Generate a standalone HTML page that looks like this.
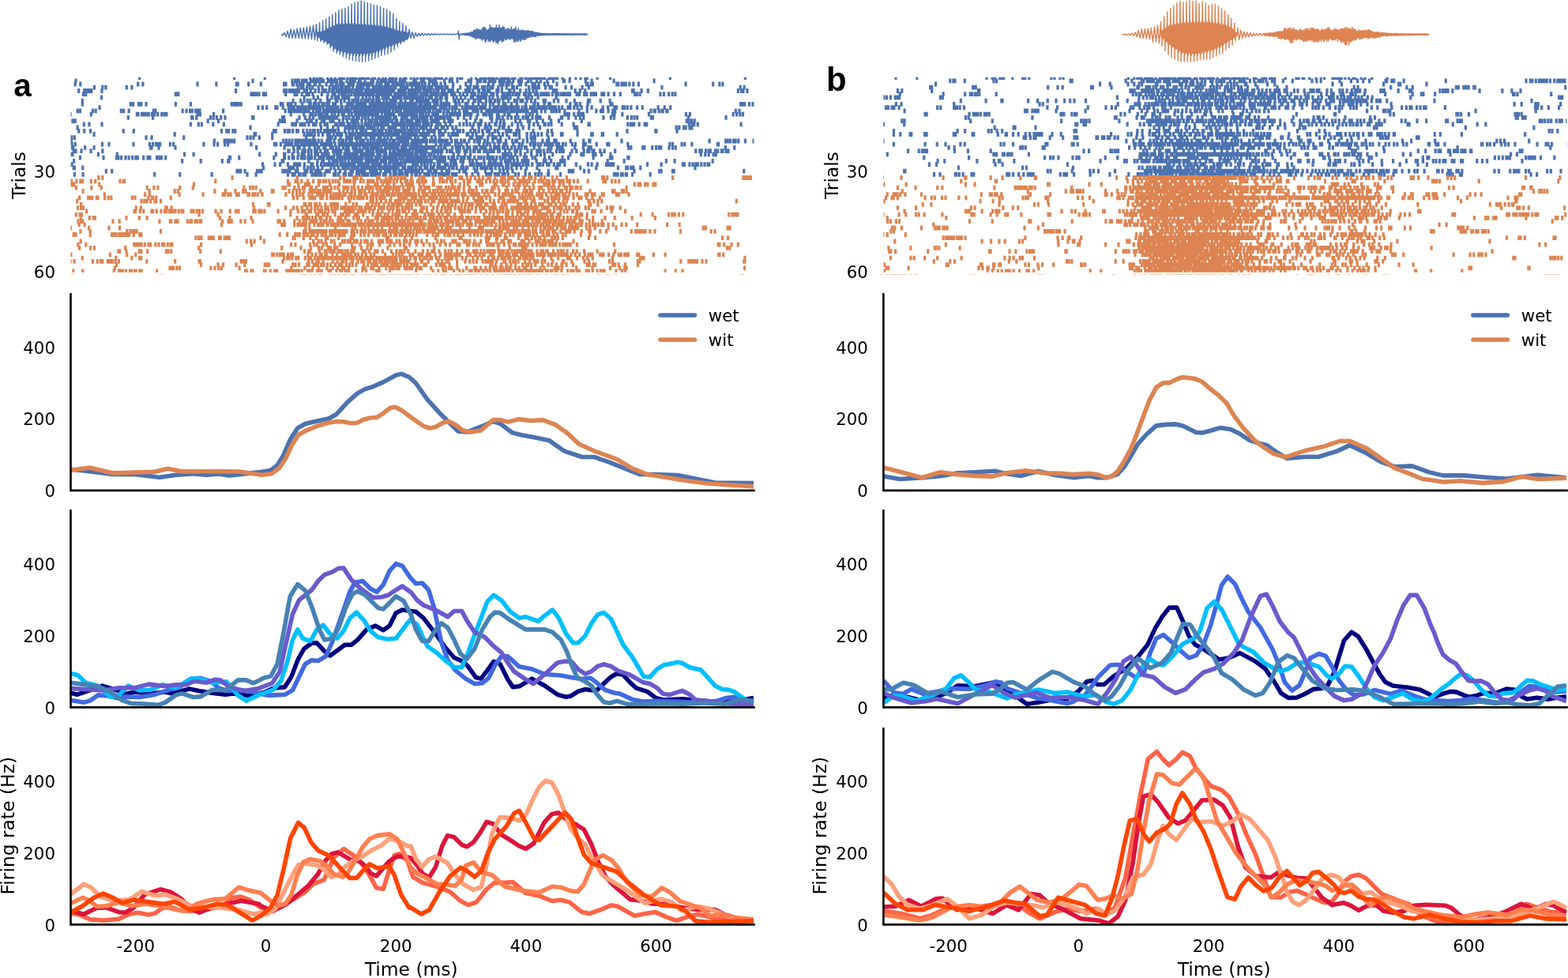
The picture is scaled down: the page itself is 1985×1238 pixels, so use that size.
<!DOCTYPE html><html><head><meta charset="utf-8"><title>Figure</title><style>html,body{margin:0;padding:0;background:#fff;}svg{display:block;}</style></head><body><svg width="1985" height="1238" viewBox="0 0 1985 1238"><defs><clipPath id="ca3"><rect x="89.5" y="369.4" width="865" height="251.5"/></clipPath><clipPath id="ca4"><rect x="89.5" y="643.4" width="865" height="252"/></clipPath><clipPath id="ca5"><rect x="89.5" y="919.2" width="865" height="251.2"/></clipPath><clipPath id="ra"><rect x="89.5" y="97.75" width="865" height="246.95"/></clipPath><clipPath id="cb3"><rect x="1118.4" y="369.4" width="865.1" height="251.5"/></clipPath><clipPath id="cb4"><rect x="1118.4" y="643.4" width="865.1" height="252"/></clipPath><clipPath id="cb5"><rect x="1118.4" y="919.2" width="865.1" height="251.2"/></clipPath><clipPath id="rb"><rect x="1118.4" y="97.75" width="865.1" height="246.95"/></clipPath></defs><rect width="100%" height="100%" fill="#fff"/><path d="M176.7 95.1v5.8M296.6 95.1v5.8M335.3 95.1v5.8M392.5 95.1v5.8M397.4 95.1v5.8M401.1 95.1v5.8M404.9 95.1v5.8M406.9 95.1v5.8M414.7 95.1v5.8M419.3 95.1v5.8M424.2 95.1v5.8M429.6 95.1v5.8M432 95.1v5.8M433.3 95.1v5.8M435.3 95.1v5.8M439.8 95.1v5.8M443.6 95.1v5.8M445.6 95.1v5.8M447.7 95.1v5.8M448.9 95.1v5.8M451 95.1v5.8M455.1 95.1v5.8M458 95.1v5.8M460.8 95.1v5.8M464.6 95.1v5.8M466.6 95.1v5.8M471.1 95.1v5.8M474.4 95.1v5.8M479.8 95.1v5.8M484.7 95.1v5.8M488.4 95.1v5.8M493.4 95.1v5.8M496.3 95.1v5.8M497.9 95.1v5.8M501.6 95.1v5.8M507 95.1v5.8M511.5 95.1v5.8M514 95.1v5.8M520.1 95.1v5.8M524.3 95.1v5.8M528.4 95.1v5.8M532.5 95.1v5.8M534.6 95.1v5.8M537.4 95.1v5.8M541.1 95.1v5.8M544.8 95.1v5.8M549.4 95.1v5.8M551.8 95.1v5.8M555.1 95.1v5.8M556.8 95.1v5.8M559.3 95.1v5.8M565 95.1v5.8M570 95.1v5.8M572.4 95.1v5.8M579 95.1v5.8M582.7 95.1v5.8M584.8 95.1v5.8M596.7 95.1v5.8M602.5 95.1v5.8M608.3 95.1v5.8M610.7 95.1v5.8M612.4 95.1v5.8M614.4 95.1v5.8M618.1 95.1v5.8M621 95.1v5.8M622.7 95.1v5.8M625.5 95.1v5.8M629.3 95.1v5.8M633.8 95.1v5.8M636.3 95.1v5.8M638.7 95.1v5.8M641.6 95.1v5.8M644.1 95.1v5.8M648.6 95.1v5.8M651.9 95.1v5.8M658.9 95.1v5.8M661 95.1v5.8M665.1 95.1v5.8M666.7 95.1v5.8M670.4 95.1v5.8M673.3 95.1v5.8M675.4 95.1v5.8M677 95.1v5.8M680.3 95.1v5.8M682.8 95.1v5.8M686.1 95.1v5.8M689.4 95.1v5.8M695.1 95.1v5.8M696.8 95.1v5.8M698.8 95.1v5.8M700.9 95.1v5.8M704.2 95.1v5.8M705.8 95.1v5.8M712 95.1v5.8M721.5 95.1v5.8M728.9 95.1v5.8M735.1 95.1v5.8M740.8 95.1v5.8M743.3 95.1v5.8M756.1 95.1v5.8M772.5 95.1v5.8M848.3 95.1v5.8M943.4 95.1v5.8M96 99.4v5.8M320 99.4v5.8M369.9 99.4v5.8M373.6 99.4v5.8M376 99.4v5.8M378.5 99.4v5.8M382.6 99.4v5.8M384.7 99.4v5.8M386.3 99.4v5.8M388 99.4v5.8M393.3 99.4v5.8M394.6 99.4v5.8M397.4 99.4v5.8M398.7 99.4v5.8M401.6 99.4v5.8M403.2 99.4v5.8M406.5 99.4v5.8M409.4 99.4v5.8M415.6 99.4v5.8M416.8 99.4v5.8M419.7 99.4v5.8M422.1 99.4v5.8M423.4 99.4v5.8M426.3 99.4v5.8M430.4 99.4v5.8M432.4 99.4v5.8M439 99.4v5.8M443.1 99.4v5.8M446.4 99.4v5.8M449.3 99.4v5.8M454.3 99.4v5.8M456.3 99.4v5.8M462.1 99.4v5.8M469.9 99.4v5.8M472.4 99.4v5.8M478.1 99.4v5.8M481.8 99.4v5.8M483.5 99.4v5.8M485.6 99.4v5.8M488.8 99.4v5.8M492.6 99.4v5.8M494.2 99.4v5.8M496.3 99.4v5.8M497.9 99.4v5.8M501.2 99.4v5.8M506.1 99.4v5.8M509.4 99.4v5.8M511.5 99.4v5.8M512.7 99.4v5.8M523.8 99.4v5.8M526.3 99.4v5.8M533.3 99.4v5.8M534.6 99.4v5.8M536.6 99.4v5.8M543.6 99.4v5.8M546.5 99.4v5.8M549.8 99.4v5.8M551.4 99.4v5.8M562.6 99.4v5.8M569.1 99.4v5.8M572.4 99.4v5.8M579 99.4v5.8M593 99.4v5.8M596.3 99.4v5.8M604.1 99.4v5.8M607 99.4v5.8M608.7 99.4v5.8M612.8 99.4v5.8M614.8 99.4v5.8M619.4 99.4v5.8M621.8 99.4v5.8M625.1 99.4v5.8M626.8 99.4v5.8M632.1 99.4v5.8M635 99.4v5.8M638.3 99.4v5.8M642.4 99.4v5.8M645.3 99.4v5.8M649.8 99.4v5.8M656.4 99.4v5.8M657.7 99.4v5.8M660.5 99.4v5.8M668.4 99.4v5.8M672.1 99.4v5.8M679.5 99.4v5.8M684.4 99.4v5.8M692.7 99.4v5.8M700.5 99.4v5.8M713.3 99.4v5.8M714.5 99.4v5.8M721.1 99.4v5.8M741.3 99.4v5.8M749.1 99.4v5.8M777.1 99.4v5.8M828.1 99.4v5.8M95.2 103.6v5.8M101.8 103.6v5.8M174.7 103.6v5.8M180.9 103.6v5.8M250 103.6v5.8M273.9 103.6v5.8M299.4 103.6v5.8M301.1 103.6v5.8M314.7 103.6v5.8M330.3 103.6v5.8M359.6 103.6v5.8M362 103.6v5.8M370.3 103.6v5.8M371.5 103.6v5.8M375.6 103.6v5.8M379.3 103.6v5.8M382.2 103.6v5.8M383.9 103.6v5.8M389.6 103.6v5.8M390.9 103.6v5.8M392.5 103.6v5.8M398.3 103.6v5.8M399.5 103.6v5.8M404.9 103.6v5.8M413.1 103.6v5.8M419.3 103.6v5.8M420.9 103.6v5.8M425.4 103.6v5.8M426.7 103.6v5.8M430.4 103.6v5.8M432.4 103.6v5.8M434.9 103.6v5.8M441.1 103.6v5.8M443.1 103.6v5.8M445.2 103.6v5.8M447.3 103.6v5.8M453 103.6v5.8M455.1 103.6v5.8M456.7 103.6v5.8M458 103.6v5.8M459.2 103.6v5.8M462.1 103.6v5.8M465 103.6v5.8M467.8 103.6v5.8M470.7 103.6v5.8M472 103.6v5.8M476.9 103.6v5.8M480.6 103.6v5.8M482.7 103.6v5.8M488 103.6v5.8M489.3 103.6v5.8M492.1 103.6v5.8M497.1 103.6v5.8M499.1 103.6v5.8M502 103.6v5.8M504.1 103.6v5.8M505.7 103.6v5.8M508.6 103.6v5.8M511.1 103.6v5.8M515.2 103.6v5.8M518.9 103.6v5.8M521.4 103.6v5.8M523.8 103.6v5.8M525.5 103.6v5.8M528 103.6v5.8M530.8 103.6v5.8M534.6 103.6v5.8M538.3 103.6v5.8M543.2 103.6v5.8M548.1 103.6v5.8M549.8 103.6v5.8M553.1 103.6v5.8M558 103.6v5.8M563.4 103.6v5.8M573.7 103.6v5.8M589.7 103.6v5.8M595.9 103.6v5.8M604.1 103.6v5.8M618.5 103.6v5.8M624.3 103.6v5.8M633 103.6v5.8M635.8 103.6v5.8M637.1 103.6v5.8M641.2 103.6v5.8M644.1 103.6v5.8M648.2 103.6v5.8M657.3 103.6v5.8M659.3 103.6v5.8M665.9 103.6v5.8M674.1 103.6v5.8M677.4 103.6v5.8M682 103.6v5.8M689.4 103.6v5.8M693.9 103.6v5.8M705 103.6v5.8M742.5 103.6v5.8M744.1 103.6v5.8M748.2 103.6v5.8M750.3 103.6v5.8M780.8 103.6v5.8M782.8 103.6v5.8M787 103.6v5.8M789.4 103.6v5.8M792.3 103.6v5.8M796.8 103.6v5.8M801.8 103.6v5.8M808.4 103.6v5.8M868.1 103.6v5.8M902.7 103.6v5.8M910.9 103.6v5.8M915 103.6v5.8M119.5 107.8v5.8M129.8 107.8v5.8M133.9 107.8v5.8M160.3 107.8v5.8M166.9 107.8v5.8M377.3 107.8v5.8M381 107.8v5.8M383.9 107.8v5.8M388.4 107.8v5.8M392.1 107.8v5.8M395.8 107.8v5.8M403.2 107.8v5.8M408.1 107.8v5.8M417.2 107.8v5.8M421.3 107.8v5.8M424.2 107.8v5.8M427.5 107.8v5.8M431.2 107.8v5.8M433.7 107.8v5.8M437.4 107.8v5.8M440.7 107.8v5.8M442.3 107.8v5.8M446.4 107.8v5.8M451.8 107.8v5.8M453 107.8v5.8M456.3 107.8v5.8M458.4 107.8v5.8M460 107.8v5.8M464.6 107.8v5.8M466.6 107.8v5.8M472.4 107.8v5.8M474 107.8v5.8M476.1 107.8v5.8M479.4 107.8v5.8M482.3 107.8v5.8M483.5 107.8v5.8M486.8 107.8v5.8M488.8 107.8v5.8M491.3 107.8v5.8M494.6 107.8v5.8M497.9 107.8v5.8M500.8 107.8v5.8M507.4 107.8v5.8M510.7 107.8v5.8M513.1 107.8v5.8M514.4 107.8v5.8M515.6 107.8v5.8M521.8 107.8v5.8M526.3 107.8v5.8M528.8 107.8v5.8M532.1 107.8v5.8M535.4 107.8v5.8M538.3 107.8v5.8M542 107.8v5.8M544.4 107.8v5.8M546.9 107.8v5.8M551.8 107.8v5.8M554.7 107.8v5.8M557.2 107.8v5.8M560.1 107.8v5.8M563.8 107.8v5.8M566.3 107.8v5.8M573.3 107.8v5.8M582.7 107.8v5.8M591.8 107.8v5.8M595.1 107.8v5.8M600 107.8v5.8M602.1 107.8v5.8M605 107.8v5.8M610.3 107.8v5.8M613.6 107.8v5.8M617.3 107.8v5.8M621 107.8v5.8M623.9 107.8v5.8M630.9 107.8v5.8M635.4 107.8v5.8M641.2 107.8v5.8M648.6 107.8v5.8M650.3 107.8v5.8M654.4 107.8v5.8M669.6 107.8v5.8M674.1 107.8v5.8M676.6 107.8v5.8M677.8 107.8v5.8M681.1 107.8v5.8M682.4 107.8v5.8M690.6 107.8v5.8M696 107.8v5.8M698.4 107.8v5.8M716.1 107.8v5.8M723.5 107.8v5.8M737.1 107.8v5.8M745.4 107.8v5.8M838 107.8v5.8M937.2 107.8v5.8M942.2 107.8v5.8M99.7 112.1v5.8M106.7 112.1v5.8M108.4 112.1v5.8M110.9 112.1v5.8M113.7 112.1v5.8M115.8 112.1v5.8M129 112.1v5.8M298.6 112.1v5.8M359.6 112.1v5.8M362.4 112.1v5.8M366.1 112.1v5.8M368.2 112.1v5.8M370.3 112.1v5.8M373.1 112.1v5.8M376.4 112.1v5.8M378.5 112.1v5.8M385.1 112.1v5.8M388.4 112.1v5.8M393.3 112.1v5.8M399.1 112.1v5.8M403.6 112.1v5.8M408.1 112.1v5.8M410.2 112.1v5.8M412.7 112.1v5.8M416.8 112.1v5.8M420.5 112.1v5.8M422.6 112.1v5.8M426.3 112.1v5.8M428.3 112.1v5.8M431.2 112.1v5.8M433.7 112.1v5.8M435.3 112.1v5.8M438.2 112.1v5.8M440.3 112.1v5.8M441.5 112.1v5.8M443.1 112.1v5.8M445.6 112.1v5.8M449.3 112.1v5.8M452.2 112.1v5.8M453.8 112.1v5.8M455.5 112.1v5.8M458.4 112.1v5.8M462.5 112.1v5.8M464.6 112.1v5.8M465.8 112.1v5.8M467.8 112.1v5.8M471.1 112.1v5.8M472.4 112.1v5.8M475.3 112.1v5.8M478.1 112.1v5.8M481 112.1v5.8M483.5 112.1v5.8M485.1 112.1v5.8M486.8 112.1v5.8M488.4 112.1v5.8M490.5 112.1v5.8M492.1 112.1v5.8M493.8 112.1v5.8M495.8 112.1v5.8M498.7 112.1v5.8M504.5 112.1v5.8M506.6 112.1v5.8M509.8 112.1v5.8M511.5 112.1v5.8M513.1 112.1v5.8M517.3 112.1v5.8M519.3 112.1v5.8M520.6 112.1v5.8M521.8 112.1v5.8M523 112.1v5.8M525.5 112.1v5.8M528.8 112.1v5.8M530.8 112.1v5.8M532.1 112.1v5.8M536.2 112.1v5.8M538.7 112.1v5.8M541.6 112.1v5.8M543.6 112.1v5.8M545.3 112.1v5.8M549 112.1v5.8M552.7 112.1v5.8M555.1 112.1v5.8M559.7 112.1v5.8M563 112.1v5.8M567.9 112.1v5.8M570.8 112.1v5.8M573.3 112.1v5.8M579.4 112.1v5.8M589.3 112.1v5.8M591.8 112.1v5.8M594.7 112.1v5.8M598.8 112.1v5.8M605.4 112.1v5.8M606.6 112.1v5.8M611.5 112.1v5.8M613.6 112.1v5.8M617.3 112.1v5.8M619.8 112.1v5.8M628.8 112.1v5.8M630.9 112.1v5.8M635.4 112.1v5.8M644.5 112.1v5.8M646.1 112.1v5.8M650.7 112.1v5.8M658.5 112.1v5.8M665.9 112.1v5.8M670 112.1v5.8M675 112.1v5.8M679.1 112.1v5.8M700.5 112.1v5.8M701.7 112.1v5.8M704.6 112.1v5.8M728.1 112.1v5.8M734.3 112.1v5.8M740.8 112.1v5.8M800.5 112.1v5.8M802.2 112.1v5.8M812.1 112.1v5.8M820.3 112.1v5.8M934.4 112.1v5.8M938.5 112.1v5.8M940.9 112.1v5.8M945.9 112.1v5.8M105.5 116.3v5.8M108.8 116.3v5.8M222.4 116.3v5.8M224.1 116.3v5.8M225.7 116.3v5.8M318 116.3v5.8M320.9 116.3v5.8M322.9 116.3v5.8M324.6 116.3v5.8M327.9 116.3v5.8M333.6 116.3v5.8M336.5 116.3v5.8M361.6 116.3v5.8M373.1 116.3v5.8M376 116.3v5.8M382.2 116.3v5.8M388 116.3v5.8M390 116.3v5.8M391.3 116.3v5.8M395.8 116.3v5.8M407.3 116.3v5.8M415.1 116.3v5.8M421.3 116.3v5.8M424.2 116.3v5.8M429.1 116.3v5.8M432.8 116.3v5.8M435.3 116.3v5.8M437.4 116.3v5.8M441.1 116.3v5.8M444.8 116.3v5.8M448.5 116.3v5.8M451.4 116.3v5.8M453.4 116.3v5.8M455.1 116.3v5.8M456.3 116.3v5.8M459.2 116.3v5.8M461.7 116.3v5.8M464.6 116.3v5.8M467 116.3v5.8M468.3 116.3v5.8M470.7 116.3v5.8M472 116.3v5.8M473.2 116.3v5.8M476.9 116.3v5.8M479 116.3v5.8M480.6 116.3v5.8M483.1 116.3v5.8M484.7 116.3v5.8M486 116.3v5.8M488.4 116.3v5.8M490.1 116.3v5.8M491.7 116.3v5.8M495 116.3v5.8M499.6 116.3v5.8M501.6 116.3v5.8M504.5 116.3v5.8M505.7 116.3v5.8M507 116.3v5.8M509.4 116.3v5.8M511.9 116.3v5.8M514 116.3v5.8M517.7 116.3v5.8M520.6 116.3v5.8M522.2 116.3v5.8M523.8 116.3v5.8M525.5 116.3v5.8M528.4 116.3v5.8M532.5 116.3v5.8M535.8 116.3v5.8M538.3 116.3v5.8M541.1 116.3v5.8M545.3 116.3v5.8M548.1 116.3v5.8M550.6 116.3v5.8M551.8 116.3v5.8M555.1 116.3v5.8M558.8 116.3v5.8M561.3 116.3v5.8M563.8 116.3v5.8M565.8 116.3v5.8M571.6 116.3v5.8M574.1 116.3v5.8M575.7 116.3v5.8M582.3 116.3v5.8M586.4 116.3v5.8M591.4 116.3v5.8M597.1 116.3v5.8M600 116.3v5.8M601.3 116.3v5.8M605.8 116.3v5.8M609.9 116.3v5.8M612.8 116.3v5.8M614.4 116.3v5.8M616.1 116.3v5.8M621.8 116.3v5.8M624.7 116.3v5.8M629.3 116.3v5.8M636.3 116.3v5.8M639.1 116.3v5.8M642.4 116.3v5.8M645.3 116.3v5.8M649 116.3v5.8M652.7 116.3v5.8M654.4 116.3v5.8M657.3 116.3v5.8M663.4 116.3v5.8M665.5 116.3v5.8M669.2 116.3v5.8M671.7 116.3v5.8M677.4 116.3v5.8M679.5 116.3v5.8M680.7 116.3v5.8M684.8 116.3v5.8M686.5 116.3v5.8M689 116.3v5.8M691.4 116.3v5.8M694.7 116.3v5.8M699.3 116.3v5.8M703.8 116.3v5.8M705.4 116.3v5.8M706.7 116.3v5.8M710.4 116.3v5.8M713.3 116.3v5.8M716.1 116.3v5.8M719.4 116.3v5.8M721.5 116.3v5.8M730.1 116.3v5.8M733.4 116.3v5.8M739.6 116.3v5.8M742.9 116.3v5.8M748.2 116.3v5.8M751.5 116.3v5.8M754.4 116.3v5.8M761.8 116.3v5.8M764.7 116.3v5.8M770.1 116.3v5.8M777.5 116.3v5.8M785.3 116.3v5.8M803.4 116.3v5.8M806.3 116.3v5.8M810 116.3v5.8M836 116.3v5.8M840.5 116.3v5.8M846.7 116.3v5.8M851.2 116.3v5.8M854.9 116.3v5.8M128.6 120.5v5.8M385.1 120.5v5.8M397 120.5v5.8M402.4 120.5v5.8M414.3 120.5v5.8M420.1 120.5v5.8M424.2 120.5v5.8M427.5 120.5v5.8M428.7 120.5v5.8M433.7 120.5v5.8M435.3 120.5v5.8M437.4 120.5v5.8M439.4 120.5v5.8M441.9 120.5v5.8M450.1 120.5v5.8M453.8 120.5v5.8M459.2 120.5v5.8M463.7 120.5v5.8M467.8 120.5v5.8M472.4 120.5v5.8M476.5 120.5v5.8M479.4 120.5v5.8M484.3 120.5v5.8M487.6 120.5v5.8M490.1 120.5v5.8M491.7 120.5v5.8M497.5 120.5v5.8M500.4 120.5v5.8M503.3 120.5v5.8M505.3 120.5v5.8M507.8 120.5v5.8M511.9 120.5v5.8M514.8 120.5v5.8M516.8 120.5v5.8M518.9 120.5v5.8M521 120.5v5.8M523.8 120.5v5.8M525.5 120.5v5.8M528 120.5v5.8M530 120.5v5.8M532.1 120.5v5.8M535.4 120.5v5.8M539.1 120.5v5.8M543.2 120.5v5.8M546.5 120.5v5.8M551.8 120.5v5.8M553.1 120.5v5.8M557.2 120.5v5.8M559.3 120.5v5.8M564.2 120.5v5.8M565.8 120.5v5.8M574.1 120.5v5.8M578.2 120.5v5.8M583.5 120.5v5.8M588.9 120.5v5.8M596.3 120.5v5.8M598.8 120.5v5.8M604.5 120.5v5.8M607.8 120.5v5.8M610.7 120.5v5.8M613.6 120.5v5.8M615.3 120.5v5.8M619.8 120.5v5.8M623.9 120.5v5.8M630.1 120.5v5.8M635.4 120.5v5.8M637.9 120.5v5.8M640 120.5v5.8M642.4 120.5v5.8M646.1 120.5v5.8M656 120.5v5.8M665.9 120.5v5.8M669.2 120.5v5.8M673.3 120.5v5.8M681.1 120.5v5.8M704.2 120.5v5.8M104.3 124.8v5.8M371.1 124.8v5.8M380.6 124.8v5.8M385.1 124.8v5.8M389.2 124.8v5.8M392.9 124.8v5.8M399.5 124.8v5.8M405.7 124.8v5.8M414.7 124.8v5.8M417.2 124.8v5.8M425.4 124.8v5.8M427.1 124.8v5.8M431.6 124.8v5.8M436.1 124.8v5.8M441.9 124.8v5.8M446 124.8v5.8M447.7 124.8v5.8M451 124.8v5.8M453.8 124.8v5.8M457.6 124.8v5.8M461.3 124.8v5.8M464.6 124.8v5.8M467 124.8v5.8M470.7 124.8v5.8M472.4 124.8v5.8M476.1 124.8v5.8M478.6 124.8v5.8M480.6 124.8v5.8M486 124.8v5.8M489.7 124.8v5.8M493.8 124.8v5.8M495 124.8v5.8M497.1 124.8v5.8M499.1 124.8v5.8M501.2 124.8v5.8M507 124.8v5.8M508.2 124.8v5.8M513.1 124.8v5.8M519.7 124.8v5.8M522.2 124.8v5.8M527.6 124.8v5.8M530.8 124.8v5.8M533.7 124.8v5.8M535.8 124.8v5.8M538.3 124.8v5.8M541.1 124.8v5.8M542.4 124.8v5.8M548.1 124.8v5.8M551 124.8v5.8M553.9 124.8v5.8M558 124.8v5.8M565.4 124.8v5.8M574.9 124.8v5.8M576.6 124.8v5.8M580.7 124.8v5.8M585.6 124.8v5.8M593 124.8v5.8M600 124.8v5.8M601.7 124.8v5.8M605.8 124.8v5.8M608.3 124.8v5.8M615.3 124.8v5.8M619.8 124.8v5.8M621.8 124.8v5.8M626.4 124.8v5.8M630.1 124.8v5.8M632.1 124.8v5.8M637.1 124.8v5.8M643.7 124.8v5.8M651.1 124.8v5.8M654.4 124.8v5.8M658.9 124.8v5.8M661.8 124.8v5.8M667.1 124.8v5.8M672.5 124.8v5.8M677.4 124.8v5.8M688.1 124.8v5.8M690.6 124.8v5.8M701.3 124.8v5.8M706.7 124.8v5.8M717 124.8v5.8M727.3 124.8v5.8M744.5 124.8v5.8M746.6 124.8v5.8M760.2 124.8v5.8M772.1 124.8v5.8M104.3 129v5.8M165.2 129v5.8M168.5 129v5.8M175.5 129v5.8M178.8 129v5.8M185 129v5.8M222.4 129v5.8M241.4 129v5.8M293.3 129v5.8M296.6 129v5.8M298.6 129v5.8M299.9 129v5.8M301.9 129v5.8M305.2 129v5.8M355.4 129v5.8M356.7 129v5.8M357.9 129v5.8M364.5 129v5.8M365.7 129v5.8M369 129v5.8M374 129v5.8M382.6 129v5.8M391.7 129v5.8M393.3 129v5.8M397.4 129v5.8M399.9 129v5.8M403.6 129v5.8M408.1 129v5.8M410.2 129v5.8M413.9 129v5.8M416.4 129v5.8M421.7 129v5.8M424.6 129v5.8M432 129v5.8M439.8 129v5.8M441.1 129v5.8M443.6 129v5.8M446.8 129v5.8M451 129v5.8M453.8 129v5.8M456.7 129v5.8M459.6 129v5.8M462.5 129v5.8M468.3 129v5.8M471.1 129v5.8M473.2 129v5.8M476.1 129v5.8M478.1 129v5.8M481 129v5.8M482.3 129v5.8M484.3 129v5.8M486.4 129v5.8M489.3 129v5.8M490.5 129v5.8M493.4 129v5.8M495.8 129v5.8M497.5 129v5.8M498.7 129v5.8M500.8 129v5.8M504.9 129v5.8M507 129v5.8M510.3 129v5.8M512.7 129v5.8M515.2 129v5.8M517.7 129v5.8M519.7 129v5.8M521.4 129v5.8M524.7 129v5.8M527.1 129v5.8M531.3 129v5.8M534.1 129v5.8M537.8 129v5.8M540.7 129v5.8M543.2 129v5.8M544.4 129v5.8M549.8 129v5.8M551.8 129v5.8M553.9 129v5.8M558 129v5.8M561.3 129v5.8M563.8 129v5.8M565.8 129v5.8M568.7 129v5.8M576.6 129v5.8M577.8 129v5.8M581.9 129v5.8M589.3 129v5.8M591.8 129v5.8M598.8 129v5.8M605.8 129v5.8M611.1 129v5.8M614.8 129v5.8M620.6 129v5.8M624.3 129v5.8M631.3 129v5.8M637.1 129v5.8M640 129v5.8M647.4 129v5.8M654.4 129v5.8M665.5 129v5.8M675.8 129v5.8M677 129v5.8M681.1 129v5.8M689 129v5.8M694.7 129v5.8M696.4 129v5.8M721.9 129v5.8M728.5 129v5.8M730.1 129v5.8M734.3 129v5.8M744.1 129v5.8M773 129v5.8M775 129v5.8M937.7 129v5.8M940.1 129v5.8M942.6 129v5.8M948.4 129v5.8M952.9 129v5.8M956.2 129v5.8M126.1 133.2v5.8M327 133.2v5.8M332.4 133.2v5.8M337.7 133.2v5.8M348.9 133.2v5.8M350.9 133.2v5.8M358.3 133.2v5.8M365.3 133.2v5.8M368.6 133.2v5.8M370.7 133.2v5.8M372.3 133.2v5.8M376.4 133.2v5.8M378.9 133.2v5.8M381 133.2v5.8M384.3 133.2v5.8M385.5 133.2v5.8M388 133.2v5.8M391.3 133.2v5.8M393.7 133.2v5.8M395.4 133.2v5.8M397.9 133.2v5.8M399.1 133.2v5.8M401.6 133.2v5.8M403.6 133.2v5.8M405.7 133.2v5.8M409.4 133.2v5.8M413.5 133.2v5.8M416.8 133.2v5.8M419.3 133.2v5.8M421.3 133.2v5.8M423.4 133.2v5.8M425 133.2v5.8M427.9 133.2v5.8M432 133.2v5.8M433.3 133.2v5.8M437.4 133.2v5.8M439 133.2v5.8M441.1 133.2v5.8M444.8 133.2v5.8M446.4 133.2v5.8M448.5 133.2v5.8M450.6 133.2v5.8M453 133.2v5.8M456.3 133.2v5.8M457.6 133.2v5.8M459.2 133.2v5.8M460.8 133.2v5.8M462.1 133.2v5.8M464.6 133.2v5.8M467 133.2v5.8M468.7 133.2v5.8M472 133.2v5.8M473.2 133.2v5.8M474.8 133.2v5.8M477.3 133.2v5.8M479.4 133.2v5.8M482.7 133.2v5.8M485.1 133.2v5.8M487.2 133.2v5.8M488.8 133.2v5.8M490.5 133.2v5.8M491.7 133.2v5.8M493 133.2v5.8M495.4 133.2v5.8M497.1 133.2v5.8M499.6 133.2v5.8M501.2 133.2v5.8M504.1 133.2v5.8M505.3 133.2v5.8M507.4 133.2v5.8M509 133.2v5.8M511.1 133.2v5.8M513.6 133.2v5.8M514.8 133.2v5.8M516.8 133.2v5.8M518.5 133.2v5.8M519.7 133.2v5.8M521 133.2v5.8M522.2 133.2v5.8M524.3 133.2v5.8M525.9 133.2v5.8M528.4 133.2v5.8M529.6 133.2v5.8M530.8 133.2v5.8M532.9 133.2v5.8M534.1 133.2v5.8M536.6 133.2v5.8M537.8 133.2v5.8M539.9 133.2v5.8M541.6 133.2v5.8M544.4 133.2v5.8M545.7 133.2v5.8M547.7 133.2v5.8M549 133.2v5.8M551.8 133.2v5.8M557.2 133.2v5.8M559.7 133.2v5.8M560.9 133.2v5.8M562.6 133.2v5.8M565 133.2v5.8M569.1 133.2v5.8M572.8 133.2v5.8M576.1 133.2v5.8M578.2 133.2v5.8M585.2 133.2v5.8M588.9 133.2v5.8M590.5 133.2v5.8M593.8 133.2v5.8M596.3 133.2v5.8M598 133.2v5.8M600.4 133.2v5.8M602.1 133.2v5.8M603.7 133.2v5.8M607.8 133.2v5.8M610.3 133.2v5.8M612.8 133.2v5.8M614.4 133.2v5.8M620.2 133.2v5.8M625.1 133.2v5.8M628 133.2v5.8M630.5 133.2v5.8M634.2 133.2v5.8M635.8 133.2v5.8M637.9 133.2v5.8M640.8 133.2v5.8M642.4 133.2v5.8M645.7 133.2v5.8M647.4 133.2v5.8M649.8 133.2v5.8M653.1 133.2v5.8M656.4 133.2v5.8M661 133.2v5.8M664.7 133.2v5.8M666.3 133.2v5.8M671.3 133.2v5.8M673.7 133.2v5.8M677 133.2v5.8M680.7 133.2v5.8M683.2 133.2v5.8M685.3 133.2v5.8M686.9 133.2v5.8M689 133.2v5.8M691.4 133.2v5.8M695.1 133.2v5.8M698 133.2v5.8M700.9 133.2v5.8M703.4 133.2v5.8M707.5 133.2v5.8M711.6 133.2v5.8M719 133.2v5.8M721.9 133.2v5.8M726.8 133.2v5.8M731 133.2v5.8M736.3 133.2v5.8M743.3 133.2v5.8M749.1 133.2v5.8M763.1 133.2v5.8M769.7 133.2v5.8M777.9 133.2v5.8M780.4 133.2v5.8M788.2 133.2v5.8M789.4 133.2v5.8M790.7 133.2v5.8M794.4 133.2v5.8M798.9 133.2v5.8M806.7 133.2v5.8M813.3 133.2v5.8M833.1 133.2v5.8M841.3 133.2v5.8M848.7 133.2v5.8M98.1 137.5v5.8M101.4 137.5v5.8M117.4 137.5v5.8M121.2 137.5v5.8M153.3 137.5v5.8M156.6 137.5v5.8M163.2 137.5v5.8M194.4 137.5v5.8M196.9 137.5v5.8M231.1 137.5v5.8M236 137.5v5.8M240.6 137.5v5.8M243.4 137.5v5.8M247.6 137.5v5.8M250 137.5v5.8M252.9 137.5v5.8M282.6 137.5v5.8M361.2 137.5v5.8M365.7 137.5v5.8M368.6 137.5v5.8M371.9 137.5v5.8M373.6 137.5v5.8M375.6 137.5v5.8M376.9 137.5v5.8M378.9 137.5v5.8M380.6 137.5v5.8M382.2 137.5v5.8M385.5 137.5v5.8M388 137.5v5.8M391.3 137.5v5.8M396.6 137.5v5.8M400.7 137.5v5.8M403.2 137.5v5.8M405.3 137.5v5.8M409.4 137.5v5.8M411.4 137.5v5.8M413.9 137.5v5.8M417.2 137.5v5.8M420.1 137.5v5.8M422.1 137.5v5.8M423.8 137.5v5.8M425.4 137.5v5.8M427.9 137.5v5.8M430.8 137.5v5.8M433.3 137.5v5.8M436.6 137.5v5.8M438.6 137.5v5.8M440.3 137.5v5.8M442.7 137.5v5.8M444 137.5v5.8M448.1 137.5v5.8M449.3 137.5v5.8M451 137.5v5.8M452.2 137.5v5.8M454.7 137.5v5.8M456.7 137.5v5.8M458.4 137.5v5.8M460.4 137.5v5.8M463.3 137.5v5.8M465 137.5v5.8M467.4 137.5v5.8M469.1 137.5v5.8M470.7 137.5v5.8M472.8 137.5v5.8M474.4 137.5v5.8M476.1 137.5v5.8M479.4 137.5v5.8M481.8 137.5v5.8M483.1 137.5v5.8M486.4 137.5v5.8M488 137.5v5.8M490.1 137.5v5.8M491.3 137.5v5.8M493.4 137.5v5.8M497.5 137.5v5.8M501.2 137.5v5.8M504.1 137.5v5.8M507.4 137.5v5.8M511.9 137.5v5.8M514.4 137.5v5.8M515.6 137.5v5.8M517.3 137.5v5.8M519.3 137.5v5.8M522.6 137.5v5.8M525.1 137.5v5.8M528 137.5v5.8M530 137.5v5.8M532.9 137.5v5.8M534.6 137.5v5.8M535.8 137.5v5.8M538.7 137.5v5.8M542.4 137.5v5.8M544.4 137.5v5.8M548.6 137.5v5.8M552.3 137.5v5.8M553.9 137.5v5.8M555.1 137.5v5.8M556.8 137.5v5.8M558 137.5v5.8M562.1 137.5v5.8M565.8 137.5v5.8M567.9 137.5v5.8M572.8 137.5v5.8M576.6 137.5v5.8M581.5 137.5v5.8M587.3 137.5v5.8M589.7 137.5v5.8M591.4 137.5v5.8M598.8 137.5v5.8M602.1 137.5v5.8M605 137.5v5.8M609.5 137.5v5.8M615.7 137.5v5.8M618.1 137.5v5.8M621 137.5v5.8M624.3 137.5v5.8M626.4 137.5v5.8M628.4 137.5v5.8M631.7 137.5v5.8M634.6 137.5v5.8M637.1 137.5v5.8M639.5 137.5v5.8M642.8 137.5v5.8M646.5 137.5v5.8M648.6 137.5v5.8M651.1 137.5v5.8M654.4 137.5v5.8M656.8 137.5v5.8M659.3 137.5v5.8M662.6 137.5v5.8M665.9 137.5v5.8M668 137.5v5.8M673.7 137.5v5.8M677 137.5v5.8M679.5 137.5v5.8M685.3 137.5v5.8M690.2 137.5v5.8M698 137.5v5.8M701.3 137.5v5.8M704.6 137.5v5.8M708.3 137.5v5.8M714.9 137.5v5.8M733 137.5v5.8M743.3 137.5v5.8M754.8 137.5v5.8M760.6 137.5v5.8M763.5 137.5v5.8M770.1 137.5v5.8M775.8 137.5v5.8M778.7 137.5v5.8M824 137.5v5.8M828.1 137.5v5.8M829.4 137.5v5.8M834.3 137.5v5.8M838 137.5v5.8M839.2 137.5v5.8M843.8 137.5v5.8M845 137.5v5.8M931.5 137.5v5.8M936 137.5v5.8M85.3 141.7v5.8M89 141.7v5.8M115.4 141.7v5.8M173.4 141.7v5.8M175.1 141.7v5.8M179.6 141.7v5.8M182.1 141.7v5.8M185 141.7v5.8M186.6 141.7v5.8M188.3 141.7v5.8M192.4 141.7v5.8M195.7 141.7v5.8M199.8 141.7v5.8M204.7 141.7v5.8M208 141.7v5.8M210.9 141.7v5.8M250 141.7v5.8M253.3 141.7v5.8M270.6 141.7v5.8M368.2 141.7v5.8M384.7 141.7v5.8M392.9 141.7v5.8M395.8 141.7v5.8M399.5 141.7v5.8M403.2 141.7v5.8M405.7 141.7v5.8M409 141.7v5.8M412.7 141.7v5.8M414.3 141.7v5.8M420.1 141.7v5.8M423.8 141.7v5.8M428.7 141.7v5.8M433.3 141.7v5.8M435.3 141.7v5.8M441.5 141.7v5.8M445.2 141.7v5.8M449.7 141.7v5.8M451 141.7v5.8M454.3 141.7v5.8M455.9 141.7v5.8M458.4 141.7v5.8M460.8 141.7v5.8M462.1 141.7v5.8M464.1 141.7v5.8M467.4 141.7v5.8M468.7 141.7v5.8M470.3 141.7v5.8M472.4 141.7v5.8M474.4 141.7v5.8M477.3 141.7v5.8M478.6 141.7v5.8M483.5 141.7v5.8M487.6 141.7v5.8M488.8 141.7v5.8M490.5 141.7v5.8M492.6 141.7v5.8M495.8 141.7v5.8M498.7 141.7v5.8M505.3 141.7v5.8M508.6 141.7v5.8M511.1 141.7v5.8M512.3 141.7v5.8M515.6 141.7v5.8M517.3 141.7v5.8M518.9 141.7v5.8M520.6 141.7v5.8M521.8 141.7v5.8M524.3 141.7v5.8M525.9 141.7v5.8M527.6 141.7v5.8M531.7 141.7v5.8M533.3 141.7v5.8M535.4 141.7v5.8M539.1 141.7v5.8M542.8 141.7v5.8M547.7 141.7v5.8M550.6 141.7v5.8M552.7 141.7v5.8M554.3 141.7v5.8M561.7 141.7v5.8M565.8 141.7v5.8M569.6 141.7v5.8M571.6 141.7v5.8M574.9 141.7v5.8M578.2 141.7v5.8M580.3 141.7v5.8M582.3 141.7v5.8M587.7 141.7v5.8M590.5 141.7v5.8M592.6 141.7v5.8M594.3 141.7v5.8M596.7 141.7v5.8M605 141.7v5.8M612 141.7v5.8M613.6 141.7v5.8M615.7 141.7v5.8M619.4 141.7v5.8M622.7 141.7v5.8M629.3 141.7v5.8M630.9 141.7v5.8M638.7 141.7v5.8M643.3 141.7v5.8M644.9 141.7v5.8M654.4 141.7v5.8M666.3 141.7v5.8M670.4 141.7v5.8M674.1 141.7v5.8M679.9 141.7v5.8M714.9 141.7v5.8M718.2 141.7v5.8M720.3 141.7v5.8M726.8 141.7v5.8M731.8 141.7v5.8M733 141.7v5.8M736.3 141.7v5.8M738.4 141.7v5.8M775.4 141.7v5.8M777.9 141.7v5.8M787.8 141.7v5.8M821.5 141.7v5.8M868.5 141.7v5.8M873.4 141.7v5.8M928.2 141.7v5.8M932.7 141.7v5.8M936.8 141.7v5.8M940.5 141.7v5.8M958.2 141.7v5.8M162.3 145.9v5.8M193.6 145.9v5.8M242.6 145.9v5.8M243.9 145.9v5.8M248.8 145.9v5.8M266.5 145.9v5.8M270.2 145.9v5.8M274.3 145.9v5.8M279.7 145.9v5.8M285 145.9v5.8M319.6 145.9v5.8M320.9 145.9v5.8M357.5 145.9v5.8M359.6 145.9v5.8M378.9 145.9v5.8M386.3 145.9v5.8M392.1 145.9v5.8M396.6 145.9v5.8M404.4 145.9v5.8M406.5 145.9v5.8M408.1 145.9v5.8M411 145.9v5.8M413.9 145.9v5.8M416.8 145.9v5.8M420.1 145.9v5.8M421.7 145.9v5.8M423.4 145.9v5.8M425 145.9v5.8M426.7 145.9v5.8M434.5 145.9v5.8M438.2 145.9v5.8M441.9 145.9v5.8M446.4 145.9v5.8M447.7 145.9v5.8M451.8 145.9v5.8M454.3 145.9v5.8M458.8 145.9v5.8M462.5 145.9v5.8M466.2 145.9v5.8M471.6 145.9v5.8M475.7 145.9v5.8M477.7 145.9v5.8M480.2 145.9v5.8M482.3 145.9v5.8M485.1 145.9v5.8M488.4 145.9v5.8M490.9 145.9v5.8M492.1 145.9v5.8M494.2 145.9v5.8M498.7 145.9v5.8M501.2 145.9v5.8M508.6 145.9v5.8M511.9 145.9v5.8M515.2 145.9v5.8M521 145.9v5.8M523.4 145.9v5.8M524.7 145.9v5.8M528 145.9v5.8M531.7 145.9v5.8M533.3 145.9v5.8M534.6 145.9v5.8M536.6 145.9v5.8M539.5 145.9v5.8M540.7 145.9v5.8M545.3 145.9v5.8M546.5 145.9v5.8M551 145.9v5.8M553.5 145.9v5.8M556.8 145.9v5.8M559.7 145.9v5.8M563 145.9v5.8M566.7 145.9v5.8M570 145.9v5.8M579.8 145.9v5.8M587.3 145.9v5.8M595.5 145.9v5.8M603.3 145.9v5.8M620.6 145.9v5.8M622.7 145.9v5.8M629.3 145.9v5.8M632.1 145.9v5.8M636.3 145.9v5.8M642.8 145.9v5.8M647.4 145.9v5.8M652.3 145.9v5.8M656 145.9v5.8M662.2 145.9v5.8M665.9 145.9v5.8M668.4 145.9v5.8M674.1 145.9v5.8M678.7 145.9v5.8M681.5 145.9v5.8M684 145.9v5.8M695.5 145.9v5.8M710.4 145.9v5.8M711.6 145.9v5.8M719.8 145.9v5.8M728.9 145.9v5.8M734.3 145.9v5.8M738.8 145.9v5.8M763.9 145.9v5.8M773.4 145.9v5.8M777.5 145.9v5.8M794.4 145.9v5.8M799.3 145.9v5.8M803 145.9v5.8M806.7 145.9v5.8M824.4 145.9v5.8M826.5 145.9v5.8M871.4 145.9v5.8M919.1 145.9v5.8M91.9 150.2v5.8M94 150.2v5.8M95.2 150.2v5.8M263.2 150.2v5.8M276.4 150.2v5.8M354.2 150.2v5.8M357.5 150.2v5.8M360.4 150.2v5.8M376 150.2v5.8M388.8 150.2v5.8M392.5 150.2v5.8M394.6 150.2v5.8M400.7 150.2v5.8M407.3 150.2v5.8M410.6 150.2v5.8M418 150.2v5.8M420.5 150.2v5.8M422.1 150.2v5.8M429.6 150.2v5.8M434.1 150.2v5.8M439.4 150.2v5.8M445.2 150.2v5.8M446.4 150.2v5.8M449.3 150.2v5.8M452.6 150.2v5.8M458 150.2v5.8M462.9 150.2v5.8M467 150.2v5.8M468.7 150.2v5.8M469.9 150.2v5.8M471.1 150.2v5.8M474.8 150.2v5.8M477.3 150.2v5.8M481.4 150.2v5.8M483.9 150.2v5.8M485.6 150.2v5.8M488.8 150.2v5.8M490.9 150.2v5.8M494.2 150.2v5.8M496.7 150.2v5.8M500.8 150.2v5.8M502.8 150.2v5.8M507.8 150.2v5.8M510.3 150.2v5.8M514 150.2v5.8M516 150.2v5.8M518.1 150.2v5.8M520.6 150.2v5.8M521.8 150.2v5.8M526.7 150.2v5.8M529.2 150.2v5.8M531.3 150.2v5.8M535 150.2v5.8M536.6 150.2v5.8M539.5 150.2v5.8M541.1 150.2v5.8M546.1 150.2v5.8M547.7 150.2v5.8M550.2 150.2v5.8M553.1 150.2v5.8M555.1 150.2v5.8M562.6 150.2v5.8M567.9 150.2v5.8M570.4 150.2v5.8M572.8 150.2v5.8M590.5 150.2v5.8M601.7 150.2v5.8M608.3 150.2v5.8M609.5 150.2v5.8M622.7 150.2v5.8M628.8 150.2v5.8M633.8 150.2v5.8M637.9 150.2v5.8M652.7 150.2v5.8M658.5 150.2v5.8M668.4 150.2v5.8M670.8 150.2v5.8M679.5 150.2v5.8M687.3 150.2v5.8M697.6 150.2v5.8M707.5 150.2v5.8M736.3 150.2v5.8M869.3 150.2v5.8M872.2 150.2v5.8M875.5 150.2v5.8M879.2 150.2v5.8M106.3 154.4v5.8M112.9 154.4v5.8M129 154.4v5.8M241.4 154.4v5.8M251.3 154.4v5.8M255.4 154.4v5.8M269.8 154.4v5.8M283.4 154.4v5.8M352.1 154.4v5.8M369.9 154.4v5.8M371.1 154.4v5.8M374.4 154.4v5.8M380.1 154.4v5.8M382.6 154.4v5.8M385.9 154.4v5.8M390.9 154.4v5.8M396.6 154.4v5.8M399.9 154.4v5.8M405.7 154.4v5.8M411 154.4v5.8M414.3 154.4v5.8M424.6 154.4v5.8M427.1 154.4v5.8M430.8 154.4v5.8M433.3 154.4v5.8M435.3 154.4v5.8M440.3 154.4v5.8M443.1 154.4v5.8M446.8 154.4v5.8M448.5 154.4v5.8M450.1 154.4v5.8M453.8 154.4v5.8M458 154.4v5.8M462.1 154.4v5.8M463.3 154.4v5.8M466.2 154.4v5.8M468.3 154.4v5.8M469.9 154.4v5.8M473.6 154.4v5.8M474.8 154.4v5.8M477.7 154.4v5.8M479.4 154.4v5.8M482.3 154.4v5.8M484.7 154.4v5.8M488 154.4v5.8M490.1 154.4v5.8M491.3 154.4v5.8M497.1 154.4v5.8M498.3 154.4v5.8M501.2 154.4v5.8M502.8 154.4v5.8M505.3 154.4v5.8M507.8 154.4v5.8M511.1 154.4v5.8M512.7 154.4v5.8M516.4 154.4v5.8M518.9 154.4v5.8M520.1 154.4v5.8M521.4 154.4v5.8M523.8 154.4v5.8M525.9 154.4v5.8M528.8 154.4v5.8M531.3 154.4v5.8M535.8 154.4v5.8M538.7 154.4v5.8M541.6 154.4v5.8M542.8 154.4v5.8M546.5 154.4v5.8M552.7 154.4v5.8M553.9 154.4v5.8M557.2 154.4v5.8M564.2 154.4v5.8M570 154.4v5.8M581.9 154.4v5.8M586.8 154.4v5.8M591 154.4v5.8M595.1 154.4v5.8M599.6 154.4v5.8M605.4 154.4v5.8M607.4 154.4v5.8M608.7 154.4v5.8M614.8 154.4v5.8M619.4 154.4v5.8M626.8 154.4v5.8M628 154.4v5.8M633 154.4v5.8M637.5 154.4v5.8M638.7 154.4v5.8M648.2 154.4v5.8M655.6 154.4v5.8M660.1 154.4v5.8M670 154.4v5.8M675.8 154.4v5.8M681.1 154.4v5.8M689 154.4v5.8M690.2 154.4v5.8M694.3 154.4v5.8M698 154.4v5.8M711.2 154.4v5.8M726 154.4v5.8M745 154.4v5.8M746.2 154.4v5.8M794.8 154.4v5.8M798.5 154.4v5.8M800.5 154.4v5.8M802.6 154.4v5.8M809.2 154.4v5.8M816.2 154.4v5.8M818.7 154.4v5.8M872.2 154.4v5.8M875.9 154.4v5.8M878.8 154.4v5.8M883.3 154.4v5.8M938.1 154.4v5.8M98.1 158.6v5.8M317.1 158.6v5.8M406.5 158.6v5.8M414.7 158.6v5.8M421.7 158.6v5.8M427.9 158.6v5.8M437 158.6v5.8M440.3 158.6v5.8M443.6 158.6v5.8M446 158.6v5.8M448.9 158.6v5.8M451 158.6v5.8M454.7 158.6v5.8M457.6 158.6v5.8M460.4 158.6v5.8M465 158.6v5.8M466.6 158.6v5.8M469.1 158.6v5.8M470.7 158.6v5.8M474 158.6v5.8M478.1 158.6v5.8M482.7 158.6v5.8M485.6 158.6v5.8M492.1 158.6v5.8M493.4 158.6v5.8M495.8 158.6v5.8M498.7 158.6v5.8M500.8 158.6v5.8M508.2 158.6v5.8M511.5 158.6v5.8M515.2 158.6v5.8M519.7 158.6v5.8M521.4 158.6v5.8M524.3 158.6v5.8M528 158.6v5.8M532.1 158.6v5.8M534.6 158.6v5.8M536.6 158.6v5.8M539.9 158.6v5.8M545.3 158.6v5.8M551.4 158.6v5.8M553.9 158.6v5.8M559.3 158.6v5.8M561.7 158.6v5.8M566.7 158.6v5.8M572.8 158.6v5.8M577.4 158.6v5.8M598 158.6v5.8M606.2 158.6v5.8M614 158.6v5.8M617.3 158.6v5.8M621.4 158.6v5.8M632.1 158.6v5.8M636.3 158.6v5.8M637.9 158.6v5.8M644.1 158.6v5.8M655.6 158.6v5.8M662.2 158.6v5.8M669.6 158.6v5.8M683.6 158.6v5.8M727.3 158.6v5.8M730.5 158.6v5.8M856.1 158.6v5.8M859.8 158.6v5.8M865.6 158.6v5.8M868.1 158.6v5.8M873 158.6v5.8M875.9 158.6v5.8M99.7 162.9v5.8M106.7 162.9v5.8M114.6 162.9v5.8M156.2 162.9v5.8M169.3 162.9v5.8M280.5 162.9v5.8M286.7 162.9v5.8M289.6 162.9v5.8M294.9 162.9v5.8M297.8 162.9v5.8M346.4 162.9v5.8M349.3 162.9v5.8M360.4 162.9v5.8M364.1 162.9v5.8M366.6 162.9v5.8M370.7 162.9v5.8M375.6 162.9v5.8M377.3 162.9v5.8M383.9 162.9v5.8M388.8 162.9v5.8M392.9 162.9v5.8M396.6 162.9v5.8M398.3 162.9v5.8M402.4 162.9v5.8M406.1 162.9v5.8M410.6 162.9v5.8M413.1 162.9v5.8M416 162.9v5.8M418.4 162.9v5.8M420.9 162.9v5.8M423 162.9v5.8M424.6 162.9v5.8M428.7 162.9v5.8M436.6 162.9v5.8M441.9 162.9v5.8M446.4 162.9v5.8M451.4 162.9v5.8M456.7 162.9v5.8M459.6 162.9v5.8M463.3 162.9v5.8M472 162.9v5.8M473.2 162.9v5.8M475.7 162.9v5.8M479.4 162.9v5.8M482.3 162.9v5.8M483.9 162.9v5.8M488.8 162.9v5.8M492.6 162.9v5.8M495.4 162.9v5.8M499.1 162.9v5.8M501.6 162.9v5.8M504.5 162.9v5.8M507.4 162.9v5.8M510.7 162.9v5.8M512.7 162.9v5.8M516.4 162.9v5.8M518.1 162.9v5.8M521 162.9v5.8M523 162.9v5.8M526.7 162.9v5.8M530.4 162.9v5.8M536.2 162.9v5.8M541.1 162.9v5.8M542.8 162.9v5.8M544.8 162.9v5.8M547.7 162.9v5.8M550.2 162.9v5.8M555.6 162.9v5.8M557.6 162.9v5.8M563.8 162.9v5.8M574.1 162.9v5.8M579 162.9v5.8M582.3 162.9v5.8M586.4 162.9v5.8M595.9 162.9v5.8M600.4 162.9v5.8M601.7 162.9v5.8M606.2 162.9v5.8M610.7 162.9v5.8M616.5 162.9v5.8M618.1 162.9v5.8M619.4 162.9v5.8M626.4 162.9v5.8M630.1 162.9v5.8M640.8 162.9v5.8M644.1 162.9v5.8M647 162.9v5.8M654 162.9v5.8M657.3 162.9v5.8M675 162.9v5.8M693.5 162.9v5.8M698.4 162.9v5.8M731 162.9v5.8M794 162.9v5.8M829.8 162.9v5.8M831 162.9v5.8M857 162.9v5.8M87 167.1v5.8M119.1 167.1v5.8M221.2 167.1v5.8M322.1 167.1v5.8M323.7 167.1v5.8M344.7 167.1v5.8M385.1 167.1v5.8M389.2 167.1v5.8M392.5 167.1v5.8M394.6 167.1v5.8M398.3 167.1v5.8M403.2 167.1v5.8M408.6 167.1v5.8M414.7 167.1v5.8M417.6 167.1v5.8M422.6 167.1v5.8M426.7 167.1v5.8M429.1 167.1v5.8M431.2 167.1v5.8M432.8 167.1v5.8M438.2 167.1v5.8M442.3 167.1v5.8M445.2 167.1v5.8M446.4 167.1v5.8M449.7 167.1v5.8M453.4 167.1v5.8M456.3 167.1v5.8M457.6 167.1v5.8M459.2 167.1v5.8M460.4 167.1v5.8M463.3 167.1v5.8M465.4 167.1v5.8M467.8 167.1v5.8M469.5 167.1v5.8M472 167.1v5.8M473.2 167.1v5.8M474.4 167.1v5.8M476.1 167.1v5.8M478.1 167.1v5.8M481.4 167.1v5.8M483.9 167.1v5.8M486 167.1v5.8M489.7 167.1v5.8M492.6 167.1v5.8M495 167.1v5.8M498.3 167.1v5.8M499.6 167.1v5.8M501.6 167.1v5.8M503.7 167.1v5.8M504.9 167.1v5.8M509.4 167.1v5.8M511.5 167.1v5.8M514 167.1v5.8M516.4 167.1v5.8M517.7 167.1v5.8M520.1 167.1v5.8M522.2 167.1v5.8M523.4 167.1v5.8M525.1 167.1v5.8M527.6 167.1v5.8M532.1 167.1v5.8M533.7 167.1v5.8M535 167.1v5.8M537.4 167.1v5.8M540.3 167.1v5.8M542.8 167.1v5.8M549.8 167.1v5.8M556 167.1v5.8M559.3 167.1v5.8M561.3 167.1v5.8M567.9 167.1v5.8M572 167.1v5.8M574.9 167.1v5.8M577.4 167.1v5.8M579.4 167.1v5.8M591 167.1v5.8M592.6 167.1v5.8M598.4 167.1v5.8M602.9 167.1v5.8M611.5 167.1v5.8M619.8 167.1v5.8M623.5 167.1v5.8M631.7 167.1v5.8M636.7 167.1v5.8M641.6 167.1v5.8M650.7 167.1v5.8M653.5 167.1v5.8M657.3 167.1v5.8M667.1 167.1v5.8M672.1 167.1v5.8M676.6 167.1v5.8M681.1 167.1v5.8M685.7 167.1v5.8M692.7 167.1v5.8M699.3 167.1v5.8M710.4 167.1v5.8M712 167.1v5.8M731 167.1v5.8M748.7 167.1v5.8M750.3 167.1v5.8M762.2 167.1v5.8M763.5 167.1v5.8M781.2 167.1v5.8M88.2 171.3v5.8M90.7 171.3v5.8M94.4 171.3v5.8M185 171.3v5.8M192 171.3v5.8M232.7 171.3v5.8M313 171.3v5.8M317.1 171.3v5.8M320.9 171.3v5.8M328.3 171.3v5.8M344.7 171.3v5.8M387.6 171.3v5.8M397 171.3v5.8M415.1 171.3v5.8M418 171.3v5.8M420.1 171.3v5.8M424.6 171.3v5.8M431.2 171.3v5.8M438.6 171.3v5.8M441.1 171.3v5.8M442.3 171.3v5.8M445.6 171.3v5.8M450.1 171.3v5.8M453 171.3v5.8M456.3 171.3v5.8M463.3 171.3v5.8M469.5 171.3v5.8M470.7 171.3v5.8M474 171.3v5.8M479.4 171.3v5.8M481.8 171.3v5.8M486.8 171.3v5.8M490.9 171.3v5.8M495.4 171.3v5.8M502.8 171.3v5.8M505.7 171.3v5.8M508.6 171.3v5.8M511.5 171.3v5.8M513.6 171.3v5.8M514.8 171.3v5.8M516.8 171.3v5.8M519.7 171.3v5.8M525.5 171.3v5.8M529.2 171.3v5.8M536.2 171.3v5.8M539.1 171.3v5.8M546.5 171.3v5.8M551 171.3v5.8M556.8 171.3v5.8M570.4 171.3v5.8M595.5 171.3v5.8M597.5 171.3v5.8M603.7 171.3v5.8M607 171.3v5.8M609.9 171.3v5.8M617.7 171.3v5.8M623.5 171.3v5.8M625.5 171.3v5.8M628 171.3v5.8M633.8 171.3v5.8M644.5 171.3v5.8M657.7 171.3v5.8M667.1 171.3v5.8M672.1 171.3v5.8M675 171.3v5.8M677.4 171.3v5.8M694.3 171.3v5.8M90.3 175.6v5.8M271.4 175.6v5.8M284.2 175.6v5.8M285.4 175.6v5.8M287.9 175.6v5.8M290 175.6v5.8M293.3 175.6v5.8M296.6 175.6v5.8M358.7 175.6v5.8M362.4 175.6v5.8M366.1 175.6v5.8M369.9 175.6v5.8M374 175.6v5.8M376 175.6v5.8M377.7 175.6v5.8M381 175.6v5.8M383.9 175.6v5.8M385.1 175.6v5.8M388 175.6v5.8M390.4 175.6v5.8M392.9 175.6v5.8M396.2 175.6v5.8M399.1 175.6v5.8M403.2 175.6v5.8M407.3 175.6v5.8M413.9 175.6v5.8M416.8 175.6v5.8M418.4 175.6v5.8M423 175.6v5.8M429.1 175.6v5.8M432.8 175.6v5.8M434.9 175.6v5.8M438.6 175.6v5.8M442.7 175.6v5.8M445.2 175.6v5.8M451.8 175.6v5.8M455.9 175.6v5.8M459.2 175.6v5.8M460.8 175.6v5.8M465.4 175.6v5.8M469.1 175.6v5.8M472.8 175.6v5.8M474 175.6v5.8M477.7 175.6v5.8M479 175.6v5.8M481.4 175.6v5.8M483.1 175.6v5.8M485.1 175.6v5.8M486.4 175.6v5.8M489.3 175.6v5.8M493.4 175.6v5.8M497.1 175.6v5.8M500 175.6v5.8M504.1 175.6v5.8M507.4 175.6v5.8M508.6 175.6v5.8M509.8 175.6v5.8M511.5 175.6v5.8M514.4 175.6v5.8M516.4 175.6v5.8M521.8 175.6v5.8M524.3 175.6v5.8M527.1 175.6v5.8M529.6 175.6v5.8M530.8 175.6v5.8M532.9 175.6v5.8M535.4 175.6v5.8M536.6 175.6v5.8M538.3 175.6v5.8M540.3 175.6v5.8M544.4 175.6v5.8M547.7 175.6v5.8M549.8 175.6v5.8M551.8 175.6v5.8M555.6 175.6v5.8M556.8 175.6v5.8M558.8 175.6v5.8M560.5 175.6v5.8M563.8 175.6v5.8M566.3 175.6v5.8M571.6 175.6v5.8M576.6 175.6v5.8M578.6 175.6v5.8M583.5 175.6v5.8M587.3 175.6v5.8M588.5 175.6v5.8M593.8 175.6v5.8M600.4 175.6v5.8M604.1 175.6v5.8M607.4 175.6v5.8M613.6 175.6v5.8M617.3 175.6v5.8M623.9 175.6v5.8M630.1 175.6v5.8M631.7 175.6v5.8M633.8 175.6v5.8M640.4 175.6v5.8M648.6 175.6v5.8M652.7 175.6v5.8M654.4 175.6v5.8M662.2 175.6v5.8M667.5 175.6v5.8M673.3 175.6v5.8M677 175.6v5.8M686.9 175.6v5.8M692.7 175.6v5.8M694.7 175.6v5.8M701.7 175.6v5.8M704.2 175.6v5.8M722.3 175.6v5.8M738.8 175.6v5.8M745.8 175.6v5.8M747 175.6v5.8M787 175.6v5.8M898.1 175.6v5.8M918.7 175.6v5.8M921.2 175.6v5.8M924.5 175.6v5.8M928.6 175.6v5.8M931.1 175.6v5.8M934.8 175.6v5.8M943.4 175.6v5.8M954.1 175.6v5.8M91.1 179.8v5.8M95.2 179.8v5.8M129.4 179.8v5.8M138 179.8v5.8M168.9 179.8v5.8M189.5 179.8v5.8M193.6 179.8v5.8M197.7 179.8v5.8M200.2 179.8v5.8M202.7 179.8v5.8M215.4 179.8v5.8M219.6 179.8v5.8M257.9 179.8v5.8M271 179.8v5.8M275.6 179.8v5.8M284.6 179.8v5.8M288.7 179.8v5.8M318 179.8v5.8M347.6 179.8v5.8M349.7 179.8v5.8M355.4 179.8v5.8M361.2 179.8v5.8M364.1 179.8v5.8M367 179.8v5.8M369.9 179.8v5.8M374 179.8v5.8M375.6 179.8v5.8M377.7 179.8v5.8M381.4 179.8v5.8M383 179.8v5.8M384.3 179.8v5.8M385.9 179.8v5.8M388.4 179.8v5.8M389.6 179.8v5.8M391.7 179.8v5.8M393.3 179.8v5.8M395 179.8v5.8M397 179.8v5.8M399.1 179.8v5.8M401.6 179.8v5.8M406.5 179.8v5.8M409 179.8v5.8M410.2 179.8v5.8M413.1 179.8v5.8M414.7 179.8v5.8M417.6 179.8v5.8M419.7 179.8v5.8M424.2 179.8v5.8M429.1 179.8v5.8M432 179.8v5.8M433.7 179.8v5.8M436.1 179.8v5.8M438.6 179.8v5.8M440.3 179.8v5.8M442.3 179.8v5.8M443.6 179.8v5.8M444.8 179.8v5.8M447.7 179.8v5.8M449.3 179.8v5.8M451 179.8v5.8M453.4 179.8v5.8M455.5 179.8v5.8M458 179.8v5.8M459.6 179.8v5.8M462.1 179.8v5.8M463.7 179.8v5.8M466.2 179.8v5.8M469.1 179.8v5.8M470.7 179.8v5.8M472.8 179.8v5.8M476.1 179.8v5.8M479 179.8v5.8M480.6 179.8v5.8M484.3 179.8v5.8M487.2 179.8v5.8M489.3 179.8v5.8M492.1 179.8v5.8M494.6 179.8v5.8M496.3 179.8v5.8M498.7 179.8v5.8M501.6 179.8v5.8M503.7 179.8v5.8M505.3 179.8v5.8M509.8 179.8v5.8M511.1 179.8v5.8M513.6 179.8v5.8M516.8 179.8v5.8M520.6 179.8v5.8M523.8 179.8v5.8M526.3 179.8v5.8M529.2 179.8v5.8M532.9 179.8v5.8M539.5 179.8v5.8M551.8 179.8v5.8M557.6 179.8v5.8M558.8 179.8v5.8M563 179.8v5.8M565.8 179.8v5.8M569.1 179.8v5.8M576.6 179.8v5.8M580.3 179.8v5.8M584 179.8v5.8M591 179.8v5.8M606.6 179.8v5.8M612.4 179.8v5.8M616.5 179.8v5.8M620.2 179.8v5.8M626 179.8v5.8M631.3 179.8v5.8M637.9 179.8v5.8M641.2 179.8v5.8M649.8 179.8v5.8M657.3 179.8v5.8M661 179.8v5.8M671.3 179.8v5.8M675 179.8v5.8M677.4 179.8v5.8M681.1 179.8v5.8M684.8 179.8v5.8M689.8 179.8v5.8M691.4 179.8v5.8M693.1 179.8v5.8M696.4 179.8v5.8M699.7 179.8v5.8M704.2 179.8v5.8M707.5 179.8v5.8M712.4 179.8v5.8M716.1 179.8v5.8M724.4 179.8v5.8M728.5 179.8v5.8M738.4 179.8v5.8M741.3 179.8v5.8M755.2 179.8v5.8M768.8 179.8v5.8M770.9 179.8v5.8M794.8 179.8v5.8M847.9 179.8v5.8M851.6 179.8v5.8M863.1 179.8v5.8M866.8 179.8v5.8M875.9 179.8v5.8M908.4 179.8v5.8M909.7 179.8v5.8M91.5 184v5.8M92.7 184v5.8M107.6 184v5.8M119.1 184v5.8M190.7 184v5.8M192 184v5.8M201 184v5.8M222 184v5.8M324.6 184v5.8M360 184v5.8M371.5 184v5.8M376.9 184v5.8M379.3 184v5.8M385.1 184v5.8M391.7 184v5.8M398.7 184v5.8M402.4 184v5.8M403.6 184v5.8M409.8 184v5.8M411.9 184v5.8M418.4 184v5.8M421.3 184v5.8M425.4 184v5.8M429.1 184v5.8M434.5 184v5.8M438.2 184v5.8M441.1 184v5.8M446.8 184v5.8M448.9 184v5.8M451.4 184v5.8M455.5 184v5.8M460 184v5.8M462.1 184v5.8M465.4 184v5.8M469.1 184v5.8M470.3 184v5.8M472.8 184v5.8M475.7 184v5.8M477.3 184v5.8M479 184v5.8M482.7 184v5.8M487.6 184v5.8M489.7 184v5.8M492.6 184v5.8M494.2 184v5.8M497.1 184v5.8M499.1 184v5.8M501.6 184v5.8M504.1 184v5.8M508.6 184v5.8M510.7 184v5.8M511.9 184v5.8M514 184v5.8M518.9 184v5.8M521 184v5.8M523.8 184v5.8M525.9 184v5.8M527.1 184v5.8M529.2 184v5.8M532.5 184v5.8M535 184v5.8M537 184v5.8M540.3 184v5.8M541.6 184v5.8M544.4 184v5.8M546.1 184v5.8M547.3 184v5.8M549.8 184v5.8M555.1 184v5.8M558.8 184v5.8M562.6 184v5.8M563.8 184v5.8M572.8 184v5.8M577.4 184v5.8M579.8 184v5.8M582.3 184v5.8M586.8 184v5.8M591.4 184v5.8M594.7 184v5.8M600 184v5.8M601.3 184v5.8M603.3 184v5.8M608.3 184v5.8M610.3 184v5.8M612.4 184v5.8M614.8 184v5.8M621 184v5.8M625.5 184v5.8M627.2 184v5.8M629.7 184v5.8M632.1 184v5.8M636.7 184v5.8M638.3 184v5.8M642.4 184v5.8M647.8 184v5.8M651.9 184v5.8M656.4 184v5.8M660.1 184v5.8M664.7 184v5.8M666.3 184v5.8M676.2 184v5.8M682.8 184v5.8M694.3 184v5.8M698 184v5.8M705.4 184v5.8M708.7 184v5.8M710.4 184v5.8M712 184v5.8M727.7 184v5.8M738.4 184v5.8M745 184v5.8M748.2 184v5.8M795.6 184v5.8M798.9 184v5.8M813.7 184v5.8M815.8 184v5.8M825.7 184v5.8M830.6 184v5.8M834.3 184v5.8M836.8 184v5.8M847.1 184v5.8M851.6 184v5.8M855.3 184v5.8M918.3 184v5.8M929.8 184v5.8M93.2 188.3v5.8M96 188.3v5.8M103 188.3v5.8M115 188.3v5.8M129.8 188.3v5.8M364.9 188.3v5.8M366.1 188.3v5.8M372.3 188.3v5.8M376.9 188.3v5.8M383 188.3v5.8M386.3 188.3v5.8M390.4 188.3v5.8M394.1 188.3v5.8M398.7 188.3v5.8M401.1 188.3v5.8M405.7 188.3v5.8M411.4 188.3v5.8M414.7 188.3v5.8M421.7 188.3v5.8M425 188.3v5.8M426.3 188.3v5.8M428.7 188.3v5.8M430.8 188.3v5.8M432 188.3v5.8M437.4 188.3v5.8M439.4 188.3v5.8M441.9 188.3v5.8M448.1 188.3v5.8M451.4 188.3v5.8M454.3 188.3v5.8M457.6 188.3v5.8M458.8 188.3v5.8M463.7 188.3v5.8M465.8 188.3v5.8M469.1 188.3v5.8M472.4 188.3v5.8M476.5 188.3v5.8M478.1 188.3v5.8M480.2 188.3v5.8M482.7 188.3v5.8M484.3 188.3v5.8M486.8 188.3v5.8M488.4 188.3v5.8M493.8 188.3v5.8M497.9 188.3v5.8M500 188.3v5.8M503.7 188.3v5.8M506.1 188.3v5.8M507.4 188.3v5.8M509.4 188.3v5.8M511.5 188.3v5.8M513.6 188.3v5.8M514.8 188.3v5.8M516.4 188.3v5.8M518.5 188.3v5.8M522.2 188.3v5.8M525.9 188.3v5.8M528.4 188.3v5.8M530.4 188.3v5.8M531.7 188.3v5.8M534.1 188.3v5.8M536.6 188.3v5.8M539.9 188.3v5.8M547.7 188.3v5.8M550.6 188.3v5.8M552.7 188.3v5.8M555.1 188.3v5.8M556.8 188.3v5.8M559.7 188.3v5.8M565.8 188.3v5.8M569.6 188.3v5.8M572 188.3v5.8M578.2 188.3v5.8M579.8 188.3v5.8M581.9 188.3v5.8M588.1 188.3v5.8M591 188.3v5.8M595.5 188.3v5.8M599.6 188.3v5.8M600.8 188.3v5.8M605.4 188.3v5.8M607.4 188.3v5.8M612.8 188.3v5.8M616.1 188.3v5.8M619.8 188.3v5.8M623.1 188.3v5.8M625.1 188.3v5.8M630.5 188.3v5.8M632.5 188.3v5.8M639.5 188.3v5.8M644.9 188.3v5.8M651.9 188.3v5.8M654.4 188.3v5.8M658.9 188.3v5.8M668 188.3v5.8M672.9 188.3v5.8M679.9 188.3v5.8M682.8 188.3v5.8M684.4 188.3v5.8M688.5 188.3v5.8M693.1 188.3v5.8M696.8 188.3v5.8M704.6 188.3v5.8M708.7 188.3v5.8M710.8 188.3v5.8M712 188.3v5.8M713.3 188.3v5.8M724 188.3v5.8M729.7 188.3v5.8M739.2 188.3v5.8M743.7 188.3v5.8M745.8 188.3v5.8M749.9 188.3v5.8M752 188.3v5.8M759.8 188.3v5.8M765.1 188.3v5.8M778.7 188.3v5.8M880.8 188.3v5.8M885.8 188.3v5.8M888.2 188.3v5.8M893.6 188.3v5.8M897.3 188.3v5.8M899.4 188.3v5.8M905.5 188.3v5.8M908.8 188.3v5.8M913.4 188.3v5.8M915 188.3v5.8M919.1 188.3v5.8M920.8 188.3v5.8M922 188.3v5.8M90.7 192.5v5.8M91.9 192.5v5.8M124.4 192.5v5.8M148.3 192.5v5.8M233.6 192.5v5.8M245.1 192.5v5.8M328.7 192.5v5.8M349.3 192.5v5.8M359.6 192.5v5.8M360.8 192.5v5.8M370.3 192.5v5.8M377.7 192.5v5.8M382.2 192.5v5.8M385.1 192.5v5.8M390.4 192.5v5.8M394.1 192.5v5.8M399.1 192.5v5.8M402.4 192.5v5.8M407.7 192.5v5.8M411 192.5v5.8M412.7 192.5v5.8M416 192.5v5.8M423 192.5v5.8M426.7 192.5v5.8M429.6 192.5v5.8M431.2 192.5v5.8M436.1 192.5v5.8M439.4 192.5v5.8M441.1 192.5v5.8M442.7 192.5v5.8M444 192.5v5.8M447.3 192.5v5.8M449.7 192.5v5.8M452.2 192.5v5.8M456.7 192.5v5.8M458.4 192.5v5.8M460.8 192.5v5.8M462.1 192.5v5.8M464.1 192.5v5.8M465.4 192.5v5.8M467 192.5v5.8M470.3 192.5v5.8M471.6 192.5v5.8M472.8 192.5v5.8M477.7 192.5v5.8M480.6 192.5v5.8M481.8 192.5v5.8M486.4 192.5v5.8M488.8 192.5v5.8M493.4 192.5v5.8M495.8 192.5v5.8M498.7 192.5v5.8M501.2 192.5v5.8M502.4 192.5v5.8M505.3 192.5v5.8M507.8 192.5v5.8M511.1 192.5v5.8M513.6 192.5v5.8M515.6 192.5v5.8M518.1 192.5v5.8M519.3 192.5v5.8M522.2 192.5v5.8M525.9 192.5v5.8M528.4 192.5v5.8M532.5 192.5v5.8M535.8 192.5v5.8M538.7 192.5v5.8M542.8 192.5v5.8M546.1 192.5v5.8M549.8 192.5v5.8M554.3 192.5v5.8M558.4 192.5v5.8M574.1 192.5v5.8M580.3 192.5v5.8M588.9 192.5v5.8M595.5 192.5v5.8M617.7 192.5v5.8M636.7 192.5v5.8M638.3 192.5v5.8M641.2 192.5v5.8M643.3 192.5v5.8M647 192.5v5.8M652.3 192.5v5.8M658.9 192.5v5.8M664.7 192.5v5.8M672.5 192.5v5.8M679.9 192.5v5.8M684.4 192.5v5.8M689.4 192.5v5.8M699.7 192.5v5.8M721.9 192.5v5.8M735.9 192.5v5.8M737.1 192.5v5.8M738.8 192.5v5.8M750.7 192.5v5.8M754 192.5v5.8M761.4 192.5v5.8M773 192.5v5.8M887.4 192.5v5.8M892.8 192.5v5.8M897.3 192.5v5.8M903.1 192.5v5.8M906.4 192.5v5.8M101.4 196.7v5.8M131 196.7v5.8M147.5 196.7v5.8M150 196.7v5.8M153.7 196.7v5.8M159 196.7v5.8M163.2 196.7v5.8M167.7 196.7v5.8M171.8 196.7v5.8M174.3 196.7v5.8M181.7 196.7v5.8M187 196.7v5.8M189.9 196.7v5.8M198.6 196.7v5.8M201.9 196.7v5.8M204.3 196.7v5.8M209.7 196.7v5.8M290.4 196.7v5.8M291.6 196.7v5.8M302.7 196.7v5.8M346.8 196.7v5.8M359.6 196.7v5.8M360.8 196.7v5.8M365.7 196.7v5.8M370.3 196.7v5.8M371.9 196.7v5.8M376.9 196.7v5.8M381.4 196.7v5.8M382.6 196.7v5.8M383.9 196.7v5.8M385.9 196.7v5.8M390 196.7v5.8M392.9 196.7v5.8M394.6 196.7v5.8M398.7 196.7v5.8M404 196.7v5.8M406.9 196.7v5.8M409.8 196.7v5.8M413.9 196.7v5.8M416.4 196.7v5.8M419.3 196.7v5.8M421.3 196.7v5.8M422.6 196.7v5.8M427.1 196.7v5.8M430.4 196.7v5.8M433.3 196.7v5.8M436.6 196.7v5.8M437.8 196.7v5.8M440.3 196.7v5.8M441.9 196.7v5.8M443.1 196.7v5.8M445.2 196.7v5.8M447.7 196.7v5.8M449.3 196.7v5.8M452.2 196.7v5.8M454.3 196.7v5.8M455.5 196.7v5.8M457.1 196.7v5.8M459.2 196.7v5.8M462.9 196.7v5.8M465 196.7v5.8M466.2 196.7v5.8M467.8 196.7v5.8M471.1 196.7v5.8M475.3 196.7v5.8M477.3 196.7v5.8M479.8 196.7v5.8M481 196.7v5.8M485.1 196.7v5.8M487.2 196.7v5.8M488.8 196.7v5.8M491.7 196.7v5.8M494.2 196.7v5.8M497.1 196.7v5.8M500 196.7v5.8M502 196.7v5.8M505.7 196.7v5.8M509 196.7v5.8M510.7 196.7v5.8M514.4 196.7v5.8M515.6 196.7v5.8M516.8 196.7v5.8M518.9 196.7v5.8M521 196.7v5.8M524.3 196.7v5.8M527.6 196.7v5.8M530.8 196.7v5.8M532.9 196.7v5.8M534.6 196.7v5.8M537.4 196.7v5.8M540.7 196.7v5.8M544.8 196.7v5.8M549 196.7v5.8M552.3 196.7v5.8M556 196.7v5.8M558.8 196.7v5.8M560.9 196.7v5.8M563.4 196.7v5.8M567.9 196.7v5.8M572 196.7v5.8M574.5 196.7v5.8M579 196.7v5.8M583.5 196.7v5.8M586.8 196.7v5.8M588.1 196.7v5.8M592.6 196.7v5.8M595.1 196.7v5.8M600.8 196.7v5.8M605.8 196.7v5.8M609.1 196.7v5.8M612.8 196.7v5.8M616.9 196.7v5.8M619.4 196.7v5.8M621.8 196.7v5.8M624.7 196.7v5.8M628.8 196.7v5.8M633 196.7v5.8M636.7 196.7v5.8M640 196.7v5.8M644.5 196.7v5.8M647.8 196.7v5.8M649.4 196.7v5.8M654.8 196.7v5.8M663.4 196.7v5.8M666.7 196.7v5.8M674.1 196.7v5.8M677.8 196.7v5.8M689.4 196.7v5.8M695.5 196.7v5.8M712 196.7v5.8M719.4 196.7v5.8M751.1 196.7v5.8M772.5 196.7v5.8M775 196.7v5.8M794.8 196.7v5.8M796 196.7v5.8M93.6 201v5.8M230.7 201v5.8M254.2 201v5.8M281.3 201v5.8M288.7 201v5.8M290 201v5.8M357.1 201v5.8M358.7 201v5.8M390.9 201v5.8M402 201v5.8M407.7 201v5.8M409.4 201v5.8M416.8 201v5.8M421.3 201v5.8M424.2 201v5.8M427.1 201v5.8M430.8 201v5.8M433.3 201v5.8M437 201v5.8M441.5 201v5.8M445.6 201v5.8M448.1 201v5.8M451.4 201v5.8M453.8 201v5.8M456.3 201v5.8M458 201v5.8M463.3 201v5.8M465.8 201v5.8M468.7 201v5.8M470.7 201v5.8M473.2 201v5.8M475.7 201v5.8M478.1 201v5.8M482.3 201v5.8M483.9 201v5.8M486.4 201v5.8M488.4 201v5.8M493 201v5.8M495.8 201v5.8M497.9 201v5.8M499.1 201v5.8M502.4 201v5.8M503.7 201v5.8M507.8 201v5.8M511.5 201v5.8M514 201v5.8M516.4 201v5.8M518.1 201v5.8M521 201v5.8M523 201v5.8M524.3 201v5.8M526.3 201v5.8M529.6 201v5.8M532.5 201v5.8M533.7 201v5.8M535 201v5.8M538.3 201v5.8M539.9 201v5.8M543.2 201v5.8M546.5 201v5.8M553.9 201v5.8M556.8 201v5.8M559.3 201v5.8M561.7 201v5.8M563.4 201v5.8M570.8 201v5.8M572.4 201v5.8M573.7 201v5.8M576.6 201v5.8M583.1 201v5.8M586.4 201v5.8M594.7 201v5.8M598.4 201v5.8M603.3 201v5.8M612.8 201v5.8M619.4 201v5.8M621 201v5.8M625.1 201v5.8M627.6 201v5.8M634.6 201v5.8M639.5 201v5.8M642.8 201v5.8M646.1 201v5.8M650.7 201v5.8M655.2 201v5.8M661 201v5.8M663.8 201v5.8M666.7 201v5.8M668.8 201v5.8M679.1 201v5.8M688.5 201v5.8M691 201v5.8M697.6 201v5.8M709.5 201v5.8M712 201v5.8M714.9 201v5.8M769.2 201v5.8M790.2 201v5.8M843.4 201v5.8M854.1 201v5.8M902.2 201v5.8M91.1 205.2v5.8M332.4 205.2v5.8M348 205.2v5.8M354.6 205.2v5.8M364.5 205.2v5.8M372.7 205.2v5.8M375.6 205.2v5.8M377.7 205.2v5.8M379.7 205.2v5.8M385.5 205.2v5.8M394.1 205.2v5.8M395.8 205.2v5.8M401.6 205.2v5.8M406.5 205.2v5.8M410.2 205.2v5.8M413.5 205.2v5.8M414.7 205.2v5.8M416 205.2v5.8M417.2 205.2v5.8M420.1 205.2v5.8M422.1 205.2v5.8M425.8 205.2v5.8M427.1 205.2v5.8M431.2 205.2v5.8M433.7 205.2v5.8M434.9 205.2v5.8M437.8 205.2v5.8M439 205.2v5.8M441.9 205.2v5.8M444 205.2v5.8M446.8 205.2v5.8M448.9 205.2v5.8M453.8 205.2v5.8M455.5 205.2v5.8M457.6 205.2v5.8M460 205.2v5.8M462.5 205.2v5.8M464.1 205.2v5.8M466.6 205.2v5.8M471.1 205.2v5.8M473.6 205.2v5.8M476.9 205.2v5.8M480.2 205.2v5.8M481.8 205.2v5.8M486.8 205.2v5.8M488.4 205.2v5.8M492.1 205.2v5.8M493.8 205.2v5.8M497.9 205.2v5.8M499.6 205.2v5.8M500.8 205.2v5.8M504.1 205.2v5.8M506.6 205.2v5.8M509 205.2v5.8M512.7 205.2v5.8M522.6 205.2v5.8M524.3 205.2v5.8M526.3 205.2v5.8M528.4 205.2v5.8M533.7 205.2v5.8M537.4 205.2v5.8M541.1 205.2v5.8M545.3 205.2v5.8M549.8 205.2v5.8M554.3 205.2v5.8M556.4 205.2v5.8M563.4 205.2v5.8M566.7 205.2v5.8M570.8 205.2v5.8M574.5 205.2v5.8M577.4 205.2v5.8M585.6 205.2v5.8M595.5 205.2v5.8M598 205.2v5.8M599.6 205.2v5.8M603.3 205.2v5.8M605 205.2v5.8M606.6 205.2v5.8M609.5 205.2v5.8M613.6 205.2v5.8M618.5 205.2v5.8M621.4 205.2v5.8M624.3 205.2v5.8M626.8 205.2v5.8M630.1 205.2v5.8M633.4 205.2v5.8M635 205.2v5.8M640.8 205.2v5.8M643.7 205.2v5.8M647.8 205.2v5.8M649.8 205.2v5.8M652.7 205.2v5.8M655.2 205.2v5.8M658.1 205.2v5.8M662.2 205.2v5.8M665.9 205.2v5.8M668.8 205.2v5.8M673.7 205.2v5.8M680.7 205.2v5.8M683.6 205.2v5.8M687.3 205.2v5.8M692.7 205.2v5.8M695.1 205.2v5.8M701.3 205.2v5.8M705.8 205.2v5.8M708.7 205.2v5.8M714.9 205.2v5.8M729.3 205.2v5.8M744.5 205.2v5.8M749.1 205.2v5.8M756.1 205.2v5.8M767.6 205.2v5.8M770.9 205.2v5.8M772.1 205.2v5.8M774.2 205.2v5.8M776.7 205.2v5.8M819.5 205.2v5.8M837.2 205.2v5.8M864.4 205.2v5.8M866.4 205.2v5.8M873 205.2v5.8M877.1 205.2v5.8M880.8 205.2v5.8M883.3 205.2v5.8M887.8 205.2v5.8M892 205.2v5.8M896.1 205.2v5.8M897.7 205.2v5.8M93.2 209.4v5.8M94.4 209.4v5.8M104.7 209.4v5.8M333.6 209.4v5.8M365.7 209.4v5.8M368.6 209.4v5.8M371.5 209.4v5.8M376.4 209.4v5.8M385.1 209.4v5.8M389.6 209.4v5.8M393.3 209.4v5.8M397 209.4v5.8M402.4 209.4v5.8M408.1 209.4v5.8M418.9 209.4v5.8M423 209.4v5.8M428.3 209.4v5.8M433.7 209.4v5.8M435.3 209.4v5.8M438.6 209.4v5.8M441.9 209.4v5.8M445.6 209.4v5.8M448.9 209.4v5.8M451 209.4v5.8M453.8 209.4v5.8M457.6 209.4v5.8M460.4 209.4v5.8M462.9 209.4v5.8M465.4 209.4v5.8M467.8 209.4v5.8M470.3 209.4v5.8M473.6 209.4v5.8M475.7 209.4v5.8M479.4 209.4v5.8M481.4 209.4v5.8M484.7 209.4v5.8M487.2 209.4v5.8M488.8 209.4v5.8M490.1 209.4v5.8M493 209.4v5.8M495.8 209.4v5.8M498.3 209.4v5.8M500.8 209.4v5.8M504.1 209.4v5.8M509.8 209.4v5.8M512.7 209.4v5.8M516.8 209.4v5.8M518.1 209.4v5.8M520.1 209.4v5.8M522.2 209.4v5.8M525.9 209.4v5.8M527.1 209.4v5.8M531.3 209.4v5.8M532.9 209.4v5.8M537.8 209.4v5.8M540.7 209.4v5.8M545.3 209.4v5.8M547.7 209.4v5.8M549 209.4v5.8M553.9 209.4v5.8M557.2 209.4v5.8M560.1 209.4v5.8M562.6 209.4v5.8M563.8 209.4v5.8M568.7 209.4v5.8M572.4 209.4v5.8M574.1 209.4v5.8M578.2 209.4v5.8M584 209.4v5.8M586.4 209.4v5.8M590.1 209.4v5.8M591.8 209.4v5.8M600 209.4v5.8M604.1 209.4v5.8M608.7 209.4v5.8M610.7 209.4v5.8M612.4 209.4v5.8M614.8 209.4v5.8M616.5 209.4v5.8M620.2 209.4v5.8M622.7 209.4v5.8M627.2 209.4v5.8M632.1 209.4v5.8M636.7 209.4v5.8M640.8 209.4v5.8M643.7 209.4v5.8M647.8 209.4v5.8M654 209.4v5.8M659.7 209.4v5.8M666.7 209.4v5.8M679.9 209.4v5.8M703.8 209.4v5.8M705.8 209.4v5.8M734.7 209.4v5.8M754.8 209.4v5.8M782.4 209.4v5.8M792.7 209.4v5.8M794.8 209.4v5.8M798.9 209.4v5.8M801.8 209.4v5.8M810.8 209.4v5.8M880 209.4v5.8M134.3 213.7v5.8M141.7 213.7v5.8M299.9 213.7v5.8M302.3 213.7v5.8M304.8 213.7v5.8M310.1 213.7v5.8M325.4 213.7v5.8M328.7 213.7v5.8M331.1 213.7v5.8M357.9 213.7v5.8M360.4 213.7v5.8M363.7 213.7v5.8M367 213.7v5.8M374.4 213.7v5.8M376.9 213.7v5.8M385.9 213.7v5.8M388.8 213.7v5.8M393.3 213.7v5.8M395 213.7v5.8M399.5 213.7v5.8M402.4 213.7v5.8M405.3 213.7v5.8M412.7 213.7v5.8M414.3 213.7v5.8M417.2 213.7v5.8M424.6 213.7v5.8M430.4 213.7v5.8M437 213.7v5.8M444 213.7v5.8M446.4 213.7v5.8M451.8 213.7v5.8M453.8 213.7v5.8M455.9 213.7v5.8M458.8 213.7v5.8M461.7 213.7v5.8M468.7 213.7v5.8M470.7 213.7v5.8M472.4 213.7v5.8M475.3 213.7v5.8M476.9 213.7v5.8M481.8 213.7v5.8M487.6 213.7v5.8M489.7 213.7v5.8M491.3 213.7v5.8M493.8 213.7v5.8M498.3 213.7v5.8M501.2 213.7v5.8M505.3 213.7v5.8M508.6 213.7v5.8M513.1 213.7v5.8M514.4 213.7v5.8M517.7 213.7v5.8M521 213.7v5.8M523.4 213.7v5.8M526.3 213.7v5.8M528.8 213.7v5.8M530.4 213.7v5.8M534.6 213.7v5.8M542 213.7v5.8M545.3 213.7v5.8M549.4 213.7v5.8M552.3 213.7v5.8M559.3 213.7v5.8M565.4 213.7v5.8M568.7 213.7v5.8M581.5 213.7v5.8M586.8 213.7v5.8M589.3 213.7v5.8M601.7 213.7v5.8M603.7 213.7v5.8M614.4 213.7v5.8M622.7 213.7v5.8M633 213.7v5.8M637.5 213.7v5.8M642.4 213.7v5.8M649 213.7v5.8M665.1 213.7v5.8M682.8 213.7v5.8M694.3 213.7v5.8M720.3 213.7v5.8M722.7 213.7v5.8M725.6 213.7v5.8M739.6 213.7v5.8M745.4 213.7v5.8M803 213.7v5.8M834.7 213.7v5.8M837.2 213.7v5.8M851.6 213.7v5.8M853.2 213.7v5.8M941.8 213.7v5.8M94.4 217.9v5.8M105.1 217.9v5.8M195.7 217.9v5.8M227.8 217.9v5.8M268.1 217.9v5.8M313 217.9v5.8M324.1 217.9v5.8M364.5 217.9v5.8M370.3 217.9v5.8M373.1 217.9v5.8M378.5 217.9v5.8M380.1 217.9v5.8M383.9 217.9v5.8M386.7 217.9v5.8M395 217.9v5.8M398.3 217.9v5.8M401.1 217.9v5.8M404.4 217.9v5.8M406.9 217.9v5.8M411 217.9v5.8M422.6 217.9v5.8M425 217.9v5.8M428.7 217.9v5.8M435.3 217.9v5.8M437.4 217.9v5.8M441.9 217.9v5.8M445.2 217.9v5.8M451.4 217.9v5.8M454.7 217.9v5.8M458.4 217.9v5.8M460 217.9v5.8M462.5 217.9v5.8M464.6 217.9v5.8M465.8 217.9v5.8M469.9 217.9v5.8M472.8 217.9v5.8M475.3 217.9v5.8M476.9 217.9v5.8M479.4 217.9v5.8M480.6 217.9v5.8M485.6 217.9v5.8M488.4 217.9v5.8M494.2 217.9v5.8M498.3 217.9v5.8M501.2 217.9v5.8M504.9 217.9v5.8M507.8 217.9v5.8M509.8 217.9v5.8M513.6 217.9v5.8M515.6 217.9v5.8M521.4 217.9v5.8M525.9 217.9v5.8M527.6 217.9v5.8M531.7 217.9v5.8M537.4 217.9v5.8M540.3 217.9v5.8M542.4 217.9v5.8M543.6 217.9v5.8M547.7 217.9v5.8M551.4 217.9v5.8M555.6 217.9v5.8M558.4 217.9v5.8M559.7 217.9v5.8M562.1 217.9v5.8M565.4 217.9v5.8M567.9 217.9v5.8M572.4 217.9v5.8M575.3 217.9v5.8M577.8 217.9v5.8M590.5 217.9v5.8M598 217.9v5.8M605.4 217.9v5.8M615.7 217.9v5.8M619 217.9v5.8M621.4 217.9v5.8M626.4 217.9v5.8M629.7 217.9v5.8M631.3 217.9v5.8M636.3 217.9v5.8M639.1 217.9v5.8M643.3 217.9v5.8M652.3 217.9v5.8M656.4 217.9v5.8M665.1 217.9v5.8M670.4 217.9v5.8M677.8 217.9v5.8M681.5 217.9v5.8M685.3 217.9v5.8M693.5 217.9v5.8M694.7 217.9v5.8M709.5 217.9v5.8M777.5 217.9v5.8M779.1 217.9v5.8M782 217.9v5.8M786.5 217.9v5.8M788.2 217.9v5.8M792.3 217.9v5.8M793.5 217.9v5.8M800.5 217.9v5.8M823.2 217.9v5.8" fill="none" stroke="#4C72B0" stroke-width="3.2" clip-path="url(#ra)"/><path d="M124.9 222.1v5.8M129.8 222.1v5.8M294.1 222.1v5.8M376.4 222.1v5.8M430.8 222.1v5.8M435.3 222.1v5.8M447.7 222.1v5.8M449.7 222.1v5.8M452.2 222.1v5.8M457.1 222.1v5.8M477.3 222.1v5.8M480.2 222.1v5.8M488.8 222.1v5.8M493 222.1v5.8M495.4 222.1v5.8M499.6 222.1v5.8M503.7 222.1v5.8M507.4 222.1v5.8M510.7 222.1v5.8M513.1 222.1v5.8M521 222.1v5.8M530.8 222.1v5.8M534.6 222.1v5.8M537 222.1v5.8M548.6 222.1v5.8M556.8 222.1v5.8M559.3 222.1v5.8M566.7 222.1v5.8M570 222.1v5.8M572 222.1v5.8M581.9 222.1v5.8M584.8 222.1v5.8M591.4 222.1v5.8M595.9 222.1v5.8M601.3 222.1v5.8M606.6 222.1v5.8M611.5 222.1v5.8M617.7 222.1v5.8M620.2 222.1v5.8M626.8 222.1v5.8M634.6 222.1v5.8M636.7 222.1v5.8M638.7 222.1v5.8M643.7 222.1v5.8M646.5 222.1v5.8M649.4 222.1v5.8M655.6 222.1v5.8M662.2 222.1v5.8M663.4 222.1v5.8M669.6 222.1v5.8M672.9 222.1v5.8M677.8 222.1v5.8M684.8 222.1v5.8M689.4 222.1v5.8M699.3 222.1v5.8M705 222.1v5.8M717.4 222.1v5.8M762.7 222.1v5.8M764.7 222.1v5.8M768.8 222.1v5.8M851.6 222.1v5.8M940.9 222.1v5.8M943.8 222.1v5.8M947.1 222.1v5.8M950.4 222.1v5.8M90.7 226.4v5.8M96.9 226.4v5.8M101.8 226.4v5.8M104.7 226.4v5.8M115.4 226.4v5.8M120.7 226.4v5.8M152 226.4v5.8M156.2 226.4v5.8M157.4 226.4v5.8M272.7 226.4v5.8M364.5 226.4v5.8M374 226.4v5.8M376.4 226.4v5.8M381.8 226.4v5.8M389.6 226.4v5.8M396.6 226.4v5.8M403.2 226.4v5.8M405.3 226.4v5.8M409.4 226.4v5.8M412.7 226.4v5.8M416.8 226.4v5.8M421.3 226.4v5.8M425 226.4v5.8M428.7 226.4v5.8M435.7 226.4v5.8M438.6 226.4v5.8M441.5 226.4v5.8M443.6 226.4v5.8M447.7 226.4v5.8M449.3 226.4v5.8M456.3 226.4v5.8M460 226.4v5.8M465.4 226.4v5.8M467.4 226.4v5.8M469.5 226.4v5.8M471.1 226.4v5.8M472.8 226.4v5.8M477.7 226.4v5.8M482.7 226.4v5.8M486.4 226.4v5.8M488.4 226.4v5.8M491.7 226.4v5.8M494.2 226.4v5.8M498.3 226.4v5.8M502.4 226.4v5.8M507.4 226.4v5.8M513.1 226.4v5.8M515.6 226.4v5.8M519.7 226.4v5.8M522.2 226.4v5.8M528.4 226.4v5.8M530.4 226.4v5.8M534.1 226.4v5.8M536.6 226.4v5.8M539.1 226.4v5.8M548.6 226.4v5.8M556.8 226.4v5.8M560.5 226.4v5.8M561.7 226.4v5.8M565.4 226.4v5.8M570.4 226.4v5.8M572 226.4v5.8M576.6 226.4v5.8M587.3 226.4v5.8M592.2 226.4v5.8M595.1 226.4v5.8M604.5 226.4v5.8M606.6 226.4v5.8M609.9 226.4v5.8M615.3 226.4v5.8M620.6 226.4v5.8M625.1 226.4v5.8M629.3 226.4v5.8M633.8 226.4v5.8M636.3 226.4v5.8M640 226.4v5.8M643.7 226.4v5.8M651.9 226.4v5.8M657.7 226.4v5.8M660.5 226.4v5.8M663.8 226.4v5.8M666.3 226.4v5.8M670 226.4v5.8M677 226.4v5.8M682 226.4v5.8M685.7 226.4v5.8M688.1 226.4v5.8M692.3 226.4v5.8M695.1 226.4v5.8M699.3 226.4v5.8M702.5 226.4v5.8M707.5 226.4v5.8M709.5 226.4v5.8M711.2 226.4v5.8M713.3 226.4v5.8M718.2 226.4v5.8M721.5 226.4v5.8M726.4 226.4v5.8M731.4 226.4v5.8M744.1 226.4v5.8M763.9 226.4v5.8M766.8 226.4v5.8M774.6 226.4v5.8M779.1 226.4v5.8M783.7 226.4v5.8M90.3 230.6v5.8M91.9 230.6v5.8M93.6 230.6v5.8M125.7 230.6v5.8M245.5 230.6v5.8M364.9 230.6v5.8M366.6 230.6v5.8M377.7 230.6v5.8M386.3 230.6v5.8M389.2 230.6v5.8M391.7 230.6v5.8M403.6 230.6v5.8M417.6 230.6v5.8M429.6 230.6v5.8M448.5 230.6v5.8M465.8 230.6v5.8M474.8 230.6v5.8M478.1 230.6v5.8M484.3 230.6v5.8M489.7 230.6v5.8M492.1 230.6v5.8M498.7 230.6v5.8M509 230.6v5.8M514.4 230.6v5.8M517.7 230.6v5.8M520.1 230.6v5.8M522.2 230.6v5.8M531.3 230.6v5.8M536.2 230.6v5.8M548.1 230.6v5.8M549.4 230.6v5.8M572.4 230.6v5.8M582.3 230.6v5.8M587.7 230.6v5.8M592.6 230.6v5.8M607.8 230.6v5.8M610.7 230.6v5.8M626 230.6v5.8M628 230.6v5.8M636.3 230.6v5.8M638.3 230.6v5.8M644.1 230.6v5.8M650.3 230.6v5.8M655.2 230.6v5.8M658.1 230.6v5.8M663 230.6v5.8M667.1 230.6v5.8M675 230.6v5.8M689 230.6v5.8M691 230.6v5.8M692.7 230.6v5.8M695.5 230.6v5.8M700.5 230.6v5.8M708.7 230.6v5.8M713.3 230.6v5.8M721.1 230.6v5.8M803.4 230.6v5.8M808 230.6v5.8M810.8 230.6v5.8M816.6 230.6v5.8M819.9 230.6v5.8M826.9 230.6v5.8M828.5 230.6v5.8M829.8 230.6v5.8M96.4 234.8v5.8M115.8 234.8v5.8M128.2 234.8v5.8M186.2 234.8v5.8M194.9 234.8v5.8M199.8 234.8v5.8M227.8 234.8v5.8M244.3 234.8v5.8M308.9 234.8v5.8M316.7 234.8v5.8M320.4 234.8v5.8M324.1 234.8v5.8M357.9 234.8v5.8M361.2 234.8v5.8M372.7 234.8v5.8M378.1 234.8v5.8M383.4 234.8v5.8M385.5 234.8v5.8M392.9 234.8v5.8M394.6 234.8v5.8M400.3 234.8v5.8M409.4 234.8v5.8M411.4 234.8v5.8M414.3 234.8v5.8M419.3 234.8v5.8M423.8 234.8v5.8M427.9 234.8v5.8M434.9 234.8v5.8M437.8 234.8v5.8M440.7 234.8v5.8M445.2 234.8v5.8M448.5 234.8v5.8M453.4 234.8v5.8M458.4 234.8v5.8M463.3 234.8v5.8M465.4 234.8v5.8M468.7 234.8v5.8M472 234.8v5.8M476.5 234.8v5.8M480.2 234.8v5.8M481.8 234.8v5.8M487.2 234.8v5.8M489.7 234.8v5.8M492.6 234.8v5.8M494.6 234.8v5.8M498.3 234.8v5.8M500.4 234.8v5.8M502.4 234.8v5.8M505.7 234.8v5.8M510.7 234.8v5.8M516.4 234.8v5.8M518.9 234.8v5.8M523.4 234.8v5.8M531.3 234.8v5.8M532.9 234.8v5.8M537.4 234.8v5.8M540.3 234.8v5.8M543.2 234.8v5.8M553.9 234.8v5.8M555.6 234.8v5.8M558.4 234.8v5.8M564.6 234.8v5.8M568.3 234.8v5.8M572 234.8v5.8M574.1 234.8v5.8M575.7 234.8v5.8M579.8 234.8v5.8M581.5 234.8v5.8M587.3 234.8v5.8M594.7 234.8v5.8M602.9 234.8v5.8M623.1 234.8v5.8M626 234.8v5.8M630.9 234.8v5.8M641.6 234.8v5.8M652.7 234.8v5.8M656.8 234.8v5.8M664.3 234.8v5.8M670.4 234.8v5.8M675.8 234.8v5.8M682.4 234.8v5.8M683.6 234.8v5.8M685.7 234.8v5.8M694.3 234.8v5.8M698.4 234.8v5.8M702.1 234.8v5.8M707.1 234.8v5.8M715.3 234.8v5.8M717.4 234.8v5.8M721.9 234.8v5.8M724.4 234.8v5.8M728.9 234.8v5.8M731 234.8v5.8M735.1 234.8v5.8M793.1 234.8v5.8M105.1 239.1v5.8M189.1 239.1v5.8M221.2 239.1v5.8M225.3 239.1v5.8M271.9 239.1v5.8M285.4 239.1v5.8M297.8 239.1v5.8M307.7 239.1v5.8M311 239.1v5.8M329.9 239.1v5.8M344.3 239.1v5.8M346 239.1v5.8M366.1 239.1v5.8M371.1 239.1v5.8M375.6 239.1v5.8M379.7 239.1v5.8M384.7 239.1v5.8M392.1 239.1v5.8M394.6 239.1v5.8M396.2 239.1v5.8M399.1 239.1v5.8M402.8 239.1v5.8M405.3 239.1v5.8M409.4 239.1v5.8M412.7 239.1v5.8M415.1 239.1v5.8M417.2 239.1v5.8M418.9 239.1v5.8M429.6 239.1v5.8M434.9 239.1v5.8M439.8 239.1v5.8M445.2 239.1v5.8M449.3 239.1v5.8M454.7 239.1v5.8M458 239.1v5.8M461.7 239.1v5.8M467.4 239.1v5.8M471.6 239.1v5.8M478.1 239.1v5.8M481.8 239.1v5.8M485.1 239.1v5.8M487.2 239.1v5.8M490.5 239.1v5.8M492.6 239.1v5.8M497.5 239.1v5.8M501.6 239.1v5.8M504.9 239.1v5.8M511.1 239.1v5.8M513.1 239.1v5.8M514.8 239.1v5.8M518.1 239.1v5.8M523.8 239.1v5.8M530.4 239.1v5.8M534.6 239.1v5.8M537.4 239.1v5.8M544 239.1v5.8M548.6 239.1v5.8M550.6 239.1v5.8M554.3 239.1v5.8M558.4 239.1v5.8M561.7 239.1v5.8M566.3 239.1v5.8M570.4 239.1v5.8M576.1 239.1v5.8M577.4 239.1v5.8M581.1 239.1v5.8M587.3 239.1v5.8M593.4 239.1v5.8M597.1 239.1v5.8M599.2 239.1v5.8M603.3 239.1v5.8M610.7 239.1v5.8M615.3 239.1v5.8M616.9 239.1v5.8M621.8 239.1v5.8M623.9 239.1v5.8M632.1 239.1v5.8M640 239.1v5.8M642.8 239.1v5.8M648.6 239.1v5.8M652.7 239.1v5.8M655.2 239.1v5.8M663 239.1v5.8M665.5 239.1v5.8M667.5 239.1v5.8M671.7 239.1v5.8M673.3 239.1v5.8M682.4 239.1v5.8M688.1 239.1v5.8M695.1 239.1v5.8M700.1 239.1v5.8M704.2 239.1v5.8M709.5 239.1v5.8M711.6 239.1v5.8M717.4 239.1v5.8M721.5 239.1v5.8M747 239.1v5.8M775.4 239.1v5.8M777.9 239.1v5.8M787.4 239.1v5.8M789.4 239.1v5.8M793.1 239.1v5.8M132.3 243.3v5.8M183.7 243.3v5.8M189.5 243.3v5.8M227 243.3v5.8M257 243.3v5.8M282.1 243.3v5.8M284.6 243.3v5.8M288.7 243.3v5.8M292 243.3v5.8M299.4 243.3v5.8M302.3 243.3v5.8M313.9 243.3v5.8M315.5 243.3v5.8M320 243.3v5.8M322.5 243.3v5.8M326.2 243.3v5.8M332 243.3v5.8M362 243.3v5.8M370.7 243.3v5.8M375.6 243.3v5.8M379.7 243.3v5.8M383.4 243.3v5.8M390.9 243.3v5.8M395 243.3v5.8M401.6 243.3v5.8M404 243.3v5.8M407.3 243.3v5.8M409.4 243.3v5.8M413.5 243.3v5.8M418.9 243.3v5.8M422.6 243.3v5.8M425.8 243.3v5.8M428.3 243.3v5.8M429.6 243.3v5.8M431.2 243.3v5.8M434.9 243.3v5.8M437 243.3v5.8M443.1 243.3v5.8M445.2 243.3v5.8M449.3 243.3v5.8M454.7 243.3v5.8M457.1 243.3v5.8M461.7 243.3v5.8M463.7 243.3v5.8M470.3 243.3v5.8M473.2 243.3v5.8M476.5 243.3v5.8M478.1 243.3v5.8M482.3 243.3v5.8M485.6 243.3v5.8M489.7 243.3v5.8M492.6 243.3v5.8M496.3 243.3v5.8M497.5 243.3v5.8M499.6 243.3v5.8M503.3 243.3v5.8M505.7 243.3v5.8M508.6 243.3v5.8M512.3 243.3v5.8M513.6 243.3v5.8M515.2 243.3v5.8M517.3 243.3v5.8M518.5 243.3v5.8M521.8 243.3v5.8M523.8 243.3v5.8M526.3 243.3v5.8M530.4 243.3v5.8M535.4 243.3v5.8M538.7 243.3v5.8M541.1 243.3v5.8M546.5 243.3v5.8M547.7 243.3v5.8M551 243.3v5.8M555.6 243.3v5.8M559.3 243.3v5.8M563 243.3v5.8M566.7 243.3v5.8M569.6 243.3v5.8M570.8 243.3v5.8M572 243.3v5.8M574.5 243.3v5.8M577.4 243.3v5.8M578.6 243.3v5.8M580.3 243.3v5.8M584.8 243.3v5.8M587.7 243.3v5.8M588.9 243.3v5.8M595.9 243.3v5.8M599.2 243.3v5.8M601.7 243.3v5.8M603.7 243.3v5.8M606.6 243.3v5.8M613.6 243.3v5.8M618.1 243.3v5.8M626.8 243.3v5.8M631.3 243.3v5.8M636.7 243.3v5.8M637.9 243.3v5.8M640.8 243.3v5.8M644.1 243.3v5.8M647.4 243.3v5.8M649 243.3v5.8M657.3 243.3v5.8M661.4 243.3v5.8M665.5 243.3v5.8M669.2 243.3v5.8M672.1 243.3v5.8M673.7 243.3v5.8M679.9 243.3v5.8M683.2 243.3v5.8M686.5 243.3v5.8M691.4 243.3v5.8M698 243.3v5.8M703 243.3v5.8M705.4 243.3v5.8M707.9 243.3v5.8M712.4 243.3v5.8M715.7 243.3v5.8M720.3 243.3v5.8M726 243.3v5.8M730.5 243.3v5.8M741.3 243.3v5.8M743.7 243.3v5.8M749.5 243.3v5.8M752.8 243.3v5.8M762.2 243.3v5.8M764.3 243.3v5.8M780.4 243.3v5.8M781.6 243.3v5.8M783.7 243.3v5.8M796 243.3v5.8M100.6 247.5v5.8M111.7 247.5v5.8M115 247.5v5.8M116.6 247.5v5.8M122.4 247.5v5.8M124 247.5v5.8M132.7 247.5v5.8M137.2 247.5v5.8M140.9 247.5v5.8M167.3 247.5v5.8M171 247.5v5.8M187.9 247.5v5.8M192.4 247.5v5.8M193.6 247.5v5.8M197.7 247.5v5.8M216.3 247.5v5.8M371.5 247.5v5.8M376.4 247.5v5.8M384.3 247.5v5.8M392.1 247.5v5.8M395.4 247.5v5.8M398.7 247.5v5.8M405.7 247.5v5.8M408.1 247.5v5.8M413.9 247.5v5.8M418.4 247.5v5.8M420.9 247.5v5.8M423.8 247.5v5.8M427.1 247.5v5.8M429.6 247.5v5.8M433.3 247.5v5.8M441.1 247.5v5.8M444.8 247.5v5.8M448.5 247.5v5.8M452.6 247.5v5.8M455.5 247.5v5.8M457.6 247.5v5.8M460 247.5v5.8M464.6 247.5v5.8M469.1 247.5v5.8M472.4 247.5v5.8M476.5 247.5v5.8M480.6 247.5v5.8M483.5 247.5v5.8M484.7 247.5v5.8M486.8 247.5v5.8M495 247.5v5.8M504.9 247.5v5.8M507.4 247.5v5.8M509.4 247.5v5.8M511.9 247.5v5.8M514.8 247.5v5.8M521.4 247.5v5.8M523.4 247.5v5.8M526.3 247.5v5.8M531.7 247.5v5.8M533.3 247.5v5.8M537 247.5v5.8M543.6 247.5v5.8M546.9 247.5v5.8M549.4 247.5v5.8M551.4 247.5v5.8M552.7 247.5v5.8M557.6 247.5v5.8M561.3 247.5v5.8M565 247.5v5.8M569.6 247.5v5.8M579.8 247.5v5.8M586.4 247.5v5.8M592.2 247.5v5.8M599.6 247.5v5.8M605.8 247.5v5.8M607.8 247.5v5.8M610.3 247.5v5.8M615.7 247.5v5.8M620.2 247.5v5.8M632.5 247.5v5.8M635 247.5v5.8M637.5 247.5v5.8M646.1 247.5v5.8M649.4 247.5v5.8M651.9 247.5v5.8M658.1 247.5v5.8M661.4 247.5v5.8M664.3 247.5v5.8M668 247.5v5.8M671.7 247.5v5.8M675.8 247.5v5.8M683.2 247.5v5.8M686.5 247.5v5.8M693.9 247.5v5.8M698.4 247.5v5.8M701.7 247.5v5.8M704.2 247.5v5.8M707.9 247.5v5.8M713.7 247.5v5.8M716.1 247.5v5.8M719 247.5v5.8M726 247.5v5.8M733 247.5v5.8M735.9 247.5v5.8M742.5 247.5v5.8M749.9 247.5v5.8M759.4 247.5v5.8M97.7 251.8v5.8M178.8 251.8v5.8M182.5 251.8v5.8M184.2 251.8v5.8M186.2 251.8v5.8M190.7 251.8v5.8M196.1 251.8v5.8M197.7 251.8v5.8M203.5 251.8v5.8M442.7 251.8v5.8M469.1 251.8v5.8M472.4 251.8v5.8M476.9 251.8v5.8M482.3 251.8v5.8M488.4 251.8v5.8M493.4 251.8v5.8M494.6 251.8v5.8M500.4 251.8v5.8M503.7 251.8v5.8M507 251.8v5.8M511.1 251.8v5.8M516.8 251.8v5.8M520.1 251.8v5.8M524.3 251.8v5.8M528.8 251.8v5.8M530.8 251.8v5.8M533.7 251.8v5.8M538.3 251.8v5.8M542 251.8v5.8M546.9 251.8v5.8M549.8 251.8v5.8M556 251.8v5.8M559.3 251.8v5.8M561.3 251.8v5.8M563.8 251.8v5.8M566.3 251.8v5.8M570.8 251.8v5.8M573.3 251.8v5.8M576.6 251.8v5.8M578.6 251.8v5.8M581.1 251.8v5.8M586.4 251.8v5.8M591 251.8v5.8M601.3 251.8v5.8M603.7 251.8v5.8M607 251.8v5.8M609.1 251.8v5.8M611.5 251.8v5.8M620.6 251.8v5.8M625.5 251.8v5.8M631.3 251.8v5.8M636.7 251.8v5.8M638.7 251.8v5.8M643.3 251.8v5.8M645.3 251.8v5.8M648.2 251.8v5.8M650.3 251.8v5.8M651.9 251.8v5.8M655.2 251.8v5.8M663.4 251.8v5.8M665.9 251.8v5.8M673.3 251.8v5.8M676.6 251.8v5.8M689.8 251.8v5.8M693.5 251.8v5.8M699.3 251.8v5.8M701.3 251.8v5.8M707.1 251.8v5.8M713.3 251.8v5.8M717.4 251.8v5.8M745 251.8v5.8M746.6 251.8v5.8M752 251.8v5.8M756.9 251.8v5.8M761.8 251.8v5.8M932.3 251.8v5.8M102.6 256v5.8M320.4 256v5.8M339.4 256v5.8M341 256v5.8M385.1 256v5.8M386.7 256v5.8M391.7 256v5.8M393.7 256v5.8M398.7 256v5.8M400.7 256v5.8M404.9 256v5.8M411.9 256v5.8M418.9 256v5.8M422.1 256v5.8M424.6 256v5.8M427.5 256v5.8M437.8 256v5.8M447.3 256v5.8M451.4 256v5.8M464.1 256v5.8M465.8 256v5.8M471.6 256v5.8M475.7 256v5.8M479.4 256v5.8M486 256v5.8M492.1 256v5.8M496.3 256v5.8M499.1 256v5.8M502.8 256v5.8M504.9 256v5.8M507.8 256v5.8M514.8 256v5.8M517.7 256v5.8M521.4 256v5.8M526.7 256v5.8M531.3 256v5.8M532.9 256v5.8M545.7 256v5.8M555.1 256v5.8M561.3 256v5.8M567.1 256v5.8M568.7 256v5.8M572.4 256v5.8M576.6 256v5.8M584.4 256v5.8M589.3 256v5.8M593.8 256v5.8M596.7 256v5.8M598.4 256v5.8M603.7 256v5.8M606.6 256v5.8M609.1 256v5.8M614.4 256v5.8M616.9 256v5.8M623.9 256v5.8M626.4 256v5.8M635.4 256v5.8M639.1 256v5.8M640.8 256v5.8M655.6 256v5.8M656.8 256v5.8M659.7 256v5.8M665.1 256v5.8M667.5 256v5.8M672.5 256v5.8M677.8 256v5.8M682.8 256v5.8M684 256v5.8M687.3 256v5.8M694.7 256v5.8M698 256v5.8M703.4 256v5.8M710 256v5.8M713.7 256v5.8M715.7 256v5.8M725.2 256v5.8M731.8 256v5.8M746.2 256v5.8M747.8 256v5.8M756.9 256v5.8M98.5 260.2v5.8M102.6 260.2v5.8M105.5 260.2v5.8M172.2 260.2v5.8M178.4 260.2v5.8M209.7 260.2v5.8M211.3 260.2v5.8M217.1 260.2v5.8M321.7 260.2v5.8M361.6 260.2v5.8M371.5 260.2v5.8M376 260.2v5.8M382.2 260.2v5.8M388.8 260.2v5.8M394.1 260.2v5.8M398.7 260.2v5.8M402.4 260.2v5.8M406.9 260.2v5.8M411.9 260.2v5.8M413.1 260.2v5.8M415.1 260.2v5.8M419.7 260.2v5.8M423.4 260.2v5.8M425 260.2v5.8M427.1 260.2v5.8M432 260.2v5.8M434.5 260.2v5.8M436.1 260.2v5.8M438.2 260.2v5.8M441.5 260.2v5.8M444 260.2v5.8M446.4 260.2v5.8M450.1 260.2v5.8M454.7 260.2v5.8M457.6 260.2v5.8M462.1 260.2v5.8M464.6 260.2v5.8M467.4 260.2v5.8M469.9 260.2v5.8M474.4 260.2v5.8M479.8 260.2v5.8M481.8 260.2v5.8M484.3 260.2v5.8M486 260.2v5.8M490.5 260.2v5.8M494.6 260.2v5.8M497.9 260.2v5.8M502.4 260.2v5.8M504.1 260.2v5.8M509.4 260.2v5.8M513.1 260.2v5.8M514.8 260.2v5.8M517.3 260.2v5.8M521 260.2v5.8M533.7 260.2v5.8M536.6 260.2v5.8M540.3 260.2v5.8M548.6 260.2v5.8M553.5 260.2v5.8M559.7 260.2v5.8M563.8 260.2v5.8M567.5 260.2v5.8M570.4 260.2v5.8M576.1 260.2v5.8M580.3 260.2v5.8M584 260.2v5.8M588.5 260.2v5.8M593 260.2v5.8M597.5 260.2v5.8M602.5 260.2v5.8M607.8 260.2v5.8M611.1 260.2v5.8M612.4 260.2v5.8M619.8 260.2v5.8M622.7 260.2v5.8M625.1 260.2v5.8M627.6 260.2v5.8M633.4 260.2v5.8M635.8 260.2v5.8M637.1 260.2v5.8M641.2 260.2v5.8M647.8 260.2v5.8M649.8 260.2v5.8M652.7 260.2v5.8M654.8 260.2v5.8M656.4 260.2v5.8M658.5 260.2v5.8M661.4 260.2v5.8M663.4 260.2v5.8M665.9 260.2v5.8M667.5 260.2v5.8M669.6 260.2v5.8M671.3 260.2v5.8M672.9 260.2v5.8M674.1 260.2v5.8M675.4 260.2v5.8M677.8 260.2v5.8M679.9 260.2v5.8M686.5 260.2v5.8M689 260.2v5.8M691.4 260.2v5.8M693.9 260.2v5.8M701.3 260.2v5.8M705.8 260.2v5.8M709.1 260.2v5.8M710.8 260.2v5.8M716.5 260.2v5.8M720.7 260.2v5.8M728.9 260.2v5.8M733 260.2v5.8M741.3 260.2v5.8M745.4 260.2v5.8M768.4 260.2v5.8M773 260.2v5.8M775.8 260.2v5.8M785.3 260.2v5.8M109.6 264.5v5.8M170.2 264.5v5.8M171.4 264.5v5.8M177.2 264.5v5.8M181.7 264.5v5.8M192 264.5v5.8M193.6 264.5v5.8M198.2 264.5v5.8M203.9 264.5v5.8M208.4 264.5v5.8M210.9 264.5v5.8M214.6 264.5v5.8M217.1 264.5v5.8M218.7 264.5v5.8M222 264.5v5.8M226.2 264.5v5.8M229.9 264.5v5.8M231.9 264.5v5.8M242.2 264.5v5.8M245.1 264.5v5.8M249.2 264.5v5.8M252.5 264.5v5.8M256.6 264.5v5.8M273.1 264.5v5.8M280.1 264.5v5.8M291.2 264.5v5.8M298.6 264.5v5.8M301.9 264.5v5.8M320.9 264.5v5.8M323.3 264.5v5.8M327.9 264.5v5.8M331.1 264.5v5.8M334.9 264.5v5.8M352.1 264.5v5.8M368.2 264.5v5.8M377.3 264.5v5.8M382.2 264.5v5.8M383.9 264.5v5.8M385.9 264.5v5.8M390.9 264.5v5.8M393.7 264.5v5.8M399.1 264.5v5.8M403.6 264.5v5.8M406.1 264.5v5.8M407.7 264.5v5.8M411.9 264.5v5.8M416 264.5v5.8M420.9 264.5v5.8M424.2 264.5v5.8M436.6 264.5v5.8M439 264.5v5.8M441.9 264.5v5.8M444.4 264.5v5.8M447.7 264.5v5.8M453.4 264.5v5.8M456.7 264.5v5.8M459.6 264.5v5.8M462.9 264.5v5.8M467.8 264.5v5.8M472.4 264.5v5.8M478.6 264.5v5.8M483.9 264.5v5.8M492.6 264.5v5.8M497.1 264.5v5.8M502.4 264.5v5.8M503.7 264.5v5.8M505.7 264.5v5.8M509.8 264.5v5.8M512.7 264.5v5.8M517.7 264.5v5.8M524.3 264.5v5.8M526.3 264.5v5.8M532.1 264.5v5.8M534.6 264.5v5.8M540.7 264.5v5.8M546.9 264.5v5.8M553.5 264.5v5.8M558.4 264.5v5.8M563.8 264.5v5.8M566.3 264.5v5.8M570.4 264.5v5.8M582.3 264.5v5.8M585.2 264.5v5.8M588.5 264.5v5.8M592.2 264.5v5.8M594.7 264.5v5.8M602.1 264.5v5.8M608.7 264.5v5.8M615.3 264.5v5.8M621 264.5v5.8M625.1 264.5v5.8M629.3 264.5v5.8M633 264.5v5.8M636.7 264.5v5.8M640.8 264.5v5.8M643.7 264.5v5.8M649 264.5v5.8M654.8 264.5v5.8M656.8 264.5v5.8M658.9 264.5v5.8M665.1 264.5v5.8M668.8 264.5v5.8M675.4 264.5v5.8M677.4 264.5v5.8M679.1 264.5v5.8M682.4 264.5v5.8M684 264.5v5.8M693.1 264.5v5.8M696.4 264.5v5.8M701.7 264.5v5.8M709.5 264.5v5.8M714.1 264.5v5.8M718.2 264.5v5.8M724.4 264.5v5.8M725.6 264.5v5.8M730.5 264.5v5.8M749.9 264.5v5.8M753.2 264.5v5.8M761 264.5v5.8M774.2 264.5v5.8M791.5 264.5v5.8M85.3 268.7v5.8M96.4 268.7v5.8M101 268.7v5.8M103.4 268.7v5.8M252.1 268.7v5.8M276 268.7v5.8M367.8 268.7v5.8M387.1 268.7v5.8M388.4 268.7v5.8M400.7 268.7v5.8M402.8 268.7v5.8M408.6 268.7v5.8M410.6 268.7v5.8M414.7 268.7v5.8M424.2 268.7v5.8M431.6 268.7v5.8M434.5 268.7v5.8M438.6 268.7v5.8M441.9 268.7v5.8M449.3 268.7v5.8M451 268.7v5.8M453 268.7v5.8M459.6 268.7v5.8M472 268.7v5.8M476.9 268.7v5.8M479 268.7v5.8M481.8 268.7v5.8M487.2 268.7v5.8M490.9 268.7v5.8M497.1 268.7v5.8M500.8 268.7v5.8M503.7 268.7v5.8M505.7 268.7v5.8M514.4 268.7v5.8M522.2 268.7v5.8M525.1 268.7v5.8M528 268.7v5.8M537.8 268.7v5.8M542.4 268.7v5.8M545.7 268.7v5.8M549 268.7v5.8M555.6 268.7v5.8M560.1 268.7v5.8M566.7 268.7v5.8M568.3 268.7v5.8M575.7 268.7v5.8M584.4 268.7v5.8M612.8 268.7v5.8M619.8 268.7v5.8M624.7 268.7v5.8M630.1 268.7v5.8M640.4 268.7v5.8M642.8 268.7v5.8M649 268.7v5.8M655.2 268.7v5.8M659.7 268.7v5.8M663 268.7v5.8M668 268.7v5.8M675.4 268.7v5.8M680.3 268.7v5.8M683.6 268.7v5.8M686.5 268.7v5.8M689.8 268.7v5.8M692.3 268.7v5.8M697.2 268.7v5.8M699.3 268.7v5.8M706.3 268.7v5.8M709.5 268.7v5.8M729.7 268.7v5.8M731 268.7v5.8M734.7 268.7v5.8M736.7 268.7v5.8M743.3 268.7v5.8M811.2 268.7v5.8M826.1 268.7v5.8M846.7 268.7v5.8M850.8 268.7v5.8M852 268.7v5.8M854.5 268.7v5.8M859.4 268.7v5.8M864.8 268.7v5.8M922.8 268.7v5.8M926.9 268.7v5.8M929.4 268.7v5.8M931.9 268.7v5.8M933.9 268.7v5.8M102.2 272.9v5.8M113.3 272.9v5.8M118.3 272.9v5.8M120.3 272.9v5.8M159.9 272.9v5.8M176.3 272.9v5.8M186.2 272.9v5.8M278.4 272.9v5.8M290.8 272.9v5.8M318 272.9v5.8M376 272.9v5.8M383.4 272.9v5.8M386.7 272.9v5.8M389.2 272.9v5.8M391.3 272.9v5.8M395.4 272.9v5.8M399.5 272.9v5.8M404.9 272.9v5.8M406.9 272.9v5.8M413.5 272.9v5.8M418 272.9v5.8M428.3 272.9v5.8M430 272.9v5.8M431.6 272.9v5.8M437.4 272.9v5.8M447.7 272.9v5.8M451.8 272.9v5.8M454.3 272.9v5.8M465.4 272.9v5.8M475.7 272.9v5.8M478.6 272.9v5.8M483.9 272.9v5.8M486.8 272.9v5.8M489.7 272.9v5.8M493 272.9v5.8M496.3 272.9v5.8M500.8 272.9v5.8M503.7 272.9v5.8M509 272.9v5.8M514 272.9v5.8M518.1 272.9v5.8M521 272.9v5.8M524.7 272.9v5.8M525.9 272.9v5.8M528.8 272.9v5.8M532.5 272.9v5.8M536.6 272.9v5.8M538.7 272.9v5.8M544.8 272.9v5.8M546.9 272.9v5.8M549 272.9v5.8M553.1 272.9v5.8M557.2 272.9v5.8M558.4 272.9v5.8M563 272.9v5.8M565.8 272.9v5.8M571.2 272.9v5.8M574.9 272.9v5.8M577 272.9v5.8M581.1 272.9v5.8M582.7 272.9v5.8M585.6 272.9v5.8M590.5 272.9v5.8M593.4 272.9v5.8M597.1 272.9v5.8M600.8 272.9v5.8M604.5 272.9v5.8M606.6 272.9v5.8M613.6 272.9v5.8M616.5 272.9v5.8M619.8 272.9v5.8M623.5 272.9v5.8M625.1 272.9v5.8M628 272.9v5.8M629.7 272.9v5.8M631.7 272.9v5.8M633.4 272.9v5.8M635.8 272.9v5.8M640.4 272.9v5.8M642 272.9v5.8M643.3 272.9v5.8M646.1 272.9v5.8M649.8 272.9v5.8M653.5 272.9v5.8M657.7 272.9v5.8M659.3 272.9v5.8M665.1 272.9v5.8M666.3 272.9v5.8M669.6 272.9v5.8M670.8 272.9v5.8M672.5 272.9v5.8M675.4 272.9v5.8M677.4 272.9v5.8M680.7 272.9v5.8M683.6 272.9v5.8M686.5 272.9v5.8M689.4 272.9v5.8M693.5 272.9v5.8M697.6 272.9v5.8M700.1 272.9v5.8M704.6 272.9v5.8M707.9 272.9v5.8M713.7 272.9v5.8M718.6 272.9v5.8M722.7 272.9v5.8M727.3 272.9v5.8M729.3 272.9v5.8M733.4 272.9v5.8M742.9 272.9v5.8M750.7 272.9v5.8M766 272.9v5.8M778.3 272.9v5.8M800.1 272.9v5.8M829.4 272.9v5.8M98.9 277.2v5.8M102.6 277.2v5.8M104.7 277.2v5.8M143 277.2v5.8M151.2 277.2v5.8M201.9 277.2v5.8M215.4 277.2v5.8M216.7 277.2v5.8M222 277.2v5.8M224.9 277.2v5.8M237.3 277.2v5.8M241 277.2v5.8M242.6 277.2v5.8M247.2 277.2v5.8M249.2 277.2v5.8M252.9 277.2v5.8M254.6 277.2v5.8M281.7 277.2v5.8M289.1 277.2v5.8M291.6 277.2v5.8M293.3 277.2v5.8M304.8 277.2v5.8M310.1 277.2v5.8M320 277.2v5.8M352.1 277.2v5.8M354.6 277.2v5.8M359.6 277.2v5.8M372.7 277.2v5.8M379.3 277.2v5.8M384.3 277.2v5.8M387.6 277.2v5.8M392.9 277.2v5.8M395 277.2v5.8M396.6 277.2v5.8M398.7 277.2v5.8M400.7 277.2v5.8M406.1 277.2v5.8M410.2 277.2v5.8M413.1 277.2v5.8M417.2 277.2v5.8M420.9 277.2v5.8M427.5 277.2v5.8M428.7 277.2v5.8M431.6 277.2v5.8M434.9 277.2v5.8M439.8 277.2v5.8M442.3 277.2v5.8M453 277.2v5.8M457.1 277.2v5.8M462.5 277.2v5.8M466.6 277.2v5.8M469.9 277.2v5.8M472 277.2v5.8M477.7 277.2v5.8M483.1 277.2v5.8M486 277.2v5.8M490.1 277.2v5.8M492.6 277.2v5.8M497.1 277.2v5.8M501.2 277.2v5.8M505.7 277.2v5.8M509 277.2v5.8M512.3 277.2v5.8M516.4 277.2v5.8M518.5 277.2v5.8M523 277.2v5.8M531.3 277.2v5.8M534.1 277.2v5.8M543.2 277.2v5.8M545.7 277.2v5.8M549.8 277.2v5.8M551.8 277.2v5.8M554.3 277.2v5.8M558.8 277.2v5.8M564.2 277.2v5.8M567.5 277.2v5.8M570 277.2v5.8M571.6 277.2v5.8M573.7 277.2v5.8M577.4 277.2v5.8M580.3 277.2v5.8M586 277.2v5.8M588.5 277.2v5.8M590.1 277.2v5.8M595.5 277.2v5.8M602.5 277.2v5.8M605.8 277.2v5.8M609.1 277.2v5.8M612 277.2v5.8M613.6 277.2v5.8M614.8 277.2v5.8M617.3 277.2v5.8M618.5 277.2v5.8M622.3 277.2v5.8M625.5 277.2v5.8M632.5 277.2v5.8M637.1 277.2v5.8M641.6 277.2v5.8M647.8 277.2v5.8M649 277.2v5.8M651.5 277.2v5.8M654 277.2v5.8M657.3 277.2v5.8M662.6 277.2v5.8M664.7 277.2v5.8M666.7 277.2v5.8M668.4 277.2v5.8M674.5 277.2v5.8M678.7 277.2v5.8M680.7 277.2v5.8M683.2 277.2v5.8M688.1 277.2v5.8M689.4 277.2v5.8M690.6 277.2v5.8M693.1 277.2v5.8M694.7 277.2v5.8M697.2 277.2v5.8M700.9 277.2v5.8M703.8 277.2v5.8M707.5 277.2v5.8M709.5 277.2v5.8M712.8 277.2v5.8M717.8 277.2v5.8M721.1 277.2v5.8M724.8 277.2v5.8M727.3 277.2v5.8M734.3 277.2v5.8M737.1 277.2v5.8M746.2 277.2v5.8M750.7 277.2v5.8M762.2 277.2v5.8M86.6 281.4v5.8M100.2 281.4v5.8M107.2 281.4v5.8M280.5 281.4v5.8M356.7 281.4v5.8M358.3 281.4v5.8M360.4 281.4v5.8M372.7 281.4v5.8M376.9 281.4v5.8M378.5 281.4v5.8M381.4 281.4v5.8M383.9 281.4v5.8M385.9 281.4v5.8M387.1 281.4v5.8M391.7 281.4v5.8M397.9 281.4v5.8M402.4 281.4v5.8M404.9 281.4v5.8M406.9 281.4v5.8M409 281.4v5.8M413.9 281.4v5.8M415.1 281.4v5.8M419.3 281.4v5.8M421.7 281.4v5.8M424.2 281.4v5.8M425.4 281.4v5.8M426.7 281.4v5.8M429.1 281.4v5.8M432.8 281.4v5.8M435.7 281.4v5.8M437.8 281.4v5.8M439.8 281.4v5.8M442.3 281.4v5.8M443.6 281.4v5.8M445.2 281.4v5.8M446.8 281.4v5.8M448.9 281.4v5.8M450.6 281.4v5.8M454.7 281.4v5.8M456.3 281.4v5.8M457.6 281.4v5.8M458.8 281.4v5.8M460.4 281.4v5.8M464.1 281.4v5.8M465.4 281.4v5.8M467 281.4v5.8M468.3 281.4v5.8M469.5 281.4v5.8M471.1 281.4v5.8M474.8 281.4v5.8M476.9 281.4v5.8M480.2 281.4v5.8M483.5 281.4v5.8M485.1 281.4v5.8M486.8 281.4v5.8M489.3 281.4v5.8M490.5 281.4v5.8M493.4 281.4v5.8M494.6 281.4v5.8M497.1 281.4v5.8M498.3 281.4v5.8M499.6 281.4v5.8M501.2 281.4v5.8M503.3 281.4v5.8M504.5 281.4v5.8M505.7 281.4v5.8M507.8 281.4v5.8M509 281.4v5.8M511.9 281.4v5.8M513.1 281.4v5.8M515.2 281.4v5.8M518.5 281.4v5.8M520.1 281.4v5.8M523 281.4v5.8M525.1 281.4v5.8M526.7 281.4v5.8M528 281.4v5.8M529.2 281.4v5.8M530.8 281.4v5.8M532.9 281.4v5.8M534.1 281.4v5.8M537 281.4v5.8M538.3 281.4v5.8M542.4 281.4v5.8M544 281.4v5.8M546.1 281.4v5.8M548.6 281.4v5.8M552.3 281.4v5.8M557.6 281.4v5.8M560.1 281.4v5.8M561.3 281.4v5.8M565.4 281.4v5.8M567.5 281.4v5.8M573.3 281.4v5.8M577.8 281.4v5.8M579.4 281.4v5.8M582.3 281.4v5.8M586 281.4v5.8M591.4 281.4v5.8M594.3 281.4v5.8M597.1 281.4v5.8M602.1 281.4v5.8M607.8 281.4v5.8M612.8 281.4v5.8M615.3 281.4v5.8M617.3 281.4v5.8M621 281.4v5.8M622.7 281.4v5.8M628 281.4v5.8M632.5 281.4v5.8M636.3 281.4v5.8M638.7 281.4v5.8M642 281.4v5.8M644.9 281.4v5.8M646.5 281.4v5.8M649.8 281.4v5.8M652.7 281.4v5.8M655.2 281.4v5.8M657.7 281.4v5.8M660.1 281.4v5.8M663.4 281.4v5.8M665.1 281.4v5.8M667.1 281.4v5.8M669.6 281.4v5.8M672.9 281.4v5.8M676.6 281.4v5.8M680.3 281.4v5.8M684.8 281.4v5.8M687.7 281.4v5.8M691.4 281.4v5.8M693.5 281.4v5.8M695.5 281.4v5.8M699.7 281.4v5.8M702.1 281.4v5.8M705.8 281.4v5.8M707.9 281.4v5.8M709.5 281.4v5.8M712 281.4v5.8M715.7 281.4v5.8M721.5 281.4v5.8M724.4 281.4v5.8M728.5 281.4v5.8M731 281.4v5.8M734.7 281.4v5.8M736.3 281.4v5.8M742.1 281.4v5.8M746.2 281.4v5.8M750.3 281.4v5.8M753.6 281.4v5.8M757.3 281.4v5.8M761.4 281.4v5.8M763.9 281.4v5.8M770.1 281.4v5.8M776.2 281.4v5.8M787 281.4v5.8M792.7 281.4v5.8M806.7 281.4v5.8M844.6 281.4v5.8M860.2 281.4v5.8M88.2 285.6v5.8M89.4 285.6v5.8M112.5 285.6v5.8M138 285.6v5.8M151.6 285.6v5.8M386.7 285.6v5.8M391.7 285.6v5.8M424.6 285.6v5.8M446 285.6v5.8M449.7 285.6v5.8M458 285.6v5.8M462.5 285.6v5.8M466.6 285.6v5.8M472.8 285.6v5.8M478.1 285.6v5.8M483.5 285.6v5.8M493.4 285.6v5.8M498.3 285.6v5.8M501.6 285.6v5.8M502.8 285.6v5.8M509 285.6v5.8M513.6 285.6v5.8M514.8 285.6v5.8M516 285.6v5.8M520.1 285.6v5.8M524.7 285.6v5.8M527.6 285.6v5.8M531.3 285.6v5.8M535.4 285.6v5.8M537 285.6v5.8M542 285.6v5.8M543.6 285.6v5.8M546.5 285.6v5.8M549.8 285.6v5.8M551.8 285.6v5.8M553.9 285.6v5.8M559.7 285.6v5.8M564.6 285.6v5.8M567.5 285.6v5.8M570.8 285.6v5.8M582.7 285.6v5.8M594.3 285.6v5.8M606.2 285.6v5.8M609.1 285.6v5.8M611.1 285.6v5.8M626.8 285.6v5.8M632.1 285.6v5.8M633.8 285.6v5.8M637.5 285.6v5.8M640.4 285.6v5.8M643.7 285.6v5.8M650.7 285.6v5.8M654.4 285.6v5.8M661.8 285.6v5.8M669.2 285.6v5.8M674.5 285.6v5.8M678.7 285.6v5.8M684.4 285.6v5.8M689 285.6v5.8M690.6 285.6v5.8M694.3 285.6v5.8M696.4 285.6v5.8M699.7 285.6v5.8M705.4 285.6v5.8M710.8 285.6v5.8M712.8 285.6v5.8M715.7 285.6v5.8M720.7 285.6v5.8M724 285.6v5.8M725.2 285.6v5.8M727.7 285.6v5.8M730.1 285.6v5.8M731.4 285.6v5.8M742.5 285.6v5.8M746.6 285.6v5.8M753.2 285.6v5.8M770.1 285.6v5.8M780 285.6v5.8M890.3 285.6v5.8M893.6 285.6v5.8M921.2 285.6v5.8M924.1 285.6v5.8M101.8 289.9v5.8M114.2 289.9v5.8M160.7 289.9v5.8M164.8 289.9v5.8M167.3 289.9v5.8M168.5 289.9v5.8M170.6 289.9v5.8M173 289.9v5.8M203.5 289.9v5.8M384.7 289.9v5.8M387.1 289.9v5.8M392.1 289.9v5.8M394.6 289.9v5.8M397.9 289.9v5.8M399.5 289.9v5.8M402.4 289.9v5.8M405.3 289.9v5.8M407.7 289.9v5.8M409 289.9v5.8M411 289.9v5.8M413.1 289.9v5.8M417.6 289.9v5.8M420.5 289.9v5.8M423 289.9v5.8M424.2 289.9v5.8M427.1 289.9v5.8M428.3 289.9v5.8M429.6 289.9v5.8M432.4 289.9v5.8M434.5 289.9v5.8M436.1 289.9v5.8M439 289.9v5.8M445.2 289.9v5.8M447.7 289.9v5.8M452.2 289.9v5.8M456.7 289.9v5.8M460 289.9v5.8M462.9 289.9v5.8M467.4 289.9v5.8M470.7 289.9v5.8M474.4 289.9v5.8M477.7 289.9v5.8M481 289.9v5.8M483.5 289.9v5.8M484.7 289.9v5.8M488 289.9v5.8M492.6 289.9v5.8M495.8 289.9v5.8M497.9 289.9v5.8M501.2 289.9v5.8M502.8 289.9v5.8M507 289.9v5.8M509.8 289.9v5.8M511.9 289.9v5.8M514.4 289.9v5.8M517.7 289.9v5.8M519.7 289.9v5.8M523.4 289.9v5.8M527.6 289.9v5.8M529.6 289.9v5.8M532.9 289.9v5.8M537 289.9v5.8M539.9 289.9v5.8M541.6 289.9v5.8M544.4 289.9v5.8M547.3 289.9v5.8M550.2 289.9v5.8M555.6 289.9v5.8M558 289.9v5.8M560.9 289.9v5.8M562.6 289.9v5.8M565.8 289.9v5.8M567.9 289.9v5.8M571.6 289.9v5.8M574.9 289.9v5.8M576.1 289.9v5.8M578.6 289.9v5.8M581.9 289.9v5.8M584.8 289.9v5.8M587.7 289.9v5.8M589.3 289.9v5.8M592.2 289.9v5.8M593.8 289.9v5.8M595.1 289.9v5.8M597.5 289.9v5.8M600 289.9v5.8M601.3 289.9v5.8M603.3 289.9v5.8M605.8 289.9v5.8M609.5 289.9v5.8M611.5 289.9v5.8M615.3 289.9v5.8M617.3 289.9v5.8M619 289.9v5.8M621 289.9v5.8M624.3 289.9v5.8M628 289.9v5.8M629.7 289.9v5.8M631.3 289.9v5.8M633.8 289.9v5.8M635.4 289.9v5.8M642 289.9v5.8M645.3 289.9v5.8M647.8 289.9v5.8M650.7 289.9v5.8M653.1 289.9v5.8M656.8 289.9v5.8M660.5 289.9v5.8M663.8 289.9v5.8M665.1 289.9v5.8M666.7 289.9v5.8M668.8 289.9v5.8M670.4 289.9v5.8M674.5 289.9v5.8M677 289.9v5.8M678.7 289.9v5.8M684.4 289.9v5.8M687.7 289.9v5.8M692.3 289.9v5.8M695.1 289.9v5.8M699.7 289.9v5.8M702.5 289.9v5.8M709.5 289.9v5.8M716.1 289.9v5.8M719 289.9v5.8M721.9 289.9v5.8M727.3 289.9v5.8M736.3 289.9v5.8M745.8 289.9v5.8M747.4 289.9v5.8M759.8 289.9v5.8M767.6 289.9v5.8M799.3 289.9v5.8M804.7 289.9v5.8M808 289.9v5.8M810.4 289.9v5.8M813.7 289.9v5.8M817 289.9v5.8M822.8 289.9v5.8M829 289.9v5.8M861.5 289.9v5.8M900.2 289.9v5.8M905.1 289.9v5.8M93.2 294.1v5.8M96 294.1v5.8M114.2 294.1v5.8M141.7 294.1v5.8M144.2 294.1v5.8M147.1 294.1v5.8M150.8 294.1v5.8M153.3 294.1v5.8M156.2 294.1v5.8M158.2 294.1v5.8M160.7 294.1v5.8M163.6 294.1v5.8M169.3 294.1v5.8M176.7 294.1v5.8M178.8 294.1v5.8M354.2 294.1v5.8M363.7 294.1v5.8M373.6 294.1v5.8M376.9 294.1v5.8M379.3 294.1v5.8M384.3 294.1v5.8M386.3 294.1v5.8M389.6 294.1v5.8M394.1 294.1v5.8M397 294.1v5.8M402 294.1v5.8M407.3 294.1v5.8M409 294.1v5.8M412.7 294.1v5.8M418 294.1v5.8M420.5 294.1v5.8M424.6 294.1v5.8M429.1 294.1v5.8M430.4 294.1v5.8M432.8 294.1v5.8M436.1 294.1v5.8M445.2 294.1v5.8M448.5 294.1v5.8M456.7 294.1v5.8M461.3 294.1v5.8M466.6 294.1v5.8M473.6 294.1v5.8M477.3 294.1v5.8M479.8 294.1v5.8M485.1 294.1v5.8M488.4 294.1v5.8M494.6 294.1v5.8M499.6 294.1v5.8M501.6 294.1v5.8M506.1 294.1v5.8M509 294.1v5.8M514.4 294.1v5.8M518.5 294.1v5.8M523 294.1v5.8M527.1 294.1v5.8M540.7 294.1v5.8M548.1 294.1v5.8M552.3 294.1v5.8M554.3 294.1v5.8M563 294.1v5.8M567.1 294.1v5.8M570 294.1v5.8M574.9 294.1v5.8M579.8 294.1v5.8M586.4 294.1v5.8M595.1 294.1v5.8M600.4 294.1v5.8M604.5 294.1v5.8M609.1 294.1v5.8M616.5 294.1v5.8M621.4 294.1v5.8M625.5 294.1v5.8M627.6 294.1v5.8M628.8 294.1v5.8M631.7 294.1v5.8M633.8 294.1v5.8M639.5 294.1v5.8M645.7 294.1v5.8M649.8 294.1v5.8M656.8 294.1v5.8M658.9 294.1v5.8M664.7 294.1v5.8M667.5 294.1v5.8M668.8 294.1v5.8M670.8 294.1v5.8M675.4 294.1v5.8M679.5 294.1v5.8M686.9 294.1v5.8M688.1 294.1v5.8M692.3 294.1v5.8M695.1 294.1v5.8M700.9 294.1v5.8M705.4 294.1v5.8M712.4 294.1v5.8M716.1 294.1v5.8M735.5 294.1v5.8M746.6 294.1v5.8M248 298.3v5.8M251.7 298.3v5.8M255 298.3v5.8M264.4 298.3v5.8M266.1 298.3v5.8M267.7 298.3v5.8M270.2 298.3v5.8M277.6 298.3v5.8M279.3 298.3v5.8M284.2 298.3v5.8M287.1 298.3v5.8M288.7 298.3v5.8M290.4 298.3v5.8M329.9 298.3v5.8M371.1 298.3v5.8M373.1 298.3v5.8M384.3 298.3v5.8M392.9 298.3v5.8M400.3 298.3v5.8M412.3 298.3v5.8M414.7 298.3v5.8M428.7 298.3v5.8M444 298.3v5.8M446.4 298.3v5.8M489.3 298.3v5.8M491.7 298.3v5.8M512.7 298.3v5.8M521.4 298.3v5.8M551.4 298.3v5.8M581.9 298.3v5.8M584 298.3v5.8M615.3 298.3v5.8M616.5 298.3v5.8M619.4 298.3v5.8M628.4 298.3v5.8M629.7 298.3v5.8M639.1 298.3v5.8M641.2 298.3v5.8M656.4 298.3v5.8M665.1 298.3v5.8M668 298.3v5.8M673.3 298.3v5.8M677.8 298.3v5.8M682 298.3v5.8M683.6 298.3v5.8M689.4 298.3v5.8M698.8 298.3v5.8M702.5 298.3v5.8M706.3 298.3v5.8M712.4 298.3v5.8M745.4 298.3v5.8M753.6 298.3v5.8M914.6 298.3v5.8M921.6 298.3v5.8M956.6 298.3v5.8M102.2 302.6v5.8M312.2 302.6v5.8M317.6 302.6v5.8M322.1 302.6v5.8M334.4 302.6v5.8M396.6 302.6v5.8M403.2 302.6v5.8M406.9 302.6v5.8M412.3 302.6v5.8M419.3 302.6v5.8M423 302.6v5.8M433.3 302.6v5.8M436.6 302.6v5.8M440.3 302.6v5.8M441.9 302.6v5.8M443.6 302.6v5.8M448.1 302.6v5.8M450.6 302.6v5.8M452.2 302.6v5.8M457.1 302.6v5.8M461.7 302.6v5.8M462.9 302.6v5.8M465 302.6v5.8M470.7 302.6v5.8M479.4 302.6v5.8M482.3 302.6v5.8M484.7 302.6v5.8M489.7 302.6v5.8M490.9 302.6v5.8M493.8 302.6v5.8M495.8 302.6v5.8M502 302.6v5.8M505.7 302.6v5.8M511.5 302.6v5.8M514.8 302.6v5.8M519.3 302.6v5.8M525.9 302.6v5.8M528.8 302.6v5.8M533.7 302.6v5.8M540.3 302.6v5.8M553.5 302.6v5.8M558.4 302.6v5.8M562.1 302.6v5.8M572.8 302.6v5.8M575.7 302.6v5.8M577 302.6v5.8M587.3 302.6v5.8M588.9 302.6v5.8M591 302.6v5.8M594.7 302.6v5.8M600.8 302.6v5.8M608.7 302.6v5.8M615.7 302.6v5.8M618.1 302.6v5.8M628.4 302.6v5.8M635 302.6v5.8M637.5 302.6v5.8M643.7 302.6v5.8M646.5 302.6v5.8M660.1 302.6v5.8M661.8 302.6v5.8M663.4 302.6v5.8M670 302.6v5.8M678.3 302.6v5.8M681.5 302.6v5.8M682.8 302.6v5.8M686.9 302.6v5.8M690.2 302.6v5.8M693.9 302.6v5.8M696.8 302.6v5.8M699.7 302.6v5.8M704.6 302.6v5.8M726 302.6v5.8M98.9 306.8v5.8M108.8 306.8v5.8M169.7 306.8v5.8M172.2 306.8v5.8M174.3 306.8v5.8M176.7 306.8v5.8M179.2 306.8v5.8M183.3 306.8v5.8M187.9 306.8v5.8M190.7 306.8v5.8M196.9 306.8v5.8M201 306.8v5.8M205.6 306.8v5.8M207.6 306.8v5.8M212.2 306.8v5.8M215.9 306.8v5.8M217.9 306.8v5.8M254.6 306.8v5.8M318.4 306.8v5.8M368.6 306.8v5.8M374 306.8v5.8M392.5 306.8v5.8M397.9 306.8v5.8M401.6 306.8v5.8M409.4 306.8v5.8M413.5 306.8v5.8M423.8 306.8v5.8M430.4 306.8v5.8M445.6 306.8v5.8M455.9 306.8v5.8M465.8 306.8v5.8M469.5 306.8v5.8M471.6 306.8v5.8M480.6 306.8v5.8M493.8 306.8v5.8M499.1 306.8v5.8M506.6 306.8v5.8M511.5 306.8v5.8M518.5 306.8v5.8M527.1 306.8v5.8M536.2 306.8v5.8M544 306.8v5.8M549 306.8v5.8M557.2 306.8v5.8M564.2 306.8v5.8M569.6 306.8v5.8M579 306.8v5.8M581.9 306.8v5.8M591.4 306.8v5.8M593.8 306.8v5.8M599.2 306.8v5.8M602.9 306.8v5.8M606.6 306.8v5.8M616.9 306.8v5.8M620.2 306.8v5.8M622.3 306.8v5.8M625.1 306.8v5.8M630.1 306.8v5.8M631.7 306.8v5.8M638.3 306.8v5.8M644.5 306.8v5.8M650.3 306.8v5.8M652.7 306.8v5.8M657.3 306.8v5.8M658.9 306.8v5.8M662.2 306.8v5.8M664.7 306.8v5.8M668 306.8v5.8M674.1 306.8v5.8M679.5 306.8v5.8M684 306.8v5.8M685.7 306.8v5.8M687.3 306.8v5.8M688.5 306.8v5.8M690.6 306.8v5.8M695.5 306.8v5.8M698.8 306.8v5.8M700.9 306.8v5.8M703.8 306.8v5.8M708.7 306.8v5.8M712.8 306.8v5.8M714.9 306.8v5.8M717.4 306.8v5.8M719.8 306.8v5.8M722.3 306.8v5.8M730.5 306.8v5.8M777.5 306.8v5.8M909.2 306.8v5.8M910.9 306.8v5.8M916.7 306.8v5.8M926.1 306.8v5.8M934.4 306.8v5.8M100.6 311v5.8M114.6 311v5.8M119.5 311v5.8M158.6 311v5.8M251.7 311v5.8M356.7 311v5.8M381 311v5.8M393.7 311v5.8M403.6 311v5.8M407.3 311v5.8M415.6 311v5.8M418.4 311v5.8M423.4 311v5.8M426.7 311v5.8M446 311v5.8M447.3 311v5.8M448.9 311v5.8M457.6 311v5.8M465 311v5.8M469.5 311v5.8M490.9 311v5.8M512.3 311v5.8M514.4 311v5.8M549.8 311v5.8M630.9 311v5.8M645.3 311v5.8M661.4 311v5.8M664.3 311v5.8M665.9 311v5.8M920.4 311v5.8M923.7 311v5.8M150 315.2v5.8M151.6 315.2v5.8M159.9 315.2v5.8M176.3 315.2v5.8M178.8 315.2v5.8M186.6 315.2v5.8M210.5 315.2v5.8M213 315.2v5.8M216.7 315.2v5.8M253.7 315.2v5.8M279.3 315.2v5.8M385.5 315.2v5.8M390.9 315.2v5.8M392.5 315.2v5.8M404.4 315.2v5.8M411.4 315.2v5.8M413.1 315.2v5.8M417.2 315.2v5.8M420.5 315.2v5.8M423.4 315.2v5.8M427.9 315.2v5.8M430.8 315.2v5.8M433.3 315.2v5.8M437 315.2v5.8M440.3 315.2v5.8M444.8 315.2v5.8M447.7 315.2v5.8M459.2 315.2v5.8M462.1 315.2v5.8M467.4 315.2v5.8M474.8 315.2v5.8M478.1 315.2v5.8M484.3 315.2v5.8M495.4 315.2v5.8M502 315.2v5.8M506.1 315.2v5.8M508.2 315.2v5.8M511.9 315.2v5.8M516.8 315.2v5.8M525.9 315.2v5.8M535.4 315.2v5.8M541.6 315.2v5.8M546.9 315.2v5.8M549.4 315.2v5.8M556 315.2v5.8M563.4 315.2v5.8M567.9 315.2v5.8M571.6 315.2v5.8M578.6 315.2v5.8M584.8 315.2v5.8M590.5 315.2v5.8M592.6 315.2v5.8M599.2 315.2v5.8M601.3 315.2v5.8M604.1 315.2v5.8M608.7 315.2v5.8M612.8 315.2v5.8M616.9 315.2v5.8M618.5 315.2v5.8M621.4 315.2v5.8M623.5 315.2v5.8M624.7 315.2v5.8M626 315.2v5.8M631.3 315.2v5.8M632.5 315.2v5.8M633.8 315.2v5.8M635.8 315.2v5.8M637.9 315.2v5.8M642 315.2v5.8M643.7 315.2v5.8M648.2 315.2v5.8M651.9 315.2v5.8M654.4 315.2v5.8M656.8 315.2v5.8M658.1 315.2v5.8M660.1 315.2v5.8M662.6 315.2v5.8M665.1 315.2v5.8M668.8 315.2v5.8M670.4 315.2v5.8M672.9 315.2v5.8M679.9 315.2v5.8M684.8 315.2v5.8M687.7 315.2v5.8M691.8 315.2v5.8M693.1 315.2v5.8M700.5 315.2v5.8M706.3 315.2v5.8M710 315.2v5.8M713.3 315.2v5.8M718.2 315.2v5.8M725.6 315.2v5.8M730.1 315.2v5.8M739.6 315.2v5.8M756.1 315.2v5.8M778.7 315.2v5.8M85.3 319.5v5.8M89.9 319.5v5.8M139.3 319.5v5.8M160.7 319.5v5.8M171.8 319.5v5.8M344.7 319.5v5.8M346.8 319.5v5.8M350.9 319.5v5.8M354.6 319.5v5.8M357.9 319.5v5.8M359.1 319.5v5.8M364.5 319.5v5.8M368.2 319.5v5.8M370.7 319.5v5.8M390 319.5v5.8M395 319.5v5.8M399.9 319.5v5.8M405.3 319.5v5.8M407.3 319.5v5.8M411.9 319.5v5.8M413.5 319.5v5.8M420.9 319.5v5.8M426.7 319.5v5.8M433.3 319.5v5.8M434.5 319.5v5.8M436.6 319.5v5.8M439.8 319.5v5.8M442.7 319.5v5.8M444.8 319.5v5.8M449.7 319.5v5.8M453.4 319.5v5.8M458.4 319.5v5.8M463.3 319.5v5.8M469.5 319.5v5.8M473.6 319.5v5.8M487.6 319.5v5.8M497.5 319.5v5.8M501.6 319.5v5.8M505.7 319.5v5.8M509.4 319.5v5.8M518.9 319.5v5.8M522.6 319.5v5.8M530 319.5v5.8M532.1 319.5v5.8M534.6 319.5v5.8M540.3 319.5v5.8M543.2 319.5v5.8M544.4 319.5v5.8M551 319.5v5.8M557.6 319.5v5.8M563.4 319.5v5.8M566.3 319.5v5.8M569.6 319.5v5.8M572 319.5v5.8M575.7 319.5v5.8M578.6 319.5v5.8M581.9 319.5v5.8M592.2 319.5v5.8M595.5 319.5v5.8M601.3 319.5v5.8M602.9 319.5v5.8M607.4 319.5v5.8M611.1 319.5v5.8M613.2 319.5v5.8M620.2 319.5v5.8M621.8 319.5v5.8M624.3 319.5v5.8M631.7 319.5v5.8M634.2 319.5v5.8M636.3 319.5v5.8M640.4 319.5v5.8M642.4 319.5v5.8M644.9 319.5v5.8M649.4 319.5v5.8M651.9 319.5v5.8M654.4 319.5v5.8M659.7 319.5v5.8M662.6 319.5v5.8M665.1 319.5v5.8M667.1 319.5v5.8M669.6 319.5v5.8M671.3 319.5v5.8M672.5 319.5v5.8M675 319.5v5.8M679.9 319.5v5.8M683.2 319.5v5.8M685.3 319.5v5.8M687.7 319.5v5.8M689.4 319.5v5.8M694.3 319.5v5.8M696.4 319.5v5.8M697.6 319.5v5.8M699.3 319.5v5.8M700.5 319.5v5.8M703 319.5v5.8M706.7 319.5v5.8M710 319.5v5.8M712.4 319.5v5.8M715.3 319.5v5.8M717 319.5v5.8M718.2 319.5v5.8M723.1 319.5v5.8M728.1 319.5v5.8M733.8 319.5v5.8M740.4 319.5v5.8M745 319.5v5.8M747 319.5v5.8M749.9 319.5v5.8M759.8 319.5v5.8M762.7 319.5v5.8M763.9 319.5v5.8M770.5 319.5v5.8M776.7 319.5v5.8M783.2 319.5v5.8M786.5 319.5v5.8M790.7 319.5v5.8M793.5 319.5v5.8M795.6 319.5v5.8M806.7 319.5v5.8M808.8 319.5v5.8M827.3 319.5v5.8M842.1 319.5v5.8M909.7 319.5v5.8M910.9 319.5v5.8M915.8 319.5v5.8M85.3 323.7v5.8M104.3 323.7v5.8M146.7 323.7v5.8M166.9 323.7v5.8M176.7 323.7v5.8M178.8 323.7v5.8M359.6 323.7v5.8M363.7 323.7v5.8M366.1 323.7v5.8M369.9 323.7v5.8M374.8 323.7v5.8M377.7 323.7v5.8M386.3 323.7v5.8M390.4 323.7v5.8M393.7 323.7v5.8M398.7 323.7v5.8M402.4 323.7v5.8M403.6 323.7v5.8M405.7 323.7v5.8M408.1 323.7v5.8M409.4 323.7v5.8M412.3 323.7v5.8M415.6 323.7v5.8M418 323.7v5.8M420.1 323.7v5.8M423.8 323.7v5.8M426.7 323.7v5.8M428.3 323.7v5.8M430 323.7v5.8M433.3 323.7v5.8M436.1 323.7v5.8M437.4 323.7v5.8M439 323.7v5.8M442.7 323.7v5.8M444.4 323.7v5.8M446 323.7v5.8M447.7 323.7v5.8M451.8 323.7v5.8M455.5 323.7v5.8M457.6 323.7v5.8M458.8 323.7v5.8M462.5 323.7v5.8M463.7 323.7v5.8M465 323.7v5.8M467.4 323.7v5.8M469.5 323.7v5.8M471.1 323.7v5.8M472.4 323.7v5.8M476.5 323.7v5.8M479.4 323.7v5.8M481.8 323.7v5.8M484.3 323.7v5.8M486.4 323.7v5.8M488.4 323.7v5.8M491.7 323.7v5.8M494.6 323.7v5.8M497.5 323.7v5.8M499.1 323.7v5.8M500.8 323.7v5.8M502 323.7v5.8M506.6 323.7v5.8M507.8 323.7v5.8M511.5 323.7v5.8M514.8 323.7v5.8M519.7 323.7v5.8M524.7 323.7v5.8M526.3 323.7v5.8M531.7 323.7v5.8M536.2 323.7v5.8M537.4 323.7v5.8M540.7 323.7v5.8M544.8 323.7v5.8M546.5 323.7v5.8M552.3 323.7v5.8M556 323.7v5.8M563.4 323.7v5.8M567.1 323.7v5.8M569.6 323.7v5.8M572.4 323.7v5.8M577.8 323.7v5.8M585.2 323.7v5.8M590.1 323.7v5.8M598.8 323.7v5.8M604.5 323.7v5.8M609.9 323.7v5.8M618.1 323.7v5.8M623.5 323.7v5.8M625.5 323.7v5.8M630.5 323.7v5.8M635 323.7v5.8M637.1 323.7v5.8M639.5 323.7v5.8M643.3 323.7v5.8M646.1 323.7v5.8M651.1 323.7v5.8M657.3 323.7v5.8M658.5 323.7v5.8M662.6 323.7v5.8M665.5 323.7v5.8M668 323.7v5.8M671.7 323.7v5.8M675 323.7v5.8M687.7 323.7v5.8M698 323.7v5.8M706.7 323.7v5.8M718.2 323.7v5.8M721.1 323.7v5.8M730.5 323.7v5.8M738.4 323.7v5.8M743.7 323.7v5.8M750.3 323.7v5.8M775.4 323.7v5.8M810.4 323.7v5.8M812.5 323.7v5.8M815 323.7v5.8M943 323.7v5.8M89 327.9v5.8M94 327.9v5.8M117.4 327.9v5.8M123.2 327.9v5.8M127.3 327.9v5.8M129.8 327.9v5.8M136.4 327.9v5.8M139.3 327.9v5.8M142.2 327.9v5.8M145.9 327.9v5.8M150.4 327.9v5.8M185.8 327.9v5.8M221.6 327.9v5.8M252.1 327.9v5.8M253.3 327.9v5.8M305.2 327.9v5.8M306.4 327.9v5.8M308.9 327.9v5.8M311.4 327.9v5.8M357.9 327.9v5.8M390.4 327.9v5.8M395.4 327.9v5.8M401.1 327.9v5.8M403.2 327.9v5.8M409 327.9v5.8M421.3 327.9v5.8M427.1 327.9v5.8M432.4 327.9v5.8M434.5 327.9v5.8M438.2 327.9v5.8M445.2 327.9v5.8M446.4 327.9v5.8M453 327.9v5.8M457.6 327.9v5.8M460.8 327.9v5.8M465.8 327.9v5.8M468.7 327.9v5.8M473.6 327.9v5.8M476.5 327.9v5.8M480.6 327.9v5.8M483.9 327.9v5.8M487.6 327.9v5.8M490.5 327.9v5.8M492.6 327.9v5.8M496.3 327.9v5.8M497.9 327.9v5.8M499.1 327.9v5.8M502 327.9v5.8M507 327.9v5.8M509.4 327.9v5.8M511.9 327.9v5.8M515.2 327.9v5.8M517.7 327.9v5.8M525.9 327.9v5.8M532.9 327.9v5.8M534.6 327.9v5.8M542.4 327.9v5.8M554.7 327.9v5.8M559.7 327.9v5.8M565 327.9v5.8M567.9 327.9v5.8M578.6 327.9v5.8M588.9 327.9v5.8M594.7 327.9v5.8M599.2 327.9v5.8M603.3 327.9v5.8M611.1 327.9v5.8M614.8 327.9v5.8M617.7 327.9v5.8M620.6 327.9v5.8M623.5 327.9v5.8M628.4 327.9v5.8M637.9 327.9v5.8M639.5 327.9v5.8M645.7 327.9v5.8M649.8 327.9v5.8M652.3 327.9v5.8M656 327.9v5.8M664.7 327.9v5.8M670.4 327.9v5.8M676.6 327.9v5.8M679.1 327.9v5.8M680.7 327.9v5.8M686.1 327.9v5.8M689.8 327.9v5.8M699.7 327.9v5.8M712.4 327.9v5.8M713.7 327.9v5.8M723.5 327.9v5.8M740 327.9v5.8M745.4 327.9v5.8M771.7 327.9v5.8M775.4 327.9v5.8M807.5 327.9v5.8M810 327.9v5.8M861.9 327.9v5.8M871.8 327.9v5.8M873.4 327.9v5.8M875.1 327.9v5.8M877.1 327.9v5.8M880 327.9v5.8M882.5 327.9v5.8M889.1 327.9v5.8M894 327.9v5.8M941.8 327.9v5.8M943 327.9v5.8M147.5 332.2v5.8M254.6 332.2v5.8M276 332.2v5.8M282.6 332.2v5.8M299 332.2v5.8M309.7 332.2v5.8M335.3 332.2v5.8M338.6 332.2v5.8M340.6 332.2v5.8M370.7 332.2v5.8M374 332.2v5.8M378.5 332.2v5.8M388.8 332.2v5.8M391.3 332.2v5.8M397.4 332.2v5.8M399.9 332.2v5.8M402.4 332.2v5.8M406.5 332.2v5.8M409.8 332.2v5.8M414.3 332.2v5.8M418.4 332.2v5.8M424.6 332.2v5.8M429.6 332.2v5.8M432.8 332.2v5.8M438.6 332.2v5.8M442.7 332.2v5.8M446.4 332.2v5.8M451 332.2v5.8M460.4 332.2v5.8M465.8 332.2v5.8M470.7 332.2v5.8M472 332.2v5.8M475.3 332.2v5.8M477.3 332.2v5.8M483.1 332.2v5.8M486 332.2v5.8M488.4 332.2v5.8M490.9 332.2v5.8M495.4 332.2v5.8M498.3 332.2v5.8M501.6 332.2v5.8M503.7 332.2v5.8M507 332.2v5.8M511.5 332.2v5.8M515.6 332.2v5.8M520.6 332.2v5.8M523.8 332.2v5.8M525.5 332.2v5.8M528.8 332.2v5.8M537 332.2v5.8M539.5 332.2v5.8M552.3 332.2v5.8M556.8 332.2v5.8M559.7 332.2v5.8M562.6 332.2v5.8M569.1 332.2v5.8M578.6 332.2v5.8M621 332.2v5.8M623.1 332.2v5.8M627.6 332.2v5.8M634.6 332.2v5.8M641.2 332.2v5.8M647 332.2v5.8M652.7 332.2v5.8M661.8 332.2v5.8M666.3 332.2v5.8M668.4 332.2v5.8M672.5 332.2v5.8M677.8 332.2v5.8M686.5 332.2v5.8M693.9 332.2v5.8M698.4 332.2v5.8M704.6 332.2v5.8M710.8 332.2v5.8M712 332.2v5.8M717 332.2v5.8M725.6 332.2v5.8M743.3 332.2v5.8M744.5 332.2v5.8M746.2 332.2v5.8M751.1 332.2v5.8M753.6 332.2v5.8M775.8 332.2v5.8M778.7 332.2v5.8M783.2 332.2v5.8M791.5 332.2v5.8M807.5 332.2v5.8M145.4 336.4v5.8M215 336.4v5.8M217.5 336.4v5.8M219.6 336.4v5.8M223.7 336.4v5.8M227.4 336.4v5.8M266.9 336.4v5.8M271.9 336.4v5.8M276.8 336.4v5.8M280.5 336.4v5.8M303.1 336.4v5.8M368.6 336.4v5.8M385.9 336.4v5.8M395.8 336.4v5.8M403.2 336.4v5.8M413.9 336.4v5.8M421.3 336.4v5.8M427.5 336.4v5.8M433.3 336.4v5.8M435.7 336.4v5.8M441.5 336.4v5.8M459.2 336.4v5.8M462.1 336.4v5.8M469.9 336.4v5.8M472.4 336.4v5.8M479.8 336.4v5.8M488.8 336.4v5.8M493.4 336.4v5.8M496.7 336.4v5.8M499.1 336.4v5.8M502.8 336.4v5.8M505.3 336.4v5.8M512.7 336.4v5.8M516 336.4v5.8M519.3 336.4v5.8M521.4 336.4v5.8M527.6 336.4v5.8M531.3 336.4v5.8M533.3 336.4v5.8M545.7 336.4v5.8M560.5 336.4v5.8M564.2 336.4v5.8M568.3 336.4v5.8M571.6 336.4v5.8M579 336.4v5.8M590.5 336.4v5.8M600.8 336.4v5.8M602.5 336.4v5.8M608.7 336.4v5.8M614.8 336.4v5.8M620.2 336.4v5.8M625.1 336.4v5.8M628.4 336.4v5.8M633 336.4v5.8M636.3 336.4v5.8M640.4 336.4v5.8M643.7 336.4v5.8M646.1 336.4v5.8M652.7 336.4v5.8M657.3 336.4v5.8M663.4 336.4v5.8M665.5 336.4v5.8M672.5 336.4v5.8M684 336.4v5.8M689 336.4v5.8M702.1 336.4v5.8M705 336.4v5.8M707.1 336.4v5.8M711.2 336.4v5.8M729.7 336.4v5.8M749.9 336.4v5.8M772.5 336.4v5.8M784.5 336.4v5.8M790.7 336.4v5.8M793.1 336.4v5.8M942.6 336.4v5.8M92.7 340.6v5.8M104.7 340.6v5.8M144.2 340.6v5.8M150.4 340.6v5.8M152.4 340.6v5.8M155.3 340.6v5.8M159.4 340.6v5.8M164.4 340.6v5.8M166.4 340.6v5.8M170.2 340.6v5.8M172.2 340.6v5.8M176.7 340.6v5.8M179.2 340.6v5.8M198.6 340.6v5.8M310.6 340.6v5.8M312.6 340.6v5.8M318 340.6v5.8M320 340.6v5.8M334.4 340.6v5.8M336.1 340.6v5.8M342.3 340.6v5.8M347.6 340.6v5.8M349.3 340.6v5.8M350.5 340.6v5.8M362.9 340.6v5.8M364.5 340.6v5.8M366.1 340.6v5.8M368.6 340.6v5.8M370.7 340.6v5.8M372.3 340.6v5.8M375.6 340.6v5.8M378.5 340.6v5.8M382.2 340.6v5.8M389.6 340.6v5.8M391.7 340.6v5.8M395 340.6v5.8M401.6 340.6v5.8M404 340.6v5.8M407.3 340.6v5.8M416 340.6v5.8M418.4 340.6v5.8M425.8 340.6v5.8M430.8 340.6v5.8M432.8 340.6v5.8M437 340.6v5.8M438.2 340.6v5.8M441.5 340.6v5.8M450.6 340.6v5.8M458.8 340.6v5.8M463.7 340.6v5.8M476.1 340.6v5.8M479 340.6v5.8M480.2 340.6v5.8M493.4 340.6v5.8M526.7 340.6v5.8M548.1 340.6v5.8M554.7 340.6v5.8M561.3 340.6v5.8M564.2 340.6v5.8M574.5 340.6v5.8M581.9 340.6v5.8M586.4 340.6v5.8M594.3 340.6v5.8M597.1 340.6v5.8M601.7 340.6v5.8M605 340.6v5.8M606.6 340.6v5.8M611.5 340.6v5.8M612.8 340.6v5.8M616.9 340.6v5.8M620.6 340.6v5.8M626 340.6v5.8M628.4 340.6v5.8M631.7 340.6v5.8M633.4 340.6v5.8M634.6 340.6v5.8M636.3 340.6v5.8M638.3 340.6v5.8M642 340.6v5.8M644.5 340.6v5.8M649 340.6v5.8M654.8 340.6v5.8M658.5 340.6v5.8M661.4 340.6v5.8M665.5 340.6v5.8M666.7 340.6v5.8M668.4 340.6v5.8M671.7 340.6v5.8M674.5 340.6v5.8M676.6 340.6v5.8M678.3 340.6v5.8M679.9 340.6v5.8M681.1 340.6v5.8M684 340.6v5.8M686.5 340.6v5.8M691.4 340.6v5.8M693.5 340.6v5.8M697.6 340.6v5.8M698.8 340.6v5.8M703.4 340.6v5.8M705 340.6v5.8M710.8 340.6v5.8M718.6 340.6v5.8M722.7 340.6v5.8M726 340.6v5.8M730.1 340.6v5.8M733.4 340.6v5.8M742.1 340.6v5.8M745.4 340.6v5.8M750.3 340.6v5.8M756.1 340.6v5.8M760.2 340.6v5.8M763.5 340.6v5.8M765.1 340.6v5.8M780 340.6v5.8M787.4 340.6v5.8M791.5 340.6v5.8M842.1 340.6v5.8M855.3 340.6v5.8M864 340.6v5.8M91.5 344.9v5.8M204.3 344.9v5.8M381.4 344.9v5.8M385.1 344.9v5.8M388 344.9v5.8M393.3 344.9v5.8M398.3 344.9v5.8M404.9 344.9v5.8M407.3 344.9v5.8M417.6 344.9v5.8M422.6 344.9v5.8M425 344.9v5.8M428.7 344.9v5.8M435.3 344.9v5.8M438.2 344.9v5.8M439.4 344.9v5.8M444.8 344.9v5.8M447.3 344.9v5.8M449.3 344.9v5.8M458.4 344.9v5.8M462.9 344.9v5.8M465.8 344.9v5.8M468.7 344.9v5.8M472.4 344.9v5.8M473.6 344.9v5.8M479.4 344.9v5.8M481.8 344.9v5.8M483.9 344.9v5.8M486 344.9v5.8M488.8 344.9v5.8M494.2 344.9v5.8M497.9 344.9v5.8M500.8 344.9v5.8M502.8 344.9v5.8M506.6 344.9v5.8M507.8 344.9v5.8M513.1 344.9v5.8M516 344.9v5.8M518.1 344.9v5.8M521 344.9v5.8M525.1 344.9v5.8M528.4 344.9v5.8M529.6 344.9v5.8M536.6 344.9v5.8M539.5 344.9v5.8M542.8 344.9v5.8M544.8 344.9v5.8M551.8 344.9v5.8M559.3 344.9v5.8M561.3 344.9v5.8M564.2 344.9v5.8M570.8 344.9v5.8M576.1 344.9v5.8M579.8 344.9v5.8M581.5 344.9v5.8M584.4 344.9v5.8M589.7 344.9v5.8M591.4 344.9v5.8M594.3 344.9v5.8M597.1 344.9v5.8M601.3 344.9v5.8M603.7 344.9v5.8M609.5 344.9v5.8M615.3 344.9v5.8M616.9 344.9v5.8M624.3 344.9v5.8M630.5 344.9v5.8M632.5 344.9v5.8M637.5 344.9v5.8M641.2 344.9v5.8M643.7 344.9v5.8M647.8 344.9v5.8M651.9 344.9v5.8M653.1 344.9v5.8M658.1 344.9v5.8M662.2 344.9v5.8M666.7 344.9v5.8M668.4 344.9v5.8M672.5 344.9v5.8M679.9 344.9v5.8M691.8 344.9v5.8M703 344.9v5.8M705.4 344.9v5.8M711.6 344.9v5.8M715.7 344.9v5.8M719.4 344.9v5.8M735.9 344.9v5.8M758.1 344.9v5.8M767.6 344.9v5.8M769.7 344.9v5.8M779.5 344.9v5.8M938.1 344.9v5.8M940.5 344.9v5.8" fill="none" stroke="#DD8452" stroke-width="3.2" clip-path="url(#ra)"/><path d="M91.5 347.1v0.8M204.3 347.1v0.8M381.4 347.1v0.8M385.1 347.1v0.8M388 347.1v0.8M393.3 347.1v0.8M398.3 347.1v0.8M404.9 347.1v0.8M407.3 347.1v0.8M417.6 347.1v0.8M422.6 347.1v0.8M425 347.1v0.8M428.7 347.1v0.8M435.3 347.1v0.8M438.2 347.1v0.8M439.4 347.1v0.8M444.8 347.1v0.8M447.3 347.1v0.8M449.3 347.1v0.8M458.4 347.1v0.8M462.9 347.1v0.8M465.8 347.1v0.8M468.7 347.1v0.8M472.4 347.1v0.8M473.6 347.1v0.8M479.4 347.1v0.8M481.8 347.1v0.8M483.9 347.1v0.8M486 347.1v0.8M488.8 347.1v0.8M494.2 347.1v0.8M497.9 347.1v0.8M500.8 347.1v0.8M502.8 347.1v0.8M506.6 347.1v0.8M507.8 347.1v0.8M513.1 347.1v0.8M516 347.1v0.8M518.1 347.1v0.8M521 347.1v0.8M525.1 347.1v0.8M528.4 347.1v0.8M529.6 347.1v0.8M536.6 347.1v0.8M539.5 347.1v0.8M542.8 347.1v0.8M544.8 347.1v0.8M551.8 347.1v0.8M559.3 347.1v0.8M561.3 347.1v0.8M564.2 347.1v0.8M570.8 347.1v0.8M576.1 347.1v0.8M579.8 347.1v0.8M581.5 347.1v0.8M584.4 347.1v0.8M589.7 347.1v0.8M591.4 347.1v0.8M594.3 347.1v0.8M597.1 347.1v0.8M601.3 347.1v0.8M603.7 347.1v0.8M609.5 347.1v0.8M615.3 347.1v0.8M616.9 347.1v0.8M624.3 347.1v0.8M630.5 347.1v0.8M632.5 347.1v0.8M637.5 347.1v0.8M641.2 347.1v0.8M643.7 347.1v0.8M647.8 347.1v0.8M651.9 347.1v0.8M653.1 347.1v0.8M658.1 347.1v0.8M662.2 347.1v0.8M666.7 347.1v0.8M668.4 347.1v0.8M672.5 347.1v0.8M679.9 347.1v0.8M691.8 347.1v0.8M703 347.1v0.8M705.4 347.1v0.8M711.6 347.1v0.8M715.7 347.1v0.8M719.4 347.1v0.8M735.9 347.1v0.8M758.1 347.1v0.8M767.6 347.1v0.8M769.7 347.1v0.8M779.5 347.1v0.8M938.1 347.1v0.8M940.5 347.1v0.8" fill="none" stroke="#DD8452" stroke-width="3.2" stroke-opacity="0.45"/><path d="M1134 95.1v5.8M1160.8 95.1v5.8M1248.9 95.1v5.8M1256.3 95.1v5.8M1259.6 95.1v5.8M1265.8 95.1v5.8M1267.8 95.1v5.8M1270.7 95.1v5.8M1281.8 95.1v5.8M1294.6 95.1v5.8M1297.9 95.1v5.8M1302.8 95.1v5.8M1330.8 95.1v5.8M1334.9 95.1v5.8M1341.9 95.1v5.8M1346 95.1v5.8M1428.4 95.1v5.8M1435.8 95.1v5.8M1439.9 95.1v5.8M1442.8 95.1v5.8M1445.3 95.1v5.8M1449.8 95.1v5.8M1452.7 95.1v5.8M1454.7 95.1v5.8M1456.8 95.1v5.8M1458.5 95.1v5.8M1463 95.1v5.8M1468.3 95.1v5.8M1471.6 95.1v5.8M1474.9 95.1v5.8M1476.6 95.1v5.8M1477.8 95.1v5.8M1481.1 95.1v5.8M1482.3 95.1v5.8M1486 95.1v5.8M1487.7 95.1v5.8M1491.8 95.1v5.8M1494.3 95.1v5.8M1495.5 95.1v5.8M1498.4 95.1v5.8M1500.9 95.1v5.8M1504.2 95.1v5.8M1506.6 95.1v5.8M1512.4 95.1v5.8M1514.5 95.1v5.8M1519.4 95.1v5.8M1522.3 95.1v5.8M1526 95.1v5.8M1529.7 95.1v5.8M1531.3 95.1v5.8M1534.2 95.1v5.8M1536.3 95.1v5.8M1541.2 95.1v5.8M1547.4 95.1v5.8M1550.7 95.1v5.8M1553.2 95.1v5.8M1555.6 95.1v5.8M1559.7 95.1v5.8M1563 95.1v5.8M1565.9 95.1v5.8M1569.2 95.1v5.8M1572.9 95.1v5.8M1575.4 95.1v5.8M1579.1 95.1v5.8M1587.3 95.1v5.8M1589.8 95.1v5.8M1598 95.1v5.8M1599.7 95.1v5.8M1602.6 95.1v5.8M1607.5 95.1v5.8M1610.4 95.1v5.8M1613.7 95.1v5.8M1627.3 95.1v5.8M1640.9 95.1v5.8M1642.9 95.1v5.8M1644.2 95.1v5.8M1649.1 95.1v5.8M1650.7 95.1v5.8M1657.7 95.1v5.8M1666 95.1v5.8M1672.2 95.1v5.8M1676.7 95.1v5.8M1687 95.1v5.8M1690.3 95.1v5.8M1693.6 95.1v5.8M1696.4 95.1v5.8M1698.5 95.1v5.8M1703 95.1v5.8M1707.6 95.1v5.8M1712.9 95.1v5.8M1715.8 95.1v5.8M1723.2 95.1v5.8M1728.2 95.1v5.8M1736.8 95.1v5.8M1756.2 95.1v5.8M1202.8 99.4v5.8M1206.9 99.4v5.8M1208.9 99.4v5.8M1221.3 99.4v5.8M1257.9 99.4v5.8M1261.6 99.4v5.8M1355.1 99.4v5.8M1357.2 99.4v5.8M1425.1 99.4v5.8M1432.9 99.4v5.8M1445.3 99.4v5.8M1447.8 99.4v5.8M1452.3 99.4v5.8M1454.3 99.4v5.8M1456.4 99.4v5.8M1458 99.4v5.8M1460.5 99.4v5.8M1465 99.4v5.8M1466.7 99.4v5.8M1468.7 99.4v5.8M1473.7 99.4v5.8M1475.7 99.4v5.8M1478.2 99.4v5.8M1480.3 99.4v5.8M1485.2 99.4v5.8M1487.3 99.4v5.8M1490.2 99.4v5.8M1492.6 99.4v5.8M1498.4 99.4v5.8M1500.5 99.4v5.8M1502.9 99.4v5.8M1507.9 99.4v5.8M1510.3 99.4v5.8M1515.3 99.4v5.8M1521.5 99.4v5.8M1525.6 99.4v5.8M1532.6 99.4v5.8M1535 99.4v5.8M1540 99.4v5.8M1543.7 99.4v5.8M1546.6 99.4v5.8M1549.9 99.4v5.8M1557.3 99.4v5.8M1562.6 99.4v5.8M1569.2 99.4v5.8M1572.1 99.4v5.8M1575.4 99.4v5.8M1582.4 99.4v5.8M1587.7 99.4v5.8M1593.1 99.4v5.8M1596 99.4v5.8M1597.2 99.4v5.8M1598.9 99.4v5.8M1603 99.4v5.8M1610.4 99.4v5.8M1613.7 99.4v5.8M1624.4 99.4v5.8M1636.3 99.4v5.8M1661 99.4v5.8M1666.8 99.4v5.8M1672.2 99.4v5.8M1696 99.4v5.8M1710.4 99.4v5.8M1718.7 99.4v5.8M1725.7 99.4v5.8M1733.5 99.4v5.8M1754.1 99.4v5.8M1755.7 99.4v5.8M1761.9 99.4v5.8M1764.8 99.4v5.8M1777.2 99.4v5.8M1830.3 99.4v5.8M1932 99.4v5.8M1937.3 99.4v5.8M1939.8 99.4v5.8M1944.3 99.4v5.8M1948.4 99.4v5.8M1951.3 99.4v5.8M1953.8 99.4v5.8M1955.8 99.4v5.8M1958.3 99.4v5.8M1962.4 99.4v5.8M1967.8 99.4v5.8M1971.9 99.4v5.8M1974.8 99.4v5.8M1978.1 99.4v5.8M1981 99.4v5.8M1184.6 103.6v5.8M1392.6 103.6v5.8M1405.3 103.6v5.8M1428 103.6v5.8M1435.8 103.6v5.8M1442 103.6v5.8M1445.7 103.6v5.8M1463.4 103.6v5.8M1465 103.6v5.8M1477.8 103.6v5.8M1481.1 103.6v5.8M1493.5 103.6v5.8M1496.3 103.6v5.8M1501.7 103.6v5.8M1507 103.6v5.8M1508.7 103.6v5.8M1510.7 103.6v5.8M1516.1 103.6v5.8M1519.8 103.6v5.8M1521 103.6v5.8M1525.2 103.6v5.8M1534.6 103.6v5.8M1540.8 103.6v5.8M1546.6 103.6v5.8M1554 103.6v5.8M1558.5 103.6v5.8M1562.2 103.6v5.8M1565.9 103.6v5.8M1576.2 103.6v5.8M1577.9 103.6v5.8M1589.4 103.6v5.8M1604.6 103.6v5.8M1613.7 103.6v5.8M1687 103.6v5.8M1698.5 103.6v5.8M1751.6 103.6v5.8M1770.6 103.6v5.8M1772.6 103.6v5.8M1806 103.6v5.8M1177.6 107.8v5.8M1179.7 107.8v5.8M1231.6 107.8v5.8M1233.2 107.8v5.8M1235.3 107.8v5.8M1326.7 107.8v5.8M1339 107.8v5.8M1345.2 107.8v5.8M1381.5 107.8v5.8M1383.5 107.8v5.8M1407 107.8v5.8M1439.9 107.8v5.8M1441.6 107.8v5.8M1451 107.8v5.8M1453.9 107.8v5.8M1455.6 107.8v5.8M1460.1 107.8v5.8M1463.8 107.8v5.8M1469.6 107.8v5.8M1472.9 107.8v5.8M1478.2 107.8v5.8M1486 107.8v5.8M1489.3 107.8v5.8M1495.9 107.8v5.8M1500.9 107.8v5.8M1505 107.8v5.8M1514 107.8v5.8M1515.7 107.8v5.8M1519 107.8v5.8M1522.7 107.8v5.8M1532.6 107.8v5.8M1536.7 107.8v5.8M1540.4 107.8v5.8M1544.1 107.8v5.8M1551.1 107.8v5.8M1554.4 107.8v5.8M1558.5 107.8v5.8M1562.2 107.8v5.8M1567.6 107.8v5.8M1571.3 107.8v5.8M1579.5 107.8v5.8M1591.9 107.8v5.8M1617 107.8v5.8M1628.9 107.8v5.8M1714.2 107.8v5.8M1719.1 107.8v5.8M1760.7 107.8v5.8M1780.9 107.8v5.8M1788.3 107.8v5.8M1843.4 107.8v5.8M1846.3 107.8v5.8M1852.9 107.8v5.8M1855.8 107.8v5.8M1859.1 107.8v5.8M1865.7 107.8v5.8M1867.3 107.8v5.8M1981.8 107.8v5.8M1136.5 112.1v5.8M1141.8 112.1v5.8M1179.7 112.1v5.8M1238.6 112.1v5.8M1239.8 112.1v5.8M1430.9 112.1v5.8M1433.8 112.1v5.8M1436.2 112.1v5.8M1445.7 112.1v5.8M1448.6 112.1v5.8M1450.6 112.1v5.8M1452.3 112.1v5.8M1453.9 112.1v5.8M1457.2 112.1v5.8M1460.1 112.1v5.8M1465 112.1v5.8M1466.7 112.1v5.8M1472.9 112.1v5.8M1474.1 112.1v5.8M1475.7 112.1v5.8M1477.8 112.1v5.8M1479 112.1v5.8M1481.5 112.1v5.8M1483.6 112.1v5.8M1486.5 112.1v5.8M1488.5 112.1v5.8M1492.6 112.1v5.8M1496.7 112.1v5.8M1504.6 112.1v5.8M1510.7 112.1v5.8M1515.7 112.1v5.8M1520.2 112.1v5.8M1527.2 112.1v5.8M1530.9 112.1v5.8M1532.6 112.1v5.8M1534.2 112.1v5.8M1537.1 112.1v5.8M1540.4 112.1v5.8M1550.7 112.1v5.8M1554.8 112.1v5.8M1557.3 112.1v5.8M1558.9 112.1v5.8M1567.6 112.1v5.8M1569.2 112.1v5.8M1572.5 112.1v5.8M1576.6 112.1v5.8M1579.1 112.1v5.8M1585.7 112.1v5.8M1587.7 112.1v5.8M1593.5 112.1v5.8M1598 112.1v5.8M1603.4 112.1v5.8M1607.9 112.1v5.8M1613.7 112.1v5.8M1616.2 112.1v5.8M1619.4 112.1v5.8M1626 112.1v5.8M1628.9 112.1v5.8M1638.4 112.1v5.8M1642.9 112.1v5.8M1651.2 112.1v5.8M1659 112.1v5.8M1661 112.1v5.8M1663.1 112.1v5.8M1667.2 112.1v5.8M1670.1 112.1v5.8M1680 112.1v5.8M1685.3 112.1v5.8M1696 112.1v5.8M1699.7 112.1v5.8M1705.1 112.1v5.8M1711.3 112.1v5.8M1715.8 112.1v5.8M1718.3 112.1v5.8M1721.6 112.1v5.8M1728.2 112.1v5.8M1747.9 112.1v5.8M1751.2 112.1v5.8M1752.4 112.1v5.8M1770.2 112.1v5.8M1784.6 112.1v5.8M1787 112.1v5.8M1822.9 112.1v5.8M1826.6 112.1v5.8M1829.9 112.1v5.8M1833.1 112.1v5.8M1838.9 112.1v5.8M1873.1 112.1v5.8M1901.9 112.1v5.8M1913.9 112.1v5.8M1925 112.1v5.8M1139.3 116.3v5.8M1194.1 116.3v5.8M1221.7 116.3v5.8M1228.3 116.3v5.8M1230.3 116.3v5.8M1234.1 116.3v5.8M1236.5 116.3v5.8M1239.8 116.3v5.8M1261.2 116.3v5.8M1434.2 116.3v5.8M1438.3 116.3v5.8M1442 116.3v5.8M1444 116.3v5.8M1450.6 116.3v5.8M1454.7 116.3v5.8M1458.5 116.3v5.8M1460.9 116.3v5.8M1465.5 116.3v5.8M1470.4 116.3v5.8M1473.3 116.3v5.8M1477.4 116.3v5.8M1480.3 116.3v5.8M1481.5 116.3v5.8M1484.8 116.3v5.8M1486 116.3v5.8M1491.4 116.3v5.8M1495.1 116.3v5.8M1497.6 116.3v5.8M1499.2 116.3v5.8M1503.3 116.3v5.8M1506.6 116.3v5.8M1509.5 116.3v5.8M1513.6 116.3v5.8M1518.2 116.3v5.8M1521.9 116.3v5.8M1524.7 116.3v5.8M1526.4 116.3v5.8M1528.9 116.3v5.8M1530.9 116.3v5.8M1533 116.3v5.8M1535.5 116.3v5.8M1539.6 116.3v5.8M1541.6 116.3v5.8M1544.1 116.3v5.8M1547.8 116.3v5.8M1550.3 116.3v5.8M1558.5 116.3v5.8M1562.2 116.3v5.8M1563.9 116.3v5.8M1569.6 116.3v5.8M1571.3 116.3v5.8M1573.3 116.3v5.8M1575 116.3v5.8M1577 116.3v5.8M1579.1 116.3v5.8M1582 116.3v5.8M1584.9 116.3v5.8M1586.9 116.3v5.8M1593.1 116.3v5.8M1595.6 116.3v5.8M1597.6 116.3v5.8M1601.3 116.3v5.8M1603 116.3v5.8M1608.7 116.3v5.8M1610.8 116.3v5.8M1613.7 116.3v5.8M1619 116.3v5.8M1620.3 116.3v5.8M1629.7 116.3v5.8M1634.3 116.3v5.8M1652 116.3v5.8M1656.1 116.3v5.8M1672.6 116.3v5.8M1679.6 116.3v5.8M1685.7 116.3v5.8M1688.2 116.3v5.8M1697.3 116.3v5.8M1700.6 116.3v5.8M1709.6 116.3v5.8M1712.5 116.3v5.8M1716.2 116.3v5.8M1727.3 116.3v5.8M1753.7 116.3v5.8M1788.3 116.3v5.8M1799.4 116.3v5.8M1801.9 116.3v5.8M1816.7 116.3v5.8M1915.5 116.3v5.8M1917.1 116.3v5.8M1920.9 116.3v5.8M1963.7 116.3v5.8M1115.9 120.5v5.8M1118.8 120.5v5.8M1122.5 120.5v5.8M1127.4 120.5v5.8M1133.2 120.5v5.8M1136.5 120.5v5.8M1138.5 120.5v5.8M1190.4 120.5v5.8M1193.3 120.5v5.8M1414.4 120.5v5.8M1442 120.5v5.8M1447.3 120.5v5.8M1451.9 120.5v5.8M1456.4 120.5v5.8M1459.3 120.5v5.8M1463 120.5v5.8M1467.5 120.5v5.8M1471.6 120.5v5.8M1476.6 120.5v5.8M1478.6 120.5v5.8M1484.8 120.5v5.8M1489.3 120.5v5.8M1491.8 120.5v5.8M1495.5 120.5v5.8M1498 120.5v5.8M1499.6 120.5v5.8M1501.3 120.5v5.8M1503.3 120.5v5.8M1506.6 120.5v5.8M1509.9 120.5v5.8M1513.6 120.5v5.8M1515.7 120.5v5.8M1520.6 120.5v5.8M1523.9 120.5v5.8M1526.8 120.5v5.8M1528.9 120.5v5.8M1532.6 120.5v5.8M1535.5 120.5v5.8M1539.2 120.5v5.8M1544.1 120.5v5.8M1547.4 120.5v5.8M1551.5 120.5v5.8M1554 120.5v5.8M1557.7 120.5v5.8M1560.6 120.5v5.8M1564.3 120.5v5.8M1568 120.5v5.8M1572.5 120.5v5.8M1574.2 120.5v5.8M1577 120.5v5.8M1581.2 120.5v5.8M1585.3 120.5v5.8M1589 120.5v5.8M1591 120.5v5.8M1593.9 120.5v5.8M1597.6 120.5v5.8M1600.1 120.5v5.8M1603.8 120.5v5.8M1606.7 120.5v5.8M1607.9 120.5v5.8M1609.6 120.5v5.8M1611.2 120.5v5.8M1614.1 120.5v5.8M1618.6 120.5v5.8M1623.2 120.5v5.8M1626.9 120.5v5.8M1632.6 120.5v5.8M1639.6 120.5v5.8M1642.1 120.5v5.8M1647 120.5v5.8M1653.2 120.5v5.8M1656.5 120.5v5.8M1661.9 120.5v5.8M1668.9 120.5v5.8M1673.4 120.5v5.8M1682.4 120.5v5.8M1685.3 120.5v5.8M1688.2 120.5v5.8M1693.2 120.5v5.8M1698.1 120.5v5.8M1701.8 120.5v5.8M1706.3 120.5v5.8M1708.8 120.5v5.8M1710 120.5v5.8M1715.8 120.5v5.8M1719.9 120.5v5.8M1724 120.5v5.8M1731.4 120.5v5.8M1737.2 120.5v5.8M1785.8 120.5v5.8M1973.6 120.5v5.8M1974.8 120.5v5.8M1977.7 120.5v5.8M1216.3 124.8v5.8M1248.1 124.8v5.8M1267.8 124.8v5.8M1269.1 124.8v5.8M1301.6 124.8v5.8M1313.5 124.8v5.8M1326.3 124.8v5.8M1337 124.8v5.8M1347.7 124.8v5.8M1354.7 124.8v5.8M1360 124.8v5.8M1374.5 124.8v5.8M1427.2 124.8v5.8M1441.6 124.8v5.8M1463.8 124.8v5.8M1467.5 124.8v5.8M1470.8 124.8v5.8M1474.5 124.8v5.8M1480.7 124.8v5.8M1484.8 124.8v5.8M1491 124.8v5.8M1493 124.8v5.8M1497.2 124.8v5.8M1498.8 124.8v5.8M1501.7 124.8v5.8M1510.7 124.8v5.8M1516.5 124.8v5.8M1521.9 124.8v5.8M1524.3 124.8v5.8M1530.9 124.8v5.8M1538.3 124.8v5.8M1542 124.8v5.8M1545.7 124.8v5.8M1548.2 124.8v5.8M1553.6 124.8v5.8M1558.1 124.8v5.8M1561.4 124.8v5.8M1570.9 124.8v5.8M1575.8 124.8v5.8M1582.4 124.8v5.8M1589.4 124.8v5.8M1596 124.8v5.8M1600.5 124.8v5.8M1605.5 124.8v5.8M1608.3 124.8v5.8M1614.1 124.8v5.8M1619.4 124.8v5.8M1620.7 124.8v5.8M1624.8 124.8v5.8M1626.9 124.8v5.8M1628.1 124.8v5.8M1635.1 124.8v5.8M1638 124.8v5.8M1645.4 124.8v5.8M1650.7 124.8v5.8M1654.4 124.8v5.8M1662.7 124.8v5.8M1665.6 124.8v5.8M1667.6 124.8v5.8M1671.7 124.8v5.8M1678.7 124.8v5.8M1684.5 124.8v5.8M1686.2 124.8v5.8M1688.6 124.8v5.8M1696.4 124.8v5.8M1700.2 124.8v5.8M1702.6 124.8v5.8M1705.9 124.8v5.8M1709.2 124.8v5.8M1712.1 124.8v5.8M1713.3 124.8v5.8M1717 124.8v5.8M1719.5 124.8v5.8M1721.6 124.8v5.8M1724.9 124.8v5.8M1727.7 124.8v5.8M1729.8 124.8v5.8M1736.4 124.8v5.8M1742.6 124.8v5.8M1744.2 124.8v5.8M1747.5 124.8v5.8M1755.7 124.8v5.8M1815.9 124.8v5.8M1939 124.8v5.8M1134.4 129v5.8M1141 129v5.8M1207.7 129v5.8M1316 129v5.8M1320.1 129v5.8M1415.2 129v5.8M1437 129v5.8M1440.3 129v5.8M1442.8 129v5.8M1450.2 129v5.8M1454.3 129v5.8M1458 129v5.8M1461.3 129v5.8M1463.4 129v5.8M1466.3 129v5.8M1470.4 129v5.8M1473.3 129v5.8M1475.7 129v5.8M1479.9 129v5.8M1482.7 129v5.8M1486 129v5.8M1489.3 129v5.8M1491.4 129v5.8M1494.3 129v5.8M1497.2 129v5.8M1498.8 129v5.8M1503.7 129v5.8M1505.4 129v5.8M1506.6 129v5.8M1508.7 129v5.8M1512.4 129v5.8M1514.5 129v5.8M1517.7 129v5.8M1521.5 129v5.8M1523.5 129v5.8M1526 129v5.8M1529.7 129v5.8M1532.2 129v5.8M1534.2 129v5.8M1538.7 129v5.8M1541.2 129v5.8M1545.7 129v5.8M1547 129v5.8M1548.6 129v5.8M1552.3 129v5.8M1557.3 129v5.8M1562.2 129v5.8M1566.3 129v5.8M1568.8 129v5.8M1570.9 129v5.8M1574.2 129v5.8M1582 129v5.8M1584.9 129v5.8M1588.2 129v5.8M1592.7 129v5.8M1596 129v5.8M1598.9 129v5.8M1602.2 129v5.8M1605 129v5.8M1607.5 129v5.8M1613.7 129v5.8M1621.9 129v5.8M1623.2 129v5.8M1630.6 129v5.8M1638.8 129v5.8M1645.8 129v5.8M1648.7 129v5.8M1654.4 129v5.8M1661.9 129v5.8M1668.4 129v5.8M1670.1 129v5.8M1679.6 129v5.8M1681.2 129v5.8M1683.3 129v5.8M1696.4 129v5.8M1700.6 129v5.8M1707.6 129v5.8M1708.8 129v5.8M1710.4 129v5.8M1712.9 129v5.8M1717.4 129v5.8M1722.8 129v5.8M1731 129v5.8M1761.1 129v5.8M1917.1 129v5.8M1926.2 129v5.8M1943.9 129v5.8M1947.2 129v5.8M1975.6 129v5.8M1121.6 133.2v5.8M1124.5 133.2v5.8M1129.1 133.2v5.8M1131.9 133.2v5.8M1138.1 133.2v5.8M1186.7 133.2v5.8M1190.8 133.2v5.8M1207.7 133.2v5.8M1210.2 133.2v5.8M1211.4 133.2v5.8M1215.1 133.2v5.8M1220.5 133.2v5.8M1325.9 133.2v5.8M1338.6 133.2v5.8M1377.3 133.2v5.8M1400 133.2v5.8M1407.4 133.2v5.8M1412.3 133.2v5.8M1431.3 133.2v5.8M1434.6 133.2v5.8M1442.8 133.2v5.8M1448.6 133.2v5.8M1452.7 133.2v5.8M1454.7 133.2v5.8M1460.5 133.2v5.8M1471.6 133.2v5.8M1474.9 133.2v5.8M1482.3 133.2v5.8M1502.1 133.2v5.8M1512.8 133.2v5.8M1517.3 133.2v5.8M1521.9 133.2v5.8M1526.8 133.2v5.8M1530.9 133.2v5.8M1532.2 133.2v5.8M1540 133.2v5.8M1543.7 133.2v5.8M1546.2 133.2v5.8M1551.5 133.2v5.8M1553.2 133.2v5.8M1558.1 133.2v5.8M1560.6 133.2v5.8M1563 133.2v5.8M1565.9 133.2v5.8M1570 133.2v5.8M1574.6 133.2v5.8M1582.8 133.2v5.8M1586.1 133.2v5.8M1588.2 133.2v5.8M1601.3 133.2v5.8M1602.6 133.2v5.8M1610 133.2v5.8M1612 133.2v5.8M1614.5 133.2v5.8M1619.4 133.2v5.8M1627.7 133.2v5.8M1630.6 133.2v5.8M1637.2 133.2v5.8M1648.3 133.2v5.8M1661.9 133.2v5.8M1665.6 133.2v5.8M1669.3 133.2v5.8M1675.4 133.2v5.8M1683.3 133.2v5.8M1690.7 133.2v5.8M1695.2 133.2v5.8M1698.9 133.2v5.8M1709.6 133.2v5.8M1713.7 133.2v5.8M1717.4 133.2v5.8M1736.4 133.2v5.8M1743.8 133.2v5.8M1761.9 133.2v5.8M1774.7 133.2v5.8M1780.4 133.2v5.8M1785 133.2v5.8M1787 133.2v5.8M1793.6 133.2v5.8M1798.1 133.2v5.8M1802.7 133.2v5.8M1805.1 133.2v5.8M1829.4 133.2v5.8M1943.5 133.2v5.8M1945.1 133.2v5.8M1946.4 133.2v5.8M1951.7 133.2v5.8M1960.4 133.2v5.8M1973.6 133.2v5.8M1145.1 137.5v5.8M1297.5 137.5v5.8M1300.3 137.5v5.8M1306.9 137.5v5.8M1310.2 137.5v5.8M1311.5 137.5v5.8M1314.3 137.5v5.8M1337 137.5v5.8M1374 137.5v5.8M1430 137.5v5.8M1445.3 137.5v5.8M1452.3 137.5v5.8M1461.3 137.5v5.8M1465.5 137.5v5.8M1472 137.5v5.8M1473.3 137.5v5.8M1476.2 137.5v5.8M1478.6 137.5v5.8M1487.7 137.5v5.8M1491.4 137.5v5.8M1496.7 137.5v5.8M1501.7 137.5v5.8M1507 137.5v5.8M1512.8 137.5v5.8M1515.3 137.5v5.8M1519.4 137.5v5.8M1525.6 137.5v5.8M1527.6 137.5v5.8M1532.2 137.5v5.8M1542.9 137.5v5.8M1547.8 137.5v5.8M1560.2 137.5v5.8M1573.7 137.5v5.8M1578.3 137.5v5.8M1584.9 137.5v5.8M1590.2 137.5v5.8M1594.3 137.5v5.8M1600.5 137.5v5.8M1605.9 137.5v5.8M1695.6 137.5v5.8M1730.6 137.5v5.8M1751.6 137.5v5.8M1754.1 137.5v5.8M1757.8 137.5v5.8M1759.9 137.5v5.8M1868.1 137.5v5.8M1944.3 137.5v5.8M1171.1 141.7v5.8M1173.1 141.7v5.8M1227.1 141.7v5.8M1232.4 141.7v5.8M1234.9 141.7v5.8M1237.8 141.7v5.8M1241.5 141.7v5.8M1246.4 141.7v5.8M1248.9 141.7v5.8M1252.2 141.7v5.8M1342.8 141.7v5.8M1344.4 141.7v5.8M1346.9 141.7v5.8M1356.8 141.7v5.8M1360.5 141.7v5.8M1362.9 141.7v5.8M1418.9 141.7v5.8M1423.9 141.7v5.8M1440.3 141.7v5.8M1450.2 141.7v5.8M1458.9 141.7v5.8M1461.3 141.7v5.8M1468.7 141.7v5.8M1486.9 141.7v5.8M1495.9 141.7v5.8M1508.7 141.7v5.8M1524.7 141.7v5.8M1526.4 141.7v5.8M1533.4 141.7v5.8M1561.4 141.7v5.8M1570.5 141.7v5.8M1572.5 141.7v5.8M1582 141.7v5.8M1641.3 141.7v5.8M1689.4 141.7v5.8M1690.7 141.7v5.8M1759.9 141.7v5.8M1764.4 141.7v5.8M1843.9 141.7v5.8M1845.9 141.7v5.8M1849.6 141.7v5.8M1859.5 141.7v5.8M1918 141.7v5.8M1919.6 141.7v5.8M1921.3 141.7v5.8M1922.5 141.7v5.8M1926.2 141.7v5.8M1222.5 145.9v5.8M1226.2 145.9v5.8M1306.9 145.9v5.8M1411.5 145.9v5.8M1413.2 145.9v5.8M1439.1 145.9v5.8M1445.3 145.9v5.8M1448.2 145.9v5.8M1458.9 145.9v5.8M1463.4 145.9v5.8M1464.6 145.9v5.8M1468.3 145.9v5.8M1476.2 145.9v5.8M1479.9 145.9v5.8M1481.1 145.9v5.8M1491 145.9v5.8M1496.3 145.9v5.8M1503.3 145.9v5.8M1506.6 145.9v5.8M1516.1 145.9v5.8M1521.9 145.9v5.8M1535 145.9v5.8M1536.7 145.9v5.8M1538.3 145.9v5.8M1543.3 145.9v5.8M1545.7 145.9v5.8M1549.9 145.9v5.8M1553.2 145.9v5.8M1559.3 145.9v5.8M1561.4 145.9v5.8M1562.6 145.9v5.8M1563.9 145.9v5.8M1565.5 145.9v5.8M1568.4 145.9v5.8M1570.9 145.9v5.8M1577.9 145.9v5.8M1581.2 145.9v5.8M1588.6 145.9v5.8M1593.5 145.9v5.8M1605.5 145.9v5.8M1637.2 145.9v5.8M1663.1 145.9v5.8M1668 145.9v5.8M1670.1 145.9v5.8M1675.4 145.9v5.8M1703 145.9v5.8M1734.7 145.9v5.8M1740.5 145.9v5.8M1919.2 145.9v5.8M1921.3 145.9v5.8M1927.4 145.9v5.8M1929.1 145.9v5.8M1931.1 145.9v5.8M1141.8 150.2v5.8M1145.1 150.2v5.8M1228.7 150.2v5.8M1256.3 150.2v5.8M1343.6 150.2v5.8M1368.7 150.2v5.8M1372 150.2v5.8M1375.3 150.2v5.8M1379 150.2v5.8M1416.9 150.2v5.8M1452.3 150.2v5.8M1453.9 150.2v5.8M1456 150.2v5.8M1457.6 150.2v5.8M1459.3 150.2v5.8M1462.2 150.2v5.8M1464.6 150.2v5.8M1466.7 150.2v5.8M1470 150.2v5.8M1471.6 150.2v5.8M1474.1 150.2v5.8M1475.7 150.2v5.8M1477.4 150.2v5.8M1480.3 150.2v5.8M1482.7 150.2v5.8M1485.2 150.2v5.8M1486.9 150.2v5.8M1490.6 150.2v5.8M1493.9 150.2v5.8M1498.4 150.2v5.8M1502.5 150.2v5.8M1504.6 150.2v5.8M1509.5 150.2v5.8M1514.9 150.2v5.8M1517.3 150.2v5.8M1518.6 150.2v5.8M1520.2 150.2v5.8M1523.1 150.2v5.8M1526.8 150.2v5.8M1530.9 150.2v5.8M1533 150.2v5.8M1535.5 150.2v5.8M1540.4 150.2v5.8M1542.9 150.2v5.8M1546.2 150.2v5.8M1549.5 150.2v5.8M1551.9 150.2v5.8M1558.5 150.2v5.8M1562.6 150.2v5.8M1565.1 150.2v5.8M1570.5 150.2v5.8M1572.9 150.2v5.8M1577 150.2v5.8M1582.8 150.2v5.8M1584.9 150.2v5.8M1589 150.2v5.8M1591.9 150.2v5.8M1593.9 150.2v5.8M1598 150.2v5.8M1600.5 150.2v5.8M1602.2 150.2v5.8M1607.1 150.2v5.8M1608.7 150.2v5.8M1610.8 150.2v5.8M1613.3 150.2v5.8M1620.7 150.2v5.8M1635.5 150.2v5.8M1645.8 150.2v5.8M1650.7 150.2v5.8M1654.4 150.2v5.8M1656.5 150.2v5.8M1662.3 150.2v5.8M1663.9 150.2v5.8M1670.1 150.2v5.8M1671.7 150.2v5.8M1679.6 150.2v5.8M1686.6 150.2v5.8M1690.7 150.2v5.8M1695.2 150.2v5.8M1701.4 150.2v5.8M1708.4 150.2v5.8M1710 150.2v5.8M1711.3 150.2v5.8M1718.3 150.2v5.8M1722.4 150.2v5.8M1726.9 150.2v5.8M1733.9 150.2v5.8M1736 150.2v5.8M1745.9 150.2v5.8M1752.9 150.2v5.8M1774.3 150.2v5.8M1779.2 150.2v5.8M1794 150.2v5.8M1805.6 150.2v5.8M1830.7 150.2v5.8M1832.7 150.2v5.8M1845.1 150.2v5.8M1848.4 150.2v5.8M1850.4 150.2v5.8M1949.3 150.2v5.8M1952.1 150.2v5.8M1955.8 150.2v5.8M1960 150.2v5.8M1963.7 150.2v5.8M1970.3 150.2v5.8M1974.4 150.2v5.8M1977.3 150.2v5.8M1983.8 150.2v5.8M1985.5 150.2v5.8M1118.4 154.4v5.8M1144.7 154.4v5.8M1361.7 154.4v5.8M1363.8 154.4v5.8M1372 154.4v5.8M1373.2 154.4v5.8M1374.5 154.4v5.8M1427.2 154.4v5.8M1443.2 154.4v5.8M1448.2 154.4v5.8M1454.7 154.4v5.8M1456.4 154.4v5.8M1464.2 154.4v5.8M1466.7 154.4v5.8M1470 154.4v5.8M1473.3 154.4v5.8M1476.2 154.4v5.8M1482.3 154.4v5.8M1486.5 154.4v5.8M1488.5 154.4v5.8M1492.2 154.4v5.8M1501.7 154.4v5.8M1512.4 154.4v5.8M1523.9 154.4v5.8M1530.5 154.4v5.8M1535.5 154.4v5.8M1537.5 154.4v5.8M1542.5 154.4v5.8M1547 154.4v5.8M1550.7 154.4v5.8M1553.6 154.4v5.8M1557.7 154.4v5.8M1559.3 154.4v5.8M1565.9 154.4v5.8M1570 154.4v5.8M1576.6 154.4v5.8M1581.2 154.4v5.8M1584 154.4v5.8M1591.9 154.4v5.8M1594.3 154.4v5.8M1600.9 154.4v5.8M1610.8 154.4v5.8M1620.7 154.4v5.8M1626.4 154.4v5.8M1638 154.4v5.8M1645.8 154.4v5.8M1647.4 154.4v5.8M1656.9 154.4v5.8M1661 154.4v5.8M1666.4 154.4v5.8M1673 154.4v5.8M1677.1 154.4v5.8M1682.4 154.4v5.8M1687.4 154.4v5.8M1695.2 154.4v5.8M1699.7 154.4v5.8M1704.3 154.4v5.8M1709.2 154.4v5.8M1712.9 154.4v5.8M1717 154.4v5.8M1718.7 154.4v5.8M1723.2 154.4v5.8M1731.4 154.4v5.8M1732.7 154.4v5.8M1733.9 154.4v5.8M1742.2 154.4v5.8M1745 154.4v5.8M1747.5 154.4v5.8M1749.2 154.4v5.8M1782.1 154.4v5.8M1784.1 154.4v5.8M1839.3 154.4v5.8M1870.2 154.4v5.8M1880.9 154.4v5.8M1259.2 158.6v5.8M1283.1 158.6v5.8M1285.1 158.6v5.8M1311 158.6v5.8M1460.9 158.6v5.8M1467.5 158.6v5.8M1473.3 158.6v5.8M1480.7 158.6v5.8M1491 158.6v5.8M1500.9 158.6v5.8M1505.8 158.6v5.8M1512.8 158.6v5.8M1527.6 158.6v5.8M1531.7 158.6v5.8M1533 158.6v5.8M1539.2 158.6v5.8M1544.1 158.6v5.8M1551.9 158.6v5.8M1566.3 158.6v5.8M1590.6 158.6v5.8M1592.3 158.6v5.8M1594.3 158.6v5.8M1598.5 158.6v5.8M1607.5 158.6v5.8M1617.8 158.6v5.8M1626.9 158.6v5.8M1645.4 158.6v5.8M1649.9 158.6v5.8M1652.4 158.6v5.8M1693.2 158.6v5.8M1739.7 158.6v5.8M1743 158.6v5.8M1855.4 158.6v5.8M1941.9 158.6v5.8M1131.5 162.9v5.8M1212.2 162.9v5.8M1221.7 162.9v5.8M1251.3 162.9v5.8M1255.1 162.9v5.8M1262.1 162.9v5.8M1268.6 162.9v5.8M1360 162.9v5.8M1362.5 162.9v5.8M1439.9 162.9v5.8M1446.1 162.9v5.8M1455.6 162.9v5.8M1464.2 162.9v5.8M1467.1 162.9v5.8M1474.1 162.9v5.8M1477 162.9v5.8M1479.5 162.9v5.8M1488.9 162.9v5.8M1491.4 162.9v5.8M1495.5 162.9v5.8M1502.5 162.9v5.8M1510.7 162.9v5.8M1516.1 162.9v5.8M1522.7 162.9v5.8M1523.9 162.9v5.8M1533.4 162.9v5.8M1540 162.9v5.8M1541.6 162.9v5.8M1552.3 162.9v5.8M1558.1 162.9v5.8M1566.7 162.9v5.8M1574.6 162.9v5.8M1586.5 162.9v5.8M1642.5 162.9v5.8M1670.1 162.9v5.8M1677.1 162.9v5.8M1961.2 162.9v5.8M1964.9 162.9v5.8M1971.9 162.9v5.8M1131.5 167.1v5.8M1139.8 167.1v5.8M1152.1 167.1v5.8M1153.8 167.1v5.8M1170.6 167.1v5.8M1173.1 167.1v5.8M1207.3 167.1v5.8M1209.8 167.1v5.8M1231.2 167.1v5.8M1232.8 167.1v5.8M1263.3 167.1v5.8M1273.2 167.1v5.8M1274.4 167.1v5.8M1282.6 167.1v5.8M1289.2 167.1v5.8M1298.3 167.1v5.8M1303.6 167.1v5.8M1309 167.1v5.8M1310.6 167.1v5.8M1313.5 167.1v5.8M1316.4 167.1v5.8M1318.9 167.1v5.8M1332 167.1v5.8M1343.2 167.1v5.8M1406.6 167.1v5.8M1428 167.1v5.8M1432.1 167.1v5.8M1439.5 167.1v5.8M1446.1 167.1v5.8M1455.2 167.1v5.8M1459.3 167.1v5.8M1462.2 167.1v5.8M1467.5 167.1v5.8M1474.9 167.1v5.8M1481.5 167.1v5.8M1485.6 167.1v5.8M1492.6 167.1v5.8M1495.5 167.1v5.8M1499.6 167.1v5.8M1506.2 167.1v5.8M1507.5 167.1v5.8M1513.2 167.1v5.8M1514.9 167.1v5.8M1518.6 167.1v5.8M1522.7 167.1v5.8M1529.7 167.1v5.8M1532.2 167.1v5.8M1534.6 167.1v5.8M1539.6 167.1v5.8M1540.8 167.1v5.8M1543.7 167.1v5.8M1547 167.1v5.8M1549.5 167.1v5.8M1552.7 167.1v5.8M1555.6 167.1v5.8M1558.5 167.1v5.8M1560.6 167.1v5.8M1562.2 167.1v5.8M1566.3 167.1v5.8M1569.6 167.1v5.8M1574.6 167.1v5.8M1578.3 167.1v5.8M1582.8 167.1v5.8M1586.9 167.1v5.8M1590.6 167.1v5.8M1592.3 167.1v5.8M1596.8 167.1v5.8M1600.5 167.1v5.8M1604.6 167.1v5.8M1607.9 167.1v5.8M1631.8 167.1v5.8M1654.9 167.1v5.8M1658.6 167.1v5.8M1666.4 167.1v5.8M1678.3 167.1v5.8M1682.9 167.1v5.8M1692.7 167.1v5.8M1695.6 167.1v5.8M1697.7 167.1v5.8M1703.4 167.1v5.8M1708.8 167.1v5.8M1713.7 167.1v5.8M1718.3 167.1v5.8M1719.9 167.1v5.8M1725.7 167.1v5.8M1733.1 167.1v5.8M1736 167.1v5.8M1743.8 167.1v5.8M1746.7 167.1v5.8M1749.2 167.1v5.8M1753.3 167.1v5.8M1758.2 167.1v5.8M1764.4 167.1v5.8M1765.6 167.1v5.8M1816.3 167.1v5.8M1823.3 167.1v5.8M1850.4 167.1v5.8M1930.7 167.1v5.8M1296.2 171.3v5.8M1298.7 171.3v5.8M1304.5 171.3v5.8M1309 171.3v5.8M1311 171.3v5.8M1329.2 171.3v5.8M1345.6 171.3v5.8M1360 171.3v5.8M1361.7 171.3v5.8M1363.8 171.3v5.8M1388 171.3v5.8M1389.7 171.3v5.8M1395.5 171.3v5.8M1397.9 171.3v5.8M1402.5 171.3v5.8M1404.9 171.3v5.8M1411.1 171.3v5.8M1415.2 171.3v5.8M1438.7 171.3v5.8M1446.9 171.3v5.8M1463.8 171.3v5.8M1466.3 171.3v5.8M1471.2 171.3v5.8M1477.4 171.3v5.8M1479.5 171.3v5.8M1487.7 171.3v5.8M1494.3 171.3v5.8M1496.7 171.3v5.8M1502.5 171.3v5.8M1512.4 171.3v5.8M1523.5 171.3v5.8M1525.6 171.3v5.8M1529.7 171.3v5.8M1540.8 171.3v5.8M1544.5 171.3v5.8M1547.4 171.3v5.8M1551.9 171.3v5.8M1554 171.3v5.8M1561.8 171.3v5.8M1563.9 171.3v5.8M1565.9 171.3v5.8M1589.8 171.3v5.8M1593.5 171.3v5.8M1595.6 171.3v5.8M1598.5 171.3v5.8M1603.8 171.3v5.8M1607.1 171.3v5.8M1621.9 171.3v5.8M1623.6 171.3v5.8M1631 171.3v5.8M1643.3 171.3v5.8M1644.6 171.3v5.8M1670.5 171.3v5.8M1676.7 171.3v5.8M1684.9 171.3v5.8M1689.4 171.3v5.8M1698.1 171.3v5.8M1710.4 171.3v5.8M1719.9 171.3v5.8M1747.5 171.3v5.8M1750.8 171.3v5.8M1754.5 171.3v5.8M1757.4 171.3v5.8M1793.6 171.3v5.8M1796.1 171.3v5.8M1117.9 175.6v5.8M1425.9 175.6v5.8M1435 175.6v5.8M1442.8 175.6v5.8M1444 175.6v5.8M1456 175.6v5.8M1460.5 175.6v5.8M1464.2 175.6v5.8M1469.6 175.6v5.8M1470.8 175.6v5.8M1475.7 175.6v5.8M1481.5 175.6v5.8M1484 175.6v5.8M1490.2 175.6v5.8M1493 175.6v5.8M1495.9 175.6v5.8M1499.6 175.6v5.8M1503.7 175.6v5.8M1508.7 175.6v5.8M1514.9 175.6v5.8M1517.3 175.6v5.8M1519.8 175.6v5.8M1527.6 175.6v5.8M1534.6 175.6v5.8M1547.4 175.6v5.8M1551.5 175.6v5.8M1559.3 175.6v5.8M1563.5 175.6v5.8M1567.2 175.6v5.8M1571.3 175.6v5.8M1581.6 175.6v5.8M1586.5 175.6v5.8M1595.2 175.6v5.8M1614.1 175.6v5.8M1634.3 175.6v5.8M1645 175.6v5.8M1647.4 175.6v5.8M1656.1 175.6v5.8M1657.3 175.6v5.8M1659 175.6v5.8M1681.6 175.6v5.8M1695.2 175.6v5.8M1705.5 175.6v5.8M1711.3 175.6v5.8M1729 175.6v5.8M1775.5 175.6v5.8M1786.6 175.6v5.8M1816.7 175.6v5.8M1894.9 175.6v5.8M1899.4 175.6v5.8M1904.4 175.6v5.8M1935.7 175.6v5.8M1131.5 179.8v5.8M1171.1 179.8v5.8M1186.3 179.8v5.8M1197 179.8v5.8M1215.9 179.8v5.8M1221.3 179.8v5.8M1267 179.8v5.8M1271.1 179.8v5.8M1282.6 179.8v5.8M1323.8 179.8v5.8M1325.9 179.8v5.8M1357.2 179.8v5.8M1359.2 179.8v5.8M1364.2 179.8v5.8M1435.8 179.8v5.8M1437.9 179.8v5.8M1442 179.8v5.8M1444.9 179.8v5.8M1447.8 179.8v5.8M1453.9 179.8v5.8M1456 179.8v5.8M1457.2 179.8v5.8M1461.3 179.8v5.8M1464.6 179.8v5.8M1466.3 179.8v5.8M1468.7 179.8v5.8M1470 179.8v5.8M1472 179.8v5.8M1473.3 179.8v5.8M1474.5 179.8v5.8M1478.6 179.8v5.8M1480.7 179.8v5.8M1484.8 179.8v5.8M1486 179.8v5.8M1487.3 179.8v5.8M1488.9 179.8v5.8M1490.2 179.8v5.8M1492.2 179.8v5.8M1495.1 179.8v5.8M1496.7 179.8v5.8M1498.4 179.8v5.8M1500 179.8v5.8M1501.3 179.8v5.8M1502.5 179.8v5.8M1505 179.8v5.8M1507.9 179.8v5.8M1510.3 179.8v5.8M1512.4 179.8v5.8M1514.5 179.8v5.8M1515.7 179.8v5.8M1518.2 179.8v5.8M1520.2 179.8v5.8M1523.1 179.8v5.8M1525.2 179.8v5.8M1528.9 179.8v5.8M1530.5 179.8v5.8M1533.8 179.8v5.8M1536.3 179.8v5.8M1539.2 179.8v5.8M1541.6 179.8v5.8M1543.3 179.8v5.8M1547.4 179.8v5.8M1548.6 179.8v5.8M1550.3 179.8v5.8M1552.3 179.8v5.8M1553.6 179.8v5.8M1556.9 179.8v5.8M1558.9 179.8v5.8M1560.2 179.8v5.8M1561.8 179.8v5.8M1563.5 179.8v5.8M1565.1 179.8v5.8M1566.7 179.8v5.8M1572.1 179.8v5.8M1574.2 179.8v5.8M1575.4 179.8v5.8M1578.3 179.8v5.8M1579.9 179.8v5.8M1581.6 179.8v5.8M1582.8 179.8v5.8M1589 179.8v5.8M1590.6 179.8v5.8M1591.9 179.8v5.8M1594.3 179.8v5.8M1597.6 179.8v5.8M1599.7 179.8v5.8M1604.6 179.8v5.8M1605.9 179.8v5.8M1607.9 179.8v5.8M1611.6 179.8v5.8M1613.3 179.8v5.8M1615.3 179.8v5.8M1617.4 179.8v5.8M1621.1 179.8v5.8M1626 179.8v5.8M1631.8 179.8v5.8M1637.2 179.8v5.8M1640.9 179.8v5.8M1645 179.8v5.8M1650.7 179.8v5.8M1656.9 179.8v5.8M1662.7 179.8v5.8M1671.3 179.8v5.8M1673.4 179.8v5.8M1683.3 179.8v5.8M1691.5 179.8v5.8M1693.6 179.8v5.8M1698.1 179.8v5.8M1701 179.8v5.8M1704.3 179.8v5.8M1707.2 179.8v5.8M1710.4 179.8v5.8M1715.4 179.8v5.8M1717.4 179.8v5.8M1724 179.8v5.8M1725.7 179.8v5.8M1729.4 179.8v5.8M1734.3 179.8v5.8M1738 179.8v5.8M1745.9 179.8v5.8M1754.1 179.8v5.8M1758.6 179.8v5.8M1764.8 179.8v5.8M1768.9 179.8v5.8M1776.7 179.8v5.8M1780.9 179.8v5.8M1808.4 179.8v5.8M1809.7 179.8v5.8M1817.9 179.8v5.8M1820.8 179.8v5.8M1829 179.8v5.8M1875.6 179.8v5.8M1876.8 179.8v5.8M1882.6 179.8v5.8M1886.3 179.8v5.8M1891.6 179.8v5.8M1900.7 179.8v5.8M1905.6 179.8v5.8M1909.7 179.8v5.8M1918 179.8v5.8M1946 179.8v5.8M1957.1 179.8v5.8M1958.3 179.8v5.8M1960 179.8v5.8M1964.5 179.8v5.8M1985.1 179.8v5.8M1201.1 184v5.8M1208.1 184v5.8M1291.7 184v5.8M1294.6 184v5.8M1298.3 184v5.8M1320.1 184v5.8M1322.2 184v5.8M1429.6 184v5.8M1436.6 184v5.8M1444 184v5.8M1449.8 184v5.8M1455.2 184v5.8M1463.8 184v5.8M1467.9 184v5.8M1471.6 184v5.8M1486.5 184v5.8M1491.4 184v5.8M1493.9 184v5.8M1496.7 184v5.8M1502.1 184v5.8M1506.6 184v5.8M1509.9 184v5.8M1515.3 184v5.8M1519 184v5.8M1521.5 184v5.8M1526 184v5.8M1532.6 184v5.8M1534.2 184v5.8M1535.9 184v5.8M1537.9 184v5.8M1541.6 184v5.8M1545.3 184v5.8M1548.2 184v5.8M1551.5 184v5.8M1553.2 184v5.8M1556.5 184v5.8M1560.6 184v5.8M1570.9 184v5.8M1574.2 184v5.8M1580.7 184v5.8M1583.2 184v5.8M1585.7 184v5.8M1587.3 184v5.8M1593.9 184v5.8M1605.9 184v5.8M1607.9 184v5.8M1617 184v5.8M1620.3 184v5.8M1626 184v5.8M1647.9 184v5.8M1651.6 184v5.8M1655.7 184v5.8M1663.1 184v5.8M1666 184v5.8M1682.9 184v5.8M1687.4 184v5.8M1707.6 184v5.8M1709.2 184v5.8M1719.1 184v5.8M1730.2 184v5.8M1751.6 184v5.8M1845.1 184v5.8M1962.8 184v5.8M1149.6 188.3v5.8M1163.2 188.3v5.8M1167.3 188.3v5.8M1170.2 188.3v5.8M1171.5 188.3v5.8M1173.5 188.3v5.8M1208.5 188.3v5.8M1225.4 188.3v5.8M1254.2 188.3v5.8M1372 188.3v5.8M1378.6 188.3v5.8M1405.8 188.3v5.8M1407.4 188.3v5.8M1411.1 188.3v5.8M1413.6 188.3v5.8M1415.6 188.3v5.8M1447.8 188.3v5.8M1451.9 188.3v5.8M1461.7 188.3v5.8M1467.5 188.3v5.8M1468.7 188.3v5.8M1476.2 188.3v5.8M1479 188.3v5.8M1480.7 188.3v5.8M1486.9 188.3v5.8M1488.9 188.3v5.8M1498.4 188.3v5.8M1505 188.3v5.8M1511.2 188.3v5.8M1514.9 188.3v5.8M1537.5 188.3v5.8M1546.6 188.3v5.8M1553.6 188.3v5.8M1561 188.3v5.8M1566.7 188.3v5.8M1579.5 188.3v5.8M1601.7 188.3v5.8M1603.4 188.3v5.8M1612.5 188.3v5.8M1620.3 188.3v5.8M1628.5 188.3v5.8M1633 188.3v5.8M1711.7 188.3v5.8M1715 188.3v5.8M1716.2 188.3v5.8M1752.4 188.3v5.8M1795.3 188.3v5.8M1804.7 188.3v5.8M1817.1 188.3v5.8M1821.2 188.3v5.8M1823.7 188.3v5.8M1833.6 188.3v5.8M1835.6 188.3v5.8M1840.6 188.3v5.8M1842.2 188.3v5.8M1845.5 188.3v5.8M1850 188.3v5.8M1852.1 188.3v5.8M1855 188.3v5.8M1861.6 188.3v5.8M1862.8 188.3v5.8M1924.1 188.3v5.8M1927 188.3v5.8M1123.3 192.5v5.8M1257.9 192.5v5.8M1259.6 192.5v5.8M1261.6 192.5v5.8M1269.5 192.5v5.8M1271.5 192.5v5.8M1275.6 192.5v5.8M1277.7 192.5v5.8M1281 192.5v5.8M1302.4 192.5v5.8M1443.2 192.5v5.8M1444.9 192.5v5.8M1448.2 192.5v5.8M1450.6 192.5v5.8M1453.1 192.5v5.8M1457.2 192.5v5.8M1460.1 192.5v5.8M1462.2 192.5v5.8M1467.5 192.5v5.8M1469.6 192.5v5.8M1472 192.5v5.8M1477 192.5v5.8M1482.3 192.5v5.8M1484 192.5v5.8M1485.2 192.5v5.8M1488.9 192.5v5.8M1491 192.5v5.8M1493.9 192.5v5.8M1495.9 192.5v5.8M1498 192.5v5.8M1499.6 192.5v5.8M1501.7 192.5v5.8M1503.7 192.5v5.8M1505 192.5v5.8M1507 192.5v5.8M1508.3 192.5v5.8M1509.5 192.5v5.8M1511.6 192.5v5.8M1516.5 192.5v5.8M1517.7 192.5v5.8M1520.2 192.5v5.8M1521.9 192.5v5.8M1523.9 192.5v5.8M1525.6 192.5v5.8M1527.6 192.5v5.8M1528.9 192.5v5.8M1532.2 192.5v5.8M1533.4 192.5v5.8M1535.9 192.5v5.8M1537.9 192.5v5.8M1539.2 192.5v5.8M1541.2 192.5v5.8M1543.3 192.5v5.8M1546.6 192.5v5.8M1549 192.5v5.8M1552.3 192.5v5.8M1553.6 192.5v5.8M1555.2 192.5v5.8M1557.3 192.5v5.8M1560.2 192.5v5.8M1562.2 192.5v5.8M1564.3 192.5v5.8M1565.9 192.5v5.8M1567.6 192.5v5.8M1569.2 192.5v5.8M1571.3 192.5v5.8M1573.3 192.5v5.8M1575 192.5v5.8M1576.2 192.5v5.8M1578.7 192.5v5.8M1581.2 192.5v5.8M1583.2 192.5v5.8M1586.9 192.5v5.8M1591 192.5v5.8M1593.5 192.5v5.8M1598 192.5v5.8M1602.2 192.5v5.8M1605.9 192.5v5.8M1610.4 192.5v5.8M1622.3 192.5v5.8M1629.7 192.5v5.8M1638 192.5v5.8M1639.2 192.5v5.8M1653.2 192.5v5.8M1655.7 192.5v5.8M1670.9 192.5v5.8M1673.8 192.5v5.8M1681.6 192.5v5.8M1689 192.5v5.8M1690.3 192.5v5.8M1694 192.5v5.8M1701.8 192.5v5.8M1704.7 192.5v5.8M1708 192.5v5.8M1712.1 192.5v5.8M1714.6 192.5v5.8M1719.5 192.5v5.8M1722.8 192.5v5.8M1731 192.5v5.8M1742.6 192.5v5.8M1776.3 192.5v5.8M1785.8 192.5v5.8M1836 192.5v5.8M1912.6 192.5v5.8M1920.4 192.5v5.8M1115.5 196.7v5.8M1169.8 196.7v5.8M1226.6 196.7v5.8M1322.6 196.7v5.8M1329.6 196.7v5.8M1333.3 196.7v5.8M1339.9 196.7v5.8M1358 196.7v5.8M1362.9 196.7v5.8M1366.2 196.7v5.8M1399.2 196.7v5.8M1414.8 196.7v5.8M1442.8 196.7v5.8M1444.9 196.7v5.8M1451.5 196.7v5.8M1456 196.7v5.8M1462.6 196.7v5.8M1465.9 196.7v5.8M1469.6 196.7v5.8M1471.2 196.7v5.8M1477 196.7v5.8M1479.5 196.7v5.8M1486.5 196.7v5.8M1489.3 196.7v5.8M1504.2 196.7v5.8M1506.2 196.7v5.8M1507.9 196.7v5.8M1509.9 196.7v5.8M1512.8 196.7v5.8M1516.1 196.7v5.8M1521.9 196.7v5.8M1525.2 196.7v5.8M1528 196.7v5.8M1544.1 196.7v5.8M1545.7 196.7v5.8M1550.3 196.7v5.8M1554.4 196.7v5.8M1558.5 196.7v5.8M1562.2 196.7v5.8M1566.3 196.7v5.8M1571.3 196.7v5.8M1578.3 196.7v5.8M1582.4 196.7v5.8M1589.4 196.7v5.8M1611.2 196.7v5.8M1634.3 196.7v5.8M1675.4 196.7v5.8M1677.1 196.7v5.8M1682.9 196.7v5.8M1717.9 196.7v5.8M1722 196.7v5.8M1733.1 196.7v5.8M1736.4 196.7v5.8M1801.4 196.7v5.8M1806.8 196.7v5.8M1808.9 196.7v5.8M1892.4 196.7v5.8M1897.4 196.7v5.8M1902.3 196.7v5.8M1906.9 196.7v5.8M1908.1 196.7v5.8M1911.4 196.7v5.8M1931.6 196.7v5.8M1935.3 196.7v5.8M1936.5 196.7v5.8M1938.6 196.7v5.8M1941.4 196.7v5.8M1943.1 196.7v5.8M1950.5 196.7v5.8M1967.8 196.7v5.8M1187.1 201v5.8M1195.8 201v5.8M1236.9 201v5.8M1258.3 201v5.8M1264.5 201v5.8M1265.8 201v5.8M1283.9 201v5.8M1393 201v5.8M1423.5 201v5.8M1426.3 201v5.8M1436.2 201v5.8M1439.9 201v5.8M1445.3 201v5.8M1448.2 201v5.8M1449.8 201v5.8M1451.9 201v5.8M1454.7 201v5.8M1460.5 201v5.8M1464.2 201v5.8M1466.7 201v5.8M1468.3 201v5.8M1470.4 201v5.8M1473.3 201v5.8M1476.6 201v5.8M1480.3 201v5.8M1482.3 201v5.8M1484.8 201v5.8M1486.5 201v5.8M1489.3 201v5.8M1491.8 201v5.8M1493.9 201v5.8M1498 201v5.8M1500 201v5.8M1501.3 201v5.8M1502.5 201v5.8M1505.4 201v5.8M1513.6 201v5.8M1519 201v5.8M1526.8 201v5.8M1531.3 201v5.8M1534.2 201v5.8M1544.1 201v5.8M1549 201v5.8M1550.7 201v5.8M1553.6 201v5.8M1556 201v5.8M1563.9 201v5.8M1569.2 201v5.8M1570.5 201v5.8M1585.3 201v5.8M1586.5 201v5.8M1589.8 201v5.8M1593.5 201v5.8M1600.9 201v5.8M1614.5 201v5.8M1643.7 201v5.8M1646.2 201v5.8M1655.7 201v5.8M1656.9 201v5.8M1662.7 201v5.8M1683.7 201v5.8M1690.3 201v5.8M1694 201v5.8M1695.2 201v5.8M1696.4 201v5.8M1703 201v5.8M1720.7 201v5.8M1725.7 201v5.8M1732.7 201v5.8M1749.2 201v5.8M1763.6 201v5.8M1780.4 201v5.8M1792.4 201v5.8M1794.4 201v5.8M1801.4 201v5.8M1814.2 201v5.8M1817.9 201v5.8M1822.4 201v5.8M1827 201v5.8M1829.9 201v5.8M1838.1 201v5.8M1841 201v5.8M1849.6 201v5.8M1851.7 201v5.8M1869.8 201v5.8M1876.4 201v5.8M1882.6 201v5.8M1927 201v5.8M1176.4 205.2v5.8M1185.5 205.2v5.8M1260 205.2v5.8M1269.1 205.2v5.8M1351.4 205.2v5.8M1477.8 205.2v5.8M1480.7 205.2v5.8M1486 205.2v5.8M1493 205.2v5.8M1498.8 205.2v5.8M1503.3 205.2v5.8M1506.6 205.2v5.8M1508.3 205.2v5.8M1512 205.2v5.8M1515.3 205.2v5.8M1520.2 205.2v5.8M1523.5 205.2v5.8M1525.2 205.2v5.8M1536.7 205.2v5.8M1540.8 205.2v5.8M1543.3 205.2v5.8M1546.2 205.2v5.8M1552.7 205.2v5.8M1558.1 205.2v5.8M1567.6 205.2v5.8M1570 205.2v5.8M1574.6 205.2v5.8M1583.2 205.2v5.8M1590.2 205.2v5.8M1598.5 205.2v5.8M1603 205.2v5.8M1605.5 205.2v5.8M1607.9 205.2v5.8M1617.4 205.2v5.8M1618.6 205.2v5.8M1629.7 205.2v5.8M1635.5 205.2v5.8M1661.9 205.2v5.8M1682 205.2v5.8M1683.3 205.2v5.8M1688.2 205.2v5.8M1689.4 205.2v5.8M1691.1 205.2v5.8M1710.9 205.2v5.8M1714.6 205.2v5.8M1721.2 205.2v5.8M1737.6 205.2v5.8M1749.6 205.2v5.8M1772.2 205.2v5.8M1794.9 205.2v5.8M1806.4 205.2v5.8M1213.5 209.4v5.8M1294.6 209.4v5.8M1299.5 209.4v5.8M1358.4 209.4v5.8M1442 209.4v5.8M1446.1 209.4v5.8M1452.3 209.4v5.8M1456 209.4v5.8M1460.1 209.4v5.8M1462.6 209.4v5.8M1467.5 209.4v5.8M1469.2 209.4v5.8M1473.7 209.4v5.8M1476.2 209.4v5.8M1479.5 209.4v5.8M1481.5 209.4v5.8M1484 209.4v5.8M1490.6 209.4v5.8M1494.3 209.4v5.8M1500.9 209.4v5.8M1504.2 209.4v5.8M1507.9 209.4v5.8M1511.2 209.4v5.8M1516.5 209.4v5.8M1518.6 209.4v5.8M1525.6 209.4v5.8M1527.6 209.4v5.8M1532.6 209.4v5.8M1535.9 209.4v5.8M1537.1 209.4v5.8M1541.6 209.4v5.8M1544.9 209.4v5.8M1563.9 209.4v5.8M1568.4 209.4v5.8M1582 209.4v5.8M1587.3 209.4v5.8M1589.8 209.4v5.8M1591.9 209.4v5.8M1594.3 209.4v5.8M1599.7 209.4v5.8M1616.6 209.4v5.8M1630.2 209.4v5.8M1638 209.4v5.8M1144.7 213.7v5.8M1145.9 213.7v5.8M1326.3 213.7v5.8M1330 213.7v5.8M1357.2 213.7v5.8M1379.8 213.7v5.8M1384.3 213.7v5.8M1390.5 213.7v5.8M1411.5 213.7v5.8M1449.4 213.7v5.8M1452.3 213.7v5.8M1455.2 213.7v5.8M1458 213.7v5.8M1461.7 213.7v5.8M1463.8 213.7v5.8M1466.3 213.7v5.8M1468.7 213.7v5.8M1470.8 213.7v5.8M1472.9 213.7v5.8M1475.3 213.7v5.8M1477.8 213.7v5.8M1479.5 213.7v5.8M1480.7 213.7v5.8M1482.3 213.7v5.8M1483.6 213.7v5.8M1485.2 213.7v5.8M1486.9 213.7v5.8M1490.2 213.7v5.8M1492.6 213.7v5.8M1493.9 213.7v5.8M1496.7 213.7v5.8M1500 213.7v5.8M1501.3 213.7v5.8M1503.3 213.7v5.8M1505.4 213.7v5.8M1509.1 213.7v5.8M1511.6 213.7v5.8M1514 213.7v5.8M1515.3 213.7v5.8M1516.9 213.7v5.8M1522.7 213.7v5.8M1525.6 213.7v5.8M1526.8 213.7v5.8M1530.5 213.7v5.8M1533.8 213.7v5.8M1535.9 213.7v5.8M1540 213.7v5.8M1541.2 213.7v5.8M1543.3 213.7v5.8M1544.9 213.7v5.8M1547 213.7v5.8M1549 213.7v5.8M1551.1 213.7v5.8M1553.2 213.7v5.8M1554.4 213.7v5.8M1556 213.7v5.8M1558.5 213.7v5.8M1561.4 213.7v5.8M1563 213.7v5.8M1566.7 213.7v5.8M1569.2 213.7v5.8M1570.5 213.7v5.8M1572.5 213.7v5.8M1575.4 213.7v5.8M1579.9 213.7v5.8M1582 213.7v5.8M1586.1 213.7v5.8M1588.2 213.7v5.8M1591.9 213.7v5.8M1594.3 213.7v5.8M1597.2 213.7v5.8M1600.5 213.7v5.8M1604.2 213.7v5.8M1608.7 213.7v5.8M1612.5 213.7v5.8M1615.7 213.7v5.8M1621.9 213.7v5.8M1624.8 213.7v5.8M1627.7 213.7v5.8M1630.6 213.7v5.8M1633.4 213.7v5.8M1636.7 213.7v5.8M1640.9 213.7v5.8M1643.3 213.7v5.8M1649.1 213.7v5.8M1654.9 213.7v5.8M1661.4 213.7v5.8M1665.6 213.7v5.8M1670.1 213.7v5.8M1675.4 213.7v5.8M1680.4 213.7v5.8M1684.9 213.7v5.8M1687 213.7v5.8M1689.9 213.7v5.8M1694 213.7v5.8M1697.3 213.7v5.8M1699.3 213.7v5.8M1706.3 213.7v5.8M1710 213.7v5.8M1717 213.7v5.8M1721.6 213.7v5.8M1728.2 213.7v5.8M1731 213.7v5.8M1733.1 213.7v5.8M1736 213.7v5.8M1738.9 213.7v5.8M1742.6 213.7v5.8M1747.5 213.7v5.8M1750.4 213.7v5.8M1751.6 213.7v5.8M1755.3 213.7v5.8M1757.8 213.7v5.8M1764.8 213.7v5.8M1767.7 213.7v5.8M1775.1 213.7v5.8M1783.7 213.7v5.8M1790.7 213.7v5.8M1794.4 213.7v5.8M1803.1 213.7v5.8M1819.6 213.7v5.8M1821.2 213.7v5.8M1826.1 213.7v5.8M1833.6 213.7v5.8M1836.4 213.7v5.8M1843.9 213.7v5.8M1846.3 213.7v5.8M1850.9 213.7v5.8M1892 213.7v5.8M1897.4 213.7v5.8M1911.8 213.7v5.8M1916.7 213.7v5.8M1918.4 213.7v5.8M1921.7 213.7v5.8M1922.9 213.7v5.8M1931.6 213.7v5.8M1935.7 213.7v5.8M1958.7 213.7v5.8M1963.3 213.7v5.8M1976 213.7v5.8M1985.9 213.7v5.8M1182.6 217.9v5.8M1190 217.9v5.8M1209.3 217.9v5.8M1210.6 217.9v5.8M1214.3 217.9v5.8M1219.2 217.9v5.8M1229.9 217.9v5.8M1232.8 217.9v5.8M1274.8 217.9v5.8M1277.7 217.9v5.8M1282.6 217.9v5.8M1289.6 217.9v5.8M1295.8 217.9v5.8M1301.2 217.9v5.8M1303.6 217.9v5.8M1305.7 217.9v5.8M1308.2 217.9v5.8M1342.3 217.9v5.8M1346.9 217.9v5.8M1348.1 217.9v5.8M1350.6 217.9v5.8M1359.6 217.9v5.8M1380.2 217.9v5.8M1404.9 217.9v5.8M1428.8 217.9v5.8M1440.3 217.9v5.8M1442.8 217.9v5.8M1446.1 217.9v5.8M1449.8 217.9v5.8M1451 217.9v5.8M1453.1 217.9v5.8M1457.2 217.9v5.8M1463.4 217.9v5.8M1467.9 217.9v5.8M1470.8 217.9v5.8M1474.1 217.9v5.8M1477 217.9v5.8M1478.2 217.9v5.8M1481.5 217.9v5.8M1484.4 217.9v5.8M1488.9 217.9v5.8M1493.5 217.9v5.8M1495.9 217.9v5.8M1499.2 217.9v5.8M1500.5 217.9v5.8M1501.7 217.9v5.8M1502.9 217.9v5.8M1506.6 217.9v5.8M1508.7 217.9v5.8M1510.3 217.9v5.8M1512 217.9v5.8M1515.7 217.9v5.8M1516.9 217.9v5.8M1519 217.9v5.8M1522.3 217.9v5.8M1523.9 217.9v5.8M1526.4 217.9v5.8M1528.5 217.9v5.8M1530.1 217.9v5.8M1532.6 217.9v5.8M1534.2 217.9v5.8M1537.1 217.9v5.8M1540 217.9v5.8M1543.3 217.9v5.8M1545.3 217.9v5.8M1547.4 217.9v5.8M1549.5 217.9v5.8M1554 217.9v5.8M1557.7 217.9v5.8M1561.8 217.9v5.8M1563.9 217.9v5.8M1567.2 217.9v5.8M1570.9 217.9v5.8M1574.2 217.9v5.8M1577.9 217.9v5.8M1583.2 217.9v5.8M1585.3 217.9v5.8M1588.6 217.9v5.8M1599.3 217.9v5.8M1607.5 217.9v5.8M1612.9 217.9v5.8M1619 217.9v5.8M1631.8 217.9v5.8M1634.7 217.9v5.8M1640.4 217.9v5.8M1647.9 217.9v5.8M1659.8 217.9v5.8M1668.4 217.9v5.8M1673 217.9v5.8M1678.7 217.9v5.8M1682.4 217.9v5.8M1690.7 217.9v5.8M1694.8 217.9v5.8M1701.8 217.9v5.8M1705.1 217.9v5.8M1706.3 217.9v5.8M1710.4 217.9v5.8M1713.3 217.9v5.8M1726.5 217.9v5.8M1732.7 217.9v5.8M1745.9 217.9v5.8M1748.7 217.9v5.8M1752.4 217.9v5.8M1764 217.9v5.8M1832.3 217.9v5.8M1835.6 217.9v5.8M1838.9 217.9v5.8M1848.4 217.9v5.8M1850.4 217.9v5.8M1938.1 217.9v5.8M1945.6 217.9v5.8" fill="none" stroke="#4C72B0" stroke-width="3.2" clip-path="url(#rb)"/><path d="M1117.5 222.1v5.8M1141 222.1v5.8M1194.1 222.1v5.8M1221.7 222.1v5.8M1222.9 222.1v5.8M1254.2 222.1v5.8M1269.1 222.1v5.8M1291.7 222.1v5.8M1310.2 222.1v5.8M1311.5 222.1v5.8M1413.6 222.1v5.8M1426.3 222.1v5.8M1435.4 222.1v5.8M1437.9 222.1v5.8M1442.4 222.1v5.8M1444 222.1v5.8M1448.2 222.1v5.8M1451.9 222.1v5.8M1453.1 222.1v5.8M1455.6 222.1v5.8M1457.6 222.1v5.8M1460.1 222.1v5.8M1461.7 222.1v5.8M1463 222.1v5.8M1464.6 222.1v5.8M1466.7 222.1v5.8M1468.3 222.1v5.8M1470 222.1v5.8M1471.6 222.1v5.8M1473.7 222.1v5.8M1475.3 222.1v5.8M1477.8 222.1v5.8M1479 222.1v5.8M1481.5 222.1v5.8M1483.2 222.1v5.8M1485.2 222.1v5.8M1486.9 222.1v5.8M1488.5 222.1v5.8M1490.6 222.1v5.8M1491.8 222.1v5.8M1493 222.1v5.8M1494.3 222.1v5.8M1496.7 222.1v5.8M1498.4 222.1v5.8M1500 222.1v5.8M1502.5 222.1v5.8M1504.6 222.1v5.8M1505.8 222.1v5.8M1508.3 222.1v5.8M1510.3 222.1v5.8M1512 222.1v5.8M1514 222.1v5.8M1516.1 222.1v5.8M1518.6 222.1v5.8M1520.2 222.1v5.8M1521.9 222.1v5.8M1523.9 222.1v5.8M1526.4 222.1v5.8M1527.6 222.1v5.8M1529.7 222.1v5.8M1531.3 222.1v5.8M1535.5 222.1v5.8M1536.7 222.1v5.8M1538.3 222.1v5.8M1541.2 222.1v5.8M1544.1 222.1v5.8M1547 222.1v5.8M1548.6 222.1v5.8M1551.1 222.1v5.8M1553.6 222.1v5.8M1556 222.1v5.8M1558.5 222.1v5.8M1560.6 222.1v5.8M1562.6 222.1v5.8M1564.3 222.1v5.8M1568.4 222.1v5.8M1570.9 222.1v5.8M1573.3 222.1v5.8M1575.4 222.1v5.8M1579.5 222.1v5.8M1584.9 222.1v5.8M1589.8 222.1v5.8M1591.9 222.1v5.8M1597.2 222.1v5.8M1604.2 222.1v5.8M1610 222.1v5.8M1616.2 222.1v5.8M1621.1 222.1v5.8M1638.4 222.1v5.8M1656.5 222.1v5.8M1664.3 222.1v5.8M1668.4 222.1v5.8M1670.9 222.1v5.8M1687 222.1v5.8M1692.3 222.1v5.8M1705.1 222.1v5.8M1710 222.1v5.8M1717.9 222.1v5.8M1723.6 222.1v5.8M1729.4 222.1v5.8M1733.1 222.1v5.8M1738.4 222.1v5.8M1746.3 222.1v5.8M1747.5 222.1v5.8M1757 222.1v5.8M1761.5 222.1v5.8M1786.2 222.1v5.8M1789.5 222.1v5.8M1795.7 222.1v5.8M1808 222.1v5.8M1832.7 222.1v5.8M1837.3 222.1v5.8M1841.8 222.1v5.8M1931.6 222.1v5.8M1974.8 222.1v5.8M1216.8 226.4v5.8M1260.4 226.4v5.8M1261.6 226.4v5.8M1427.6 226.4v5.8M1434.2 226.4v5.8M1440.3 226.4v5.8M1445.3 226.4v5.8M1451.5 226.4v5.8M1455.2 226.4v5.8M1457.6 226.4v5.8M1460.1 226.4v5.8M1461.3 226.4v5.8M1464.2 226.4v5.8M1470 226.4v5.8M1472.9 226.4v5.8M1476.2 226.4v5.8M1478.2 226.4v5.8M1483.2 226.4v5.8M1486 226.4v5.8M1488.5 226.4v5.8M1494.3 226.4v5.8M1496.3 226.4v5.8M1499.2 226.4v5.8M1505 226.4v5.8M1507 226.4v5.8M1508.7 226.4v5.8M1514.9 226.4v5.8M1519 226.4v5.8M1526 226.4v5.8M1528.9 226.4v5.8M1533.4 226.4v5.8M1535.5 226.4v5.8M1538.7 226.4v5.8M1542 226.4v5.8M1545.3 226.4v5.8M1546.6 226.4v5.8M1549.9 226.4v5.8M1554 226.4v5.8M1570 226.4v5.8M1572.5 226.4v5.8M1575.8 226.4v5.8M1578.7 226.4v5.8M1588.2 226.4v5.8M1589.4 226.4v5.8M1599.3 226.4v5.8M1600.5 226.4v5.8M1607.5 226.4v5.8M1616.6 226.4v5.8M1619.9 226.4v5.8M1621.5 226.4v5.8M1629.3 226.4v5.8M1631 226.4v5.8M1677.5 226.4v5.8M1712.1 226.4v5.8M1715.4 226.4v5.8M1752.9 226.4v5.8M1813.4 226.4v5.8M1815.9 226.4v5.8M1818.7 226.4v5.8M1822.4 226.4v5.8M1872.3 226.4v5.8M1972.7 226.4v5.8M1118.8 230.6v5.8M1147.2 230.6v5.8M1222.5 230.6v5.8M1234.1 230.6v5.8M1326.7 230.6v5.8M1328.3 230.6v5.8M1379 230.6v5.8M1394.2 230.6v5.8M1434.6 230.6v5.8M1441.6 230.6v5.8M1449.4 230.6v5.8M1452.7 230.6v5.8M1453.9 230.6v5.8M1456.4 230.6v5.8M1460.9 230.6v5.8M1463.8 230.6v5.8M1465 230.6v5.8M1467.1 230.6v5.8M1472.9 230.6v5.8M1474.5 230.6v5.8M1476.6 230.6v5.8M1477.8 230.6v5.8M1479.9 230.6v5.8M1482.3 230.6v5.8M1487.7 230.6v5.8M1490.2 230.6v5.8M1493.5 230.6v5.8M1495.1 230.6v5.8M1497.2 230.6v5.8M1498.8 230.6v5.8M1501.7 230.6v5.8M1507.5 230.6v5.8M1509.9 230.6v5.8M1515.3 230.6v5.8M1516.9 230.6v5.8M1518.6 230.6v5.8M1523.1 230.6v5.8M1527.6 230.6v5.8M1530.5 230.6v5.8M1532.2 230.6v5.8M1533.8 230.6v5.8M1537.5 230.6v5.8M1540.4 230.6v5.8M1541.6 230.6v5.8M1544.5 230.6v5.8M1548.6 230.6v5.8M1550.7 230.6v5.8M1552.3 230.6v5.8M1556 230.6v5.8M1559.7 230.6v5.8M1564.7 230.6v5.8M1570 230.6v5.8M1590.2 230.6v5.8M1591.5 230.6v5.8M1612.5 230.6v5.8M1686.2 230.6v5.8M1689 230.6v5.8M1691.1 230.6v5.8M1693.6 230.6v5.8M1702.2 230.6v5.8M1707.2 230.6v5.8M1723.6 230.6v5.8M1740.5 230.6v5.8M1744.6 230.6v5.8M1115.9 234.8v5.8M1136.5 234.8v5.8M1159.1 234.8v5.8M1186.7 234.8v5.8M1192.9 234.8v5.8M1258.8 234.8v5.8M1285.1 234.8v5.8M1288.4 234.8v5.8M1290.9 234.8v5.8M1292.9 234.8v5.8M1296.2 234.8v5.8M1299.1 234.8v5.8M1303.2 234.8v5.8M1306.1 234.8v5.8M1310.2 234.8v5.8M1356.8 234.8v5.8M1424.7 234.8v5.8M1425.9 234.8v5.8M1430.5 234.8v5.8M1435 234.8v5.8M1437.5 234.8v5.8M1440.8 234.8v5.8M1443.6 234.8v5.8M1445.7 234.8v5.8M1446.9 234.8v5.8M1449.8 234.8v5.8M1452.3 234.8v5.8M1455.2 234.8v5.8M1457.6 234.8v5.8M1458.9 234.8v5.8M1460.5 234.8v5.8M1461.7 234.8v5.8M1463 234.8v5.8M1464.2 234.8v5.8M1465.9 234.8v5.8M1467.9 234.8v5.8M1471.6 234.8v5.8M1473.7 234.8v5.8M1474.9 234.8v5.8M1476.6 234.8v5.8M1478.6 234.8v5.8M1480.3 234.8v5.8M1483.6 234.8v5.8M1486 234.8v5.8M1487.3 234.8v5.8M1488.5 234.8v5.8M1489.7 234.8v5.8M1491.4 234.8v5.8M1493 234.8v5.8M1494.3 234.8v5.8M1495.5 234.8v5.8M1498 234.8v5.8M1499.6 234.8v5.8M1501.3 234.8v5.8M1502.5 234.8v5.8M1504.6 234.8v5.8M1507 234.8v5.8M1509.9 234.8v5.8M1511.2 234.8v5.8M1512.8 234.8v5.8M1514.5 234.8v5.8M1516.1 234.8v5.8M1517.3 234.8v5.8M1518.6 234.8v5.8M1521.5 234.8v5.8M1522.7 234.8v5.8M1524.3 234.8v5.8M1526 234.8v5.8M1528 234.8v5.8M1529.7 234.8v5.8M1532.6 234.8v5.8M1533.8 234.8v5.8M1535 234.8v5.8M1536.3 234.8v5.8M1537.5 234.8v5.8M1538.7 234.8v5.8M1540 234.8v5.8M1542 234.8v5.8M1544.1 234.8v5.8M1546.6 234.8v5.8M1547.8 234.8v5.8M1549.9 234.8v5.8M1551.5 234.8v5.8M1555.2 234.8v5.8M1557.7 234.8v5.8M1559.3 234.8v5.8M1563 234.8v5.8M1565.5 234.8v5.8M1567.6 234.8v5.8M1570.5 234.8v5.8M1572.5 234.8v5.8M1575.8 234.8v5.8M1577.9 234.8v5.8M1579.5 234.8v5.8M1584 234.8v5.8M1586.9 234.8v5.8M1589.8 234.8v5.8M1594.7 234.8v5.8M1596.8 234.8v5.8M1599.7 234.8v5.8M1601.3 234.8v5.8M1603.4 234.8v5.8M1606.3 234.8v5.8M1608.7 234.8v5.8M1612 234.8v5.8M1618.2 234.8v5.8M1621.9 234.8v5.8M1627.7 234.8v5.8M1643.3 234.8v5.8M1646.6 234.8v5.8M1650.7 234.8v5.8M1656.9 234.8v5.8M1660.6 234.8v5.8M1663.9 234.8v5.8M1666 234.8v5.8M1672.2 234.8v5.8M1675.4 234.8v5.8M1683.3 234.8v5.8M1685.7 234.8v5.8M1690.7 234.8v5.8M1697.7 234.8v5.8M1701.4 234.8v5.8M1703.4 234.8v5.8M1709.6 234.8v5.8M1715 234.8v5.8M1718.7 234.8v5.8M1724.4 234.8v5.8M1726.5 234.8v5.8M1731.4 234.8v5.8M1743.8 234.8v5.8M1745.4 234.8v5.8M1747.9 234.8v5.8M1761.9 234.8v5.8M1763.6 234.8v5.8M1834.4 234.8v5.8M1840.1 234.8v5.8M1927.4 234.8v5.8M1929.5 234.8v5.8M1937.7 234.8v5.8M1939 234.8v5.8M1142.2 239.1v5.8M1301.2 239.1v5.8M1349.3 239.1v5.8M1355.9 239.1v5.8M1358.4 239.1v5.8M1362.9 239.1v5.8M1365 239.1v5.8M1367.5 239.1v5.8M1371.2 239.1v5.8M1399.6 239.1v5.8M1414.4 239.1v5.8M1425.1 239.1v5.8M1431.7 239.1v5.8M1434.2 239.1v5.8M1439.1 239.1v5.8M1440.8 239.1v5.8M1444.9 239.1v5.8M1451.5 239.1v5.8M1452.7 239.1v5.8M1453.9 239.1v5.8M1457.6 239.1v5.8M1458.9 239.1v5.8M1463 239.1v5.8M1466.3 239.1v5.8M1468.3 239.1v5.8M1470.8 239.1v5.8M1473.3 239.1v5.8M1475.7 239.1v5.8M1477.4 239.1v5.8M1481.1 239.1v5.8M1482.3 239.1v5.8M1484.8 239.1v5.8M1487.3 239.1v5.8M1488.9 239.1v5.8M1491.4 239.1v5.8M1492.6 239.1v5.8M1496.3 239.1v5.8M1499.6 239.1v5.8M1500.9 239.1v5.8M1503.3 239.1v5.8M1505 239.1v5.8M1507 239.1v5.8M1508.3 239.1v5.8M1510.7 239.1v5.8M1514 239.1v5.8M1519 239.1v5.8M1521.5 239.1v5.8M1526 239.1v5.8M1528 239.1v5.8M1532.6 239.1v5.8M1533.8 239.1v5.8M1536.7 239.1v5.8M1538.3 239.1v5.8M1540.4 239.1v5.8M1542.9 239.1v5.8M1544.1 239.1v5.8M1546.2 239.1v5.8M1547.4 239.1v5.8M1553.6 239.1v5.8M1556.9 239.1v5.8M1558.9 239.1v5.8M1560.2 239.1v5.8M1561.4 239.1v5.8M1565.9 239.1v5.8M1570.5 239.1v5.8M1573.7 239.1v5.8M1576.6 239.1v5.8M1579.1 239.1v5.8M1583.6 239.1v5.8M1588.6 239.1v5.8M1591.5 239.1v5.8M1594.7 239.1v5.8M1601.3 239.1v5.8M1607.5 239.1v5.8M1616.6 239.1v5.8M1620.3 239.1v5.8M1624 239.1v5.8M1631 239.1v5.8M1645 239.1v5.8M1659.4 239.1v5.8M1664.7 239.1v5.8M1670.9 239.1v5.8M1683.3 239.1v5.8M1689.9 239.1v5.8M1691.9 239.1v5.8M1694.4 239.1v5.8M1697.7 239.1v5.8M1704.7 239.1v5.8M1706.7 239.1v5.8M1709.2 239.1v5.8M1711.7 239.1v5.8M1718.3 239.1v5.8M1721.2 239.1v5.8M1724.9 239.1v5.8M1730.6 239.1v5.8M1731.9 239.1v5.8M1733.5 239.1v5.8M1735.2 239.1v5.8M1743.4 239.1v5.8M1763.6 239.1v5.8M1941.4 239.1v5.8M1948.8 239.1v5.8M1951.3 239.1v5.8M1955 239.1v5.8M1958.7 239.1v5.8M1123.3 243.3v5.8M1131.1 243.3v5.8M1133.6 243.3v5.8M1136.1 243.3v5.8M1139.8 243.3v5.8M1145.9 243.3v5.8M1166.5 243.3v5.8M1242.3 243.3v5.8M1253.4 243.3v5.8M1255.5 243.3v5.8M1259.6 243.3v5.8M1262.1 243.3v5.8M1267.8 243.3v5.8M1303.2 243.3v5.8M1304.5 243.3v5.8M1329.6 243.3v5.8M1399.2 243.3v5.8M1401.2 243.3v5.8M1407.4 243.3v5.8M1416 243.3v5.8M1420.2 243.3v5.8M1423.9 243.3v5.8M1438.3 243.3v5.8M1442 243.3v5.8M1443.6 243.3v5.8M1446.9 243.3v5.8M1450.2 243.3v5.8M1453.9 243.3v5.8M1455.6 243.3v5.8M1458 243.3v5.8M1460.1 243.3v5.8M1462.2 243.3v5.8M1464.6 243.3v5.8M1469.6 243.3v5.8M1474.1 243.3v5.8M1477.8 243.3v5.8M1479.5 243.3v5.8M1480.7 243.3v5.8M1484 243.3v5.8M1485.6 243.3v5.8M1487.7 243.3v5.8M1493 243.3v5.8M1494.7 243.3v5.8M1495.9 243.3v5.8M1498 243.3v5.8M1500.5 243.3v5.8M1502.1 243.3v5.8M1504.2 243.3v5.8M1509.1 243.3v5.8M1512 243.3v5.8M1513.6 243.3v5.8M1515.7 243.3v5.8M1517.7 243.3v5.8M1519 243.3v5.8M1521 243.3v5.8M1524.3 243.3v5.8M1526.8 243.3v5.8M1529.3 243.3v5.8M1530.5 243.3v5.8M1536.3 243.3v5.8M1538.3 243.3v5.8M1541.2 243.3v5.8M1542.9 243.3v5.8M1546.6 243.3v5.8M1549.9 243.3v5.8M1551.1 243.3v5.8M1553.2 243.3v5.8M1555.2 243.3v5.8M1561.4 243.3v5.8M1568.8 243.3v5.8M1571.3 243.3v5.8M1572.5 243.3v5.8M1586.5 243.3v5.8M1587.7 243.3v5.8M1605.9 243.3v5.8M1607.1 243.3v5.8M1627.3 243.3v5.8M1630.6 243.3v5.8M1638 243.3v5.8M1662.7 243.3v5.8M1676.3 243.3v5.8M1680.4 243.3v5.8M1683.7 243.3v5.8M1693.2 243.3v5.8M1698.9 243.3v5.8M1705.9 243.3v5.8M1711.3 243.3v5.8M1714.6 243.3v5.8M1720.3 243.3v5.8M1724.9 243.3v5.8M1730.6 243.3v5.8M1741.3 243.3v5.8M1745.4 243.3v5.8M1778.4 243.3v5.8M1786.6 243.3v5.8M1788.3 243.3v5.8M1806 243.3v5.8M1808.9 243.3v5.8M1813.8 243.3v5.8M1815.4 243.3v5.8M1818.3 243.3v5.8M1828.6 243.3v5.8M1861.1 243.3v5.8M1867.7 243.3v5.8M1875.1 243.3v5.8M1923.7 243.3v5.8M1925.8 243.3v5.8M1115.1 247.5v5.8M1116.7 247.5v5.8M1121.6 247.5v5.8M1129.1 247.5v5.8M1131.1 247.5v5.8M1136.5 247.5v5.8M1171.1 247.5v5.8M1179.3 247.5v5.8M1183.4 247.5v5.8M1192.5 247.5v5.8M1197 247.5v5.8M1213.9 247.5v5.8M1222.9 247.5v5.8M1265.3 247.5v5.8M1269.1 247.5v5.8M1295 247.5v5.8M1298.7 247.5v5.8M1301.2 247.5v5.8M1323.8 247.5v5.8M1326.7 247.5v5.8M1364.6 247.5v5.8M1370.3 247.5v5.8M1379.4 247.5v5.8M1414.8 247.5v5.8M1417.3 247.5v5.8M1422.2 247.5v5.8M1429.2 247.5v5.8M1431.3 247.5v5.8M1432.9 247.5v5.8M1434.2 247.5v5.8M1438.7 247.5v5.8M1439.9 247.5v5.8M1442.4 247.5v5.8M1445.3 247.5v5.8M1448.2 247.5v5.8M1449.4 247.5v5.8M1451.5 247.5v5.8M1452.7 247.5v5.8M1454.3 247.5v5.8M1456 247.5v5.8M1458 247.5v5.8M1460.5 247.5v5.8M1461.7 247.5v5.8M1463 247.5v5.8M1464.2 247.5v5.8M1466.7 247.5v5.8M1469.2 247.5v5.8M1470.4 247.5v5.8M1472.5 247.5v5.8M1474.9 247.5v5.8M1476.2 247.5v5.8M1478.6 247.5v5.8M1479.9 247.5v5.8M1481.1 247.5v5.8M1482.7 247.5v5.8M1484 247.5v5.8M1486.5 247.5v5.8M1487.7 247.5v5.8M1489.3 247.5v5.8M1490.6 247.5v5.8M1492.2 247.5v5.8M1494.3 247.5v5.8M1498.4 247.5v5.8M1501.7 247.5v5.8M1504.2 247.5v5.8M1505.8 247.5v5.8M1507.9 247.5v5.8M1509.5 247.5v5.8M1511.2 247.5v5.8M1512.8 247.5v5.8M1514.5 247.5v5.8M1516.1 247.5v5.8M1518.2 247.5v5.8M1519.4 247.5v5.8M1521 247.5v5.8M1522.7 247.5v5.8M1523.9 247.5v5.8M1526.8 247.5v5.8M1528.5 247.5v5.8M1530.9 247.5v5.8M1533.8 247.5v5.8M1535.5 247.5v5.8M1537.9 247.5v5.8M1540.8 247.5v5.8M1542 247.5v5.8M1543.3 247.5v5.8M1544.9 247.5v5.8M1547 247.5v5.8M1548.6 247.5v5.8M1551.1 247.5v5.8M1552.3 247.5v5.8M1554 247.5v5.8M1555.6 247.5v5.8M1557.7 247.5v5.8M1558.9 247.5v5.8M1560.2 247.5v5.8M1562.2 247.5v5.8M1563.5 247.5v5.8M1566.3 247.5v5.8M1567.6 247.5v5.8M1569.2 247.5v5.8M1572.5 247.5v5.8M1573.7 247.5v5.8M1575 247.5v5.8M1576.6 247.5v5.8M1578.3 247.5v5.8M1581.6 247.5v5.8M1584 247.5v5.8M1586.5 247.5v5.8M1589.8 247.5v5.8M1591.9 247.5v5.8M1593.9 247.5v5.8M1597.6 247.5v5.8M1599.7 247.5v5.8M1603.4 247.5v5.8M1606.7 247.5v5.8M1608.3 247.5v5.8M1611.2 247.5v5.8M1612.5 247.5v5.8M1615.3 247.5v5.8M1619.4 247.5v5.8M1622.7 247.5v5.8M1625.2 247.5v5.8M1628.1 247.5v5.8M1632.2 247.5v5.8M1633.4 247.5v5.8M1635.5 247.5v5.8M1639.2 247.5v5.8M1641.7 247.5v5.8M1643.7 247.5v5.8M1645.4 247.5v5.8M1647.4 247.5v5.8M1649.9 247.5v5.8M1652.4 247.5v5.8M1655.3 247.5v5.8M1656.5 247.5v5.8M1661.9 247.5v5.8M1663.5 247.5v5.8M1666 247.5v5.8M1668 247.5v5.8M1670.5 247.5v5.8M1673 247.5v5.8M1674.2 247.5v5.8M1676.3 247.5v5.8M1678.3 247.5v5.8M1680 247.5v5.8M1682.4 247.5v5.8M1684.1 247.5v5.8M1687 247.5v5.8M1688.6 247.5v5.8M1689.9 247.5v5.8M1694.4 247.5v5.8M1696.4 247.5v5.8M1699.3 247.5v5.8M1701.8 247.5v5.8M1703.4 247.5v5.8M1705.9 247.5v5.8M1708 247.5v5.8M1711.3 247.5v5.8M1712.5 247.5v5.8M1715 247.5v5.8M1717 247.5v5.8M1719.1 247.5v5.8M1720.7 247.5v5.8M1722.4 247.5v5.8M1724.9 247.5v5.8M1727.3 247.5v5.8M1729.8 247.5v5.8M1732.7 247.5v5.8M1734.7 247.5v5.8M1736 247.5v5.8M1738.4 247.5v5.8M1739.7 247.5v5.8M1744.6 247.5v5.8M1748.3 247.5v5.8M1756.6 247.5v5.8M1758.6 247.5v5.8M1775.9 247.5v5.8M1777.2 247.5v5.8M1783.3 247.5v5.8M1784.6 247.5v5.8M1788.3 247.5v5.8M1802.7 247.5v5.8M1809.3 247.5v5.8M1815 247.5v5.8M1818.3 247.5v5.8M1819.6 247.5v5.8M1845.5 247.5v5.8M1857.4 247.5v5.8M1908.9 247.5v5.8M1918 247.5v5.8M1919.6 247.5v5.8M1920.9 247.5v5.8M1986.7 247.5v5.8M1119.2 251.8v5.8M1241.1 251.8v5.8M1257.1 251.8v5.8M1265.3 251.8v5.8M1326.7 251.8v5.8M1384.3 251.8v5.8M1428 251.8v5.8M1437.9 251.8v5.8M1439.9 251.8v5.8M1445.3 251.8v5.8M1448.2 251.8v5.8M1449.8 251.8v5.8M1455.2 251.8v5.8M1456.8 251.8v5.8M1461.3 251.8v5.8M1465 251.8v5.8M1467.5 251.8v5.8M1471.6 251.8v5.8M1473.7 251.8v5.8M1475.3 251.8v5.8M1476.6 251.8v5.8M1479 251.8v5.8M1480.3 251.8v5.8M1486 251.8v5.8M1488.1 251.8v5.8M1490.6 251.8v5.8M1492.2 251.8v5.8M1495.1 251.8v5.8M1497.6 251.8v5.8M1500.9 251.8v5.8M1503.3 251.8v5.8M1507 251.8v5.8M1509.9 251.8v5.8M1514.9 251.8v5.8M1519.8 251.8v5.8M1523.1 251.8v5.8M1527.6 251.8v5.8M1532.2 251.8v5.8M1535.9 251.8v5.8M1541.6 251.8v5.8M1546.6 251.8v5.8M1552.3 251.8v5.8M1562.2 251.8v5.8M1564.7 251.8v5.8M1568 251.8v5.8M1570.5 251.8v5.8M1573.7 251.8v5.8M1579.9 251.8v5.8M1587.7 251.8v5.8M1593.9 251.8v5.8M1599.7 251.8v5.8M1610.8 251.8v5.8M1616.6 251.8v5.8M1632.6 251.8v5.8M1677.1 251.8v5.8M1680.4 251.8v5.8M1681.6 251.8v5.8M1690.7 251.8v5.8M1692.7 251.8v5.8M1698.9 251.8v5.8M1704.3 251.8v5.8M1706.3 251.8v5.8M1716.2 251.8v5.8M1721.6 251.8v5.8M1727.3 251.8v5.8M1733.5 251.8v5.8M1745.4 251.8v5.8M1849.6 251.8v5.8M1918.8 251.8v5.8M1920 251.8v5.8M1168.2 256v5.8M1178.9 256v5.8M1264.9 256v5.8M1309.4 256v5.8M1314.3 256v5.8M1327.5 256v5.8M1371.6 256v5.8M1428 256v5.8M1434.2 256v5.8M1439.9 256v5.8M1443.2 256v5.8M1446.1 256v5.8M1452.3 256v5.8M1454.7 256v5.8M1456.4 256v5.8M1459.3 256v5.8M1462.6 256v5.8M1463.8 256v5.8M1465 256v5.8M1470 256v5.8M1472.5 256v5.8M1474.1 256v5.8M1477.4 256v5.8M1482.7 256v5.8M1485.2 256v5.8M1486.5 256v5.8M1488.1 256v5.8M1490.2 256v5.8M1491.8 256v5.8M1496.3 256v5.8M1498.4 256v5.8M1503.7 256v5.8M1505 256v5.8M1507 256v5.8M1509.1 256v5.8M1511.2 256v5.8M1512.8 256v5.8M1514 256v5.8M1516.1 256v5.8M1519.4 256v5.8M1521 256v5.8M1523.5 256v5.8M1525.6 256v5.8M1527.2 256v5.8M1529.3 256v5.8M1532.6 256v5.8M1535.5 256v5.8M1537.1 256v5.8M1540.4 256v5.8M1541.6 256v5.8M1545.3 256v5.8M1546.6 256v5.8M1549 256v5.8M1550.7 256v5.8M1551.9 256v5.8M1554.4 256v5.8M1556.5 256v5.8M1563 256v5.8M1565.9 256v5.8M1568.4 256v5.8M1569.6 256v5.8M1572.9 256v5.8M1575.8 256v5.8M1579.5 256v5.8M1583.2 256v5.8M1585.3 256v5.8M1588.6 256v5.8M1590.6 256v5.8M1608.3 256v5.8M1628.9 256v5.8M1636.3 256v5.8M1641.3 256v5.8M1642.9 256v5.8M1645.8 256v5.8M1654.4 256v5.8M1658.6 256v5.8M1661.9 256v5.8M1673 256v5.8M1683.7 256v5.8M1694.4 256v5.8M1695.6 256v5.8M1701.4 256v5.8M1706.7 256v5.8M1712.5 256v5.8M1721.2 256v5.8M1730.6 256v5.8M1734.3 256v5.8M1742.6 256v5.8M1754.5 256v5.8M1794.9 256v5.8M1886.3 256v5.8M1894.5 256v5.8M1897.8 256v5.8M1899.4 256v5.8M1905.2 256v5.8M1910.1 256v5.8M1914.3 256v5.8M1915.9 256v5.8M1115.1 260.2v5.8M1136.5 260.2v5.8M1159.5 260.2v5.8M1229.5 260.2v5.8M1234.1 260.2v5.8M1269.9 260.2v5.8M1282.2 260.2v5.8M1288.8 260.2v5.8M1437 260.2v5.8M1446.1 260.2v5.8M1448.2 260.2v5.8M1450.2 260.2v5.8M1453.5 260.2v5.8M1455.2 260.2v5.8M1456.8 260.2v5.8M1463.8 260.2v5.8M1467.5 260.2v5.8M1470.4 260.2v5.8M1473.7 260.2v5.8M1476.2 260.2v5.8M1477.4 260.2v5.8M1480.7 260.2v5.8M1484.8 260.2v5.8M1486.5 260.2v5.8M1488.1 260.2v5.8M1491 260.2v5.8M1492.2 260.2v5.8M1493.5 260.2v5.8M1496.7 260.2v5.8M1498 260.2v5.8M1500 260.2v5.8M1501.3 260.2v5.8M1502.9 260.2v5.8M1504.6 260.2v5.8M1507.5 260.2v5.8M1510.3 260.2v5.8M1512 260.2v5.8M1513.2 260.2v5.8M1515.7 260.2v5.8M1517.7 260.2v5.8M1519.4 260.2v5.8M1521.5 260.2v5.8M1523.5 260.2v5.8M1526 260.2v5.8M1527.6 260.2v5.8M1529.7 260.2v5.8M1530.9 260.2v5.8M1532.2 260.2v5.8M1534.2 260.2v5.8M1537.9 260.2v5.8M1540 260.2v5.8M1543.3 260.2v5.8M1545.3 260.2v5.8M1547.8 260.2v5.8M1549.5 260.2v5.8M1551.1 260.2v5.8M1553.6 260.2v5.8M1556 260.2v5.8M1558.1 260.2v5.8M1561.8 260.2v5.8M1566.7 260.2v5.8M1569.2 260.2v5.8M1577.5 260.2v5.8M1582.8 260.2v5.8M1587.3 260.2v5.8M1600.5 260.2v5.8M1603.8 260.2v5.8M1607.5 260.2v5.8M1612.5 260.2v5.8M1655.7 260.2v5.8M1661.9 260.2v5.8M1664.7 260.2v5.8M1677.5 260.2v5.8M1683.7 260.2v5.8M1685.3 260.2v5.8M1688.6 260.2v5.8M1690.3 260.2v5.8M1692.3 260.2v5.8M1698.1 260.2v5.8M1702.2 260.2v5.8M1706.3 260.2v5.8M1709.6 260.2v5.8M1714.6 260.2v5.8M1717 260.2v5.8M1721.6 260.2v5.8M1726.9 260.2v5.8M1729.4 260.2v5.8M1735.2 260.2v5.8M1738.9 260.2v5.8M1749.2 260.2v5.8M1900.7 260.2v5.8M1920.9 260.2v5.8M1923.7 260.2v5.8M1928.7 260.2v5.8M1935.3 260.2v5.8M1980.6 260.2v5.8M1114.6 264.5v5.8M1145.1 264.5v5.8M1222.5 264.5v5.8M1225.8 264.5v5.8M1227.1 264.5v5.8M1243.1 264.5v5.8M1256.7 264.5v5.8M1260.8 264.5v5.8M1263.7 264.5v5.8M1264.9 264.5v5.8M1344 264.5v5.8M1356.8 264.5v5.8M1361.3 264.5v5.8M1374 264.5v5.8M1396.7 264.5v5.8M1398.3 264.5v5.8M1417.3 264.5v5.8M1422.2 264.5v5.8M1426.8 264.5v5.8M1432.1 264.5v5.8M1435.8 264.5v5.8M1440.8 264.5v5.8M1442 264.5v5.8M1444.9 264.5v5.8M1446.9 264.5v5.8M1449.8 264.5v5.8M1452.3 264.5v5.8M1454.7 264.5v5.8M1456 264.5v5.8M1457.6 264.5v5.8M1460.1 264.5v5.8M1461.3 264.5v5.8M1463.8 264.5v5.8M1465.9 264.5v5.8M1468.7 264.5v5.8M1470.8 264.5v5.8M1473.7 264.5v5.8M1476.6 264.5v5.8M1479.9 264.5v5.8M1481.5 264.5v5.8M1484.8 264.5v5.8M1486 264.5v5.8M1487.7 264.5v5.8M1491 264.5v5.8M1493.5 264.5v5.8M1494.7 264.5v5.8M1497.2 264.5v5.8M1498.4 264.5v5.8M1500 264.5v5.8M1502.1 264.5v5.8M1504.2 264.5v5.8M1505.4 264.5v5.8M1507 264.5v5.8M1508.3 264.5v5.8M1511.2 264.5v5.8M1513.2 264.5v5.8M1515.7 264.5v5.8M1518.6 264.5v5.8M1520.6 264.5v5.8M1523.1 264.5v5.8M1524.7 264.5v5.8M1527.2 264.5v5.8M1528.5 264.5v5.8M1531.3 264.5v5.8M1533 264.5v5.8M1534.2 264.5v5.8M1538.3 264.5v5.8M1540.8 264.5v5.8M1543.7 264.5v5.8M1547 264.5v5.8M1548.6 264.5v5.8M1550.3 264.5v5.8M1552.7 264.5v5.8M1554.4 264.5v5.8M1556.5 264.5v5.8M1559.3 264.5v5.8M1563.9 264.5v5.8M1566.7 264.5v5.8M1568 264.5v5.8M1569.2 264.5v5.8M1570.9 264.5v5.8M1574.6 264.5v5.8M1577.5 264.5v5.8M1579.9 264.5v5.8M1584 264.5v5.8M1591.5 264.5v5.8M1592.7 264.5v5.8M1595.6 264.5v5.8M1597.2 264.5v5.8M1600.1 264.5v5.8M1610.4 264.5v5.8M1613.7 264.5v5.8M1624 264.5v5.8M1627.7 264.5v5.8M1635.1 264.5v5.8M1643.3 264.5v5.8M1648.7 264.5v5.8M1652.4 264.5v5.8M1657.3 264.5v5.8M1659.4 264.5v5.8M1663.9 264.5v5.8M1669.7 264.5v5.8M1670.9 264.5v5.8M1675.4 264.5v5.8M1677.1 264.5v5.8M1680.8 264.5v5.8M1684.5 264.5v5.8M1687 264.5v5.8M1689 264.5v5.8M1693.6 264.5v5.8M1697.7 264.5v5.8M1701.4 264.5v5.8M1706.7 264.5v5.8M1708.8 264.5v5.8M1712.1 264.5v5.8M1716.2 264.5v5.8M1718.3 264.5v5.8M1724 264.5v5.8M1725.7 264.5v5.8M1728.6 264.5v5.8M1732.3 264.5v5.8M1737.2 264.5v5.8M1740.9 264.5v5.8M1745 264.5v5.8M1760.3 264.5v5.8M1795.7 264.5v5.8M1798.1 264.5v5.8M1117.9 268.7v5.8M1138.1 268.7v5.8M1146.8 268.7v5.8M1159.5 268.7v5.8M1163.2 268.7v5.8M1170.2 268.7v5.8M1192.9 268.7v5.8M1229.9 268.7v5.8M1233.2 268.7v5.8M1254.2 268.7v5.8M1262.1 268.7v5.8M1272.8 268.7v5.8M1274 268.7v5.8M1275.6 268.7v5.8M1292.9 268.7v5.8M1327.1 268.7v5.8M1329.2 268.7v5.8M1366.2 268.7v5.8M1371.6 268.7v5.8M1372.8 268.7v5.8M1375.3 268.7v5.8M1379.4 268.7v5.8M1424.3 268.7v5.8M1426.3 268.7v5.8M1430 268.7v5.8M1432.9 268.7v5.8M1435.4 268.7v5.8M1438.3 268.7v5.8M1444 268.7v5.8M1448.2 268.7v5.8M1451.5 268.7v5.8M1453.9 268.7v5.8M1456.8 268.7v5.8M1458.9 268.7v5.8M1460.5 268.7v5.8M1463.4 268.7v5.8M1465 268.7v5.8M1467.1 268.7v5.8M1468.3 268.7v5.8M1470 268.7v5.8M1471.6 268.7v5.8M1472.9 268.7v5.8M1474.5 268.7v5.8M1475.7 268.7v5.8M1477.8 268.7v5.8M1479.9 268.7v5.8M1481.5 268.7v5.8M1483.2 268.7v5.8M1484.4 268.7v5.8M1486 268.7v5.8M1488.1 268.7v5.8M1489.3 268.7v5.8M1490.6 268.7v5.8M1492.6 268.7v5.8M1494.3 268.7v5.8M1496.3 268.7v5.8M1498.4 268.7v5.8M1499.6 268.7v5.8M1501.3 268.7v5.8M1502.5 268.7v5.8M1505 268.7v5.8M1506.2 268.7v5.8M1507.5 268.7v5.8M1509.1 268.7v5.8M1510.3 268.7v5.8M1511.6 268.7v5.8M1513.2 268.7v5.8M1514.9 268.7v5.8M1517.3 268.7v5.8M1519 268.7v5.8M1520.2 268.7v5.8M1522.3 268.7v5.8M1524.3 268.7v5.8M1526 268.7v5.8M1527.6 268.7v5.8M1528.9 268.7v5.8M1531.3 268.7v5.8M1533 268.7v5.8M1535 268.7v5.8M1538.3 268.7v5.8M1539.6 268.7v5.8M1541.6 268.7v5.8M1543.3 268.7v5.8M1545.7 268.7v5.8M1547 268.7v5.8M1548.2 268.7v5.8M1550.3 268.7v5.8M1551.5 268.7v5.8M1554 268.7v5.8M1555.6 268.7v5.8M1558.1 268.7v5.8M1559.7 268.7v5.8M1562.6 268.7v5.8M1564.3 268.7v5.8M1565.9 268.7v5.8M1568 268.7v5.8M1572.5 268.7v5.8M1574.2 268.7v5.8M1577 268.7v5.8M1580.3 268.7v5.8M1583.2 268.7v5.8M1585.7 268.7v5.8M1588.6 268.7v5.8M1591 268.7v5.8M1593.5 268.7v5.8M1595.2 268.7v5.8M1598 268.7v5.8M1599.7 268.7v5.8M1605.9 268.7v5.8M1610.4 268.7v5.8M1612 268.7v5.8M1614.9 268.7v5.8M1619.4 268.7v5.8M1625.6 268.7v5.8M1626.9 268.7v5.8M1631.8 268.7v5.8M1638 268.7v5.8M1645.8 268.7v5.8M1647.4 268.7v5.8M1649.1 268.7v5.8M1652.8 268.7v5.8M1654.9 268.7v5.8M1659.4 268.7v5.8M1663.1 268.7v5.8M1667.2 268.7v5.8M1669.7 268.7v5.8M1670.9 268.7v5.8M1677.5 268.7v5.8M1684.9 268.7v5.8M1687.4 268.7v5.8M1688.6 268.7v5.8M1690.7 268.7v5.8M1692.3 268.7v5.8M1694 268.7v5.8M1697.7 268.7v5.8M1698.9 268.7v5.8M1703.4 268.7v5.8M1708.8 268.7v5.8M1710 268.7v5.8M1713.7 268.7v5.8M1715.8 268.7v5.8M1717 268.7v5.8M1721.6 268.7v5.8M1725.3 268.7v5.8M1727.3 268.7v5.8M1729.4 268.7v5.8M1732.7 268.7v5.8M1736.4 268.7v5.8M1739.3 268.7v5.8M1745.4 268.7v5.8M1750 268.7v5.8M1755.7 268.7v5.8M1759.4 268.7v5.8M1773 268.7v5.8M1778.4 268.7v5.8M1784.6 268.7v5.8M1838.9 268.7v5.8M1841.8 268.7v5.8M1907.7 268.7v5.8M1908.9 268.7v5.8M1910.6 268.7v5.8M1915.9 268.7v5.8M1918.4 268.7v5.8M1920 268.7v5.8M1924.1 268.7v5.8M1927.4 268.7v5.8M1929.5 268.7v5.8M1932.4 268.7v5.8M1934.9 268.7v5.8M1939.8 268.7v5.8M1943.9 268.7v5.8M1946.8 268.7v5.8M1981.8 268.7v5.8M1123.3 272.9v5.8M1197.8 272.9v5.8M1433.3 272.9v5.8M1444.9 272.9v5.8M1446.5 272.9v5.8M1449.4 272.9v5.8M1451.9 272.9v5.8M1454.3 272.9v5.8M1460.9 272.9v5.8M1463 272.9v5.8M1466.7 272.9v5.8M1469.6 272.9v5.8M1472 272.9v5.8M1474.5 272.9v5.8M1475.7 272.9v5.8M1477.4 272.9v5.8M1481.9 272.9v5.8M1486.5 272.9v5.8M1491.4 272.9v5.8M1500.5 272.9v5.8M1503.3 272.9v5.8M1505.8 272.9v5.8M1507 272.9v5.8M1509.5 272.9v5.8M1512.8 272.9v5.8M1514.9 272.9v5.8M1520.6 272.9v5.8M1524.3 272.9v5.8M1527.2 272.9v5.8M1530.1 272.9v5.8M1531.7 272.9v5.8M1533.8 272.9v5.8M1535.9 272.9v5.8M1539.6 272.9v5.8M1542.9 272.9v5.8M1544.1 272.9v5.8M1546.6 272.9v5.8M1550.7 272.9v5.8M1554 272.9v5.8M1556.9 272.9v5.8M1560.6 272.9v5.8M1562.2 272.9v5.8M1564.7 272.9v5.8M1570 272.9v5.8M1574.2 272.9v5.8M1577.9 272.9v5.8M1580.7 272.9v5.8M1584.9 272.9v5.8M1587.3 272.9v5.8M1590.2 272.9v5.8M1602.6 272.9v5.8M1605.5 272.9v5.8M1608.3 272.9v5.8M1627.7 272.9v5.8M1637.6 272.9v5.8M1649.1 272.9v5.8M1660.2 272.9v5.8M1670.9 272.9v5.8M1672.2 272.9v5.8M1674.2 272.9v5.8M1676.7 272.9v5.8M1695.2 272.9v5.8M1696.9 272.9v5.8M1700.6 272.9v5.8M1711.7 272.9v5.8M1720.3 272.9v5.8M1722 272.9v5.8M1725.3 272.9v5.8M1729.4 272.9v5.8M1745 272.9v5.8M1748.3 272.9v5.8M1752.9 272.9v5.8M1755.3 272.9v5.8M1771.4 272.9v5.8M1866.5 272.9v5.8M1880.5 272.9v5.8M1883.8 272.9v5.8M1890.8 272.9v5.8M1892 272.9v5.8M1894.1 272.9v5.8M1932 272.9v5.8M1969.4 272.9v5.8M1971.9 272.9v5.8M1977.7 272.9v5.8M1123.7 277.2v5.8M1127.4 277.2v5.8M1134.4 277.2v5.8M1138.5 277.2v5.8M1227.5 277.2v5.8M1256.3 277.2v5.8M1302.8 277.2v5.8M1304.9 277.2v5.8M1357.2 277.2v5.8M1400 277.2v5.8M1405.3 277.2v5.8M1407.4 277.2v5.8M1414.4 277.2v5.8M1416 277.2v5.8M1419.3 277.2v5.8M1424.7 277.2v5.8M1429.6 277.2v5.8M1432.9 277.2v5.8M1440.8 277.2v5.8M1446.5 277.2v5.8M1453.5 277.2v5.8M1455.2 277.2v5.8M1458.5 277.2v5.8M1459.7 277.2v5.8M1463.8 277.2v5.8M1465.9 277.2v5.8M1467.1 277.2v5.8M1472.5 277.2v5.8M1474.5 277.2v5.8M1476.6 277.2v5.8M1479.9 277.2v5.8M1484 277.2v5.8M1485.2 277.2v5.8M1488.9 277.2v5.8M1491.8 277.2v5.8M1493.5 277.2v5.8M1495.9 277.2v5.8M1497.6 277.2v5.8M1500.5 277.2v5.8M1504.2 277.2v5.8M1506.6 277.2v5.8M1508.7 277.2v5.8M1510.3 277.2v5.8M1515.3 277.2v5.8M1522.7 277.2v5.8M1525.2 277.2v5.8M1527.2 277.2v5.8M1528.9 277.2v5.8M1532.6 277.2v5.8M1534.2 277.2v5.8M1536.3 277.2v5.8M1539.2 277.2v5.8M1544.1 277.2v5.8M1552.7 277.2v5.8M1556.5 277.2v5.8M1558.5 277.2v5.8M1560.6 277.2v5.8M1562.6 277.2v5.8M1566.7 277.2v5.8M1569.6 277.2v5.8M1571.7 277.2v5.8M1576.6 277.2v5.8M1579.9 277.2v5.8M1583.6 277.2v5.8M1585.7 277.2v5.8M1592.7 277.2v5.8M1599.7 277.2v5.8M1621.9 277.2v5.8M1625.6 277.2v5.8M1627.3 277.2v5.8M1645.8 277.2v5.8M1674.2 277.2v5.8M1677.9 277.2v5.8M1681.6 277.2v5.8M1685.3 277.2v5.8M1688.6 277.2v5.8M1691.1 277.2v5.8M1696.9 277.2v5.8M1701.8 277.2v5.8M1707.6 277.2v5.8M1715.4 277.2v5.8M1721.6 277.2v5.8M1722.8 277.2v5.8M1731 277.2v5.8M1740.1 277.2v5.8M1742.6 277.2v5.8M1747.1 277.2v5.8M1965.3 277.2v5.8M1181.8 281.4v5.8M1320.5 281.4v5.8M1423.9 281.4v5.8M1426.8 281.4v5.8M1430.9 281.4v5.8M1435.8 281.4v5.8M1438.3 281.4v5.8M1439.9 281.4v5.8M1444.5 281.4v5.8M1447.3 281.4v5.8M1449 281.4v5.8M1453.1 281.4v5.8M1458.9 281.4v5.8M1462.6 281.4v5.8M1464.6 281.4v5.8M1469.2 281.4v5.8M1471.2 281.4v5.8M1472.5 281.4v5.8M1474.9 281.4v5.8M1477 281.4v5.8M1481.1 281.4v5.8M1482.7 281.4v5.8M1490.2 281.4v5.8M1492.6 281.4v5.8M1495.5 281.4v5.8M1496.7 281.4v5.8M1501.7 281.4v5.8M1502.9 281.4v5.8M1508.3 281.4v5.8M1511.2 281.4v5.8M1516.1 281.4v5.8M1519.4 281.4v5.8M1523.1 281.4v5.8M1525.2 281.4v5.8M1529.3 281.4v5.8M1531.7 281.4v5.8M1535.9 281.4v5.8M1539.6 281.4v5.8M1542.9 281.4v5.8M1547.8 281.4v5.8M1550.7 281.4v5.8M1553.6 281.4v5.8M1557.3 281.4v5.8M1563 281.4v5.8M1570.5 281.4v5.8M1591 281.4v5.8M1599.3 281.4v5.8M1607.9 281.4v5.8M1640 281.4v5.8M1712.5 281.4v5.8M1822 281.4v5.8M1831.1 281.4v5.8M1129.5 285.6v5.8M1132.8 285.6v5.8M1141.4 285.6v5.8M1166.5 285.6v5.8M1183.4 285.6v5.8M1186.7 285.6v5.8M1189.2 285.6v5.8M1194.1 285.6v5.8M1195.8 285.6v5.8M1199.1 285.6v5.8M1297 285.6v5.8M1314.3 285.6v5.8M1449.8 285.6v5.8M1455.6 285.6v5.8M1458.9 285.6v5.8M1460.9 285.6v5.8M1464.2 285.6v5.8M1465.5 285.6v5.8M1471.2 285.6v5.8M1475.3 285.6v5.8M1477 285.6v5.8M1478.6 285.6v5.8M1482.3 285.6v5.8M1484.4 285.6v5.8M1488.1 285.6v5.8M1492.6 285.6v5.8M1495.5 285.6v5.8M1499.2 285.6v5.8M1500.9 285.6v5.8M1504.2 285.6v5.8M1506.2 285.6v5.8M1510.3 285.6v5.8M1511.6 285.6v5.8M1514.5 285.6v5.8M1516.1 285.6v5.8M1517.7 285.6v5.8M1519.4 285.6v5.8M1520.6 285.6v5.8M1522.7 285.6v5.8M1523.9 285.6v5.8M1525.2 285.6v5.8M1526.8 285.6v5.8M1528.5 285.6v5.8M1532.6 285.6v5.8M1533.8 285.6v5.8M1535 285.6v5.8M1536.7 285.6v5.8M1537.9 285.6v5.8M1540 285.6v5.8M1544.1 285.6v5.8M1546.2 285.6v5.8M1548.2 285.6v5.8M1551.5 285.6v5.8M1554.8 285.6v5.8M1556 285.6v5.8M1557.3 285.6v5.8M1558.5 285.6v5.8M1559.7 285.6v5.8M1562.6 285.6v5.8M1563.9 285.6v5.8M1568 285.6v5.8M1571.3 285.6v5.8M1575.4 285.6v5.8M1578.7 285.6v5.8M1582.8 285.6v5.8M1584 285.6v5.8M1585.3 285.6v5.8M1589.4 285.6v5.8M1596.8 285.6v5.8M1599.7 285.6v5.8M1605.5 285.6v5.8M1607.9 285.6v5.8M1631.8 285.6v5.8M1640.9 285.6v5.8M1652 285.6v5.8M1666 285.6v5.8M1677.1 285.6v5.8M1680.4 285.6v5.8M1682.4 285.6v5.8M1687 285.6v5.8M1696 285.6v5.8M1708 285.6v5.8M1715 285.6v5.8M1728.6 285.6v5.8M1742.6 285.6v5.8M1748.7 285.6v5.8M1758.6 285.6v5.8M1761.1 285.6v5.8M1778.4 285.6v5.8M1785.4 285.6v5.8M1845.9 285.6v5.8M1847.6 285.6v5.8M1849.6 285.6v5.8M1852.5 285.6v5.8M1857.9 285.6v5.8M1127.8 289.9v5.8M1131.5 289.9v5.8M1322.6 289.9v5.8M1325.9 289.9v5.8M1328.3 289.9v5.8M1330.8 289.9v5.8M1333.7 289.9v5.8M1337.4 289.9v5.8M1339 289.9v5.8M1341.5 289.9v5.8M1348.1 289.9v5.8M1449.4 289.9v5.8M1452.7 289.9v5.8M1459.7 289.9v5.8M1462.6 289.9v5.8M1468.7 289.9v5.8M1470.8 289.9v5.8M1472.9 289.9v5.8M1476.6 289.9v5.8M1478.6 289.9v5.8M1482.7 289.9v5.8M1484.4 289.9v5.8M1489.7 289.9v5.8M1491.8 289.9v5.8M1495.5 289.9v5.8M1497.6 289.9v5.8M1502.1 289.9v5.8M1514 289.9v5.8M1517.3 289.9v5.8M1523.9 289.9v5.8M1527.2 289.9v5.8M1533 289.9v5.8M1539.6 289.9v5.8M1545.7 289.9v5.8M1554 289.9v5.8M1572.1 289.9v5.8M1582.4 289.9v5.8M1686.6 289.9v5.8M1710.4 289.9v5.8M1712.1 289.9v5.8M1717 289.9v5.8M1727.3 289.9v5.8M1811.7 289.9v5.8M1815 289.9v5.8M1849.2 289.9v5.8M1851.3 289.9v5.8M1852.9 289.9v5.8M1855.4 289.9v5.8M1862.8 289.9v5.8M1864.4 289.9v5.8M1868.6 289.9v5.8M1871 289.9v5.8M1876.4 289.9v5.8M1878 289.9v5.8M1880.5 289.9v5.8M1884.2 289.9v5.8M1117.9 294.1v5.8M1123.3 294.1v5.8M1146.3 294.1v5.8M1438.7 294.1v5.8M1444 294.1v5.8M1448.6 294.1v5.8M1449.8 294.1v5.8M1452.3 294.1v5.8M1453.9 294.1v5.8M1460.9 294.1v5.8M1462.2 294.1v5.8M1465.5 294.1v5.8M1467.9 294.1v5.8M1470.4 294.1v5.8M1474.9 294.1v5.8M1481.1 294.1v5.8M1483.2 294.1v5.8M1487.3 294.1v5.8M1491.8 294.1v5.8M1493 294.1v5.8M1495.9 294.1v5.8M1498.4 294.1v5.8M1502.9 294.1v5.8M1505.8 294.1v5.8M1509.5 294.1v5.8M1511.2 294.1v5.8M1514 294.1v5.8M1517.7 294.1v5.8M1520.6 294.1v5.8M1522.3 294.1v5.8M1523.9 294.1v5.8M1525.2 294.1v5.8M1528 294.1v5.8M1529.7 294.1v5.8M1532.6 294.1v5.8M1535 294.1v5.8M1536.3 294.1v5.8M1538.7 294.1v5.8M1540.4 294.1v5.8M1543.3 294.1v5.8M1547 294.1v5.8M1549.9 294.1v5.8M1551.9 294.1v5.8M1553.6 294.1v5.8M1557.3 294.1v5.8M1561.8 294.1v5.8M1567.2 294.1v5.8M1568.4 294.1v5.8M1572.1 294.1v5.8M1575 294.1v5.8M1578.7 294.1v5.8M1580.3 294.1v5.8M1584.5 294.1v5.8M1592.7 294.1v5.8M1596.4 294.1v5.8M1605.5 294.1v5.8M1607.5 294.1v5.8M1611.2 294.1v5.8M1617.4 294.1v5.8M1633.9 294.1v5.8M1647.4 294.1v5.8M1649.5 294.1v5.8M1654.4 294.1v5.8M1660.2 294.1v5.8M1663.9 294.1v5.8M1671.3 294.1v5.8M1676.7 294.1v5.8M1684.5 294.1v5.8M1693.2 294.1v5.8M1698.1 294.1v5.8M1700.6 294.1v5.8M1703.4 294.1v5.8M1708.8 294.1v5.8M1711.7 294.1v5.8M1714.6 294.1v5.8M1715.8 294.1v5.8M1719.1 294.1v5.8M1722 294.1v5.8M1724.9 294.1v5.8M1729 294.1v5.8M1733.9 294.1v5.8M1741.3 294.1v5.8M1751.2 294.1v5.8M1194.1 298.3v5.8M1197.8 298.3v5.8M1199.1 298.3v5.8M1201.9 298.3v5.8M1204.8 298.3v5.8M1207.7 298.3v5.8M1211.8 298.3v5.8M1214.3 298.3v5.8M1215.5 298.3v5.8M1217.6 298.3v5.8M1222.1 298.3v5.8M1297.9 298.3v5.8M1339 298.3v5.8M1345.2 298.3v5.8M1352.6 298.3v5.8M1353.9 298.3v5.8M1368.7 298.3v5.8M1437.9 298.3v5.8M1442.4 298.3v5.8M1444.5 298.3v5.8M1447.3 298.3v5.8M1449.4 298.3v5.8M1453.1 298.3v5.8M1454.7 298.3v5.8M1458 298.3v5.8M1459.3 298.3v5.8M1461.3 298.3v5.8M1463 298.3v5.8M1464.2 298.3v5.8M1466.7 298.3v5.8M1469.2 298.3v5.8M1470.4 298.3v5.8M1472 298.3v5.8M1473.3 298.3v5.8M1475.3 298.3v5.8M1477.4 298.3v5.8M1479.9 298.3v5.8M1481.1 298.3v5.8M1484 298.3v5.8M1485.6 298.3v5.8M1488.9 298.3v5.8M1491 298.3v5.8M1493 298.3v5.8M1495.1 298.3v5.8M1498.4 298.3v5.8M1501.3 298.3v5.8M1502.9 298.3v5.8M1504.6 298.3v5.8M1505.8 298.3v5.8M1507.5 298.3v5.8M1508.7 298.3v5.8M1510.3 298.3v5.8M1511.6 298.3v5.8M1512.8 298.3v5.8M1514.9 298.3v5.8M1516.1 298.3v5.8M1518.6 298.3v5.8M1519.8 298.3v5.8M1521 298.3v5.8M1522.3 298.3v5.8M1524.7 298.3v5.8M1526.4 298.3v5.8M1527.6 298.3v5.8M1528.9 298.3v5.8M1530.5 298.3v5.8M1532.6 298.3v5.8M1533.8 298.3v5.8M1535 298.3v5.8M1537.1 298.3v5.8M1538.3 298.3v5.8M1539.6 298.3v5.8M1540.8 298.3v5.8M1542.9 298.3v5.8M1544.5 298.3v5.8M1546.2 298.3v5.8M1547.4 298.3v5.8M1549 298.3v5.8M1550.3 298.3v5.8M1551.5 298.3v5.8M1553.6 298.3v5.8M1555.6 298.3v5.8M1556.9 298.3v5.8M1559.7 298.3v5.8M1561.4 298.3v5.8M1563 298.3v5.8M1564.3 298.3v5.8M1565.9 298.3v5.8M1567.2 298.3v5.8M1570 298.3v5.8M1571.3 298.3v5.8M1572.9 298.3v5.8M1574.6 298.3v5.8M1576.6 298.3v5.8M1578.3 298.3v5.8M1580.7 298.3v5.8M1582 298.3v5.8M1583.2 298.3v5.8M1586.5 298.3v5.8M1589 298.3v5.8M1593.1 298.3v5.8M1604.2 298.3v5.8M1607.1 298.3v5.8M1613.3 298.3v5.8M1624.4 298.3v5.8M1630.2 298.3v5.8M1635.1 298.3v5.8M1644.2 298.3v5.8M1652.4 298.3v5.8M1656.1 298.3v5.8M1669.3 298.3v5.8M1672.6 298.3v5.8M1676.7 298.3v5.8M1689.4 298.3v5.8M1691.1 298.3v5.8M1699.3 298.3v5.8M1707.6 298.3v5.8M1711.3 298.3v5.8M1713.7 298.3v5.8M1719.1 298.3v5.8M1722.8 298.3v5.8M1731 298.3v5.8M1733.5 298.3v5.8M1737.6 298.3v5.8M1746.7 298.3v5.8M1752.4 298.3v5.8M1907.3 298.3v5.8M1922.9 298.3v5.8M1925 298.3v5.8M1930.3 298.3v5.8M1967 298.3v5.8M1969 298.3v5.8M1132.8 302.6v5.8M1243.1 302.6v5.8M1254.6 302.6v5.8M1264.9 302.6v5.8M1272.3 302.6v5.8M1290.5 302.6v5.8M1294.6 302.6v5.8M1339.5 302.6v5.8M1351.8 302.6v5.8M1358.4 302.6v5.8M1360 302.6v5.8M1367 302.6v5.8M1426.8 302.6v5.8M1428.4 302.6v5.8M1430 302.6v5.8M1441.6 302.6v5.8M1443.2 302.6v5.8M1448.6 302.6v5.8M1451 302.6v5.8M1452.3 302.6v5.8M1455.6 302.6v5.8M1456.8 302.6v5.8M1459.7 302.6v5.8M1462.2 302.6v5.8M1465.5 302.6v5.8M1466.7 302.6v5.8M1469.6 302.6v5.8M1472.5 302.6v5.8M1474.9 302.6v5.8M1476.6 302.6v5.8M1478.2 302.6v5.8M1481.9 302.6v5.8M1486.9 302.6v5.8M1488.9 302.6v5.8M1490.2 302.6v5.8M1492.6 302.6v5.8M1496.3 302.6v5.8M1498.8 302.6v5.8M1500.5 302.6v5.8M1505 302.6v5.8M1507 302.6v5.8M1509.5 302.6v5.8M1512.4 302.6v5.8M1514 302.6v5.8M1516.9 302.6v5.8M1519 302.6v5.8M1521.5 302.6v5.8M1523.5 302.6v5.8M1524.7 302.6v5.8M1526.8 302.6v5.8M1529.3 302.6v5.8M1534.6 302.6v5.8M1538.7 302.6v5.8M1540.8 302.6v5.8M1545.3 302.6v5.8M1547 302.6v5.8M1548.6 302.6v5.8M1551.5 302.6v5.8M1552.7 302.6v5.8M1556 302.6v5.8M1558.1 302.6v5.8M1561.8 302.6v5.8M1565.1 302.6v5.8M1568.4 302.6v5.8M1591.9 302.6v5.8M1602.2 302.6v5.8M1603.8 302.6v5.8M1659.8 302.6v5.8M1663.9 302.6v5.8M1705.5 302.6v5.8M1718.3 302.6v5.8M1724 302.6v5.8M1726.9 302.6v5.8M1739.7 302.6v5.8M1768.9 302.6v5.8M1885.9 302.6v5.8M1197.4 306.8v5.8M1339.9 306.8v5.8M1364.6 306.8v5.8M1366.6 306.8v5.8M1399.6 306.8v5.8M1416 306.8v5.8M1435.4 306.8v5.8M1440.8 306.8v5.8M1443.6 306.8v5.8M1446.9 306.8v5.8M1449 306.8v5.8M1450.6 306.8v5.8M1453.5 306.8v5.8M1456 306.8v5.8M1459.7 306.8v5.8M1462.2 306.8v5.8M1466.3 306.8v5.8M1469.2 306.8v5.8M1472.9 306.8v5.8M1474.5 306.8v5.8M1476.2 306.8v5.8M1479 306.8v5.8M1481.5 306.8v5.8M1484.4 306.8v5.8M1486.5 306.8v5.8M1490.6 306.8v5.8M1492.6 306.8v5.8M1495.1 306.8v5.8M1496.3 306.8v5.8M1498.4 306.8v5.8M1500 306.8v5.8M1502.9 306.8v5.8M1505 306.8v5.8M1507 306.8v5.8M1509.1 306.8v5.8M1510.7 306.8v5.8M1514 306.8v5.8M1515.7 306.8v5.8M1516.9 306.8v5.8M1518.6 306.8v5.8M1521 306.8v5.8M1522.7 306.8v5.8M1524.3 306.8v5.8M1526.8 306.8v5.8M1530.5 306.8v5.8M1532.6 306.8v5.8M1535 306.8v5.8M1537.1 306.8v5.8M1541.6 306.8v5.8M1542.9 306.8v5.8M1545.7 306.8v5.8M1548.2 306.8v5.8M1549.5 306.8v5.8M1551.5 306.8v5.8M1553.2 306.8v5.8M1554.8 306.8v5.8M1556.9 306.8v5.8M1558.1 306.8v5.8M1561 306.8v5.8M1563 306.8v5.8M1565.9 306.8v5.8M1567.6 306.8v5.8M1571.7 306.8v5.8M1577.9 306.8v5.8M1583.2 306.8v5.8M1593.9 306.8v5.8M1596 306.8v5.8M1597.6 306.8v5.8M1599.7 306.8v5.8M1610 306.8v5.8M1611.6 306.8v5.8M1622.3 306.8v5.8M1635.9 306.8v5.8M1640 306.8v5.8M1642.9 306.8v5.8M1654.4 306.8v5.8M1656.9 306.8v5.8M1659 306.8v5.8M1663.1 306.8v5.8M1665.6 306.8v5.8M1684.5 306.8v5.8M1691.5 306.8v5.8M1697.7 306.8v5.8M1702.6 306.8v5.8M1704.7 306.8v5.8M1713.7 306.8v5.8M1726.5 306.8v5.8M1733.5 306.8v5.8M1737.6 306.8v5.8M1745.9 306.8v5.8M1761.1 306.8v5.8M1948.8 306.8v5.8M1956.7 306.8v5.8M1124.9 311v5.8M1152.9 311v5.8M1183.4 311v5.8M1185.1 311v5.8M1188.8 311v5.8M1215.1 311v5.8M1441.6 311v5.8M1442.8 311v5.8M1446.5 311v5.8M1448.2 311v5.8M1450.2 311v5.8M1452.7 311v5.8M1455.2 311v5.8M1457.2 311v5.8M1460.1 311v5.8M1463.4 311v5.8M1465.5 311v5.8M1466.7 311v5.8M1468.7 311v5.8M1470 311v5.8M1471.6 311v5.8M1473.7 311v5.8M1475.3 311v5.8M1476.6 311v5.8M1477.8 311v5.8M1480.3 311v5.8M1481.5 311v5.8M1482.7 311v5.8M1484.8 311v5.8M1486 311v5.8M1487.7 311v5.8M1488.9 311v5.8M1490.2 311v5.8M1493 311v5.8M1494.7 311v5.8M1496.3 311v5.8M1498 311v5.8M1500 311v5.8M1502.1 311v5.8M1504.2 311v5.8M1505.4 311v5.8M1507 311v5.8M1508.3 311v5.8M1509.5 311v5.8M1510.7 311v5.8M1512 311v5.8M1514 311v5.8M1515.3 311v5.8M1516.9 311v5.8M1518.2 311v5.8M1519.4 311v5.8M1521.5 311v5.8M1523.1 311v5.8M1528 311v5.8M1532.2 311v5.8M1534.6 311v5.8M1536.3 311v5.8M1537.9 311v5.8M1541.2 311v5.8M1544.9 311v5.8M1547 311v5.8M1551.1 311v5.8M1553.2 311v5.8M1556.5 311v5.8M1561.4 311v5.8M1565.9 311v5.8M1567.6 311v5.8M1570.9 311v5.8M1575 311v5.8M1579.9 311v5.8M1582.8 311v5.8M1585.7 311v5.8M1589 311v5.8M1591.9 311v5.8M1595.2 311v5.8M1599.7 311v5.8M1603.4 311v5.8M1608.7 311v5.8M1614.9 311v5.8M1618.6 311v5.8M1631 311v5.8M1636.7 311v5.8M1641.3 311v5.8M1644.6 311v5.8M1652.8 311v5.8M1656.5 311v5.8M1660.2 311v5.8M1667.6 311v5.8M1671.3 311v5.8M1673 311v5.8M1675.9 311v5.8M1677.5 311v5.8M1679.2 311v5.8M1680.8 311v5.8M1682.9 311v5.8M1687 311v5.8M1692.3 311v5.8M1699.3 311v5.8M1704.7 311v5.8M1713.3 311v5.8M1719.9 311v5.8M1734.7 311v5.8M1737.6 311v5.8M1739.7 311v5.8M1748.3 311v5.8M1753.7 311v5.8M1756.6 311v5.8M1760.7 311v5.8M1812.1 311v5.8M1125.8 315.2v5.8M1127.8 315.2v5.8M1133.6 315.2v5.8M1174.8 315.2v5.8M1252.6 315.2v5.8M1254.2 315.2v5.8M1278.1 315.2v5.8M1285.9 315.2v5.8M1299.9 315.2v5.8M1303.6 315.2v5.8M1306.1 315.2v5.8M1308.6 315.2v5.8M1348.9 315.2v5.8M1350.2 315.2v5.8M1412.3 315.2v5.8M1422.2 315.2v5.8M1424.7 315.2v5.8M1428 315.2v5.8M1429.2 315.2v5.8M1435.8 315.2v5.8M1438.3 315.2v5.8M1442.8 315.2v5.8M1444 315.2v5.8M1446.5 315.2v5.8M1450.6 315.2v5.8M1453.5 315.2v5.8M1456 315.2v5.8M1458.9 315.2v5.8M1460.1 315.2v5.8M1461.3 315.2v5.8M1462.6 315.2v5.8M1464.6 315.2v5.8M1466.3 315.2v5.8M1468.3 315.2v5.8M1470.4 315.2v5.8M1472.9 315.2v5.8M1474.1 315.2v5.8M1477.4 315.2v5.8M1479 315.2v5.8M1480.3 315.2v5.8M1481.9 315.2v5.8M1484 315.2v5.8M1485.2 315.2v5.8M1486.9 315.2v5.8M1488.1 315.2v5.8M1490.2 315.2v5.8M1491.8 315.2v5.8M1494.7 315.2v5.8M1496.3 315.2v5.8M1498 315.2v5.8M1499.6 315.2v5.8M1501.7 315.2v5.8M1502.9 315.2v5.8M1504.2 315.2v5.8M1505.4 315.2v5.8M1507 315.2v5.8M1509.5 315.2v5.8M1511.6 315.2v5.8M1513.2 315.2v5.8M1514.5 315.2v5.8M1516.1 315.2v5.8M1517.3 315.2v5.8M1519 315.2v5.8M1521 315.2v5.8M1524.7 315.2v5.8M1526.4 315.2v5.8M1528.5 315.2v5.8M1532.2 315.2v5.8M1534.6 315.2v5.8M1537.1 315.2v5.8M1539.2 315.2v5.8M1541.6 315.2v5.8M1543.3 315.2v5.8M1545.3 315.2v5.8M1546.6 315.2v5.8M1549.5 315.2v5.8M1552.3 315.2v5.8M1556.5 315.2v5.8M1558.1 315.2v5.8M1563.9 315.2v5.8M1565.5 315.2v5.8M1568.8 315.2v5.8M1570 315.2v5.8M1574.6 315.2v5.8M1579.1 315.2v5.8M1582.4 315.2v5.8M1586.1 315.2v5.8M1592.7 315.2v5.8M1596.8 315.2v5.8M1600.1 315.2v5.8M1605.9 315.2v5.8M1607.5 315.2v5.8M1612 315.2v5.8M1614.5 315.2v5.8M1619 315.2v5.8M1626 315.2v5.8M1629.3 315.2v5.8M1633 315.2v5.8M1641.3 315.2v5.8M1643.3 315.2v5.8M1648.3 315.2v5.8M1655.7 315.2v5.8M1658.2 315.2v5.8M1667.2 315.2v5.8M1673.8 315.2v5.8M1684.1 315.2v5.8M1688.6 315.2v5.8M1691.1 315.2v5.8M1696.9 315.2v5.8M1702.2 315.2v5.8M1710.4 315.2v5.8M1712.1 315.2v5.8M1715 315.2v5.8M1718.3 315.2v5.8M1725.3 315.2v5.8M1736.8 315.2v5.8M1743 315.2v5.8M1744.6 315.2v5.8M1746.7 315.2v5.8M1760.7 315.2v5.8M1889.1 315.2v5.8M1114.2 319.5v5.8M1116.7 319.5v5.8M1437 319.5v5.8M1446.1 319.5v5.8M1449.4 319.5v5.8M1452.7 319.5v5.8M1455.2 319.5v5.8M1456.4 319.5v5.8M1460.1 319.5v5.8M1463 319.5v5.8M1464.2 319.5v5.8M1466.7 319.5v5.8M1468.7 319.5v5.8M1470.4 319.5v5.8M1471.6 319.5v5.8M1472.9 319.5v5.8M1475.7 319.5v5.8M1477.8 319.5v5.8M1480.3 319.5v5.8M1483.2 319.5v5.8M1485.2 319.5v5.8M1489.3 319.5v5.8M1492.2 319.5v5.8M1494.7 319.5v5.8M1495.9 319.5v5.8M1498 319.5v5.8M1499.2 319.5v5.8M1500.9 319.5v5.8M1502.5 319.5v5.8M1505 319.5v5.8M1506.2 319.5v5.8M1508.3 319.5v5.8M1509.5 319.5v5.8M1512.8 319.5v5.8M1515.7 319.5v5.8M1519.4 319.5v5.8M1521.9 319.5v5.8M1523.1 319.5v5.8M1526 319.5v5.8M1528.5 319.5v5.8M1531.7 319.5v5.8M1534.2 319.5v5.8M1537.5 319.5v5.8M1540.8 319.5v5.8M1544.9 319.5v5.8M1547.4 319.5v5.8M1552.3 319.5v5.8M1556 319.5v5.8M1559.7 319.5v5.8M1563.5 319.5v5.8M1565.5 319.5v5.8M1570.5 319.5v5.8M1575.4 319.5v5.8M1578.7 319.5v5.8M1583.2 319.5v5.8M1600.1 319.5v5.8M1626.9 319.5v5.8M1642.1 319.5v5.8M1646.6 319.5v5.8M1667.6 319.5v5.8M1668.9 319.5v5.8M1670.5 319.5v5.8M1679.6 319.5v5.8M1682.9 319.5v5.8M1692.3 319.5v5.8M1696 319.5v5.8M1700.2 319.5v5.8M1706.7 319.5v5.8M1713.3 319.5v5.8M1724.9 319.5v5.8M1728.6 319.5v5.8M1762.3 319.5v5.8M1763.6 319.5v5.8M1765.2 319.5v5.8M1766.4 319.5v5.8M1776.7 319.5v5.8M1840.1 319.5v5.8M1861.1 319.5v5.8M1865.7 319.5v5.8M1871.9 319.5v5.8M1873.5 319.5v5.8M1876.4 319.5v5.8M1880.9 319.5v5.8M1127.4 323.7v5.8M1152.9 323.7v5.8M1157.1 323.7v5.8M1170.6 323.7v5.8M1186.7 323.7v5.8M1217.2 323.7v5.8M1271.9 323.7v5.8M1278.1 323.7v5.8M1283.1 323.7v5.8M1291.3 323.7v5.8M1294.6 323.7v5.8M1309.4 323.7v5.8M1456 323.7v5.8M1459.3 323.7v5.8M1460.5 323.7v5.8M1464.6 323.7v5.8M1469.2 323.7v5.8M1472.5 323.7v5.8M1475.3 323.7v5.8M1477 323.7v5.8M1478.2 323.7v5.8M1480.3 323.7v5.8M1485.2 323.7v5.8M1487.3 323.7v5.8M1489.7 323.7v5.8M1491 323.7v5.8M1493 323.7v5.8M1495.1 323.7v5.8M1498 323.7v5.8M1502.1 323.7v5.8M1504.6 323.7v5.8M1507.9 323.7v5.8M1510.7 323.7v5.8M1514 323.7v5.8M1517.7 323.7v5.8M1519.4 323.7v5.8M1521.5 323.7v5.8M1523.9 323.7v5.8M1525.2 323.7v5.8M1527.6 323.7v5.8M1529.7 323.7v5.8M1534.6 323.7v5.8M1535.9 323.7v5.8M1538.7 323.7v5.8M1541.2 323.7v5.8M1542.9 323.7v5.8M1545.7 323.7v5.8M1547.8 323.7v5.8M1551.1 323.7v5.8M1553.2 323.7v5.8M1556.5 323.7v5.8M1560.2 323.7v5.8M1563 323.7v5.8M1569.6 323.7v5.8M1571.3 323.7v5.8M1575.8 323.7v5.8M1579.5 323.7v5.8M1582.4 323.7v5.8M1583.6 323.7v5.8M1586.5 323.7v5.8M1589.8 323.7v5.8M1591.9 323.7v5.8M1597.6 323.7v5.8M1609.2 323.7v5.8M1615.7 323.7v5.8M1625.6 323.7v5.8M1626.9 323.7v5.8M1636.7 323.7v5.8M1640.9 323.7v5.8M1652 323.7v5.8M1661.4 323.7v5.8M1687 323.7v5.8M1688.6 323.7v5.8M1694.4 323.7v5.8M1704.3 323.7v5.8M1709.2 323.7v5.8M1716.2 323.7v5.8M1722 323.7v5.8M1727.3 323.7v5.8M1743.8 323.7v5.8M1753.3 323.7v5.8M1915.9 323.7v5.8M1918 323.7v5.8M1962.8 323.7v5.8M1966.1 323.7v5.8M1969 323.7v5.8M1972.7 323.7v5.8M1976.8 323.7v5.8M1182.2 327.9v5.8M1202.8 327.9v5.8M1208.5 327.9v5.8M1277.3 327.9v5.8M1286.8 327.9v5.8M1350.6 327.9v5.8M1353 327.9v5.8M1356.8 327.9v5.8M1412.3 327.9v5.8M1422.2 327.9v5.8M1443.6 327.9v5.8M1447.3 327.9v5.8M1449.4 327.9v5.8M1450.6 327.9v5.8M1452.7 327.9v5.8M1455.6 327.9v5.8M1460.1 327.9v5.8M1461.3 327.9v5.8M1463.4 327.9v5.8M1465.5 327.9v5.8M1468.3 327.9v5.8M1471.2 327.9v5.8M1472.9 327.9v5.8M1477.4 327.9v5.8M1479 327.9v5.8M1482.7 327.9v5.8M1486.5 327.9v5.8M1488.1 327.9v5.8M1492.2 327.9v5.8M1494.7 327.9v5.8M1496.7 327.9v5.8M1498.4 327.9v5.8M1499.6 327.9v5.8M1502.9 327.9v5.8M1505.4 327.9v5.8M1507 327.9v5.8M1509.5 327.9v5.8M1511.2 327.9v5.8M1513.2 327.9v5.8M1515.3 327.9v5.8M1516.9 327.9v5.8M1518.2 327.9v5.8M1521.9 327.9v5.8M1525.6 327.9v5.8M1530.9 327.9v5.8M1533.8 327.9v5.8M1535.5 327.9v5.8M1537.5 327.9v5.8M1540 327.9v5.8M1542 327.9v5.8M1544.1 327.9v5.8M1547.4 327.9v5.8M1549.9 327.9v5.8M1555.2 327.9v5.8M1556.5 327.9v5.8M1558.5 327.9v5.8M1563 327.9v5.8M1565.1 327.9v5.8M1568 327.9v5.8M1572.9 327.9v5.8M1577 327.9v5.8M1580.3 327.9v5.8M1584.9 327.9v5.8M1594.7 327.9v5.8M1601.3 327.9v5.8M1603.4 327.9v5.8M1608.7 327.9v5.8M1619 327.9v5.8M1621.5 327.9v5.8M1633 327.9v5.8M1659 327.9v5.8M1688.6 327.9v5.8M1690.3 327.9v5.8M1709.2 327.9v5.8M1711.3 327.9v5.8M1717.9 327.9v5.8M1740.9 327.9v5.8M1743.4 327.9v5.8M1750.8 327.9v5.8M1117.5 332.2v5.8M1119.6 332.2v5.8M1198.2 332.2v5.8M1200.3 332.2v5.8M1241.5 332.2v5.8M1243.1 332.2v5.8M1257.5 332.2v5.8M1258.8 332.2v5.8M1264.9 332.2v5.8M1266.6 332.2v5.8M1297.9 332.2v5.8M1302.4 332.2v5.8M1313.9 332.2v5.8M1319.7 332.2v5.8M1333.7 332.2v5.8M1368.7 332.2v5.8M1369.9 332.2v5.8M1373.6 332.2v5.8M1430 332.2v5.8M1433.3 332.2v5.8M1435.4 332.2v5.8M1445.3 332.2v5.8M1448.6 332.2v5.8M1450.2 332.2v5.8M1453.1 332.2v5.8M1455.2 332.2v5.8M1456.8 332.2v5.8M1458.5 332.2v5.8M1461.7 332.2v5.8M1465.5 332.2v5.8M1468.7 332.2v5.8M1471.2 332.2v5.8M1473.3 332.2v5.8M1475.7 332.2v5.8M1477.8 332.2v5.8M1479.9 332.2v5.8M1481.9 332.2v5.8M1483.6 332.2v5.8M1486 332.2v5.8M1487.7 332.2v5.8M1488.9 332.2v5.8M1490.6 332.2v5.8M1493 332.2v5.8M1494.7 332.2v5.8M1496.7 332.2v5.8M1498 332.2v5.8M1499.6 332.2v5.8M1502.1 332.2v5.8M1504.6 332.2v5.8M1506.2 332.2v5.8M1507.5 332.2v5.8M1511.2 332.2v5.8M1512.4 332.2v5.8M1513.6 332.2v5.8M1515.7 332.2v5.8M1516.9 332.2v5.8M1518.6 332.2v5.8M1520.2 332.2v5.8M1522.3 332.2v5.8M1523.5 332.2v5.8M1526 332.2v5.8M1527.6 332.2v5.8M1530.9 332.2v5.8M1532.2 332.2v5.8M1533.4 332.2v5.8M1536.3 332.2v5.8M1537.5 332.2v5.8M1538.7 332.2v5.8M1541.2 332.2v5.8M1543.7 332.2v5.8M1546.2 332.2v5.8M1549.9 332.2v5.8M1553.6 332.2v5.8M1554.8 332.2v5.8M1558.9 332.2v5.8M1560.2 332.2v5.8M1563 332.2v5.8M1565.9 332.2v5.8M1568.4 332.2v5.8M1571.7 332.2v5.8M1577.5 332.2v5.8M1579.1 332.2v5.8M1587.3 332.2v5.8M1594.7 332.2v5.8M1613.7 332.2v5.8M1621.5 332.2v5.8M1625.2 332.2v5.8M1637.2 332.2v5.8M1647.4 332.2v5.8M1670.9 332.2v5.8M1686.2 332.2v5.8M1690.3 332.2v5.8M1699.7 332.2v5.8M1703.4 332.2v5.8M1710.4 332.2v5.8M1718.3 332.2v5.8M1730.2 332.2v5.8M1745.4 332.2v5.8M1771 332.2v5.8M1789.1 332.2v5.8M1122.1 336.4v5.8M1124.9 336.4v5.8M1150.1 336.4v5.8M1239 336.4v5.8M1243.9 336.4v5.8M1250.1 336.4v5.8M1251.3 336.4v5.8M1257.9 336.4v5.8M1314.8 336.4v5.8M1430.5 336.4v5.8M1433.3 336.4v5.8M1438.7 336.4v5.8M1441.6 336.4v5.8M1449.4 336.4v5.8M1454.3 336.4v5.8M1456.4 336.4v5.8M1457.6 336.4v5.8M1461.3 336.4v5.8M1463.4 336.4v5.8M1467.1 336.4v5.8M1469.2 336.4v5.8M1471.2 336.4v5.8M1473.3 336.4v5.8M1474.9 336.4v5.8M1477 336.4v5.8M1478.2 336.4v5.8M1480.3 336.4v5.8M1482.3 336.4v5.8M1484.8 336.4v5.8M1488.5 336.4v5.8M1491.4 336.4v5.8M1493 336.4v5.8M1495.1 336.4v5.8M1497.2 336.4v5.8M1498.8 336.4v5.8M1500 336.4v5.8M1502.1 336.4v5.8M1504.2 336.4v5.8M1506.2 336.4v5.8M1508.3 336.4v5.8M1509.5 336.4v5.8M1511.2 336.4v5.8M1513.2 336.4v5.8M1514.5 336.4v5.8M1516.1 336.4v5.8M1517.3 336.4v5.8M1519.4 336.4v5.8M1521.5 336.4v5.8M1522.7 336.4v5.8M1524.7 336.4v5.8M1526 336.4v5.8M1527.6 336.4v5.8M1530.9 336.4v5.8M1532.2 336.4v5.8M1533.4 336.4v5.8M1534.6 336.4v5.8M1536.3 336.4v5.8M1538.3 336.4v5.8M1540 336.4v5.8M1541.6 336.4v5.8M1542.9 336.4v5.8M1544.5 336.4v5.8M1547.4 336.4v5.8M1549.5 336.4v5.8M1551.9 336.4v5.8M1553.6 336.4v5.8M1555.2 336.4v5.8M1556.5 336.4v5.8M1557.7 336.4v5.8M1558.9 336.4v5.8M1562.6 336.4v5.8M1564.3 336.4v5.8M1565.5 336.4v5.8M1568 336.4v5.8M1569.2 336.4v5.8M1570.9 336.4v5.8M1572.5 336.4v5.8M1574.2 336.4v5.8M1577.9 336.4v5.8M1579.9 336.4v5.8M1581.2 336.4v5.8M1582.8 336.4v5.8M1584.9 336.4v5.8M1588.6 336.4v5.8M1590.2 336.4v5.8M1592.3 336.4v5.8M1595.2 336.4v5.8M1598.9 336.4v5.8M1600.9 336.4v5.8M1603 336.4v5.8M1605.5 336.4v5.8M1609.2 336.4v5.8M1613.3 336.4v5.8M1617 336.4v5.8M1619 336.4v5.8M1622.7 336.4v5.8M1625.6 336.4v5.8M1628.9 336.4v5.8M1632.2 336.4v5.8M1633.9 336.4v5.8M1637.6 336.4v5.8M1639.2 336.4v5.8M1643.7 336.4v5.8M1650.7 336.4v5.8M1653.6 336.4v5.8M1659.4 336.4v5.8M1661.4 336.4v5.8M1667.2 336.4v5.8M1670.9 336.4v5.8M1675.4 336.4v5.8M1684.9 336.4v5.8M1687 336.4v5.8M1693.6 336.4v5.8M1705.9 336.4v5.8M1714.6 336.4v5.8M1721.2 336.4v5.8M1726.1 336.4v5.8M1732.7 336.4v5.8M1740.9 336.4v5.8M1859.9 336.4v5.8M1862.4 336.4v5.8M1934.9 336.4v5.8M1936.1 336.4v5.8M1115.5 340.6v5.8M1119.6 340.6v5.8M1250.1 340.6v5.8M1256.3 340.6v5.8M1263.3 340.6v5.8M1268.2 340.6v5.8M1273.6 340.6v5.8M1276.1 340.6v5.8M1278.1 340.6v5.8M1283.1 340.6v5.8M1290.5 340.6v5.8M1299.9 340.6v5.8M1302.4 340.6v5.8M1308.6 340.6v5.8M1380.2 340.6v5.8M1393.8 340.6v5.8M1436.2 340.6v5.8M1439.9 340.6v5.8M1441.2 340.6v5.8M1444.5 340.6v5.8M1449.8 340.6v5.8M1451 340.6v5.8M1453.1 340.6v5.8M1455.6 340.6v5.8M1458 340.6v5.8M1461.3 340.6v5.8M1463.8 340.6v5.8M1465.5 340.6v5.8M1466.7 340.6v5.8M1468.3 340.6v5.8M1470.8 340.6v5.8M1472 340.6v5.8M1475.3 340.6v5.8M1477.4 340.6v5.8M1478.6 340.6v5.8M1481.1 340.6v5.8M1483.2 340.6v5.8M1485.2 340.6v5.8M1487.3 340.6v5.8M1490.6 340.6v5.8M1491.8 340.6v5.8M1493.9 340.6v5.8M1495.5 340.6v5.8M1500 340.6v5.8M1501.7 340.6v5.8M1505.4 340.6v5.8M1509.5 340.6v5.8M1511.2 340.6v5.8M1513.2 340.6v5.8M1514.9 340.6v5.8M1516.9 340.6v5.8M1519.4 340.6v5.8M1521 340.6v5.8M1522.3 340.6v5.8M1523.9 340.6v5.8M1526 340.6v5.8M1528.9 340.6v5.8M1531.7 340.6v5.8M1533 340.6v5.8M1534.6 340.6v5.8M1536.3 340.6v5.8M1537.9 340.6v5.8M1539.6 340.6v5.8M1542 340.6v5.8M1543.3 340.6v5.8M1545.3 340.6v5.8M1547.8 340.6v5.8M1550.7 340.6v5.8M1551.9 340.6v5.8M1555.6 340.6v5.8M1558.1 340.6v5.8M1560.6 340.6v5.8M1562.2 340.6v5.8M1565.9 340.6v5.8M1570.9 340.6v5.8M1572.5 340.6v5.8M1580.3 340.6v5.8M1584.9 340.6v5.8M1589 340.6v5.8M1595.2 340.6v5.8M1599.7 340.6v5.8M1601.3 340.6v5.8M1607.5 340.6v5.8M1612 340.6v5.8M1621.5 340.6v5.8M1626.9 340.6v5.8M1655.7 340.6v5.8M1662.3 340.6v5.8M1667.6 340.6v5.8M1671.7 340.6v5.8M1680.4 340.6v5.8M1682.4 340.6v5.8M1691.5 340.6v5.8M1696.9 340.6v5.8M1705.9 340.6v5.8M1712.1 340.6v5.8M1718.7 340.6v5.8M1722.8 340.6v5.8M1724.4 340.6v5.8M1727.7 340.6v5.8M1731.9 340.6v5.8M1741.3 340.6v5.8M1791.6 340.6v5.8M1792.8 340.6v5.8M1811.7 340.6v5.8M1850.9 340.6v5.8M1115.5 344.9v5.8M1122.5 344.9v5.8M1124.1 344.9v5.8M1130.7 344.9v5.8M1132.8 344.9v5.8M1136.1 344.9v5.8M1139.8 344.9v5.8M1141.8 344.9v5.8M1146.3 344.9v5.8M1152.9 344.9v5.8M1159.1 344.9v5.8M1161.6 344.9v5.8M1230.3 344.9v5.8M1234.9 344.9v5.8M1314.8 344.9v5.8M1319.3 344.9v5.8M1409.5 344.9v5.8M1436.2 344.9v5.8M1444.9 344.9v5.8M1449.8 344.9v5.8M1457.2 344.9v5.8M1459.7 344.9v5.8M1464.6 344.9v5.8M1467.1 344.9v5.8M1469.6 344.9v5.8M1478.2 344.9v5.8M1480.7 344.9v5.8M1485.6 344.9v5.8M1489.7 344.9v5.8M1492.2 344.9v5.8M1493.5 344.9v5.8M1494.7 344.9v5.8M1497.6 344.9v5.8M1501.7 344.9v5.8M1504.6 344.9v5.8M1507.9 344.9v5.8M1513.6 344.9v5.8M1514.9 344.9v5.8M1517.7 344.9v5.8M1519.8 344.9v5.8M1525.6 344.9v5.8M1527.2 344.9v5.8M1530.5 344.9v5.8M1533 344.9v5.8M1539.2 344.9v5.8M1545.3 344.9v5.8M1548.6 344.9v5.8M1556.9 344.9v5.8M1558.5 344.9v5.8M1568 344.9v5.8M1574.6 344.9v5.8M1580.3 344.9v5.8M1582 344.9v5.8M1583.2 344.9v5.8M1642.5 344.9v5.8M1656.5 344.9v5.8M1660.2 344.9v5.8M1661.9 344.9v5.8M1681.6 344.9v5.8M1692.3 344.9v5.8M1694.4 344.9v5.8M1707.6 344.9v5.8M1728.6 344.9v5.8M1752.4 344.9v5.8M1757 344.9v5.8M1955.8 344.9v5.8M1957.5 344.9v5.8M1960 344.9v5.8M1964.5 344.9v5.8M1970.3 344.9v5.8M1972.3 344.9v5.8" fill="none" stroke="#DD8452" stroke-width="3.2" clip-path="url(#rb)"/><path d="M1115.5 347.1v0.8M1122.5 347.1v0.8M1124.1 347.1v0.8M1130.7 347.1v0.8M1132.8 347.1v0.8M1136.1 347.1v0.8M1139.8 347.1v0.8M1141.8 347.1v0.8M1146.3 347.1v0.8M1152.9 347.1v0.8M1159.1 347.1v0.8M1161.6 347.1v0.8M1230.3 347.1v0.8M1234.9 347.1v0.8M1314.8 347.1v0.8M1319.3 347.1v0.8M1409.5 347.1v0.8M1436.2 347.1v0.8M1444.9 347.1v0.8M1449.8 347.1v0.8M1457.2 347.1v0.8M1459.7 347.1v0.8M1464.6 347.1v0.8M1467.1 347.1v0.8M1469.6 347.1v0.8M1478.2 347.1v0.8M1480.7 347.1v0.8M1485.6 347.1v0.8M1489.7 347.1v0.8M1492.2 347.1v0.8M1493.5 347.1v0.8M1494.7 347.1v0.8M1497.6 347.1v0.8M1501.7 347.1v0.8M1504.6 347.1v0.8M1507.9 347.1v0.8M1513.6 347.1v0.8M1514.9 347.1v0.8M1517.7 347.1v0.8M1519.8 347.1v0.8M1525.6 347.1v0.8M1527.2 347.1v0.8M1530.5 347.1v0.8M1533 347.1v0.8M1539.2 347.1v0.8M1545.3 347.1v0.8M1548.6 347.1v0.8M1556.9 347.1v0.8M1558.5 347.1v0.8M1568 347.1v0.8M1574.6 347.1v0.8M1580.3 347.1v0.8M1582 347.1v0.8M1583.2 347.1v0.8M1642.5 347.1v0.8M1656.5 347.1v0.8M1660.2 347.1v0.8M1661.9 347.1v0.8M1681.6 347.1v0.8M1692.3 347.1v0.8M1694.4 347.1v0.8M1707.6 347.1v0.8M1728.6 347.1v0.8M1752.4 347.1v0.8M1757 347.1v0.8M1955.8 347.1v0.8M1957.5 347.1v0.8M1960 347.1v0.8M1964.5 347.1v0.8M1970.3 347.1v0.8M1972.3 347.1v0.8" fill="none" stroke="#DD8452" stroke-width="3.2" stroke-opacity="0.45"/><polyline points="356.00,42.90 358.02,44.91 360.05,41.37 362.07,46.85 364.10,39.34 366.12,48.21 368.15,36.94 370.18,48.27 372.20,37.82 374.23,48.32 376.25,36.20 378.28,48.38 380.30,35.57 382.33,48.59 384.35,35.16 386.38,48.91 388.40,34.42 390.43,49.25 392.45,33.18 394.48,49.76 396.50,32.29 398.53,50.41 400.55,30.82 401.04,45.01 401.44,40.21 401.89,51.75 402.37,41.18 402.82,46.48 403.26,40.88 403.71,47.05 404.15,40.05 404.60,28.80 405.09,48.41 405.49,40.32 405.94,52.59 406.42,41.01 406.87,50.62 407.31,40.07 407.76,50.27 408.20,39.51 408.65,26.04 409.14,50.86 409.54,39.53 409.99,53.89 410.47,39.34 410.92,52.52 411.36,39.04 411.81,51.98 412.25,39.04 412.70,23.87 413.19,52.57 413.59,36.73 414.04,56.14 414.52,36.82 414.97,54.63 415.41,36.81 415.86,54.24 416.30,37.66 416.75,21.52 417.24,55.38 417.64,34.54 418.09,60.72 418.57,35.01 419.02,58.35 419.46,35.10 419.91,57.59 420.35,36.26 420.80,18.37 421.29,58.73 421.69,32.53 422.14,65.00 422.62,33.21 423.07,62.07 423.51,33.40 423.96,60.94 424.40,34.85 424.85,15.61 425.34,62.08 425.74,30.53 426.19,67.22 426.67,31.43 427.12,64.90 427.56,32.04 428.01,63.02 428.45,34.00 428.90,13.05 429.39,63.43 429.79,29.87 430.24,69.06 430.72,31.17 431.17,66.24 431.61,31.79 432.06,64.22 432.50,33.80 432.95,11.36 433.44,64.64 433.84,29.59 434.29,71.41 434.77,30.91 435.22,67.58 435.66,31.55 436.11,65.43 436.55,33.60 437.00,10.16 437.49,65.84 437.89,29.30 438.34,73.73 438.82,30.65 439.27,68.93 439.71,31.30 440.16,66.64 440.60,33.39 441.05,8.49 441.54,66.87 441.94,29.18 442.39,75.27 442.87,30.66 443.32,69.66 443.76,31.42 444.21,67.11 444.65,33.57 445.10,5.24 445.59,67.24 445.99,29.45 446.44,76.59 446.92,30.90 447.37,70.06 447.81,31.65 448.26,67.47 448.70,33.76 449.15,2.90 449.64,67.60 450.04,29.72 450.49,77.34 450.97,31.14 451.42,70.40 451.86,31.87 452.31,67.70 452.75,33.95 453.20,2.20 453.69,67.70 454.09,29.99 454.54,77.84 455.02,31.38 455.47,70.40 455.91,32.10 456.36,67.70 456.80,34.14 457.25,1.08 457.74,67.70 458.14,30.26 458.59,78.28 459.07,31.63 459.52,70.40 459.96,32.33 460.41,67.70 460.85,33.79 461.30,1.95 461.79,67.61 462.19,30.52 462.64,78.05 463.12,31.87 463.57,70.13 464.01,32.56 464.46,67.37 464.90,34.51 465.35,3.38 465.84,67.25 466.24,30.79 466.69,77.05 467.17,32.11 467.62,69.72 468.06,32.79 468.51,67.01 468.95,34.70 469.40,4.90 469.89,66.89 470.29,31.06 470.74,75.54 471.22,32.37 471.67,69.10 472.11,33.08 472.56,66.21 473.00,34.99 473.45,6.40 473.94,65.72 474.34,31.56 474.79,73.71 475.27,32.85 475.72,67.49 476.16,33.54 476.61,64.77 477.05,34.31 477.50,6.80 477.99,64.27 478.39,32.09 478.84,72.21 479.32,33.33 479.77,65.89 480.21,33.99 480.66,63.32 481.10,35.74 481.55,8.53 482.04,62.72 482.44,32.63 482.89,70.46 483.37,33.82 483.82,63.96 484.26,34.45 484.71,61.50 485.15,36.11 485.60,10.37 486.09,60.87 486.49,33.25 486.94,69.16 487.42,34.51 487.87,61.90 488.31,35.23 488.76,59.64 489.20,35.94 489.65,11.83 490.14,59.01 490.54,34.46 490.99,67.91 491.47,35.61 491.92,59.93 492.36,36.27 492.81,57.96 493.25,37.71 493.70,13.94 494.19,57.46 494.59,35.68 495.04,65.79 495.52,36.70 495.97,58.31 496.41,37.32 496.86,56.50 497.30,36.83 497.75,17.24 498.24,56.01 498.64,37.05 499.09,63.04 499.57,37.99 500.02,56.69 500.46,38.56 500.91,55.04 501.35,39.55 501.80,23.40 502.29,54.55 502.69,38.51 503.14,59.16 503.62,39.30 504.07,55.07 504.51,39.80 504.96,53.58 505.40,40.19 505.85,27.13 506.34,53.09 506.74,39.62 507.19,55.66 507.67,40.76 508.12,53.45 508.56,39.76 509.01,52.13 509.45,40.11 509.90,29.66 510.39,51.63 510.79,40.36 511.24,52.90 511.72,40.72 512.17,51.58 512.61,40.68 513.06,50.26 513.50,41.21 513.95,32.67 514.44,49.49 514.84,41.48 515.29,50.31 515.77,41.99 516.22,48.88 516.66,41.82 517.11,47.17 517.55,41.86 518.00,37.13 520.03,48.20 522.05,40.46 524.08,48.16 526.10,41.38 528.13,46.18 530.15,42.06 532.18,45.42 534.20,42.34 536.23,44.81 538.25,42.52 540.28,44.53 542.30,42.62 544.33,44.25 546.35,42.66 548.38,44.16 550.40,42.70 552.42,44.10 554.45,42.74 556.47,44.05 558.50,42.78 560.52,44.00 562.55,42.80 564.57,44.00 566.60,42.80 568.62,44.00 570.65,42.80 572.67,44.00 574.70,42.80 576.72,44.00 578.75,42.80 580.00,43.40 580.50,39.10 581.20,49.70 581.80,43.40 582.50,43.40 582.95,43.40 583.40,42.91 583.85,43.82 584.30,43.03 584.75,43.83 585.20,42.82 585.65,43.81 586.10,42.56 586.55,43.84 587.00,42.67 587.45,44.05 587.90,42.55 588.35,44.15 588.80,42.19 589.25,44.49 589.70,42.46 590.15,44.32 590.60,41.98 591.05,44.16 591.50,42.43 591.95,44.77 592.40,42.18 592.85,44.27 593.30,41.24 593.75,44.69 594.20,41.56 594.65,45.17 595.10,41.78 595.55,45.35 596.00,41.15 596.45,44.83 596.90,40.22 597.35,46.63 597.80,40.85 598.25,46.43 598.70,40.39 599.15,47.23 599.60,38.80 600.05,46.33 600.50,37.93 600.95,47.97 601.40,38.12 601.85,49.15 602.30,38.74 602.75,49.17 603.20,36.29 603.65,47.14 604.10,36.65 604.55,48.10 605.00,38.50 605.45,47.54 605.90,37.76 606.35,48.11 606.80,37.14 607.25,48.23 607.70,38.60 608.15,48.87 608.60,37.99 609.05,48.31 609.50,39.17 609.95,51.07 610.40,36.44 610.85,50.26 611.30,34.95 611.75,48.82 612.20,35.01 612.65,48.75 613.10,34.25 613.55,50.86 614.00,36.48 614.45,53.18 614.90,35.42 615.35,51.91 615.80,38.64 616.25,49.52 616.70,38.51 617.15,48.86 617.60,37.80 618.05,52.53 618.50,37.74 618.95,49.37 619.40,35.67 619.85,52.65 620.30,31.59 620.75,51.76 621.20,36.89 621.65,51.07 622.10,34.29 622.55,49.24 623.00,34.79 623.45,50.83 623.90,35.68 624.35,53.27 624.80,35.49 625.25,52.60 625.70,35.97 626.15,50.99 626.60,35.53 627.05,51.00 627.50,34.85 627.95,53.96 628.40,31.65 628.85,53.23 629.30,35.92 629.75,54.09 630.20,35.63 630.65,55.34 631.10,35.01 631.55,51.85 632.00,31.45 632.45,51.38 632.90,35.97 633.35,50.58 633.80,35.49 634.25,49.07 634.70,35.40 635.15,52.96 635.60,35.64 636.05,51.54 636.50,33.33 636.95,52.11 637.40,34.98 637.85,51.83 638.30,34.66 638.75,48.83 639.20,36.85 639.65,49.12 640.10,37.96 640.55,50.16 641.00,37.85 641.45,50.35 641.90,36.55 642.35,48.19 642.80,37.21 643.25,49.11 643.70,35.71 644.15,48.07 644.60,38.19 645.05,49.57 645.50,37.23 645.95,50.30 646.40,37.50 646.85,48.32 647.30,33.92 647.75,48.63 648.20,38.18 648.65,48.92 649.10,37.57 649.55,48.88 650.00,36.72 650.45,53.12 650.90,38.47 651.35,50.04 651.80,36.21 652.25,52.97 652.70,34.26 653.15,48.88 653.60,37.13 654.05,52.85 654.50,38.93 654.95,50.86 655.40,38.79 655.85,51.96 656.30,35.43 656.75,50.50 657.20,39.33 657.65,48.54 658.10,38.39 658.55,52.36 659.00,39.13 659.45,51.15 659.90,38.73 660.35,48.88 660.80,37.67 661.25,48.75 661.70,39.10 662.15,50.60 662.60,38.81 663.05,50.28 663.50,38.87 663.95,47.45 664.40,39.24 664.85,49.85 665.30,38.97 665.75,49.83 666.20,40.39 666.65,47.05 667.10,38.52 667.55,47.78 668.00,39.40 668.45,47.32 668.90,38.45 669.35,47.19 669.80,39.71 670.25,46.72 670.70,39.48 671.15,46.05 671.60,39.62 672.05,46.58 672.50,39.41 672.95,46.14 673.40,41.13 673.85,46.14 674.30,39.55 674.75,46.24 675.20,40.38 675.65,45.63 676.10,41.17 676.55,46.15 677.00,41.69 677.45,46.33 677.90,40.63 678.35,46.39 678.80,41.95 679.25,44.91 679.70,41.02 680.15,45.12 680.60,42.04 681.05,44.99 681.50,41.70 681.95,44.68 682.40,42.04 682.85,45.11 683.30,41.91 683.75,44.44 684.20,41.95 684.65,44.63 685.10,42.39 685.55,44.65 686.00,42.56 686.45,44.88 686.90,42.65 687.35,44.42 687.80,42.73 688.25,44.36 688.70,42.33 689.15,44.45 689.60,42.85 690.05,44.15 690.50,42.48 690.95,43.94 691.40,42.77 691.85,44.20 692.30,42.59 692.75,44.04 693.20,42.65 693.65,44.16 694.10,42.80 694.55,44.15 695.00,42.69 695.45,44.18 695.90,42.73 696.35,43.98 696.80,42.77 697.25,44.32 697.70,42.87 698.15,43.91 698.60,42.92 699.05,44.26 699.50,42.44 699.95,43.94 700.40,42.85 700.85,43.92 701.30,42.70 701.75,44.04 702.20,42.57 702.65,43.92 703.10,42.53 703.55,44.02 704.00,42.58 704.45,44.21 704.90,42.52 705.35,44.04 705.80,42.71 706.25,44.07 706.70,42.89 707.15,44.03 707.60,42.52 708.05,44.27 708.50,42.93 708.95,44.12 709.40,42.85 709.85,43.89 710.30,42.91 710.75,44.19 711.20,42.51 711.65,44.03 712.10,42.83 712.55,44.03 713.00,42.60 713.45,44.15 713.90,42.94 714.35,43.90 714.80,42.58 715.25,44.01 715.70,42.71 716.15,44.16 716.60,42.72 717.05,44.13 717.50,42.77 717.95,43.90 718.40,42.92 718.85,44.29 719.30,42.95 719.75,44.10 720.20,42.59 720.65,43.89 721.10,42.95 721.55,43.95 722.00,42.88 722.45,43.98 722.90,42.84 723.35,44.24 723.80,42.94 724.25,44.24 724.70,42.96 725.15,44.23 725.60,42.88 726.05,44.10 726.50,42.97 726.95,43.96 727.40,42.73 727.85,44.04 728.30,42.66 728.75,43.85 729.20,42.86 729.65,44.03 730.10,42.97 730.55,44.15 731.00,42.86 731.45,43.87 731.90,42.93 732.35,44.04 732.80,42.97 733.25,43.87 733.70,42.91 734.15,43.87 734.60,42.72 735.05,44.01 735.50,42.63 735.95,44.06 736.40,42.92 736.85,43.89 737.30,42.97 737.75,43.86 738.20,42.80 738.65,44.07 739.10,42.93 739.55,43.89 740.00,42.70 740.45,44.19 740.90,42.98 741.35,43.81 741.80,42.73 742.25,43.94 742.70,42.89 743.15,44.00 743.60,42.73" fill="none" stroke="#4C72B0" stroke-width="1.45" stroke-linejoin="round"/><polyline points="1421.00,43.30 1423.03,44.07 1425.05,42.99 1427.08,44.42 1429.10,42.67 1431.12,44.77 1433.15,42.08 1435.17,45.16 1437.20,40.88 1439.22,46.65 1441.25,38.48 1443.27,48.11 1445.30,36.59 1447.32,48.62 1449.35,36.38 1451.37,49.14 1453.40,36.18 1455.42,49.81 1457.45,35.29 1459.47,52.96 1461.50,33.96 1463.52,52.85 1465.55,31.85 1467.57,54.82 1469.60,27.20 1470.09,46.65 1470.49,39.51 1470.94,58.24 1471.42,38.63 1471.87,48.57 1472.31,38.34 1472.76,48.87 1473.20,38.80 1473.65,20.99 1474.14,50.11 1474.54,35.73 1474.99,64.37 1475.47,35.88 1475.92,52.62 1476.36,35.74 1476.81,52.52 1477.25,36.65 1477.70,15.07 1478.19,53.76 1478.59,32.66 1479.04,69.21 1479.52,33.12 1479.97,56.67 1480.41,33.32 1480.86,56.08 1481.30,34.99 1481.75,10.65 1482.24,56.99 1482.64,31.00 1483.09,72.43 1483.57,32.07 1484.02,59.79 1484.46,32.54 1484.91,58.76 1485.35,34.35 1485.80,6.77 1486.29,59.67 1486.69,30.08 1487.14,74.79 1487.62,31.25 1488.07,62.76 1488.51,31.76 1488.96,61.44 1489.40,33.71 1489.85,3.64 1490.34,62.35 1490.74,29.17 1491.19,77.05 1491.67,30.42 1492.12,65.74 1492.56,30.98 1493.01,64.12 1493.45,33.07 1493.90,1.41 1494.39,65.03 1494.79,28.25 1495.24,77.94 1495.72,29.69 1496.17,68.41 1496.61,30.40 1497.06,66.08 1497.50,32.68 1497.95,2.71 1498.44,66.32 1498.84,27.89 1499.29,78.19 1499.77,29.40 1500.22,69.19 1500.66,30.12 1501.11,66.78 1501.55,32.45 1502.00,1.71 1502.49,67.02 1502.89,27.57 1503.34,78.40 1503.82,29.10 1504.27,69.97 1504.71,29.85 1505.16,67.48 1505.60,32.23 1506.05,0.83 1506.54,67.63 1506.94,27.24 1507.39,78.31 1507.87,28.81 1508.32,70.30 1508.76,29.57 1509.21,67.63 1509.65,32.00 1510.10,1.77 1510.59,67.63 1510.99,27.00 1511.44,77.81 1511.92,28.66 1512.37,70.30 1512.81,29.49 1513.26,67.63 1513.70,31.98 1514.15,1.31 1514.64,67.63 1515.04,27.00 1515.49,77.11 1515.97,28.66 1516.42,70.17 1516.86,29.49 1517.31,67.28 1517.75,31.98 1518.20,4.53 1518.69,66.90 1519.09,27.00 1519.54,75.81 1520.02,28.66 1520.47,68.96 1520.91,29.49 1521.36,66.18 1521.80,31.98 1522.25,1.83 1522.74,65.81 1523.14,27.00 1523.59,75.30 1524.07,28.66 1524.52,67.74 1524.96,29.49 1525.41,65.09 1525.85,31.98 1526.30,3.80 1526.79,64.72 1527.19,27.00 1527.64,74.90 1528.12,28.66 1528.57,66.53 1529.01,29.49 1529.46,64.00 1529.90,31.98 1530.35,6.86 1530.84,63.62 1531.24,27.20 1531.69,74.49 1532.17,28.97 1532.62,65.31 1533.06,29.91 1533.51,62.90 1533.95,32.42 1534.40,5.30 1534.89,62.53 1535.29,27.85 1535.74,72.49 1536.22,29.56 1536.67,63.96 1537.11,30.46 1537.56,61.51 1538.00,32.88 1538.45,5.33 1538.94,60.88 1539.34,28.49 1539.79,70.87 1540.27,30.15 1540.72,61.89 1541.16,31.05 1541.61,59.66 1542.05,33.39 1542.50,7.90 1542.99,59.02 1543.39,29.28 1543.84,69.09 1544.32,30.88 1544.77,59.83 1545.21,31.74 1545.66,57.80 1546.10,33.95 1546.55,10.94 1547.04,56.99 1547.44,30.09 1547.89,67.41 1548.37,31.61 1548.82,57.23 1549.26,32.42 1549.71,55.30 1550.15,34.55 1550.60,14.01 1551.09,54.44 1551.49,31.35 1551.94,63.60 1552.42,32.99 1552.87,54.39 1553.31,33.96 1553.76,52.75 1554.20,35.97 1554.65,18.57 1555.14,51.88 1555.54,33.37 1555.99,60.51 1556.47,34.81 1556.92,51.61 1557.36,35.68 1557.81,50.30 1558.25,37.39 1558.70,23.15 1559.19,49.51 1559.59,35.40 1560.04,57.25 1560.52,36.99 1560.97,49.03 1561.41,38.30 1561.86,47.98 1562.30,40.02 1562.75,29.23 1563.24,47.19 1563.64,40.15 1564.09,52.22 1564.57,41.17 1565.02,45.91 1565.46,41.53 1565.91,45.23 1566.35,41.83 1566.80,35.25 1568.82,50.35 1570.85,38.17 1572.87,48.27 1574.90,39.97 1576.92,47.28 1578.95,40.85 1580.97,46.45 1583.00,41.39 1585.02,45.85 1587.05,41.80 1589.07,45.24 1591.10,42.15 1593.12,44.94 1595.15,42.36 1597.17,44.74 1599.20,42.56 1600.00,42.44 1600.45,45.04 1600.90,42.24 1601.35,44.58 1601.80,42.55 1602.25,45.18 1602.70,42.63 1603.15,45.21 1603.60,41.98 1604.05,44.92 1604.50,42.38 1604.95,44.83 1605.40,42.36 1605.85,45.03 1606.30,42.08 1606.75,45.20 1607.20,41.39 1607.65,45.57 1608.10,41.82 1608.55,45.94 1609.00,42.17 1609.45,45.02 1609.90,41.69 1610.35,45.04 1610.80,42.14 1611.25,45.63 1611.70,41.65 1612.15,46.52 1612.60,41.30 1613.05,45.99 1613.50,41.38 1613.95,45.77 1614.40,41.78 1614.85,45.85 1615.30,40.80 1615.75,46.02 1616.20,41.17 1616.65,46.04 1617.10,40.01 1617.55,46.35 1618.00,40.95 1618.45,48.31 1618.90,40.29 1619.35,48.51 1619.80,39.75 1620.25,48.45 1620.70,40.72 1621.15,48.07 1621.60,39.85 1622.05,49.52 1622.50,40.09 1622.95,48.76 1623.40,40.50 1623.85,48.30 1624.30,39.98 1624.75,47.91 1625.20,37.84 1625.65,48.76 1626.10,35.55 1626.55,49.84 1627.00,36.13 1627.45,50.37 1627.90,36.19 1628.35,48.83 1628.80,37.66 1629.25,49.32 1629.70,38.16 1630.15,49.17 1630.60,35.65 1631.05,49.72 1631.50,36.97 1631.95,50.27 1632.40,35.80 1632.85,52.39 1633.30,38.64 1633.75,53.93 1634.20,35.06 1634.65,54.15 1635.10,36.87 1635.55,49.81 1636.00,38.17 1636.45,53.45 1636.90,36.88 1637.35,49.38 1637.80,35.35 1638.25,50.96 1638.70,37.13 1639.15,49.46 1639.60,37.93 1640.05,48.72 1640.50,39.03 1640.95,50.99 1641.40,38.02 1641.85,49.15 1642.30,38.66 1642.75,50.06 1643.20,39.41 1643.65,48.72 1644.10,39.53 1644.55,48.19 1645.00,36.61 1645.45,50.12 1645.90,38.92 1646.35,49.68 1646.80,37.46 1647.25,49.14 1647.70,38.72 1648.15,50.71 1648.60,39.27 1649.05,50.09 1649.50,37.50 1649.95,52.27 1650.40,39.21 1650.85,52.60 1651.30,39.16 1651.75,51.72 1652.20,36.10 1652.65,49.22 1653.10,37.56 1653.55,52.53 1654.00,38.51 1654.45,51.69 1654.90,35.74 1655.35,51.30 1655.80,36.26 1656.25,50.16 1656.70,38.48 1657.15,50.64 1657.60,38.64 1658.05,50.49 1658.50,35.58 1658.95,51.52 1659.40,38.41 1659.85,50.05 1660.30,35.76 1660.75,50.70 1661.20,35.30 1661.65,50.96 1662.10,37.33 1662.55,53.06 1663.00,36.04 1663.45,51.12 1663.90,37.30 1664.35,52.73 1664.80,37.16 1665.25,52.91 1665.70,38.24 1666.15,50.20 1666.60,37.02 1667.05,52.97 1667.50,38.31 1667.95,52.04 1668.40,36.98 1668.85,51.49 1669.30,37.53 1669.75,52.94 1670.20,38.90 1670.65,49.88 1671.10,39.45 1671.55,48.83 1672.00,39.32 1672.45,52.44 1672.90,36.99 1673.35,48.87 1673.80,37.85 1674.25,50.10 1674.70,37.76 1675.15,50.96 1675.60,38.65 1676.05,52.66 1676.50,38.00 1676.95,50.80 1677.40,37.18 1677.85,49.05 1678.30,38.90 1678.75,49.82 1679.20,36.28 1679.65,51.80 1680.10,36.30 1680.55,48.87 1681.00,35.15 1681.45,51.72 1681.90,35.19 1682.35,50.30 1682.80,34.84 1683.25,48.74 1683.70,38.57 1684.15,48.69 1684.60,38.18 1685.05,49.16 1685.50,38.47 1685.95,50.38 1686.40,38.86 1686.85,50.45 1687.30,38.73 1687.75,50.84 1688.20,39.07 1688.65,49.25 1689.10,35.90 1689.55,50.11 1690.00,36.70 1690.45,50.63 1690.90,37.73 1691.35,48.80 1691.80,38.01 1692.25,48.47 1692.70,37.21 1693.15,52.13 1693.60,37.14 1694.05,48.44 1694.50,39.09 1694.95,49.36 1695.40,39.45 1695.85,51.14 1696.30,37.00 1696.75,50.12 1697.20,36.45 1697.65,53.15 1698.10,38.97 1698.55,53.47 1699.00,35.87 1699.45,50.78 1699.90,37.16 1700.35,53.58 1700.80,36.80 1701.25,51.15 1701.70,36.34 1702.15,54.48 1702.60,35.24 1703.05,56.39 1703.50,37.45 1703.95,55.90 1704.40,34.50 1704.85,57.17 1705.30,37.68 1705.75,51.50 1706.20,35.41 1706.65,51.93 1707.10,35.83 1707.55,56.67 1708.00,36.68 1708.45,51.50 1708.90,36.28 1709.35,53.45 1709.80,37.57 1710.25,51.41 1710.70,37.45 1711.15,52.61 1711.60,33.96 1712.05,50.68 1712.50,36.50 1712.95,51.08 1713.40,37.08 1713.85,49.49 1714.30,36.86 1714.75,49.92 1715.20,38.32 1715.65,50.88 1716.10,37.43 1716.55,48.64 1717.00,39.65 1717.45,50.00 1717.90,39.94 1718.35,47.79 1718.80,39.94 1719.25,47.61 1719.70,37.59 1720.15,47.87 1720.60,39.59 1721.05,49.66 1721.50,38.67 1721.95,47.48 1722.40,39.25 1722.85,49.54 1723.30,39.42 1723.75,48.72 1724.20,39.99 1724.65,48.63 1725.10,38.11 1725.55,48.83 1726.00,38.49 1726.45,47.32 1726.90,40.03 1727.35,47.57 1727.80,38.18 1728.25,46.74 1728.70,39.68 1729.15,47.38 1729.60,38.22 1730.05,48.45 1730.50,39.95 1730.95,46.65 1731.40,38.02 1731.85,47.67 1732.30,38.32 1732.75,48.79 1733.20,37.70 1733.65,48.27 1734.10,38.60 1734.55,47.04 1735.00,39.30 1735.45,46.65 1735.90,39.21 1736.35,48.00 1736.80,39.59 1737.25,47.15 1737.70,40.63 1738.15,47.10 1738.60,41.27 1739.05,48.28 1739.50,40.76 1739.95,47.02 1740.40,40.98 1740.85,47.84 1741.30,41.35 1741.75,47.98 1742.20,40.44 1742.65,46.69 1743.10,41.74 1743.55,47.39 1744.00,40.47 1744.45,46.04 1744.90,41.09 1745.35,47.16 1745.80,40.79 1746.25,45.76 1746.70,41.99 1747.15,47.13 1747.60,42.02 1748.05,45.55 1748.50,41.60 1748.95,45.73 1749.40,41.42 1749.85,45.30 1750.30,41.24 1750.75,45.19 1751.20,41.55 1751.65,44.96 1752.10,41.99 1752.55,44.86 1753.00,42.19 1753.45,45.00 1753.90,41.80 1754.35,45.11 1754.80,42.42 1755.25,45.74 1755.70,41.69 1756.15,45.58 1756.60,42.39 1757.05,44.96 1757.50,42.44 1757.95,44.74 1758.40,42.57 1758.85,44.99 1759.30,42.57 1759.75,44.71 1760.20,42.01 1760.65,44.91 1761.10,42.61 1761.55,45.05 1762.00,42.61 1762.45,44.88 1762.90,42.64 1763.35,44.84 1763.80,42.44 1764.25,44.82 1764.70,42.63 1765.15,45.02 1765.60,42.27 1766.05,44.54 1766.50,42.79 1766.95,44.49 1767.40,42.23 1767.85,45.07 1768.30,42.78 1768.75,45.06 1769.20,42.81 1769.65,44.63 1770.10,42.68 1770.55,44.93 1771.00,42.89 1771.45,44.46 1771.90,42.65 1772.35,44.34 1772.80,42.86 1773.25,44.49 1773.70,42.50 1774.15,44.66 1774.60,42.56 1775.05,44.63 1775.50,42.67 1775.95,44.66 1776.40,42.71 1776.85,44.55 1777.30,42.92 1777.75,44.24 1778.20,42.71 1778.65,44.21 1779.10,42.63 1779.55,44.37 1780.00,42.96 1780.45,44.56 1780.90,43.03 1781.35,44.31 1781.80,43.04 1782.25,44.56 1782.70,42.87 1783.15,44.46 1783.60,43.00 1784.05,44.45 1784.50,42.81 1784.95,44.36 1785.40,42.67 1785.85,44.25 1786.30,42.96 1786.75,44.37 1787.20,42.75 1787.65,44.20 1788.10,42.85 1788.55,44.16 1789.00,42.91 1789.45,44.40 1789.90,43.08 1790.35,44.37 1790.80,43.09 1791.25,44.50 1791.70,42.96 1792.15,44.21 1792.60,42.84 1793.05,44.26 1793.50,42.84 1793.95,44.11 1794.40,42.93 1794.85,44.26 1795.30,42.74 1795.75,44.10 1796.20,42.99 1796.65,44.29 1797.10,42.95 1797.55,44.09 1798.00,42.94 1798.45,44.12 1798.90,43.09 1799.35,44.40 1799.80,43.09 1800.25,44.19 1800.70,42.87 1801.15,44.30 1801.60,42.97 1802.05,44.35 1802.50,43.01 1802.95,44.25 1803.40,42.85 1803.85,44.27 1804.30,42.95 1804.75,44.16 1805.20,42.99 1805.65,44.15 1806.10,42.91 1806.55,44.14 1807.00,43.03 1807.45,44.29 1807.90,43.02 1808.35,44.12 1808.80,42.88" fill="none" stroke="#DD8452" stroke-width="1.45" stroke-linejoin="round"/><polyline points="89.5,594 91,594.3 113.4,596.6 143.3,600.4 171,600.4 201.7,604.2 223,601.2 244.6,599.6 261.5,601.2 276.9,600 290.7,602 304.5,600.4 324.4,598 330,597.6 342.4,595.6 350.6,589.4 358.8,576.4 367.1,557.1 376.7,542 386.3,536.5 401.4,533.1 416.5,529.7 426.1,524.2 439.9,509.1 452.2,498.1 461.8,492.6 471.5,489.8 485.2,483.6 501.7,474.7 508.5,473.3 518.2,477.5 526.4,485 541.5,506.3 555.2,521.4 569,535.2 580,545.9 591.5,546.9 608.7,540.2 624,533.5 633.6,536.4 648.9,547.9 660.4,550.7 675.7,553.6 694.9,557.4 714,570.8 737,578.5 752.3,578.5 771.4,585.2 790.6,592.8 809.7,600.5 828.9,600.5 857.6,601.5 876.7,605.3 905.4,611 954,611.6" fill="none" stroke="#4C72B0" stroke-width="5.6" stroke-linejoin="round" stroke-linecap="butt" clip-path="url(#ca3)"/><polyline points="89.5,595.2 91,595 113.4,592 143.3,598.9 195.5,597.3 212.4,593.2 230.8,596.9 276.9,596.6 303,597 330,601.1 343.7,599.7 353.3,592.8 361.6,580.5 369.8,562.6 378.1,550.3 387.7,544.8 401.4,539.3 415.2,535.2 426.1,533.5 434.4,533.8 444,535.8 452.2,535.2 460.5,531 468.7,529 477,528.3 483.8,524.2 493.4,516.6 500.3,515.2 508.5,519.4 522.3,529.7 536,539.3 544.3,542 551.1,540.6 560.7,535.2 567.6,533.1 577.2,537.9 585.5,544.8 595.3,546.9 608.7,545 624,531.6 633.6,531.6 643.2,534.1 656.6,530.6 671.9,532.5 687.2,531.6 702.5,537.3 717.8,547.9 733.1,562.2 752.3,570.8 781,581.4 800.1,592.8 819.3,600.5 838.4,603.4 867.1,608.2 895.9,612 924.6,613.9 954,615.8" fill="none" stroke="#DD8452" stroke-width="5.6" stroke-linejoin="round" stroke-linecap="butt" clip-path="url(#ca3)"/><polyline points="1118.4,603 1119.5,603.1 1139.2,606.5 1167,604.6 1191.8,602.4 1212.3,598.7 1234.2,597.7 1259,596.2 1273.6,599.4 1292.6,602.4 1314.5,596.5 1336.4,601.6 1358.4,604.6 1378.8,602.4 1390,604.8 1400.3,604.8 1414.6,600.3 1423.6,590.6 1431.4,577.6 1440.4,562.1 1450.8,550.5 1463.7,538.9 1474,537.6 1488.2,536.9 1497.3,538.9 1514.1,547.3 1521.9,547.9 1532.2,545.3 1545.1,541.4 1558,543.4 1569.7,549.2 1581.3,557 1590.4,560.2 1603.3,563.4 1616.2,572.5 1629.1,580.2 1653.2,578.3 1669.3,578.3 1692.6,571.1 1708.7,563.6 1730.1,573.8 1748,584.5 1765.9,590.8 1787.4,589.9 1808.8,597.6 1826.7,601.9 1853.5,601.9 1880.4,604.2 1907.2,606 1946.5,601.2 1983,604.8" fill="none" stroke="#4C72B0" stroke-width="5.6" stroke-linejoin="round" stroke-linecap="butt" clip-path="url(#cb3)"/><polyline points="1118.4,591.8 1119.5,592.1 1139.2,597.3 1167,604.6 1190.4,597.7 1212.3,600.6 1234.2,602.4 1256.1,603.1 1273.6,598.7 1298.5,595.8 1321.8,598.7 1343.7,599.4 1358.4,600.6 1378.8,599.4 1390,600.9 1399,604.1 1406.8,603.5 1414.6,597 1422.3,585.4 1431.4,568.6 1439.1,549.2 1446.9,528.5 1454.6,507.8 1463.7,490.4 1472.7,484.6 1480.5,484.6 1489.5,480 1497.3,477.5 1512.8,479.4 1521.9,483.3 1532.2,492.3 1543.8,501.4 1552.9,510.4 1561.9,525.9 1573.6,541.4 1587.8,557 1599.4,566 1612.3,574.4 1625.3,578.3 1630,577.9 1653.2,570.2 1676.5,564.9 1696.2,558.3 1708.7,558.3 1730.1,567.6 1748,580.1 1765.9,592.6 1783.8,599.4 1799.9,606 1826.7,610.1 1848.2,608.7 1876.8,611.4 1903.6,609.6 1926.9,603.3 1946.5,606.5 1983,605.1" fill="none" stroke="#DD8452" stroke-width="5.6" stroke-linejoin="round" stroke-linecap="butt" clip-path="url(#cb3)"/><polyline points="89.5,877.3 98.1,879.2 111.2,874.7 129.5,868.1 146.6,873.3 158.3,878.6 170.1,876 189.8,877.9 209.4,876 218.6,877.9 239.5,872 252.6,874.7 268.4,877.3 285.4,879.2 294.6,877.9 314.2,880.5 333.9,876.6 346.2,871.2 360.7,869.6 368.8,856.7 376.8,835.7 384.9,821.2 394.6,813.9 401.1,813.9 410.8,824.4 418,830 426.9,823.6 436.6,816.3 444.7,816.3 452.8,809.9 464.1,796.9 475.4,792.1 485.1,797.7 493.2,792.1 501.2,775.9 509.3,771.9 520,773.5 526.5,774.3 536.2,782.4 552.3,803.4 563.6,819.5 574.9,832.5 586.2,837.3 592.7,843.8 602.4,857.5 608.9,859.1 616.9,848.6 625,837.3 633.1,840.5 642.8,859.9 649.2,869.6 657.3,868.8 673.5,859.1 689.6,868 705.8,879.3 716.5,882.2 722.9,880.9 732,875.1 741,872.5 748.8,873.8 756.5,873.1 764.3,865.4 773.3,857 781.1,852.5 788.9,854.4 797.9,864.1 805.7,871.2 819.9,875.7 830.2,883.5 840.6,886.1 863.8,884.8 878,886.1 903.9,888.7 929.7,887.4 954,883.5" fill="none" stroke="#000080" stroke-width="5.6" stroke-linejoin="round" stroke-linecap="butt" clip-path="url(#ca4)"/><polyline points="89.5,886.4 106,889.1 113.8,887.1 124.3,879.9 140,881.2 147.9,883.8 158.3,881.9 176.7,882.5 196.3,879.2 216,872.7 229.1,868.8 239.5,860.2 254,858.3 268.4,862.9 276.2,870.7 289.3,874.7 301.1,872.7 320.8,876 337.8,879.9 342.9,880.1 360.7,879.3 370.4,873.7 378.5,856.7 386.5,840.5 394.6,835.7 402.7,836.5 412.4,830.9 420.5,813.1 430.2,785.6 443.1,748.5 449.5,737.2 459.2,735.5 468.9,745.2 477,749.3 485.1,740.4 493.2,722.6 501.2,713.7 509.3,716.2 519,730.7 526.5,738.8 534.5,738 542.6,746.8 549.1,767.9 553.9,790.5 558.8,813.1 566.8,835.7 576.5,848.6 589.5,859.1 600.8,865.6 610.5,864.8 618.5,858.3 626.6,842.2 634.7,830.9 642.8,830.9 657.3,843.8 673.5,847 689.6,853.5 710,855 722.9,857.6 735.9,859.6 747.5,858.3 755.2,864.1 765.6,873.1 777.2,877 785,878.3 800.5,885.4 813.4,888 832.8,887.4 852.2,888 871.6,888.7 891,888.7 907.8,887.4 919.4,883.5 929.7,882.2 937.5,886.1 954,888.7" fill="none" stroke="#4169E1" stroke-width="5.6" stroke-linejoin="round" stroke-linecap="butt" clip-path="url(#ca4)"/><polyline points="89.5,852.4 98.1,854.4 108.6,864.2 124.3,868.1 140,882.5 150.5,879.9 162.3,868.1 176.7,874 189.8,873.3 205.5,866.8 222.5,870.7 242.2,858.9 255.3,859.6 268.4,864.2 286.7,862.9 301.1,879.9 311.6,887.1 327.3,879.9 346.2,872.9 355.8,861.6 363.9,837.3 370.4,809.9 376.8,796.9 383.3,808.2 393,811.5 401.1,796.9 409.2,791.3 417.2,801.8 426.9,808.2 435,798.5 443.1,782.4 451.2,775.1 460.9,785.6 468.9,798.5 478.6,806.6 489.9,809 501.2,808.2 510.9,795.3 519,784.8 528.1,790.5 534.5,805 541,817.9 552.3,826 565.2,837.3 574.9,844.6 584.6,844.6 592.7,826 600.8,803.4 608.9,782.4 616.9,761.4 625,753.3 634.7,759.8 646,774.3 657.3,782.4 665.4,780.8 681.6,786.4 689.6,779.2 699.3,771.9 707.4,782.4 716.5,802 725.5,813.7 732,813.7 741,804.6 748.8,789.1 756.5,778.1 764.3,775.5 773.3,783.3 779.8,796.9 788.9,816.3 800.5,831.8 808.2,844.7 814.7,856.3 822.5,857 831.5,847.3 840.6,841.5 847,840.8 857.4,838.2 863.8,839.5 872.9,844.7 887.1,847.9 894.9,856.3 905.2,868 914.2,872.5 922,873.1 929.7,875.7 941.4,884.1 954,890" fill="none" stroke="#00BFFF" stroke-width="5.6" stroke-linejoin="round" stroke-linecap="butt" clip-path="url(#ca4)"/><polyline points="89.5,871.4 111.2,872.7 130.8,874 150.5,870.7 170.1,870.7 188.5,866.1 209.4,868.8 222.5,866.8 235.6,866.8 246.1,862.2 261.8,864.2 272.3,860.2 278.8,860.9 289.3,868.8 307.7,874.7 327.3,871.4 344.5,864.8 354.2,850.2 362.3,813.1 370.4,777.5 378.5,759.8 394.6,746.8 402.7,735.5 410.8,727.5 420.5,724.2 428.5,719.4 435,719.1 444.7,733.9 456,744.4 472.2,756.5 483.5,755.7 491.6,753.3 501.2,746.8 509.3,742 520.6,750.1 528.1,759.8 536.2,766.2 552.3,772.7 566.8,780.8 574.9,773.5 584.6,773.5 591.1,785.6 600.8,800.2 613.7,806.6 625,817.9 634.7,826 642.8,838.9 650.9,850.2 665.4,859.9 675.1,865.6 689.6,853.5 705.8,838.9 715.2,837 724.2,838.2 732,847.3 741,853.1 748.8,849.9 756.5,843.4 764.3,840.8 773.3,843.4 782.4,849.2 796.6,853.8 813.4,863.4 822.5,865.4 831.5,870.6 839.3,878.3 847,879.6 863.8,874.4 872.9,879 880.6,886.1 897.4,887.4 916.8,890.6 929.7,891.2 954,891.2" fill="none" stroke="#6A5ACD" stroke-width="5.6" stroke-linejoin="round" stroke-linecap="butt" clip-path="url(#ca4)"/><polyline points="89.5,864.2 104.6,866.1 124.3,868.8 140,876 154.4,886.4 166.2,890.4 183.2,891 200.3,892.3 209.4,889.1 222.5,879.9 230.4,877.9 244.8,882.5 254,881.9 268.4,873.3 285.4,874 301.1,860.9 311.6,860.9 320.8,864.8 333.9,858.3 342.9,855.9 351,840.5 359.1,800.2 367.2,754.9 376.8,739.6 386.5,747.7 394.6,767.9 404.3,796.9 410.8,809.9 420.5,808.2 428.5,795.3 438.2,767.9 446.3,751.7 452.8,748.5 462.5,753.3 478.6,769.5 485.1,771.1 501.2,754.9 510.9,760.6 520,777.5 526.5,796.9 534.5,811.5 542.6,811.5 550.7,798.5 558.8,788.9 566.8,794.5 574.9,809.9 583,827.6 591.1,834.1 600.8,821.2 610.5,796.9 620.2,780.8 626.6,775.1 633.1,775.9 644.4,784 665.4,796.9 689.6,796.9 699.3,800.2 710,809.8 717.8,825.3 724.2,843.4 730.7,857.6 739.7,862.2 748.8,868 755.2,878.3 764.3,888.7 772,890 781.1,887.4 794,891.2 813.4,891.2 839.3,890.6 865.1,891.2 891,890 916.8,891.2 936.2,885.4 954,887.4" fill="none" stroke="#4682B4" stroke-width="5.6" stroke-linejoin="round" stroke-linecap="butt" clip-path="url(#ca4)"/><polyline points="1118.4,883.5 1131.9,879.6 1149.4,882.5 1168.4,886.9 1183,883.3 1197.7,877.4 1212.3,867.9 1234.2,868.7 1256.1,864.3 1270.7,871.6 1285.3,880.4 1299.9,891.3 1314.5,889.1 1329.1,886.2 1351,884.7 1365.7,874.5 1375.9,862.8 1383.2,861.4 1389,866.5 1397.7,866.5 1410,855.8 1425.3,846.6 1440.6,831.2 1452.9,815.9 1462.1,795.9 1471.3,780.6 1480.5,769.1 1489.8,769.1 1499,789.8 1505.1,805.2 1512.8,815.9 1522,820.5 1531.2,826.6 1543.5,835.1 1555.7,832.8 1569.6,826.6 1589.5,837.4 1601.8,846.6 1612.5,861.9 1621.7,877.3 1630.9,883.4 1641,883.2 1650.6,879 1663,872.2 1672.6,871.5 1680.8,867.4 1689.1,850.9 1695.9,828.9 1701.4,811 1711,800.1 1719.3,805.5 1728.9,820.7 1738.5,838.5 1746.8,853.6 1753.6,863.2 1763.2,868 1781.1,870.1 1797.6,872.9 1808.6,878.4 1815,882.7 1824.7,878.8 1836.3,875.4 1843.1,875.9 1858.6,882.2 1868.3,880.8 1878,877.4 1892.5,877.9 1907.1,872.1 1916.7,873 1926.4,881.7 1933.2,885.1 1945.8,883.2 1960.3,885.1 1970,883.2 1983,881.7" fill="none" stroke="#000080" stroke-width="5.6" stroke-linejoin="round" stroke-linecap="butt" clip-path="url(#cb4)"/><polyline points="1118.4,861.5 1131.9,876.7 1143.6,878.2 1153.8,872.3 1168.4,878.2 1183,876 1205,871.6 1226.9,872.3 1248.8,867.2 1260.5,862.8 1267.8,864.3 1275.1,871.6 1292.6,877.4 1314.5,884 1329.1,886.2 1351,890.6 1358.4,888.4 1373,880.4 1383.2,867.2 1390,857.3 1405.3,842 1416.1,841.2 1425.3,849.7 1437.6,857.3 1448.3,851.2 1456,826.6 1463.7,808.2 1472.9,803.6 1483.6,812.8 1494.4,823.6 1505.1,832.8 1514.3,829.7 1523.5,815.9 1532.7,791.3 1540.4,763.7 1546.5,740.7 1554.2,730 1563.4,739.2 1571.1,756 1580.3,774.5 1595.6,794.4 1611,822 1618.7,840.4 1626.3,863.5 1635.6,874.2 1645.1,867.4 1652,850.9 1658.8,833 1669.8,827.5 1678.1,830.3 1686.3,844 1694.6,860.5 1704.2,872.9 1713.8,879.7 1726.2,879 1739.9,873.5 1760.5,878.4 1774.2,874.2 1794.8,882.5 1808.6,886.6 1815,886.6 1834.4,887.6 1848.9,886.6 1863.4,884.2 1878,886.6 1892.5,889 1907.1,889.5 1916.7,884.7 1926.4,875 1936.1,868.2 1945.8,869.6 1960.3,875.4 1970,875.9 1983,875" fill="none" stroke="#4169E1" stroke-width="5.6" stroke-linejoin="round" stroke-linecap="butt" clip-path="url(#cb4)"/><polyline points="1118.4,890 1131.9,880.4 1143.6,881.8 1159.7,886.9 1180.1,880.4 1197.7,871.6 1207.9,858.4 1216.6,854.8 1226.9,864.3 1235.6,873 1250.2,875.2 1264.9,880.4 1275.1,884 1285.3,878.9 1314.5,873 1336.4,877.4 1351,876 1373,881.8 1387.6,879.6 1399.2,888 1410,891.1 1420.7,886.5 1431.4,872.7 1440.6,854.3 1448.3,840.4 1456,834.3 1465.2,840.4 1472.9,842 1485.2,829.7 1497.4,815.1 1511.2,808.2 1518.9,799 1528.1,769.9 1537.3,761.4 1546.5,771.4 1557.3,792.9 1568,814.4 1574.2,819 1586.4,825.1 1600.3,838.9 1611,845.1 1621.7,849.7 1630.9,846.6 1641,839.9 1647.9,838.5 1657.5,839.9 1669.8,844 1679.5,855 1686.3,859.1 1694.6,853.6 1702.8,843.3 1711,844 1719.3,855 1728.9,870.1 1739.9,882.5 1750.9,886.6 1763.2,882.5 1775.6,877.7 1788,885.2 1800.3,888 1808.6,885.2 1815,880.8 1824.7,872.1 1834.4,865.3 1842.1,858.5 1848.9,853.6 1857.6,855.1 1865.4,861.4 1875.1,873 1884.8,880.8 1892.5,881.7 1902.2,877.9 1916.7,876.4 1926.4,867.2 1933.2,861.4 1941,861.9 1950.7,866.7 1965.2,871.1 1970,874 1983,873" fill="none" stroke="#00BFFF" stroke-width="5.6" stroke-linejoin="round" stroke-linecap="butt" clip-path="url(#cb4)"/><polyline points="1118.4,877 1131.9,883.3 1153.8,889.8 1171.4,887.7 1186,884.7 1212.3,890.6 1229.8,881.1 1256.1,867.2 1270.7,876.7 1285.3,883.3 1311.6,876.7 1329.1,883.3 1351,882.5 1373,886.2 1390,891.1 1402.3,875.7 1413,858.9 1422.2,837.4 1431.4,831.2 1439.1,842 1446.8,854.3 1460.6,857.3 1474.4,869.6 1488.2,877.3 1500.5,872.7 1512.8,860.4 1523.5,851.2 1537.3,846.6 1548.1,840.4 1561.9,826.6 1572.6,809.8 1583.4,780.6 1595.6,754.5 1603.3,752.2 1611,766.8 1620.2,786.7 1630.9,800.5 1638.2,806.9 1646.5,823.4 1654.7,839.9 1665.7,856.4 1678.1,870.1 1689.1,881.1 1701.4,886.6 1711,885.2 1723.4,878.4 1731.6,861.9 1739.9,842.6 1750.9,826.2 1760.5,808.3 1768.7,784.9 1777,765.7 1785.2,753.4 1793.5,753.4 1803.1,769.8 1811.3,791.8 1815,799.4 1819.8,812.9 1826.6,828.4 1834.4,835.2 1843.1,840.1 1849.9,849.8 1858.6,861.4 1866.4,862.4 1875.1,861.9 1883.8,866.2 1892.5,876.9 1901.2,885.6 1910,886.6 1921.6,880.8 1936.1,874 1945.8,871.6 1955.5,874 1966.2,881.7 1983,887.6" fill="none" stroke="#6A5ACD" stroke-width="5.6" stroke-linejoin="round" stroke-linecap="butt" clip-path="url(#cb4)"/><polyline points="1118.4,872 1127.5,873 1143.6,864.3 1156.7,867.2 1175.7,878.2 1190.4,875.2 1212.3,882.5 1234.2,878.9 1256.1,878.2 1264.9,873 1275.1,864.3 1282.4,863.5 1299.9,873 1314.5,861.4 1332.1,850.4 1340.8,852.6 1358.4,862.8 1373,868.7 1387.6,880.4 1399.2,886.5 1406.9,881.9 1417.6,868.1 1428.4,848.1 1440.6,833.5 1449.9,840.4 1456,845.8 1471.3,838.9 1482.1,826.6 1489.8,808.2 1497.4,789.8 1506.6,790.6 1515.8,805.2 1528.1,820.5 1537.3,832.8 1546.5,852 1560.4,860.4 1574.2,872.7 1589.5,880.4 1598.7,877.3 1607.9,863.5 1618.7,837.4 1629.4,829.7 1638.2,833 1649.2,846.8 1661.6,861.9 1678.1,871.5 1691.8,873.5 1712.4,872.9 1726.2,874.2 1746.8,882.5 1764.6,891.4 1794.8,890.7 1815,890.5 1834.4,891.4 1853.8,890.5 1873.1,888 1892.5,890.5 1907.1,889 1921.6,891.9 1936.1,892.9 1948.7,890.5 1960.3,879.8 1972,869.1 1983,867.7" fill="none" stroke="#4682B4" stroke-width="5.6" stroke-linejoin="round" stroke-linecap="butt" clip-path="url(#cb4)"/><polyline points="89.5,1156 100.7,1157.9 113.8,1163.8 130.8,1165.1 150.5,1163.2 163.6,1157.3 174.1,1155.3 188.5,1157.9 196.3,1156 205.5,1149.4 216,1148.1 229.1,1152.7 242.2,1153.3 261.8,1151.4 281.5,1146.8 294.6,1136.3 305,1135 315.5,1138.9 331.2,1149.4 342.5,1152.7 355,1147.7 370.1,1139 386.4,1129 396.4,1118.9 410.1,1113.9 415.2,1102.7 422.7,1085.1 435.2,1074.5 449,1083.9 461.5,1097.6 470.3,1112.7 476.5,1123.9 485.3,1125.2 491.6,1105.2 499.1,1082.6 505.3,1080.7 515.3,1088.9 522.9,1110.2 526.6,1112.4 534.9,1117.4 553.1,1122.3 569.7,1128.9 582.9,1140.5 592.8,1145.5 602.8,1142.2 616,1125.6 626,1117.4 639.2,1117.4 649.1,1116.5 665.7,1130.6 682.3,1133.9 698.8,1140.5 710,1139.3 720.7,1141.9 736.7,1154.6 746,1156.6 760.6,1151.3 774,1145.9 782,1147.3 803.3,1159.3 816.6,1156.6 829.9,1154.6 843.3,1160.6 856.6,1165.3 869.9,1160.6 883.2,1157.3 903.2,1161.9 923.2,1163.9 954,1164.6" fill="none" stroke="#FF6347" stroke-width="5.6" stroke-linejoin="round" stroke-linecap="butt" clip-path="url(#ca5)"/><polyline points="89.5,1153.3 106,1157.3 121.7,1149.4 134.8,1148.8 150.5,1154.7 158.3,1155.3 168.8,1149.4 183.2,1132.4 202.9,1125.8 216,1129.1 229.1,1137.6 242.2,1150.7 252.6,1155.3 268.4,1148.1 288,1144.2 305,1140.2 327.3,1144.2 330,1146.5 345,1153.4 361.3,1145.2 373.8,1135.2 390.1,1121.4 402.6,1106.4 411.4,1090.1 420.2,1080.7 427.7,1078.9 436.4,1083.9 444,1088.3 455.2,1090.1 462.7,1096.4 469,1105.2 476.5,1108.9 484,1100.2 492.8,1090.1 502.8,1083.9 515.3,1085.1 520,1085.9 528.3,1095.8 534.9,1105.8 543.2,1110.7 551.5,1097.5 559.7,1071 566.4,1057.7 574.6,1059.4 584.6,1069.3 591.2,1071.8 599.5,1066 607.7,1054.4 616,1040.4 624.3,1042.8 634.2,1056.1 647.5,1064.4 657.4,1071 665.7,1074.3 675.6,1067.7 688.9,1041.2 698.8,1030.4 707.1,1028.8 710,1031.3 718,1038 728.7,1043.3 739.3,1050 748.6,1068.6 758,1092.6 766,1108.6 775.3,1119.3 784.6,1127.3 798,1138.6 811.3,1139.9 824.6,1143.9 843.3,1144.6 869.9,1149.9 889.9,1151.9 904.6,1151.3 917.9,1157.9 936.5,1163.3 954,1165.3" fill="none" stroke="#DC143C" stroke-width="5.6" stroke-linejoin="round" stroke-linecap="butt" clip-path="url(#ca5)"/><polyline points="89.5,1132 106,1119.3 115.1,1123.2 126.9,1135 143.9,1140.2 163.6,1138.9 179.3,1128.5 196.3,1133.7 209.4,1132.4 223.8,1137.6 242.2,1146.8 261.8,1148.1 281.5,1149.4 301.1,1151.4 320.8,1157.3 330,1155.3 337.5,1157.8 348.8,1150.2 358.8,1130.2 368.8,1110.2 377.6,1095.1 387.6,1093.3 400.1,1095.1 410.1,1100.2 418.9,1110.2 427.7,1107.7 436.4,1097.6 446.5,1090.1 459,1083.9 470.3,1076.4 482.8,1070.1 492.8,1061.3 505.3,1065.1 516.6,1071.3 520,1071 526.6,1087.5 534.1,1097.5 543.2,1087.5 551.5,1084.2 566.4,1092.5 576.3,1107.4 586.2,1119 599.5,1126.5 609.4,1122.3 616,1094.2 622.6,1056.1 632.6,1034.6 645.8,1035.4 657.4,1038.7 665.7,1031.3 674,1013 682.3,996.5 690.5,988.2 698.8,990.7 707.1,1006.4 714,1026 722,1048.6 731.3,1060.6 740.6,1068.6 750,1087.3 763.3,1108.6 776.6,1116.6 790,1124.6 803.3,1133.9 816.6,1143.3 836.6,1137.9 849.9,1141.9 863.3,1152.6 883.2,1147.3 896.6,1149.9 923.2,1160.6 954,1164.6" fill="none" stroke="#FFA07A" stroke-width="5.6" stroke-linejoin="round" stroke-linecap="butt" clip-path="url(#ca5)"/><polyline points="89.5,1143.5 104.6,1136.3 111.2,1138.9 123,1147.5 134.8,1146.8 150.5,1142.2 166.2,1146.8 184.5,1144.2 202.9,1146.8 222.5,1151.4 235.6,1153.3 248.7,1144.2 268.4,1138.9 285.4,1137.6 302.4,1123.2 312.9,1126.5 327.3,1129.8 330,1130.2 342.5,1140.2 352.5,1146.5 361.3,1144 368.8,1132.7 376.3,1107.7 383.9,1091.4 392.6,1087.6 405.1,1090.1 412.7,1095.1 422.7,1106.4 433.9,1110.2 440.2,1105.2 449,1090.1 459,1072.6 467.8,1062 477.8,1057.6 492.8,1055.7 502.8,1062 510.3,1077.6 520,1098.3 528.3,1105.8 538.2,1110.7 553.1,1119 566.4,1119.8 576.3,1121.5 584.6,1112.4 589.5,1095.8 599.5,1091.7 609.4,1104.1 622.6,1107.4 639.2,1122.3 660.7,1127.3 682.3,1129.8 698.8,1122.3 710,1123.3 723.3,1127.9 731.3,1128.6 739.3,1119.3 746,1103.3 752.6,1088.6 763.3,1082.6 774,1088.6 783.3,1099.3 792.6,1115.3 810,1132.6 824.6,1135.3 837.9,1123.9 848.6,1129.9 860.6,1140.6 877.9,1146.6 887.2,1149.9 899.2,1159.3 912.6,1157.3 929.9,1161.9 954,1163.9" fill="none" stroke="#FF7F50" stroke-width="5.6" stroke-linejoin="round" stroke-linecap="butt" clip-path="url(#ca5)"/><polyline points="89.5,1155 104.6,1146.8 119,1136.3 130.8,1131.1 142.6,1136.3 154.4,1142.9 170.1,1138.9 187.2,1141.6 206.8,1144.2 221.2,1141.6 229.1,1145.5 239.5,1151.4 255.3,1149.4 274.9,1144.2 288,1145.5 305,1156 319.4,1165.1 331.2,1158.6 342.5,1149 351.3,1132.7 358.8,1101.4 367.6,1061.3 377.6,1041.3 385.1,1047.6 393.9,1066.3 402.6,1076.4 415.2,1082.6 425.2,1092.6 435.2,1103.9 442.7,1111.4 451.5,1111.4 460.2,1101.4 467.8,1093.9 477.8,1098.9 492.8,1096.4 499.1,1107.7 507.8,1132.7 517.9,1149 520,1148.8 533.2,1157.1 543.2,1152.1 556.4,1128.9 569.7,1109.1 582.9,1098.3 591.2,1102.5 601.1,1109.9 609.4,1102.5 617.7,1079.3 626,1062.7 640.9,1046.2 650.8,1029.6 657.4,1026.3 667.4,1044.5 675.6,1060.2 682.3,1063.5 695.5,1049.5 707.1,1037.1 715.3,1028.7 723.3,1036.7 731.3,1060.6 739.3,1082 748.6,1092.6 763.3,1097.3 780.6,1103.3 798,1119.3 816.6,1133.9 836.6,1145.9 856.6,1147.3 868.6,1153.9 880.6,1165.9 896.6,1167.3 923.2,1166.6 954,1165.9" fill="none" stroke="#FF4500" stroke-width="5.6" stroke-linejoin="round" stroke-linecap="butt" clip-path="url(#ca5)"/><polyline points="1118.4,1153 1141.2,1156.5 1164.7,1162.8 1180.3,1158.1 1200.6,1148.7 1219.3,1150.3 1242.8,1147.2 1266.2,1144 1289.6,1145.6 1302.1,1155 1316.1,1162.8 1336.5,1154.2 1352.1,1150.3 1367.7,1153.4 1388,1150.3 1400,1156.4 1411.4,1148.8 1424.7,1110.8 1434.2,1057.7 1443.7,1006.4 1453.2,960.9 1464.5,951.4 1472.1,960.9 1479.7,968.5 1489.2,960.9 1496.8,952.3 1506.3,957.1 1513.9,972.3 1523.4,984.6 1532.9,995 1546.2,999.8 1555.7,1008.3 1567,1029.2 1578.4,1057.7 1589.8,1082.4 1599.3,1109 1608.8,1135.5 1621.5,1136 1632,1129.3 1641.6,1127.4 1653.1,1132.2 1663.6,1137 1677,1142.7 1686.6,1140.8 1693.3,1132.2 1700.9,1116.9 1710.5,1109.2 1720.1,1107.3 1729.7,1112.1 1739.2,1121.7 1748.8,1131.3 1763.2,1137 1772.7,1140.8 1784.2,1144.7 1791.9,1152.3 1800,1159 1819.5,1166.8 1839.1,1166.8 1868.6,1165.8 1898,1163.9 1917.7,1155 1932.4,1144.2 1947.2,1149.1 1964.9,1155 1983,1153" fill="none" stroke="#FF6347" stroke-width="5.6" stroke-linejoin="round" stroke-linecap="butt" clip-path="url(#cb5)"/><polyline points="1118.4,1148 1133.4,1147.2 1150.6,1139.3 1166.2,1147.2 1185,1137.8 1192.8,1137 1211.5,1151.8 1231.8,1148.7 1256.8,1156.5 1274,1145.6 1289.6,1151.8 1305.2,1131.5 1316.1,1133.1 1328.6,1144 1344.3,1150.3 1367.7,1162.8 1391.1,1165.1 1403.6,1169 1415.2,1160.2 1424.7,1139.3 1434.2,1091.9 1441.8,1038.7 1447.5,1008.3 1457,1005.5 1466.4,1015.9 1479.7,1034.9 1491.1,1042.5 1500.6,1038.7 1510.1,1027.3 1521.5,1013.1 1536.7,1012.1 1548.1,1019.7 1557.6,1034.9 1567,1071 1576.5,1097.6 1589.8,1108.9 1608.8,1110.8 1619.6,1103.5 1629.1,1107.8 1641.6,1111.2 1654,1112.1 1663.6,1123.6 1673.2,1136 1686.6,1145.6 1700.9,1142.7 1710.5,1146.6 1720.1,1152.3 1730.6,1146.6 1742.1,1145.6 1751.7,1153.3 1763.2,1155.2 1777.5,1153.3 1790,1146.2 1804.7,1145.2 1829.3,1146.2 1837.2,1149.1 1848.9,1158.9 1863.7,1164.3 1878.4,1161.9 1893.1,1158.9 1907.9,1153 1925.6,1144.2 1942.3,1151.1 1957,1144.2 1966.8,1146.2 1983,1155" fill="none" stroke="#DC143C" stroke-width="5.6" stroke-linejoin="round" stroke-linecap="butt" clip-path="url(#cb5)"/><polyline points="1118.4,1109 1120.2,1111.2 1128.7,1119 1138.1,1134.7 1149,1145.6 1164.7,1150.3 1180.3,1145.6 1199,1137.8 1211.5,1147.2 1227.1,1162.8 1242.8,1158.1 1258.4,1147.2 1274,1142.5 1289.6,1144 1305.2,1145.6 1320.8,1148.7 1336.5,1142.5 1352.1,1145.6 1367.7,1151.8 1375.5,1156.5 1391.1,1150.3 1400,1158.3 1411.4,1152.6 1422.8,1137.4 1434.2,1110.8 1447.5,1107 1457,1093.8 1464.5,1067.2 1472.1,1045.4 1479.7,1055.8 1489.2,1063.4 1498.7,1050.1 1508.2,1036.8 1519.6,1040.6 1532.9,1039.7 1548.1,1045.4 1561.4,1038.7 1570.8,1031.1 1582.2,1036.8 1593.6,1050.1 1605,1063.4 1614.8,1085.3 1619.6,1100.6 1625.3,1116 1629.1,1129.3 1636.8,1141.8 1644.5,1145.6 1654,1138.9 1662.6,1127.4 1673.2,1113.1 1684.7,1107.3 1694.2,1110.2 1701.9,1118.8 1711.5,1123.6 1724.9,1131.3 1735.4,1129.3 1745.9,1137 1758.4,1142.7 1772.7,1146.6 1787.1,1153.3 1809.6,1155 1829.3,1159.9 1848.9,1162.9 1868.6,1163.9 1888.2,1162.9 1907.9,1160.9 1927.5,1156 1947.2,1149.1 1966.8,1141.3 1983,1149.1" fill="none" stroke="#FFA07A" stroke-width="5.6" stroke-linejoin="round" stroke-linecap="butt" clip-path="url(#cb5)"/><polyline points="1118.4,1158 1141.2,1161.2 1164.7,1165.1 1180.3,1161.2 1203.7,1148.7 1227.1,1145.6 1250.6,1148.7 1266.2,1142.5 1278.7,1130 1291.2,1122.2 1305.2,1133.1 1313,1139.3 1328.6,1142.5 1344.3,1137.8 1366.1,1119.8 1375.5,1121.4 1389.6,1139.3 1400,1137.4 1409.5,1133.6 1420.9,1137.4 1432.3,1131.7 1439.9,1101.4 1447.5,1053.9 1455,1012.1 1464.5,979.9 1472.1,980.8 1483.5,991.3 1493,993.2 1502.5,983.7 1513.9,972.3 1523.4,983.7 1531,1008.3 1540.5,1038.7 1551.9,1057.7 1565.2,1080.5 1580.3,1099.5 1599.3,1118.4 1610,1136 1619.6,1129.3 1629.1,1119.8 1640.6,1114 1654,1115.9 1667.4,1117.9 1678.9,1121.7 1686.6,1127.4 1696.1,1124.6 1701.9,1120.7 1711.5,1119.8 1720.1,1127.4 1727.7,1138.9 1735.4,1146.6 1744,1138.9 1753.6,1135.1 1765.1,1138.9 1777.5,1142.7 1790,1150 1809.6,1155 1829.3,1158.9 1848.9,1160.9 1868.6,1157 1883.3,1155 1907.9,1158 1925.6,1151.1 1942.3,1153 1961.9,1158 1983,1159.9" fill="none" stroke="#FF7F50" stroke-width="5.6" stroke-linejoin="round" stroke-linecap="butt" clip-path="url(#cb5)"/><polyline points="1118.4,1130 1120.2,1131.5 1133.4,1144 1149,1151.8 1167.8,1151.8 1183.4,1145.6 1203.7,1148.7 1227.1,1153.4 1250.6,1147.2 1270.9,1140.1 1284.9,1142.5 1297.4,1144 1316.1,1159.7 1325.5,1158.1 1339.6,1136.2 1359.9,1141.7 1373.9,1145.6 1388,1156.5 1398.9,1158.9 1407.6,1137.4 1415.2,1108.9 1422.8,1071 1430.4,1038.7 1439.9,1036.8 1447.5,1055.8 1455,1065.3 1464.5,1053.9 1475.9,1048.2 1481.6,1042.5 1489.2,1017.8 1496.8,1003.6 1506.3,1017.8 1513.9,1036.8 1523.4,1052 1532.9,1074.8 1542.4,1103.3 1553.8,1135.5 1563.3,1138.4 1570.8,1122.2 1580.3,1110.8 1589.8,1120.3 1599.3,1127.9 1610,1123.6 1619.6,1110.2 1629.1,1102.5 1637.8,1112.1 1645.4,1120.7 1654,1115 1661.7,1104.9 1669.3,1103.5 1678.9,1111.2 1688.5,1119.8 1696.1,1129.3 1701.9,1130.3 1710.5,1127.4 1720.1,1135.1 1729.7,1138 1739.2,1138.9 1748.8,1143.7 1763.2,1153.3 1777.5,1160.9 1790,1162.9 1809.6,1158 1829.3,1162.9 1848.9,1166.8 1868.6,1167.8 1893.1,1165.8 1912.8,1165.8 1937.3,1158.9 1957,1162.9 1983,1163.9" fill="none" stroke="#FF4500" stroke-width="5.6" stroke-linejoin="round" stroke-linecap="butt" clip-path="url(#cb5)"/><path d="M89.5 372.4V620.9H954.5" fill="none" stroke="#000" stroke-width="2.6" stroke-linejoin="miter" stroke-linecap="square"/><path d="M89.5 646.4V895.4H954.5" fill="none" stroke="#000" stroke-width="2.6" stroke-linejoin="miter" stroke-linecap="square"/><path d="M89.5 922.2V1170.4H954.5" fill="none" stroke="#000" stroke-width="2.6" stroke-linejoin="miter" stroke-linecap="square"/><path d="M1118.4 372.4V620.9H1983.5" fill="none" stroke="#000" stroke-width="2.6" stroke-linejoin="miter" stroke-linecap="square"/><path d="M1118.4 646.4V895.4H1983.5" fill="none" stroke="#000" stroke-width="2.6" stroke-linejoin="miter" stroke-linecap="square"/><path d="M1118.4 922.2V1170.4H1983.5" fill="none" stroke="#000" stroke-width="2.6" stroke-linejoin="miter" stroke-linecap="square"/><line x1="836" y1="399" x2="879.5" y2="399" stroke="#4C72B0" stroke-width="5.6" stroke-linecap="round"/><line x1="836" y1="430" x2="879.5" y2="430" stroke="#DD8452" stroke-width="5.6" stroke-linecap="round"/><line x1="1864.9" y1="399" x2="1908.4" y2="399" stroke="#4C72B0" stroke-width="5.6" stroke-linecap="round"/><line x1="1864.9" y1="430" x2="1908.4" y2="430" stroke="#DD8452" stroke-width="5.6" stroke-linecap="round"/><text x="896.8" y="406.7" text-anchor="start" style="font-family:'DejaVu Sans','Liberation Sans',sans-serif;font-size:21.33px">wet</text><text x="896.8" y="437.8" text-anchor="start" style="font-family:'DejaVu Sans','Liberation Sans',sans-serif;font-size:21.33px">wit</text><text x="70" y="225.1" text-anchor="end" style="font-family:'DejaVu Sans','Liberation Sans',sans-serif;font-size:21.33px">30</text><text x="70" y="352.1" text-anchor="end" style="font-family:'DejaVu Sans','Liberation Sans',sans-serif;font-size:21.33px">60</text><text transform="translate(31.7,222) rotate(-90)" text-anchor="middle" style="font-family:'DejaVu Sans','Liberation Sans',sans-serif;font-size:23.4px">Trials</text><text transform="translate(17.5,1045.2) rotate(-90)" text-anchor="middle" style="font-family:'DejaVu Sans','Liberation Sans',sans-serif;font-size:23.4px">Firing rate (Hz)</text><text x="70" y="629" text-anchor="end" style="font-family:'DejaVu Sans','Liberation Sans',sans-serif;font-size:21.33px">0</text><text x="70" y="538.4" text-anchor="end" style="font-family:'DejaVu Sans','Liberation Sans',sans-serif;font-size:21.33px">200</text><text x="70" y="447.8" text-anchor="end" style="font-family:'DejaVu Sans','Liberation Sans',sans-serif;font-size:21.33px">400</text><text x="70" y="903.5" text-anchor="end" style="font-family:'DejaVu Sans','Liberation Sans',sans-serif;font-size:21.33px">0</text><text x="70" y="812.9" text-anchor="end" style="font-family:'DejaVu Sans','Liberation Sans',sans-serif;font-size:21.33px">200</text><text x="70" y="722.3" text-anchor="end" style="font-family:'DejaVu Sans','Liberation Sans',sans-serif;font-size:21.33px">400</text><text x="70" y="1178.5" text-anchor="end" style="font-family:'DejaVu Sans','Liberation Sans',sans-serif;font-size:21.33px">0</text><text x="70" y="1087.9" text-anchor="end" style="font-family:'DejaVu Sans','Liberation Sans',sans-serif;font-size:21.33px">200</text><text x="70" y="997.3" text-anchor="end" style="font-family:'DejaVu Sans','Liberation Sans',sans-serif;font-size:21.33px">400</text><text x="171.8" y="1205.4" text-anchor="middle" style="font-family:'DejaVu Sans','Liberation Sans',sans-serif;font-size:21.33px">-200</text><text x="336.5" y="1205.4" text-anchor="middle" style="font-family:'DejaVu Sans','Liberation Sans',sans-serif;font-size:21.33px">0</text><text x="501.2" y="1205.4" text-anchor="middle" style="font-family:'DejaVu Sans','Liberation Sans',sans-serif;font-size:21.33px">200</text><text x="665.9" y="1205.4" text-anchor="middle" style="font-family:'DejaVu Sans','Liberation Sans',sans-serif;font-size:21.33px">400</text><text x="830.6" y="1205.4" text-anchor="middle" style="font-family:'DejaVu Sans','Liberation Sans',sans-serif;font-size:21.33px">600</text><text x="520.7" y="1234.9" text-anchor="middle" style="font-family:'DejaVu Sans','Liberation Sans',sans-serif;font-size:23.4px">Time (ms)</text><text x="1925.7" y="406.7" text-anchor="start" style="font-family:'DejaVu Sans','Liberation Sans',sans-serif;font-size:21.33px">wet</text><text x="1925.7" y="437.8" text-anchor="start" style="font-family:'DejaVu Sans','Liberation Sans',sans-serif;font-size:21.33px">wit</text><text x="1098.9" y="225.1" text-anchor="end" style="font-family:'DejaVu Sans','Liberation Sans',sans-serif;font-size:21.33px">30</text><text x="1098.9" y="352.1" text-anchor="end" style="font-family:'DejaVu Sans','Liberation Sans',sans-serif;font-size:21.33px">60</text><text transform="translate(1060.6,222) rotate(-90)" text-anchor="middle" style="font-family:'DejaVu Sans','Liberation Sans',sans-serif;font-size:23.4px">Trials</text><text transform="translate(1046.4,1045.2) rotate(-90)" text-anchor="middle" style="font-family:'DejaVu Sans','Liberation Sans',sans-serif;font-size:23.4px">Firing rate (Hz)</text><text x="1098.9" y="629" text-anchor="end" style="font-family:'DejaVu Sans','Liberation Sans',sans-serif;font-size:21.33px">0</text><text x="1098.9" y="538.4" text-anchor="end" style="font-family:'DejaVu Sans','Liberation Sans',sans-serif;font-size:21.33px">200</text><text x="1098.9" y="447.8" text-anchor="end" style="font-family:'DejaVu Sans','Liberation Sans',sans-serif;font-size:21.33px">400</text><text x="1098.9" y="903.5" text-anchor="end" style="font-family:'DejaVu Sans','Liberation Sans',sans-serif;font-size:21.33px">0</text><text x="1098.9" y="812.9" text-anchor="end" style="font-family:'DejaVu Sans','Liberation Sans',sans-serif;font-size:21.33px">200</text><text x="1098.9" y="722.3" text-anchor="end" style="font-family:'DejaVu Sans','Liberation Sans',sans-serif;font-size:21.33px">400</text><text x="1098.9" y="1178.5" text-anchor="end" style="font-family:'DejaVu Sans','Liberation Sans',sans-serif;font-size:21.33px">0</text><text x="1098.9" y="1087.9" text-anchor="end" style="font-family:'DejaVu Sans','Liberation Sans',sans-serif;font-size:21.33px">200</text><text x="1098.9" y="997.3" text-anchor="end" style="font-family:'DejaVu Sans','Liberation Sans',sans-serif;font-size:21.33px">400</text><text x="1200.7" y="1205.4" text-anchor="middle" style="font-family:'DejaVu Sans','Liberation Sans',sans-serif;font-size:21.33px">-200</text><text x="1365.4" y="1205.4" text-anchor="middle" style="font-family:'DejaVu Sans','Liberation Sans',sans-serif;font-size:21.33px">0</text><text x="1530.1" y="1205.4" text-anchor="middle" style="font-family:'DejaVu Sans','Liberation Sans',sans-serif;font-size:21.33px">200</text><text x="1694.8" y="1205.4" text-anchor="middle" style="font-family:'DejaVu Sans','Liberation Sans',sans-serif;font-size:21.33px">400</text><text x="1859.5" y="1205.4" text-anchor="middle" style="font-family:'DejaVu Sans','Liberation Sans',sans-serif;font-size:21.33px">600</text><text x="1549.6" y="1234.9" text-anchor="middle" style="font-family:'DejaVu Sans','Liberation Sans',sans-serif;font-size:23.4px">Time (ms)</text><text x="17.3" y="121.6" text-anchor="start" style="font-family:'Liberation Sans',Arial,sans-serif;font-weight:bold;font-size:40.5px">a</text><text x="1046" y="114.8" text-anchor="start" style="font-family:'Liberation Sans',Arial,sans-serif;font-weight:bold;font-size:42px">b</text></svg></body></html>
